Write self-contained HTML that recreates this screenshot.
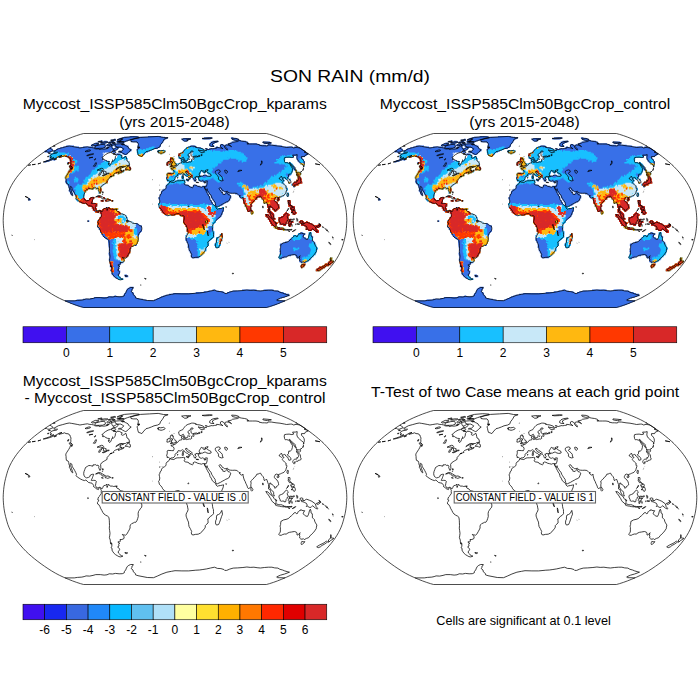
<!DOCTYPE html><html><head><meta charset="utf-8"><title>SON RAIN</title><style>html,body{margin:0;padding:0;background:#fff}svg{display:block}text{font-family:"Liberation Sans",sans-serif;fill:#000}</style></head><body>
<svg width="700" height="700" viewBox="0 0 700 700">
<rect width="700" height="700" fill="#fff"/>
<text x="350" y="81.7" font-size="16.8" text-anchor="middle" textLength="160" lengthAdjust="spacingAndGlyphs">SON RAIN (mm/d)</text>
<text x="174.75" y="109.25" font-size="14" text-anchor="middle" textLength="304" lengthAdjust="spacingAndGlyphs">Myccost_ISSP585Clm50BgcCrop_kparams</text>
<text x="174.5" y="126.75" font-size="14" text-anchor="middle" textLength="110.5" lengthAdjust="spacingAndGlyphs">(yrs 2015-2048)</text>
<text x="525" y="109.25" font-size="14" text-anchor="middle" textLength="290.5" lengthAdjust="spacingAndGlyphs">Myccost_ISSP585Clm50BgcCrop_control</text>
<text x="524.5" y="126.75" font-size="14" text-anchor="middle" textLength="110.5" lengthAdjust="spacingAndGlyphs">(yrs 2015-2048)</text>
<text x="174.75" y="386.25" font-size="14" text-anchor="middle" textLength="304" lengthAdjust="spacingAndGlyphs">Myccost_ISSP585Clm50BgcCrop_kparams</text>
<text x="175" y="403" font-size="14" text-anchor="middle" textLength="301" lengthAdjust="spacingAndGlyphs">- Myccost_ISSP585Clm50BgcCrop_control</text>
<text x="525.1" y="396.5" font-size="14" text-anchor="middle" textLength="308" lengthAdjust="spacingAndGlyphs">T-Test of two Case means at each grid point</text>
<text x="523.5" y="625.3" font-size="12.4" text-anchor="middle" textLength="174.5" lengthAdjust="spacingAndGlyphs">Cells are significant at 0.1 level</text>
<g transform="translate(0 0)">
<g><path fill="#3870E8" d="M82.9 306.9h184.3v1.0h-184.3zM81.7 306.5h186.6v1.0h-186.6zM80.4 306.1h189.1v1.1h-189.1zM79.1 305.7h191.7v1.1h-191.7zM77.7 305.2h194.5v1.2h-194.5zM76.3 304.7h197.4v1.2h-197.4zM74.8 304.2h200.4v1.2h-200.4zM73.3 303.6h203.5v1.3h-203.5zM71.7 303.0h206.7v1.3h-206.7zM70.0 302.3h209.9v1.4h-209.9zM68.4 301.6h213.2v1.4h-213.2zM66.7 300.9h216.6v1.4h-216.6zM65.0 300.2h220.0v1.4h-220.0zM76.5 299.5h70.0v1.5h-70.0zM153.9 299.5h123.5v1.5h-123.5zM82.9 298.7h60.1v1.5h-60.1zM156.0 298.7h122.2v1.5h-122.2zM90.3 297.9h49.0v1.5h-49.0zM157.3 297.9h122.3v1.5h-122.3zM94.0 297.1h42.3v1.5h-42.3zM159.5 297.1h122.4v1.5h-122.4zM107.7 296.3h28.2v1.5h-28.2zM160.9 296.3h124.0v1.5h-124.0zM114.3 295.5h2.0v1.5h-2.0zM122.6 295.5h12.7v1.5h-12.7zM163.2 295.5h123.9v1.5h-123.9zM123.6 294.7h11.2v1.5h-11.2zM165.6 294.7h123.7v1.5h-123.7zM123.9 293.8h9.6v1.5h-9.6zM168.9 293.8h120.1v1.5h-120.1zM124.2 293.0h9.7v1.5h-9.7zM173.1 293.0h112.8v1.5h-112.8zM125.4 292.1h8.1v1.6h-8.1zM195.7 292.1h29.0v1.6h-29.0zM227.0 292.1h56.7v1.6h-56.7zM125.7 291.3h6.4v1.6h-6.4zM203.8 291.3h19.6v1.6h-19.6zM229.3 291.3h51.2v1.6h-51.2zM126.1 290.4h5.6v1.6h-5.6zM208.5 290.4h10.1v1.6h-10.1zM232.5 290.4h46.4v1.6h-46.4zM126.5 289.5h5.7v1.6h-5.7zM212.5 289.5h3.0v1.6h-3.0zM242.0 289.5h14.6v1.6h-14.6zM263.5 289.5h10.2v1.6h-10.2zM126.9 288.6h5.7v1.6h-5.7zM128.2 287.7h4.9v1.6h-4.9zM129.6 286.8h4.0v1.6h-4.0zM118.0 278.4h5.3v1.7h-5.3zM116.5 277.4h4.3v1.7h-4.3zM115.1 276.5h5.4v1.7h-5.4zM113.6 275.5h5.4v1.7h-5.4zM124.9 275.5h3.4v1.7h-3.4zM113.2 274.5h5.4v1.7h-5.4zM124.5 274.5h2.4v1.7h-2.4zM111.8 273.6h7.5v1.7h-7.5zM111.3 272.6h8.6v1.7h-8.6zM112.0 271.6h7.6v1.7h-7.6zM111.6 270.6h8.7v1.7h-8.7zM110.2 269.6h8.8v1.7h-8.8zM315.8 269.6h4.5v1.7h-4.5zM110.9 268.6h7.8v1.7h-7.8zM316.7 268.6h4.6v1.7h-4.6zM111.6 267.6h7.8v1.7h-7.8zM318.5 267.6h4.6v1.7h-4.6zM111.2 266.6h7.8v1.7h-7.8zM301.0 266.6h1.4v1.7h-1.4zM319.3 266.6h5.7v1.7h-5.7zM109.8 265.6h10.1v1.7h-10.1zM300.6 265.6h3.6v1.7h-3.6zM322.3 265.6h3.6v1.7h-3.6zM110.6 264.6h7.9v1.7h-7.9zM301.2 264.6h3.6v1.7h-3.6zM324.1 264.6h4.7v1.7h-4.7zM110.2 263.6h10.2v1.7h-10.2zM301.9 263.6h3.6v1.7h-3.6zM324.9 263.6h5.8v1.7h-5.8zM109.9 262.6h11.3v1.7h-11.3zM327.8 262.6h3.6v1.7h-3.6zM109.6 261.6h13.6v1.7h-13.6zM300.9 261.6h1.4v1.7h-1.4zM303.1 261.6h2.5v1.7h-2.5zM328.5 261.6h4.7v1.7h-4.7zM109.3 260.6h14.7v1.7h-14.7zM299.2 260.6h8.1v1.7h-8.1zM329.2 260.6h4.7v1.7h-4.7zM109.1 259.6h15.9v1.7h-15.9zM299.7 259.6h9.2v1.7h-9.2zM329.8 259.6h2.5v1.7h-2.5zM108.8 258.6h16.0v1.7h-16.0zM299.1 258.6h11.5v1.7h-11.5zM329.4 258.6h2.5v1.7h-2.5zM109.7 257.6h13.8v1.7h-13.8zM279.4 257.6h2.5v1.7h-2.5zM298.5 257.6h12.7v1.7h-12.7zM330.0 257.6h2.5v1.7h-2.5zM109.4 256.6h17.2v1.7h-17.2zM191.8 256.6h7.1v1.7h-7.1zM278.6 256.6h5.9v1.7h-5.9zM296.7 256.6h15.0v1.7h-15.0zM109.2 255.5h18.4v1.7h-18.4zM190.7 255.5h9.4v1.7h-9.4zM279.0 255.5h8.2v1.7h-8.2zM296.0 255.5h17.3v1.7h-17.3zM108.9 254.5h19.6v1.7h-19.6zM190.8 254.5h10.5v1.7h-10.5zM279.4 254.5h11.7v1.7h-11.7zM295.3 254.5h18.5v1.7h-18.5zM108.7 253.5h19.7v1.7h-19.7zM190.8 253.5h11.7v1.7h-11.7zM279.7 253.5h35.6v1.7h-35.6zM108.5 252.5h20.9v1.7h-20.9zM190.9 252.5h12.9v1.7h-12.9zM280.1 252.5h35.8v1.7h-35.8zM109.5 251.5h20.9v1.7h-20.9zM189.8 251.5h15.2v1.7h-15.2zM280.4 251.5h35.9v1.7h-35.9zM109.3 250.5h21.0v1.7h-21.0zM189.8 250.5h15.3v1.7h-15.3zM279.5 250.5h37.1v1.7h-37.1zM109.1 249.5h21.1v1.7h-21.1zM188.7 249.5h17.6v1.7h-17.6zM279.8 249.5h37.2v1.7h-37.2zM109.0 248.5h21.1v1.7h-21.1zM188.7 248.5h17.6v1.7h-17.6zM280.1 248.5h37.3v1.7h-37.3zM108.8 247.5h22.3v1.7h-22.3zM188.8 247.5h17.7v1.7h-17.7zM280.3 247.5h37.4v1.7h-37.4zM108.7 246.4h22.4v1.7h-22.4zM187.6 246.4h18.9v1.7h-18.9zM215.5 246.4h3.8v1.7h-3.8zM280.5 246.4h36.3v1.7h-36.3zM108.5 245.4h24.7v1.7h-24.7zM187.6 245.4h20.1v1.7h-20.1zM215.6 245.4h3.8v1.7h-3.8zM280.7 245.4h35.2v1.7h-35.2zM108.4 244.4h28.3v1.7h-28.3zM187.7 244.4h21.3v1.7h-21.3zM214.5 244.4h6.1v1.7h-6.1zM279.8 244.4h36.4v1.7h-36.4zM108.3 243.4h28.3v1.7h-28.3zM187.7 243.4h21.3v1.7h-21.3zM214.6 243.4h6.1v1.7h-6.1zM279.9 243.4h35.3v1.7h-35.3zM108.2 242.4h29.5v1.7h-29.5zM187.7 242.4h21.4v1.7h-21.4zM215.8 242.4h5.0v1.7h-5.0zM282.5 242.4h33.0v1.7h-33.0zM108.1 241.4h29.6v1.7h-29.6zM186.6 241.4h21.4v1.7h-21.4zM215.9 241.4h5.0v1.7h-5.0zM285.0 241.4h29.6v1.7h-29.6zM108.0 240.4h30.8v1.7h-30.8zM186.6 240.4h22.6v1.7h-22.6zM215.9 240.4h6.2v1.7h-6.2zM288.7 240.4h24.9v1.7h-24.9zM107.9 239.4h30.9v1.7h-30.9zM185.4 239.4h25.0v1.7h-25.0zM216.0 239.4h6.2v1.7h-6.2zM288.8 239.4h23.8v1.7h-23.8zM106.6 238.4h32.1v1.7h-32.1zM185.4 238.4h26.2v1.7h-26.2zM216.0 238.4h6.2v1.7h-6.2zM290.2 238.4h22.7v1.7h-22.7zM105.3 237.3h33.3v1.7h-33.3zM185.5 237.3h27.4v1.7h-27.4zM216.1 237.3h6.2v1.7h-6.2zM291.5 237.3h14.4v1.7h-14.4zM308.0 237.3h5.0v1.7h-5.0zM104.0 236.3h34.5v1.7h-34.5zM185.5 236.3h28.6v1.7h-28.6zM218.5 236.3h3.8v1.7h-3.8zM292.9 236.3h10.9v1.7h-10.9zM308.2 236.3h5.0v1.7h-5.0zM102.8 235.3h35.8v1.7h-35.8zM185.5 235.3h28.7v1.7h-28.7zM219.8 235.3h2.7v1.7h-2.7zM293.0 235.3h10.9v1.7h-10.9zM308.4 235.3h3.8v1.7h-3.8zM102.7 234.3h35.8v1.7h-35.8zM186.7 234.3h27.5v1.7h-27.5zM219.8 234.3h2.7v1.7h-2.7zM297.9 234.3h6.2v1.7h-6.2zM308.6 234.3h2.7v1.7h-2.7zM101.4 233.3h38.2v1.7h-38.2zM186.7 233.3h27.5v1.7h-27.5zM221.0 233.3h1.5v1.7h-1.5zM298.0 233.3h7.4v1.7h-7.4zM308.7 233.3h2.7v1.7h-2.7zM101.3 232.3h38.2v1.7h-38.2zM187.9 232.3h26.4v1.7h-26.4zM300.5 232.3h2.7v1.7h-2.7zM308.8 232.3h2.7v1.7h-2.7zM100.1 231.3h40.6v1.7h-40.6zM187.9 231.3h26.4v1.7h-26.4zM316.1 231.3h2.7v1.7h-2.7zM100.0 230.3h41.9v1.7h-41.9zM186.7 230.3h26.4v1.7h-26.4zM315.0 230.3h3.9v1.7h-3.9zM100.0 229.3h41.9v1.7h-41.9zM186.7 229.3h26.4v1.7h-26.4zM283.0 229.3h1.5v1.7h-1.5zM308.0 229.3h3.9v1.7h-3.9zM313.9 229.3h3.9v1.7h-3.9zM98.7 228.2h43.1v1.7h-43.1zM186.7 228.2h26.5v1.7h-26.5zM277.1 228.2h7.4v1.7h-7.4zM305.7 228.2h11.0v1.7h-11.0zM98.7 227.2h43.1v1.7h-43.1zM186.8 227.2h26.5v1.7h-26.5zM274.8 227.2h5.1v1.7h-5.1zM282.0 227.2h1.5v1.7h-1.5zM307.0 227.2h9.8v1.7h-9.8zM97.5 226.2h44.4v1.7h-44.4zM186.8 226.2h26.5v1.7h-26.5zM273.7 226.2h3.9v1.7h-3.9zM305.8 226.2h9.8v1.7h-9.8zM316.5 226.2h2.7v1.7h-2.7zM97.4 225.2h44.4v1.7h-44.4zM185.6 225.2h27.7v1.7h-27.7zM273.7 225.2h2.7v1.7h-2.7zM289.2 225.2h1.5v1.7h-1.5zM304.7 225.2h15.8v1.7h-15.8zM97.4 224.2h42.0v1.7h-42.0zM185.6 224.2h27.7v1.7h-27.7zM271.4 224.2h5.1v1.7h-5.1zM283.3 224.2h2.7v1.7h-2.7zM288.1 224.2h2.7v1.7h-2.7zM301.2 224.2h12.2v1.7h-12.2zM317.9 224.2h2.7v1.7h-2.7zM97.4 223.2h40.8v1.7h-40.8zM184.4 223.2h28.9v1.7h-28.9zM271.4 223.2h5.1v1.7h-5.1zM279.8 223.2h6.3v1.7h-6.3zM288.1 223.2h3.9v1.7h-3.9zM301.2 223.2h11.0v1.7h-11.0zM97.3 222.2h36.1v1.7h-36.1zM183.2 222.2h31.3v1.7h-31.3zM270.3 222.2h7.5v1.7h-7.5zM279.8 222.2h7.5v1.7h-7.5zM288.1 222.2h3.9v1.7h-3.9zM300.1 222.2h9.8v1.7h-9.8zM97.3 221.2h34.9v1.7h-34.9zM183.2 221.2h32.5v1.7h-32.5zM270.3 221.2h5.1v1.7h-5.1zM278.6 221.2h8.6v1.7h-8.6zM288.2 221.2h5.1v1.7h-5.1zM298.9 221.2h5.1v1.7h-5.1zM306.1 221.2h1.5v1.7h-1.5zM87.8 220.2h1.5v1.7h-1.5zM97.3 220.2h32.5v1.7h-32.5zM183.2 220.2h32.5v1.7h-32.5zM269.1 220.2h5.1v1.7h-5.1zM278.6 220.2h8.7v1.7h-8.7zM288.2 220.2h1.5v1.7h-1.5zM300.1 220.2h2.7v1.7h-2.7zM98.5 219.1h28.9v1.7h-28.9zM183.2 219.1h33.7v1.7h-33.7zM269.1 219.1h5.1v1.7h-5.1zM278.6 219.1h9.8v1.7h-9.8zM289.4 219.1h1.5v1.7h-1.5zM99.7 218.1h27.7v1.7h-27.7zM183.2 218.1h34.9v1.7h-34.9zM267.9 218.1h7.5v1.7h-7.5zM278.6 218.1h9.8v1.7h-9.8zM99.7 217.1h27.7v1.7h-27.7zM183.2 217.1h36.1v1.7h-36.1zM267.9 217.1h6.3v1.7h-6.3zM278.6 217.1h9.8v1.7h-9.8zM100.9 216.1h25.3v1.7h-25.3zM183.2 216.1h37.3v1.7h-37.3zM266.6 216.1h7.5v1.7h-7.5zM281.0 216.1h7.5v1.7h-7.5zM101.0 215.1h25.3v1.7h-25.3zM180.8 215.1h40.8v1.7h-40.8zM265.4 215.1h3.9v1.7h-3.9zM270.2 215.1h3.9v1.7h-3.9zM283.3 215.1h5.1v1.7h-5.1zM101.0 214.1h24.1v1.7h-24.1zM165.3 214.1h9.8v1.7h-9.8zM179.6 214.1h42.0v1.7h-42.0zM265.4 214.1h3.9v1.7h-3.9zM270.2 214.1h3.9v1.7h-3.9zM283.3 214.1h6.3v1.7h-6.3zM101.0 213.1h21.7v1.7h-21.7zM164.1 213.1h58.6v1.7h-58.6zM251.1 213.1h1.5v1.7h-1.5zM270.1 213.1h3.9v1.7h-3.9zM284.4 213.1h3.9v1.7h-3.9zM292.7 213.1h2.7v1.7h-2.7zM99.9 212.1h20.5v1.7h-20.5zM162.9 212.1h59.8v1.7h-59.8zM251.0 212.1h2.7v1.7h-2.7zM268.9 212.1h3.9v1.7h-3.9zM285.5 212.1h1.5v1.7h-1.5zM292.7 212.1h3.9v1.7h-3.9zM95.2 211.0h3.9v1.7h-3.9zM99.9 211.0h19.3v1.7h-19.3zM161.8 211.0h61.0v1.7h-61.0zM251.0 211.0h2.7v1.7h-2.7zM267.6 211.0h3.9v1.7h-3.9zM291.4 211.0h3.9v1.7h-3.9zM94.0 210.0h7.4v1.7h-7.4zM102.3 210.0h14.6v1.7h-14.6zM161.8 210.0h62.1v1.7h-62.1zM247.4 210.0h2.7v1.7h-2.7zM250.9 210.0h1.5v1.7h-1.5zM267.6 210.0h2.7v1.7h-2.7zM274.7 210.0h1.5v1.7h-1.5zM291.3 210.0h3.9v1.7h-3.9zM92.9 209.0h3.9v1.7h-3.9zM102.4 209.0h14.6v1.7h-14.6zM160.6 209.0h63.2v1.7h-63.2zM247.3 209.0h3.9v1.7h-3.9zM267.5 209.0h2.7v1.7h-2.7zM273.4 209.0h3.9v1.7h-3.9zM291.2 209.0h3.9v1.7h-3.9zM93.0 208.0h3.9v1.7h-3.9zM103.6 208.0h9.8v1.7h-9.8zM114.3 208.0h3.9v1.7h-3.9zM160.6 208.0h63.2v1.7h-63.2zM246.1 208.0h5.0v1.7h-5.0zM268.6 208.0h1.5v1.7h-1.5zM272.2 208.0h6.2v1.7h-6.2zM290.0 208.0h5.0v1.7h-5.0zM91.9 207.0h3.9v1.7h-3.9zM106.1 207.0h1.5v1.7h-1.5zM108.5 207.0h1.5v1.7h-1.5zM159.4 207.0h57.2v1.7h-57.2zM222.3 207.0h1.5v1.7h-1.5zM246.0 207.0h5.0v1.7h-5.0zM268.5 207.0h1.5v1.7h-1.5zM272.1 207.0h7.4v1.7h-7.4zM289.9 207.0h5.0v1.7h-5.0zM91.9 206.0h3.9v1.7h-3.9zM158.3 206.0h59.5v1.7h-59.5zM245.9 206.0h5.0v1.7h-5.0zM267.2 206.0h12.1v1.7h-12.1zM290.9 206.0h3.9v1.7h-3.9zM88.5 205.0h8.6v1.7h-8.6zM158.3 205.0h61.8v1.7h-61.8zM244.7 205.0h7.4v1.7h-7.4zM267.1 205.0h12.1v1.7h-12.1zM288.4 205.0h3.8v1.7h-3.8zM87.4 204.0h9.8v1.7h-9.8zM158.3 204.0h55.8v1.7h-55.8zM215.0 204.0h7.4v1.7h-7.4zM244.6 204.0h7.4v1.7h-7.4zM267.0 204.0h12.1v1.7h-12.1zM288.3 204.0h2.7v1.7h-2.7zM86.3 203.0h10.9v1.7h-10.9zM158.3 203.0h54.6v1.7h-54.6zM215.0 203.0h8.6v1.7h-8.6zM244.5 203.0h7.4v1.7h-7.4zM266.9 203.0h10.9v1.7h-10.9zM288.2 203.0h2.7v1.7h-2.7zM81.7 201.9h10.9v1.7h-10.9zM159.5 201.9h53.3v1.7h-53.3zM214.9 201.9h10.9v1.7h-10.9zM243.2 201.9h9.7v1.7h-9.7zM263.3 201.9h14.4v1.7h-14.4zM288.0 201.9h2.7v1.7h-2.7zM79.5 200.9h13.2v1.7h-13.2zM159.5 200.9h52.1v1.7h-52.1zM213.7 200.9h14.4v1.7h-14.4zM243.1 200.9h10.9v1.7h-10.9zM263.1 200.9h13.2v1.7h-13.2zM287.8 200.9h2.7v1.7h-2.7zM77.3 199.9h15.6v1.7h-15.6zM100.8 199.9h2.7v1.7h-2.7zM105.5 199.9h1.5v1.7h-1.5zM111.4 199.9h1.5v1.7h-1.5zM159.6 199.9h52.0v1.7h-52.0zM213.6 199.9h15.6v1.7h-15.6zM243.0 199.9h12.1v1.7h-12.1zM263.0 199.9h12.1v1.7h-12.1zM277.1 199.9h1.5v1.7h-1.5zM287.7 199.9h2.7v1.7h-2.7zM28.2 198.9h2.6v1.7h-2.6zM76.3 198.9h9.7v1.7h-9.7zM89.2 198.9h3.8v1.7h-3.8zM106.8 198.9h3.8v1.7h-3.8zM159.6 198.9h50.8v1.7h-50.8zM212.4 198.9h17.9v1.7h-17.9zM242.9 198.9h12.0v1.7h-12.0zM262.9 198.9h12.0v1.7h-12.0zM276.9 198.9h2.6v1.7h-2.6zM28.4 197.9h1.5v1.7h-1.5zM75.3 197.9h9.7v1.7h-9.7zM89.3 197.9h3.8v1.7h-3.8zM106.9 197.9h1.5v1.7h-1.5zM158.4 197.9h51.8v1.7h-51.8zM212.3 197.9h17.9v1.7h-17.9zM242.8 197.9h14.4v1.7h-14.4zM261.5 197.9h14.4v1.7h-14.4zM276.8 197.9h2.6v1.7h-2.6zM75.4 196.9h8.5v1.7h-8.5zM90.6 196.9h3.8v1.7h-3.8zM103.5 196.9h1.5v1.7h-1.5zM158.5 196.9h51.8v1.7h-51.8zM211.1 196.9h20.2v1.7h-20.2zM240.3 196.9h16.7v1.7h-16.7zM261.4 196.9h14.3v1.7h-14.3zM277.8 196.9h1.5v1.7h-1.5zM75.6 195.9h8.5v1.7h-8.5zM97.8 195.9h2.6v1.7h-2.6zM159.7 195.9h50.5v1.7h-50.5zM211.0 195.9h20.2v1.7h-20.2zM239.1 195.9h42.3v1.7h-42.3zM75.8 194.9h8.5v1.7h-8.5zM159.7 194.9h49.3v1.7h-49.3zM211.0 194.9h20.1v1.7h-20.1zM239.0 194.9h44.6v1.7h-44.6zM286.8 194.9h1.5v1.7h-1.5zM71.3 193.9h1.5v1.7h-1.5zM74.8 193.9h9.6v1.7h-9.6zM159.7 193.9h49.2v1.7h-49.2zM209.8 193.9h20.1v1.7h-20.1zM237.7 193.9h46.8v1.7h-46.8zM286.5 193.9h2.6v1.7h-2.6zM70.3 192.8h2.6v1.7h-2.6zM73.8 192.8h10.8v1.7h-10.8zM160.9 192.8h46.7v1.7h-46.7zM208.5 192.8h14.2v1.7h-14.2zM224.8 192.8h3.8v1.7h-3.8zM235.2 192.8h50.2v1.7h-50.2zM286.3 192.8h2.6v1.7h-2.6zM70.6 191.8h1.5v1.7h-1.5zM74.0 191.8h10.7v1.7h-10.7zM98.4 191.8h2.6v1.7h-2.6zM160.9 191.8h46.7v1.7h-46.7zM208.5 191.8h14.2v1.7h-14.2zM225.8 191.8h1.5v1.7h-1.5zM228.2 191.8h58.2v1.7h-58.2zM69.6 190.8h2.6v1.7h-2.6zM73.1 190.8h13.0v1.7h-13.0zM98.5 190.8h2.6v1.7h-2.6zM161.0 190.8h60.4v1.7h-60.4zM224.6 190.8h61.6v1.7h-61.6zM68.7 189.8h2.6v1.7h-2.6zM72.2 189.8h14.1v1.7h-14.1zM98.7 189.8h2.6v1.7h-2.6zM162.2 189.8h44.1v1.7h-44.1zM207.1 189.8h14.1v1.7h-14.1zM222.1 189.8h64.9v1.7h-64.9zM69.0 188.8h18.7v1.7h-18.7zM97.8 188.8h3.8v1.7h-3.8zM163.3 188.8h56.7v1.7h-56.7zM220.9 188.8h67.0v1.7h-67.0zM69.3 187.8h1.4v1.7h-1.4zM71.6 187.8h22.1v1.7h-22.1zM95.7 187.8h1.4v1.7h-1.4zM98.0 187.8h3.7v1.7h-3.7zM165.7 187.8h54.2v1.7h-54.2zM220.7 187.8h66.8v1.7h-66.8zM68.5 186.8h32.3v1.7h-32.3zM165.7 186.8h120.4v1.7h-120.4zM68.8 185.8h32.2v1.7h-32.2zM165.7 185.8h24.2v1.7h-24.2zM193.1 185.8h7.1v1.7h-7.1zM202.2 185.8h84.7v1.7h-84.7zM293.4 185.8h1.4v1.7h-1.4zM68.0 184.8h34.4v1.7h-34.4zM165.8 184.8h23.0v1.7h-23.0zM193.0 184.8h3.7v1.7h-3.7zM205.5 184.8h79.8v1.7h-79.8zM293.0 184.8h2.6v1.7h-2.6zM67.3 183.7h36.5v1.7h-36.5zM166.9 183.7h18.4v1.7h-18.4zM206.6 183.7h78.4v1.7h-78.4zM291.5 183.7h7.1v1.7h-7.1zM66.5 182.7h38.7v1.7h-38.7zM168.1 182.7h16.1v1.7h-16.1zM206.4 182.7h77.0v1.7h-77.0zM293.3 182.7h5.9v1.7h-5.9zM65.8 181.7h41.9v1.7h-41.9zM169.2 181.7h16.0v1.7h-16.0zM206.3 181.7h76.7v1.7h-76.7zM288.4 181.7h1.4v1.7h-1.4zM294.0 181.7h8.2v1.7h-8.2zM65.1 180.7h42.8v1.7h-42.8zM169.3 180.7h1.4v1.7h-1.4zM174.8 180.7h10.4v1.7h-10.4zM202.8 180.7h2.5v1.7h-2.5zM206.2 180.7h77.6v1.7h-77.6zM296.9 180.7h4.8v1.7h-4.8zM65.6 179.7h41.6v1.7h-41.6zM167.0 179.7h7.0v1.7h-7.0zM177.1 179.7h8.1v1.7h-8.1zM187.1 179.7h1.4v1.7h-1.4zM193.8 179.7h2.5v1.7h-2.5zM199.4 179.7h85.0v1.7h-85.0zM296.4 179.7h4.8v1.7h-4.8zM66.0 178.7h42.5v1.7h-42.5zM167.1 178.7h8.1v1.7h-8.1zM186.0 178.7h1.4v1.7h-1.4zM193.7 178.7h2.5v1.7h-2.5zM198.2 178.7h82.5v1.7h-82.5zM281.4 178.7h1.4v1.7h-1.4zM289.2 178.7h1.4v1.7h-1.4zM298.1 178.7h3.6v1.7h-3.6zM65.4 177.7h43.4v1.7h-43.4zM166.0 177.7h9.1v1.7h-9.1zM182.6 177.7h1.4v1.7h-1.4zM189.2 177.7h1.4v1.7h-1.4zM192.5 177.7h3.6v1.7h-3.6zM198.1 177.7h82.1v1.7h-82.1zM282.1 177.7h1.4v1.7h-1.4zM285.4 177.7h2.5v1.7h-2.5zM297.6 177.7h3.6v1.7h-3.6zM64.8 176.7h45.4v1.7h-45.4zM166.0 176.7h9.1v1.7h-9.1zM181.5 176.7h2.5v1.7h-2.5zM189.2 176.7h1.4v1.7h-1.4zM192.5 176.7h3.6v1.7h-3.6zM198.0 176.7h82.8v1.7h-82.8zM281.6 176.7h6.9v1.7h-6.9zM298.1 176.7h2.5v1.7h-2.5zM65.3 175.7h46.3v1.7h-46.3zM167.2 175.7h9.1v1.7h-9.1zM181.4 175.7h1.4v1.7h-1.4zM188.0 175.7h101.0v1.7h-101.0zM297.5 175.7h2.5v1.7h-2.5zM65.9 174.7h48.2v1.7h-48.2zM167.2 174.7h11.2v1.7h-11.2zM185.7 174.7h3.6v1.7h-3.6zM191.2 174.7h9.0v1.7h-9.0zM203.2 174.7h3.6v1.7h-3.6zM210.8 174.7h78.8v1.7h-78.8zM296.9 174.7h1.4v1.7h-1.4zM66.5 173.7h48.0v1.7h-48.0zM166.2 173.7h12.2v1.7h-12.2zM184.6 173.7h3.6v1.7h-3.6zM190.0 173.7h10.1v1.7h-10.1zM210.6 173.7h80.5v1.7h-80.5zM296.2 173.7h4.6v1.7h-4.6zM67.0 172.7h47.7v1.7h-47.7zM117.7 172.7h1.4v1.7h-1.4zM167.3 172.7h14.3v1.7h-14.3zM183.5 172.7h3.5v1.7h-3.5zM187.8 172.7h12.2v1.7h-12.2zM208.3 172.7h83.3v1.7h-83.3zM296.7 172.7h4.6v1.7h-4.6zM67.6 171.7h49.6v1.7h-49.6zM118.0 171.7h3.5v1.7h-3.5zM173.8 171.7h12.1v1.7h-12.1zM187.7 171.7h13.2v1.7h-13.2zM203.8 171.7h1.4v1.7h-1.4zM207.0 171.7h85.0v1.7h-85.0zM296.0 171.7h3.5v1.7h-3.5zM68.2 170.7h55.7v1.7h-55.7zM173.8 170.7h27.0v1.7h-27.0zM202.6 170.7h3.5v1.7h-3.5zM206.8 170.7h85.6v1.7h-85.6zM295.3 170.7h1.4v1.7h-1.4zM68.8 169.7h52.2v1.7h-52.2zM122.9 169.7h1.4v1.7h-1.4zM172.7 169.7h33.2v1.7h-33.2zM206.7 169.7h86.2v1.7h-86.2zM295.7 169.7h1.4v1.7h-1.4zM69.5 168.7h50.9v1.7h-50.9zM125.3 168.7h5.6v1.7h-5.6zM171.7 168.7h121.5v1.7h-121.5zM293.9 168.7h1.4v1.7h-1.4zM70.1 167.7h51.6v1.7h-51.6zM125.6 167.7h5.5v1.7h-5.5zM170.7 167.7h121.8v1.7h-121.8zM293.2 167.7h1.3v1.7h-1.3zM69.7 166.7h51.3v1.7h-51.3zM125.9 166.7h4.5v1.7h-4.5zM172.8 166.7h122.1v1.7h-122.1zM69.4 165.8h56.2v1.7h-56.2zM127.3 165.8h2.4v1.7h-2.4zM169.7 165.8h3.4v1.7h-3.4zM174.8 165.8h119.2v1.7h-119.2zM70.1 164.8h59.9v1.7h-59.9zM170.7 164.8h122.6v1.7h-122.6zM303.3 164.8h1.3v1.7h-1.3zM70.8 163.8h38.0v1.7h-38.0zM109.6 163.8h19.7v1.7h-19.7zM166.7 163.8h1.3v1.7h-1.3zM170.8 163.8h6.4v1.7h-6.4zM177.9 163.8h114.6v1.7h-114.6zM302.4 163.8h2.3v1.7h-2.3zM67.5 162.9h1.3v1.7h-1.3zM70.5 162.9h38.8v1.7h-38.8zM112.1 162.9h17.5v1.7h-17.5zM166.7 162.9h1.3v1.7h-1.3zM170.8 162.9h6.4v1.7h-6.4zM177.9 162.9h113.7v1.7h-113.7zM300.4 162.9h4.4v1.7h-4.4zM67.3 161.9h2.3v1.7h-2.3zM70.3 161.9h38.5v1.7h-38.5zM112.5 161.9h17.4v1.7h-17.4zM166.8 161.9h4.3v1.7h-4.3zM171.8 161.9h3.3v1.7h-3.3zM180.9 161.9h106.9v1.7h-106.9zM289.4 161.9h1.3v1.7h-1.3zM299.5 161.9h5.3v1.7h-5.3zM44.2 160.9h2.3v1.7h-2.3zM70.1 160.9h35.2v1.7h-35.2zM106.0 160.9h3.3v1.7h-3.3zM112.0 160.9h17.3v1.7h-17.3zM167.9 160.9h1.3v1.7h-1.3zM169.9 160.9h5.3v1.7h-5.3zM181.8 160.9h1.3v1.7h-1.3zM183.8 160.9h1.3v1.7h-1.3zM188.8 160.9h96.1v1.7h-96.1zM298.5 160.9h6.3v1.7h-6.3zM46.2 160.0h3.3v1.7h-3.3zM69.9 160.0h33.0v1.7h-33.0zM103.6 160.0h1.3v1.7h-1.3zM105.6 160.0h1.3v1.7h-1.3zM113.5 160.0h14.2v1.7h-14.2zM169.9 160.0h4.3v1.7h-4.3zM180.8 160.0h6.2v1.7h-6.2zM191.7 160.0h1.3v1.7h-1.3zM193.7 160.0h91.3v1.7h-91.3zM297.6 160.0h6.2v1.7h-6.2zM49.2 159.0h3.2v1.6h-3.2zM53.1 159.0h2.3v1.6h-2.3zM69.8 159.0h32.7v1.6h-32.7zM114.0 159.0h1.3v1.6h-1.3zM116.0 159.0h11.1v1.6h-11.1zM169.9 159.0h4.2v1.6h-4.2zM180.7 159.0h3.2v1.6h-3.2zM184.7 159.0h3.2v1.6h-3.2zM194.5 159.0h90.6v1.6h-90.6zM297.6 159.0h6.2v1.6h-6.2zM51.2 158.1h3.2v1.6h-3.2zM55.1 158.1h1.3v1.6h-1.3zM69.7 158.1h31.5v1.6h-31.5zM101.8 158.1h1.3v1.6h-1.3zM115.5 158.1h12.0v1.6h-12.0zM170.0 158.1h4.2v1.6h-4.2zM181.7 158.1h1.3v1.6h-1.3zM183.6 158.1h5.2v1.6h-5.2zM194.3 158.1h90.8v1.6h-90.8zM296.5 158.1h6.1v1.6h-6.1zM49.4 157.2h7.1v1.6h-7.1zM68.7 157.2h33.1v1.6h-33.1zM116.9 157.2h10.0v1.6h-10.0zM170.0 157.2h3.2v1.6h-3.2zM178.7 157.2h4.2v1.6h-4.2zM183.5 157.2h5.1v1.6h-5.1zM194.2 157.2h91.0v1.6h-91.0zM296.5 157.2h5.1v1.6h-5.1zM50.4 156.2h8.0v1.6h-8.0zM59.1 156.2h2.2v1.6h-2.2zM67.7 156.2h34.8v1.6h-34.8zM117.4 156.2h4.1v1.6h-4.1zM124.1 156.2h2.2v1.6h-2.2zM178.7 156.2h10.8v1.6h-10.8zM194.0 156.2h99.8v1.6h-99.8zM296.4 156.2h6.0v1.6h-6.0zM49.6 155.3h53.4v1.6h-53.4zM117.9 155.3h4.1v1.6h-4.1zM139.8 155.3h3.1v1.6h-3.1zM178.6 155.3h10.7v1.6h-10.7zM193.8 155.3h99.9v1.6h-99.9zM296.3 155.3h8.8v1.6h-8.8zM49.8 154.4h52.9v1.6h-52.9zM117.5 154.4h4.1v1.6h-4.1zM138.2 154.4h5.0v1.6h-5.0zM178.6 154.4h9.7v1.6h-9.7zM192.7 154.4h114.0v1.6h-114.0zM51.0 153.5h52.5v1.6h-52.5zM116.2 153.5h4.0v1.6h-4.0zM123.6 153.5h3.1v1.6h-3.1zM137.6 153.5h6.8v1.6h-6.8zM178.6 153.5h10.5v1.6h-10.5zM192.5 153.5h115.8v1.6h-115.8zM53.1 152.6h49.2v1.6h-49.2zM122.3 152.6h5.8v1.6h-5.8zM137.0 152.6h7.7v1.6h-7.7zM160.1 152.6h2.1v1.6h-2.1zM180.4 152.6h8.6v1.6h-8.6zM193.3 152.6h113.8v1.6h-113.8zM47.8 151.7h1.2v1.6h-1.2zM55.1 151.7h47.8v1.6h-47.8zM103.6 151.7h1.2v1.6h-1.2zM112.7 151.7h1.2v1.6h-1.2zM114.5 151.7h1.2v1.6h-1.2zM120.0 151.7h8.5v1.6h-8.5zM137.4 151.7h8.5v1.6h-8.5zM158.4 151.7h5.8v1.6h-5.8zM182.2 151.7h8.5v1.6h-8.5zM193.1 151.7h112.7v1.6h-112.7zM44.5 150.8h6.6v1.6h-6.6zM53.6 150.8h57.3v1.6h-57.3zM112.4 150.8h3.0v1.6h-3.0zM118.7 150.8h11.2v1.6h-11.2zM136.8 150.8h11.2v1.6h-11.2zM157.7 150.8h7.5v1.6h-7.5zM183.0 150.8h8.4v1.6h-8.4zM192.9 150.8h7.5v1.6h-7.5zM203.8 150.8h101.6v1.6h-101.6zM45.8 149.9h7.5v1.6h-7.5zM53.9 149.9h57.6v1.6h-57.6zM112.1 149.9h3.0v1.6h-3.0zM122.0 149.9h9.3v1.6h-9.3zM137.2 149.9h12.8v1.6h-12.8zM157.8 149.9h7.5v1.6h-7.5zM183.8 149.9h15.5v1.6h-15.5zM199.9 149.9h104.2v1.6h-104.2zM47.1 149.0h5.6v1.6h-5.6zM56.0 149.0h60.6v1.6h-60.6zM122.5 149.0h9.2v1.6h-9.2zM136.7 149.0h15.4v1.6h-15.4zM184.6 149.0h19.8v1.6h-19.8zM205.9 149.0h97.0v1.6h-97.0zM48.5 148.2h3.8v1.6h-3.8zM57.2 148.2h42.4v1.6h-42.4zM101.1 148.2h17.0v1.6h-17.0zM123.1 148.2h7.3v1.6h-7.3zM137.1 148.2h17.0v1.6h-17.0zM185.4 148.2h17.9v1.6h-17.9zM205.6 148.2h2.1v1.6h-2.1zM209.1 148.2h17.0v1.6h-17.0zM226.6 148.2h74.9v1.6h-74.9zM49.8 147.3h1.2v1.6h-1.2zM60.2 147.3h42.8v1.6h-42.8zM106.3 147.3h6.4v1.6h-6.4zM114.9 147.3h3.8v1.6h-3.8zM121.9 147.3h7.2v1.6h-7.2zM138.4 147.3h19.4v1.6h-19.4zM186.1 147.3h15.1v1.6h-15.1zM214.8 147.3h10.7v1.6h-10.7zM226.1 147.3h74.1v1.6h-74.1zM63.2 146.5h15.8v1.5h-15.8zM82.9 146.5h9.7v1.5h-9.7zM94.1 146.5h11.5v1.5h-11.5zM107.9 146.5h4.6v1.5h-4.6zM116.4 146.5h12.3v1.5h-12.3zM137.9 146.5h21.8v1.5h-21.8zM187.7 146.5h8.9v1.5h-8.9zM216.1 146.5h2.0v1.5h-2.0zM220.4 146.5h4.6v1.5h-4.6zM225.5 146.5h67.3v1.5h-67.3zM294.2 146.5h2.9v1.5h-2.9zM66.1 145.6h7.9v1.5h-7.9zM95.0 145.6h10.5v1.5h-10.5zM109.5 145.6h2.8v1.5h-2.8zM114.5 145.6h13.9v1.5h-13.9zM137.5 145.6h23.2v1.5h-23.2zM190.1 145.6h5.4v1.5h-5.4zM210.5 145.6h3.7v1.5h-3.7zM219.9 145.6h62.3v1.5h-62.3zM90.9 144.8h4.5v1.5h-4.5zM95.9 144.8h9.5v1.5h-9.5zM106.0 144.8h3.7v1.5h-3.7zM111.0 144.8h2.0v1.5h-2.0zM114.4 144.8h12.1v1.5h-12.1zM137.9 144.8h23.0v1.5h-23.0zM209.3 144.8h4.5v1.5h-4.5zM220.2 144.8h3.7v1.5h-3.7zM224.4 144.8h5.3v1.5h-5.3zM230.3 144.8h35.6v1.5h-35.6zM267.2 144.8h9.5v1.5h-9.5zM91.9 144.0h6.1v1.5h-6.1zM99.4 144.0h6.1v1.5h-6.1zM106.8 144.0h17.7v1.5h-17.7zM138.3 144.0h22.7v1.5h-22.7zM209.7 144.0h2.8v1.5h-2.8zM220.5 144.0h2.8v1.5h-2.8zM226.3 144.0h1.1v1.5h-1.1zM228.8 144.0h31.0v1.5h-31.0zM267.8 144.0h2.8v1.5h-2.8zM93.7 143.2h5.2v1.5h-5.2zM108.5 143.2h2.8v1.5h-2.8zM111.8 143.2h4.4v1.5h-4.4zM116.7 143.2h7.7v1.5h-7.7zM138.0 143.2h23.2v1.5h-23.2zM209.3 143.2h3.6v1.5h-3.6zM228.1 143.2h29.0v1.5h-29.0zM95.6 142.4h2.7v1.5h-2.7zM100.5 142.4h5.2v1.5h-5.2zM112.6 142.4h1.9v1.5h-1.9zM121.5 142.4h1.9v1.5h-1.9zM137.7 142.4h24.6v1.5h-24.6zM210.4 142.4h4.3v1.5h-4.3zM229.8 142.4h18.9v1.5h-18.9zM263.8 142.4h7.6v1.5h-7.6zM101.5 141.6h6.7v1.5h-6.7zM108.6 141.6h4.3v1.5h-4.3zM114.2 141.6h1.1v1.5h-1.1zM116.6 141.6h7.5v1.5h-7.5zM136.6 141.6h26.6v1.5h-26.6zM210.7 141.6h5.9v1.5h-5.9zM231.5 141.6h16.3v1.5h-16.3zM262.6 141.6h7.5v1.5h-7.5zM98.6 140.8h3.4v1.5h-3.4zM104.1 140.8h2.7v1.5h-2.7zM111.2 140.8h2.7v1.5h-2.7zM116.7 140.8h8.9v1.5h-8.9zM130.8 140.8h32.5v1.5h-32.5zM212.6 140.8h5.8v1.5h-5.8zM235.4 140.8h10.5v1.5h-10.5zM101.3 140.1h1.1v1.5h-1.1zM119.1 140.1h8.8v1.5h-8.8zM130.7 140.1h32.8v1.5h-32.8zM183.4 140.1h4.2v1.5h-4.2zM237.6 140.1h3.4v1.5h-3.4zM110.8 139.4h4.9v1.4h-4.9zM116.9 139.4h13.3v1.4h-13.3zM130.6 139.4h33.9v1.4h-33.9zM182.5 139.4h5.6v1.4h-5.6zM233.6 139.4h5.6v1.4h-5.6zM114.0 138.7h1.8v1.4h-1.8zM117.8 138.7h46.9v1.4h-46.9zM181.6 138.7h8.6v1.4h-8.6zM231.9 138.7h7.1v1.4h-7.1zM119.4 138.0h46.9v1.4h-46.9zM183.0 138.0h7.7v1.4h-7.7zM202.2 138.0h8.4v1.4h-8.4zM231.8 138.0h5.5v1.4h-5.5zM121.7 137.3h46.2v1.4h-46.2zM204.0 137.3h8.3v1.4h-8.3zM230.9 137.3h2.5v1.4h-2.5zM124.0 136.7h15.3v1.3h-15.3zM139.7 136.7h25.4v1.3h-25.4zM129.7 136.1h8.1v1.3h-8.1zM148.0 136.1h13.0v1.3h-13.0z"/><path fill="#18C0FF" d="M118.0 278.4h5.3v1.7h-5.3zM119.6 277.4h1.3v1.7h-1.3zM118.1 276.5h1.3v1.7h-1.3zM116.7 275.5h1.3v1.7h-1.3zM111.6 270.6h2.4v1.7h-2.4zM111.2 269.6h2.4v1.7h-2.4zM315.8 269.6h4.5v1.7h-4.5zM110.9 268.6h2.4v1.7h-2.4zM316.7 268.6h4.6v1.7h-4.6zM111.6 267.6h2.4v1.7h-2.4zM318.5 267.6h4.6v1.7h-4.6zM111.2 266.6h1.4v1.7h-1.4zM301.0 266.6h1.4v1.7h-1.4zM319.3 266.6h5.7v1.7h-5.7zM110.9 265.6h1.4v1.7h-1.4zM300.6 265.6h3.6v1.7h-3.6zM322.3 265.6h3.6v1.7h-3.6zM110.6 264.6h2.5v1.7h-2.5zM301.2 264.6h3.6v1.7h-3.6zM324.1 264.6h4.7v1.7h-4.7zM110.2 263.6h1.4v1.7h-1.4zM301.9 263.6h3.6v1.7h-3.6zM324.9 263.6h5.8v1.7h-5.8zM109.9 262.6h2.5v1.7h-2.5zM327.8 262.6h3.6v1.7h-3.6zM109.6 261.6h3.6v1.7h-3.6zM328.5 261.6h4.7v1.7h-4.7zM120.4 260.6h3.6v1.7h-3.6zM302.5 260.6h4.7v1.7h-4.7zM329.2 260.6h4.7v1.7h-4.7zM120.2 259.6h4.8v1.7h-4.8zM303.1 259.6h5.9v1.7h-5.9zM329.8 259.6h2.5v1.7h-2.5zM115.5 258.6h1.4v1.7h-1.4zM117.8 258.6h7.0v1.7h-7.0zM302.5 258.6h7.0v1.7h-7.0zM329.4 258.6h2.5v1.7h-2.5zM114.2 257.6h9.3v1.7h-9.3zM279.4 257.6h1.4v1.7h-1.4zM301.9 257.6h9.3v1.7h-9.3zM330.0 257.6h2.5v1.7h-2.5zM113.9 256.6h11.6v1.7h-11.6zM278.6 256.6h1.4v1.7h-1.4zM303.5 256.6h1.4v1.7h-1.4zM305.7 256.6h5.9v1.7h-5.9zM114.8 255.5h12.8v1.7h-12.8zM198.6 255.5h1.4v1.7h-1.4zM279.0 255.5h1.4v1.7h-1.4zM309.6 255.5h3.7v1.7h-3.7zM113.5 254.5h15.1v1.7h-15.1zM197.6 254.5h3.7v1.7h-3.7zM279.4 254.5h2.6v1.7h-2.6zM307.8 254.5h6.0v1.7h-6.0zM113.3 253.5h15.1v1.7h-15.1zM197.7 253.5h4.9v1.7h-4.9zM310.5 253.5h4.9v1.7h-4.9zM114.2 252.5h15.2v1.7h-15.2zM197.7 252.5h6.0v1.7h-6.0zM309.8 252.5h6.0v1.7h-6.0zM112.9 251.5h17.5v1.7h-17.5zM197.8 251.5h7.2v1.7h-7.2zM310.2 251.5h6.0v1.7h-6.0zM112.7 250.5h17.6v1.7h-17.6zM197.9 250.5h7.2v1.7h-7.2zM310.6 250.5h6.1v1.7h-6.1zM112.6 249.5h17.6v1.7h-17.6zM196.8 249.5h9.5v1.7h-9.5zM293.6 249.5h1.5v1.7h-1.5zM310.9 249.5h6.1v1.7h-6.1zM113.6 248.5h16.5v1.7h-16.5zM198.0 248.5h8.4v1.7h-8.4zM293.9 248.5h3.8v1.7h-3.8zM311.3 248.5h4.9v1.7h-4.9zM113.4 247.5h17.7v1.7h-17.7zM198.0 247.5h8.4v1.7h-8.4zM293.0 247.5h2.6v1.7h-2.6zM297.7 247.5h1.5v1.7h-1.5zM310.4 247.5h7.3v1.7h-7.3zM113.3 246.4h17.7v1.7h-17.7zM196.9 246.4h9.6v1.7h-9.6zM215.5 246.4h3.8v1.7h-3.8zM309.6 246.4h7.3v1.7h-7.3zM113.2 245.4h20.1v1.7h-20.1zM198.1 245.4h9.6v1.7h-9.6zM215.6 245.4h3.8v1.7h-3.8zM308.7 245.4h7.3v1.7h-7.3zM114.2 244.4h20.1v1.7h-20.1zM197.0 244.4h12.0v1.7h-12.0zM214.5 244.4h6.1v1.7h-6.1zM308.9 244.4h7.3v1.7h-7.3zM113.0 243.4h20.2v1.7h-20.2zM134.0 243.4h2.6v1.7h-2.6zM198.2 243.4h9.6v1.7h-9.6zM214.6 243.4h6.1v1.7h-6.1zM309.1 243.4h6.1v1.7h-6.1zM111.7 242.4h1.5v1.7h-1.5zM114.0 242.4h23.7v1.7h-23.7zM197.1 242.4h12.0v1.7h-12.0zM215.8 242.4h5.0v1.7h-5.0zM311.7 242.4h1.5v1.7h-1.5zM113.9 241.4h23.7v1.7h-23.7zM195.9 241.4h12.0v1.7h-12.0zM215.9 241.4h5.0v1.7h-5.0zM311.9 241.4h1.5v1.7h-1.5zM112.7 240.4h26.1v1.7h-26.1zM198.3 240.4h10.9v1.7h-10.9zM215.9 240.4h6.2v1.7h-6.2zM113.7 239.4h23.8v1.7h-23.8zM196.0 239.4h14.4v1.7h-14.4zM216.0 239.4h6.2v1.7h-6.2zM293.5 239.4h1.5v1.7h-1.5zM108.9 238.4h1.5v1.7h-1.5zM113.6 238.4h1.5v1.7h-1.5zM116.0 238.4h22.7v1.7h-22.7zM191.3 238.4h1.5v1.7h-1.5zM194.9 238.4h16.8v1.7h-16.8zM216.0 238.4h6.2v1.7h-6.2zM292.6 238.4h7.4v1.7h-7.4zM310.2 238.4h2.7v1.7h-2.7zM107.7 237.3h6.2v1.7h-6.2zM114.7 237.3h23.9v1.7h-23.9zM190.2 237.3h1.5v1.7h-1.5zM192.5 237.3h20.3v1.7h-20.3zM216.1 237.3h6.2v1.7h-6.2zM291.5 237.3h9.7v1.7h-9.7zM308.0 237.3h5.0v1.7h-5.0zM107.6 236.3h29.8v1.7h-29.8zM185.5 236.3h28.6v1.7h-28.6zM218.5 236.3h3.8v1.7h-3.8zM292.9 236.3h8.6v1.7h-8.6zM308.2 236.3h1.5v1.7h-1.5zM106.3 235.3h31.0v1.7h-31.0zM185.5 235.3h28.7v1.7h-28.7zM219.8 235.3h2.7v1.7h-2.7zM293.0 235.3h8.6v1.7h-8.6zM308.4 235.3h2.7v1.7h-2.7zM105.0 234.3h32.2v1.7h-32.2zM186.7 234.3h22.8v1.7h-22.8zM210.3 234.3h3.8v1.7h-3.8zM219.8 234.3h2.7v1.7h-2.7zM297.9 234.3h1.5v1.7h-1.5zM308.6 234.3h2.7v1.7h-2.7zM105.0 233.3h32.3v1.7h-32.3zM186.7 233.3h22.8v1.7h-22.8zM211.6 233.3h2.7v1.7h-2.7zM221.0 233.3h1.5v1.7h-1.5zM298.0 233.3h1.5v1.7h-1.5zM308.7 233.3h2.7v1.7h-2.7zM101.3 232.3h1.5v1.7h-1.5zM103.7 232.3h32.3v1.7h-32.3zM187.9 232.3h19.3v1.7h-19.3zM210.4 232.3h3.9v1.7h-3.9zM308.8 232.3h2.7v1.7h-2.7zM102.5 231.3h34.7v1.7h-34.7zM187.9 231.3h18.1v1.7h-18.1zM212.8 231.3h1.5v1.7h-1.5zM316.1 231.3h2.7v1.7h-2.7zM100.0 230.3h37.1v1.7h-37.1zM186.7 230.3h20.5v1.7h-20.5zM211.7 230.3h1.5v1.7h-1.5zM315.0 230.3h3.9v1.7h-3.9zM100.0 229.3h37.1v1.7h-37.1zM186.7 229.3h20.5v1.7h-20.5zM283.0 229.3h1.5v1.7h-1.5zM308.0 229.3h3.9v1.7h-3.9zM313.9 229.3h3.9v1.7h-3.9zM101.1 228.2h36.0v1.7h-36.0zM186.7 228.2h21.7v1.7h-21.7zM277.1 228.2h7.4v1.7h-7.4zM305.7 228.2h11.0v1.7h-11.0zM99.9 227.2h34.8v1.7h-34.8zM186.8 227.2h20.5v1.7h-20.5zM274.8 227.2h5.1v1.7h-5.1zM282.0 227.2h1.5v1.7h-1.5zM307.0 227.2h9.8v1.7h-9.8zM99.8 226.2h34.8v1.7h-34.8zM186.8 226.2h20.5v1.7h-20.5zM211.8 226.2h1.5v1.7h-1.5zM273.7 226.2h3.9v1.7h-3.9zM305.8 226.2h9.8v1.7h-9.8zM316.5 226.2h2.7v1.7h-2.7zM98.6 225.2h37.2v1.7h-37.2zM185.6 225.2h22.9v1.7h-22.9zM210.6 225.2h1.5v1.7h-1.5zM273.7 225.2h2.7v1.7h-2.7zM289.2 225.2h1.5v1.7h-1.5zM304.7 225.2h15.8v1.7h-15.8zM98.6 224.2h36.1v1.7h-36.1zM185.6 224.2h27.7v1.7h-27.7zM271.4 224.2h5.1v1.7h-5.1zM283.3 224.2h2.7v1.7h-2.7zM288.1 224.2h2.7v1.7h-2.7zM301.2 224.2h12.2v1.7h-12.2zM317.9 224.2h2.7v1.7h-2.7zM97.4 223.2h38.4v1.7h-38.4zM184.4 223.2h28.9v1.7h-28.9zM271.4 223.2h5.1v1.7h-5.1zM279.8 223.2h6.3v1.7h-6.3zM288.1 223.2h3.9v1.7h-3.9zM301.2 223.2h11.0v1.7h-11.0zM97.3 222.2h36.1v1.7h-36.1zM183.2 222.2h31.3v1.7h-31.3zM270.3 222.2h7.5v1.7h-7.5zM279.8 222.2h7.5v1.7h-7.5zM288.1 222.2h3.9v1.7h-3.9zM300.1 222.2h9.8v1.7h-9.8zM97.3 221.2h34.9v1.7h-34.9zM183.2 221.2h32.5v1.7h-32.5zM270.3 221.2h5.1v1.7h-5.1zM278.6 221.2h8.6v1.7h-8.6zM288.2 221.2h5.1v1.7h-5.1zM298.9 221.2h5.1v1.7h-5.1zM306.1 221.2h1.5v1.7h-1.5zM98.5 220.2h31.3v1.7h-31.3zM183.2 220.2h32.5v1.7h-32.5zM269.1 220.2h5.1v1.7h-5.1zM278.6 220.2h8.7v1.7h-8.7zM288.2 220.2h1.5v1.7h-1.5zM300.1 220.2h2.7v1.7h-2.7zM98.5 219.1h28.9v1.7h-28.9zM183.2 219.1h32.5v1.7h-32.5zM269.1 219.1h5.1v1.7h-5.1zM278.6 219.1h9.8v1.7h-9.8zM289.4 219.1h1.5v1.7h-1.5zM99.7 218.1h27.7v1.7h-27.7zM183.2 218.1h32.5v1.7h-32.5zM267.9 218.1h7.5v1.7h-7.5zM278.6 218.1h9.8v1.7h-9.8zM99.7 217.1h27.7v1.7h-27.7zM183.2 217.1h32.5v1.7h-32.5zM267.9 217.1h6.3v1.7h-6.3zM278.6 217.1h9.8v1.7h-9.8zM100.9 216.1h25.3v1.7h-25.3zM183.2 216.1h32.5v1.7h-32.5zM266.6 216.1h7.5v1.7h-7.5zM281.0 216.1h7.5v1.7h-7.5zM101.0 215.1h25.3v1.7h-25.3zM180.8 215.1h34.9v1.7h-34.9zM265.4 215.1h3.9v1.7h-3.9zM270.2 215.1h3.9v1.7h-3.9zM283.3 215.1h5.1v1.7h-5.1zM101.0 214.1h24.1v1.7h-24.1zM166.5 214.1h8.6v1.7h-8.6zM179.6 214.1h34.8v1.7h-34.8zM265.4 214.1h3.9v1.7h-3.9zM270.2 214.1h3.9v1.7h-3.9zM283.3 214.1h6.3v1.7h-6.3zM101.0 213.1h21.7v1.7h-21.7zM164.1 213.1h50.3v1.7h-50.3zM251.1 213.1h1.5v1.7h-1.5zM270.1 213.1h3.9v1.7h-3.9zM284.4 213.1h3.9v1.7h-3.9zM292.7 213.1h2.7v1.7h-2.7zM99.9 212.1h20.5v1.7h-20.5zM162.9 212.1h52.7v1.7h-52.7zM251.0 212.1h2.7v1.7h-2.7zM268.9 212.1h3.9v1.7h-3.9zM285.5 212.1h1.5v1.7h-1.5zM292.7 212.1h3.9v1.7h-3.9zM95.2 211.0h3.9v1.7h-3.9zM99.9 211.0h19.3v1.7h-19.3zM161.8 211.0h53.8v1.7h-53.8zM251.0 211.0h2.7v1.7h-2.7zM267.6 211.0h3.9v1.7h-3.9zM291.4 211.0h3.9v1.7h-3.9zM97.6 210.0h3.9v1.7h-3.9zM102.3 210.0h14.6v1.7h-14.6zM161.8 210.0h53.8v1.7h-53.8zM247.4 210.0h2.7v1.7h-2.7zM250.9 210.0h1.5v1.7h-1.5zM267.6 210.0h2.7v1.7h-2.7zM274.7 210.0h1.5v1.7h-1.5zM291.3 210.0h3.9v1.7h-3.9zM92.9 209.0h2.7v1.7h-2.7zM102.4 209.0h14.6v1.7h-14.6zM160.6 209.0h53.7v1.7h-53.7zM247.3 209.0h3.9v1.7h-3.9zM267.5 209.0h2.7v1.7h-2.7zM273.4 209.0h3.9v1.7h-3.9zM291.2 209.0h3.9v1.7h-3.9zM93.0 208.0h3.9v1.7h-3.9zM103.6 208.0h9.8v1.7h-9.8zM114.3 208.0h3.9v1.7h-3.9zM160.6 208.0h58.5v1.7h-58.5zM246.1 208.0h5.0v1.7h-5.0zM268.6 208.0h1.5v1.7h-1.5zM272.2 208.0h6.2v1.7h-6.2zM290.0 208.0h5.0v1.7h-5.0zM91.9 207.0h3.9v1.7h-3.9zM108.5 207.0h1.5v1.7h-1.5zM159.4 207.0h57.2v1.7h-57.2zM222.3 207.0h1.5v1.7h-1.5zM246.0 207.0h5.0v1.7h-5.0zM268.5 207.0h1.5v1.7h-1.5zM272.1 207.0h7.4v1.7h-7.4zM289.9 207.0h5.0v1.7h-5.0zM91.9 206.0h3.9v1.7h-3.9zM158.3 206.0h59.5v1.7h-59.5zM245.9 206.0h5.0v1.7h-5.0zM267.2 206.0h12.1v1.7h-12.1zM290.9 206.0h3.9v1.7h-3.9zM88.5 205.0h8.6v1.7h-8.6zM158.3 205.0h33.4v1.7h-33.4zM192.6 205.0h21.6v1.7h-21.6zM218.6 205.0h1.5v1.7h-1.5zM244.7 205.0h7.4v1.7h-7.4zM267.1 205.0h12.1v1.7h-12.1zM288.4 205.0h3.8v1.7h-3.8zM87.4 204.0h9.8v1.7h-9.8zM158.3 204.0h2.7v1.7h-2.7zM161.8 204.0h8.6v1.7h-8.6zM171.3 204.0h6.2v1.7h-6.2zM179.6 204.0h5.0v1.7h-5.0zM185.5 204.0h1.5v1.7h-1.5zM190.2 204.0h2.7v1.7h-2.7zM199.7 204.0h5.0v1.7h-5.0zM205.6 204.0h2.7v1.7h-2.7zM212.7 204.0h1.5v1.7h-1.5zM244.6 204.0h7.4v1.7h-7.4zM267.0 204.0h12.1v1.7h-12.1zM288.3 204.0h2.7v1.7h-2.7zM86.3 203.0h10.9v1.7h-10.9zM158.3 203.0h2.7v1.7h-2.7zM161.9 203.0h3.8v1.7h-3.8zM168.9 203.0h1.5v1.7h-1.5zM203.2 203.0h1.5v1.7h-1.5zM244.5 203.0h7.4v1.7h-7.4zM266.9 203.0h10.9v1.7h-10.9zM288.2 203.0h2.7v1.7h-2.7zM81.7 201.9h10.9v1.7h-10.9zM243.2 201.9h9.7v1.7h-9.7zM263.3 201.9h14.4v1.7h-14.4zM288.0 201.9h2.7v1.7h-2.7zM79.5 200.9h13.2v1.7h-13.2zM243.1 200.9h10.9v1.7h-10.9zM263.1 200.9h13.2v1.7h-13.2zM287.8 200.9h2.7v1.7h-2.7zM77.3 199.9h15.6v1.7h-15.6zM100.8 199.9h2.7v1.7h-2.7zM105.5 199.9h1.5v1.7h-1.5zM111.4 199.9h1.5v1.7h-1.5zM243.0 199.9h12.1v1.7h-12.1zM263.0 199.9h12.1v1.7h-12.1zM277.1 199.9h1.5v1.7h-1.5zM287.7 199.9h2.7v1.7h-2.7zM76.3 198.9h9.7v1.7h-9.7zM89.2 198.9h3.8v1.7h-3.8zM106.8 198.9h3.8v1.7h-3.8zM242.9 198.9h12.0v1.7h-12.0zM262.9 198.9h12.0v1.7h-12.0zM276.9 198.9h2.6v1.7h-2.6zM76.4 197.9h8.5v1.7h-8.5zM89.3 197.9h3.8v1.7h-3.8zM106.9 197.9h1.5v1.7h-1.5zM242.8 197.9h14.4v1.7h-14.4zM261.5 197.9h14.4v1.7h-14.4zM276.8 197.9h2.6v1.7h-2.6zM75.4 196.9h8.5v1.7h-8.5zM90.6 196.9h3.8v1.7h-3.8zM103.5 196.9h1.5v1.7h-1.5zM243.9 196.9h13.2v1.7h-13.2zM261.4 196.9h14.3v1.7h-14.3zM277.8 196.9h1.5v1.7h-1.5zM75.6 195.9h8.5v1.7h-8.5zM97.8 195.9h2.6v1.7h-2.6zM241.4 195.9h40.0v1.7h-40.0zM75.8 194.9h8.5v1.7h-8.5zM243.6 194.9h39.9v1.7h-39.9zM286.8 194.9h1.5v1.7h-1.5zM77.1 193.9h7.3v1.7h-7.3zM243.5 193.9h41.0v1.7h-41.0zM286.5 193.9h2.6v1.7h-2.6zM75.0 192.8h9.6v1.7h-9.6zM244.5 192.8h40.9v1.7h-40.9zM286.3 192.8h2.6v1.7h-2.6zM75.2 191.8h9.6v1.7h-9.6zM98.4 191.8h2.6v1.7h-2.6zM243.2 191.8h43.2v1.7h-43.2zM75.4 190.8h10.7v1.7h-10.7zM98.5 190.8h2.6v1.7h-2.6zM243.1 190.8h43.1v1.7h-43.1zM75.7 189.8h10.7v1.7h-10.7zM98.7 189.8h2.6v1.7h-2.6zM244.0 189.8h43.0v1.7h-43.0zM75.9 188.8h11.8v1.7h-11.8zM97.8 188.8h3.8v1.7h-3.8zM242.7 188.8h45.2v1.7h-45.2zM73.9 187.8h19.8v1.7h-19.8zM95.7 187.8h1.4v1.7h-1.4zM98.0 187.8h3.7v1.7h-3.7zM242.5 187.8h4.9v1.7h-4.9zM252.8 187.8h1.4v1.7h-1.4zM255.1 187.8h32.4v1.7h-32.4zM75.4 186.8h25.5v1.7h-25.5zM241.2 186.8h4.9v1.7h-4.9zM246.9 186.8h1.4v1.7h-1.4zM252.6 186.8h4.9v1.7h-4.9zM260.6 186.8h25.5v1.7h-25.5zM75.7 185.8h25.4v1.7h-25.4zM241.0 185.8h4.9v1.7h-4.9zM246.7 185.8h1.4v1.7h-1.4zM256.9 185.8h1.4v1.7h-1.4zM259.2 185.8h1.4v1.7h-1.4zM261.5 185.8h25.4v1.7h-25.4zM77.1 184.8h25.3v1.7h-25.3zM238.5 184.8h7.1v1.7h-7.1zM260.1 184.8h1.4v1.7h-1.4zM264.6 184.8h20.8v1.7h-20.8zM294.2 184.8h1.4v1.7h-1.4zM77.5 183.7h1.4v1.7h-1.4zM82.0 183.7h21.8v1.7h-21.8zM166.9 183.7h1.4v1.7h-1.4zM240.5 183.7h1.4v1.7h-1.4zM242.8 183.7h1.4v1.7h-1.4zM263.2 183.7h21.8v1.7h-21.8zM291.5 183.7h7.1v1.7h-7.1zM67.7 182.7h1.4v1.7h-1.4zM82.3 182.7h22.9v1.7h-22.9zM168.1 182.7h2.6v1.7h-2.6zM171.5 182.7h1.4v1.7h-1.4zM179.4 182.7h1.4v1.7h-1.4zM236.9 182.7h5.9v1.7h-5.9zM264.0 182.7h19.5v1.7h-19.5zM293.3 182.7h5.9v1.7h-5.9zM68.1 181.7h1.4v1.7h-1.4zM84.9 181.7h22.8v1.7h-22.8zM169.2 181.7h7.0v1.7h-7.0zM177.1 181.7h8.2v1.7h-8.2zM240.0 181.7h1.4v1.7h-1.4zM264.8 181.7h1.4v1.7h-1.4zM267.0 181.7h16.0v1.7h-16.0zM288.4 181.7h1.4v1.7h-1.4zM294.0 181.7h8.2v1.7h-8.2zM67.4 180.7h1.4v1.7h-1.4zM74.1 180.7h1.4v1.7h-1.4zM76.3 180.7h1.4v1.7h-1.4zM84.2 180.7h23.8v1.7h-23.8zM169.3 180.7h1.4v1.7h-1.4zM174.8 180.7h10.4v1.7h-10.4zM217.4 180.7h2.5v1.7h-2.5zM267.8 180.7h16.0v1.7h-16.0zM296.9 180.7h4.8v1.7h-4.8zM75.6 179.7h2.5v1.7h-2.5zM83.4 179.7h1.4v1.7h-1.4zM85.6 179.7h21.5v1.7h-21.5zM167.0 179.7h7.0v1.7h-7.0zM177.1 179.7h8.1v1.7h-8.1zM216.1 179.7h4.8v1.7h-4.8zM267.4 179.7h17.0v1.7h-17.0zM296.4 179.7h4.8v1.7h-4.8zM73.8 178.7h4.7v1.7h-4.7zM84.9 178.7h23.6v1.7h-23.6zM167.1 178.7h8.1v1.7h-8.1zM186.0 178.7h1.4v1.7h-1.4zM198.2 178.7h1.4v1.7h-1.4zM200.4 178.7h1.4v1.7h-1.4zM203.7 178.7h3.6v1.7h-3.6zM214.8 178.7h7.0v1.7h-7.0zM269.2 178.7h1.4v1.7h-1.4zM271.5 178.7h9.2v1.7h-9.2zM281.4 178.7h1.4v1.7h-1.4zM289.2 178.7h1.4v1.7h-1.4zM298.1 178.7h3.6v1.7h-3.6zM75.4 177.7h2.5v1.7h-2.5zM85.3 177.7h23.5v1.7h-23.5zM166.0 177.7h6.9v1.7h-6.9zM173.7 177.7h1.4v1.7h-1.4zM182.6 177.7h1.4v1.7h-1.4zM198.1 177.7h12.5v1.7h-12.5zM213.5 177.7h9.1v1.7h-9.1zM269.9 177.7h10.2v1.7h-10.2zM282.1 177.7h1.4v1.7h-1.4zM285.4 177.7h2.5v1.7h-2.5zM297.6 177.7h3.6v1.7h-3.6zM64.8 176.7h2.5v1.7h-2.5zM74.7 176.7h1.4v1.7h-1.4zM85.7 176.7h24.5v1.7h-24.5zM167.1 176.7h4.7v1.7h-4.7zM172.6 176.7h2.5v1.7h-2.5zM181.5 176.7h2.5v1.7h-2.5zM189.2 176.7h1.4v1.7h-1.4zM192.5 176.7h1.4v1.7h-1.4zM194.7 176.7h1.4v1.7h-1.4zM198.0 176.7h4.7v1.7h-4.7zM205.7 176.7h6.9v1.7h-6.9zM213.4 176.7h8.0v1.7h-8.0zM222.2 176.7h1.4v1.7h-1.4zM270.6 176.7h10.2v1.7h-10.2zM281.6 176.7h6.9v1.7h-6.9zM298.1 176.7h2.5v1.7h-2.5zM65.3 175.7h3.6v1.7h-3.6zM88.3 175.7h23.3v1.7h-23.3zM167.2 175.7h3.6v1.7h-3.6zM174.8 175.7h1.4v1.7h-1.4zM181.4 175.7h1.4v1.7h-1.4zM188.0 175.7h12.3v1.7h-12.3zM207.7 175.7h11.3v1.7h-11.3zM271.2 175.7h1.4v1.7h-1.4zM274.5 175.7h12.3v1.7h-12.3zM297.5 175.7h2.5v1.7h-2.5zM65.9 174.7h1.4v1.7h-1.4zM88.8 174.7h25.4v1.7h-25.4zM167.2 174.7h2.5v1.7h-2.5zM173.8 174.7h4.7v1.7h-4.7zM185.7 174.7h3.6v1.7h-3.6zM191.2 174.7h7.9v1.7h-7.9zM210.8 174.7h7.9v1.7h-7.9zM274.0 174.7h1.4v1.7h-1.4zM276.2 174.7h10.1v1.7h-10.1zM296.9 174.7h1.4v1.7h-1.4zM66.5 173.7h2.5v1.7h-2.5zM90.3 173.7h24.1v1.7h-24.1zM166.2 173.7h12.2v1.7h-12.2zM184.6 173.7h3.6v1.7h-3.6zM190.0 173.7h10.1v1.7h-10.1zM210.6 173.7h4.6v1.7h-4.6zM216.0 173.7h1.4v1.7h-1.4zM276.7 173.7h7.9v1.7h-7.9zM296.2 173.7h4.6v1.7h-4.6zM67.0 172.7h1.4v1.7h-1.4zM90.8 172.7h24.0v1.7h-24.0zM117.7 172.7h1.4v1.7h-1.4zM167.3 172.7h14.3v1.7h-14.3zM183.5 172.7h3.5v1.7h-3.5zM187.8 172.7h12.2v1.7h-12.2zM208.3 172.7h4.6v1.7h-4.6zM214.7 172.7h1.4v1.7h-1.4zM278.3 172.7h1.4v1.7h-1.4zM280.5 172.7h5.7v1.7h-5.7zM288.1 172.7h3.5v1.7h-3.5zM296.7 172.7h4.6v1.7h-4.6zM67.6 171.7h2.4v1.7h-2.4zM70.8 171.7h2.4v1.7h-2.4zM91.2 171.7h26.0v1.7h-26.0zM118.0 171.7h3.5v1.7h-3.5zM173.8 171.7h12.1v1.7h-12.1zM187.7 171.7h13.2v1.7h-13.2zM203.8 171.7h1.4v1.7h-1.4zM207.0 171.7h4.6v1.7h-4.6zM278.9 171.7h1.4v1.7h-1.4zM281.0 171.7h4.6v1.7h-4.6zM286.4 171.7h5.7v1.7h-5.7zM296.0 171.7h3.5v1.7h-3.5zM68.2 170.7h3.5v1.7h-3.5zM72.5 170.7h2.4v1.7h-2.4zM91.7 170.7h1.4v1.7h-1.4zM93.8 170.7h30.2v1.7h-30.2zM173.8 170.7h27.0v1.7h-27.0zM202.6 170.7h3.5v1.7h-3.5zM206.8 170.7h4.6v1.7h-4.6zM281.5 170.7h11.0v1.7h-11.0zM295.3 170.7h1.4v1.7h-1.4zM68.8 169.7h6.7v1.7h-6.7zM77.3 169.7h1.4v1.7h-1.4zM92.2 169.7h28.9v1.7h-28.9zM122.9 169.7h1.4v1.7h-1.4zM172.7 169.7h33.2v1.7h-33.2zM206.7 169.7h5.6v1.7h-5.6zM281.9 169.7h10.9v1.7h-10.9zM295.7 169.7h1.4v1.7h-1.4zM69.5 168.7h4.5v1.7h-4.5zM74.7 168.7h3.5v1.7h-3.5zM94.8 168.7h25.6v1.7h-25.6zM125.3 168.7h5.6v1.7h-5.6zM171.7 168.7h41.4v1.7h-41.4zM284.5 168.7h8.7v1.7h-8.7zM70.1 167.7h2.4v1.7h-2.4zM74.3 167.7h4.5v1.7h-4.5zM95.2 167.7h26.5v1.7h-26.5zM125.6 167.7h5.5v1.7h-5.5zM170.7 167.7h41.2v1.7h-41.2zM284.8 167.7h7.6v1.7h-7.6zM69.7 166.7h8.6v1.7h-8.6zM96.8 166.7h24.2v1.7h-24.2zM125.9 166.7h4.5v1.7h-4.5zM172.8 166.7h39.9v1.7h-39.9zM213.4 166.7h1.3v1.7h-1.3zM284.2 166.7h1.3v1.7h-1.3zM286.2 166.7h7.6v1.7h-7.6zM69.4 165.8h4.4v1.7h-4.4zM74.5 165.8h1.3v1.7h-1.3zM76.6 165.8h2.4v1.7h-2.4zM98.3 165.8h27.2v1.7h-27.2zM127.3 165.8h2.4v1.7h-2.4zM169.7 165.8h3.4v1.7h-3.4zM174.8 165.8h40.6v1.7h-40.6zM287.6 165.8h5.5v1.7h-5.5zM70.1 164.8h3.4v1.7h-3.4zM97.8 164.8h32.1v1.7h-32.1zM170.7 164.8h46.5v1.7h-46.5zM285.8 164.8h1.3v1.7h-1.3zM287.9 164.8h5.4v1.7h-5.4zM70.8 163.8h3.4v1.7h-3.4zM101.4 163.8h7.4v1.7h-7.4zM109.6 163.8h19.7v1.7h-19.7zM166.7 163.8h1.3v1.7h-1.3zM170.8 163.8h6.4v1.7h-6.4zM177.9 163.8h40.1v1.7h-40.1zM285.0 163.8h1.3v1.7h-1.3zM287.1 163.8h5.4v1.7h-5.4zM302.4 163.8h2.3v1.7h-2.3zM67.5 162.9h1.3v1.7h-1.3zM70.5 162.9h2.3v1.7h-2.3zM73.6 162.9h1.3v1.7h-1.3zM100.9 162.9h8.4v1.7h-8.4zM112.1 162.9h17.5v1.7h-17.5zM166.7 162.9h1.3v1.7h-1.3zM170.8 162.9h6.4v1.7h-6.4zM177.9 162.9h39.8v1.7h-39.8zM279.2 162.9h2.3v1.7h-2.3zM282.2 162.9h9.4v1.7h-9.4zM300.4 162.9h2.3v1.7h-2.3zM68.3 161.9h1.3v1.7h-1.3zM70.3 161.9h6.3v1.7h-6.3zM102.5 161.9h6.3v1.7h-6.3zM112.5 161.9h17.4v1.7h-17.4zM166.8 161.9h4.3v1.7h-4.3zM171.8 161.9h3.3v1.7h-3.3zM180.9 161.9h40.5v1.7h-40.5zM274.4 161.9h13.4v1.7h-13.4zM289.4 161.9h1.3v1.7h-1.3zM301.5 161.9h1.3v1.7h-1.3zM70.1 160.9h7.3v1.7h-7.3zM104.0 160.9h1.3v1.7h-1.3zM106.0 160.9h3.3v1.7h-3.3zM112.0 160.9h17.3v1.7h-17.3zM167.9 160.9h1.3v1.7h-1.3zM169.9 160.9h5.3v1.7h-5.3zM181.8 160.9h1.3v1.7h-1.3zM183.8 160.9h1.3v1.7h-1.3zM188.8 160.9h31.2v1.7h-31.2zM241.7 160.9h1.3v1.7h-1.3zM276.6 160.9h8.3v1.7h-8.3zM299.5 160.9h3.3v1.7h-3.3zM69.9 160.0h3.3v1.7h-3.3zM73.9 160.0h3.3v1.7h-3.3zM113.5 160.0h14.2v1.7h-14.2zM169.9 160.0h4.3v1.7h-4.3zM180.8 160.0h6.2v1.7h-6.2zM191.7 160.0h1.3v1.7h-1.3zM193.7 160.0h29.0v1.7h-29.0zM238.2 160.0h1.3v1.7h-1.3zM242.1 160.0h4.3v1.7h-4.3zM277.8 160.0h7.2v1.7h-7.2zM299.5 160.0h4.3v1.7h-4.3zM69.8 159.0h2.3v1.6h-2.3zM72.8 159.0h2.3v1.6h-2.3zM114.0 159.0h1.3v1.6h-1.3zM116.0 159.0h11.1v1.6h-11.1zM169.9 159.0h4.2v1.6h-4.2zM180.7 159.0h3.2v1.6h-3.2zM184.7 159.0h3.2v1.6h-3.2zM194.5 159.0h28.8v1.6h-28.8zM238.7 159.0h7.2v1.6h-7.2zM276.0 159.0h3.2v1.6h-3.2zM279.9 159.0h5.2v1.6h-5.2zM299.5 159.0h2.3v1.6h-2.3zM51.2 158.1h1.3v1.6h-1.3zM55.1 158.1h1.3v1.6h-1.3zM69.7 158.1h3.2v1.6h-3.2zM115.5 158.1h12.0v1.6h-12.0zM170.0 158.1h4.2v1.6h-4.2zM181.7 158.1h1.3v1.6h-1.3zM183.6 158.1h5.2v1.6h-5.2zM194.3 158.1h34.4v1.6h-34.4zM236.2 158.1h9.1v1.6h-9.1zM245.9 158.1h1.3v1.6h-1.3zM279.0 158.1h6.1v1.6h-6.1zM299.5 158.1h1.3v1.6h-1.3zM50.3 157.2h5.1v1.6h-5.1zM68.7 157.2h4.2v1.6h-4.2zM116.9 157.2h10.0v1.6h-10.0zM170.0 157.2h3.2v1.6h-3.2zM178.7 157.2h4.2v1.6h-4.2zM183.5 157.2h5.1v1.6h-5.1zM194.2 157.2h33.1v1.6h-33.1zM227.9 157.2h2.2v1.6h-2.2zM230.8 157.2h16.7v1.6h-16.7zM281.0 157.2h4.2v1.6h-4.2zM50.4 156.2h8.0v1.6h-8.0zM59.1 156.2h2.2v1.6h-2.2zM67.7 156.2h3.2v1.6h-3.2zM117.4 156.2h4.1v1.6h-4.1zM124.1 156.2h2.2v1.6h-2.2zM178.7 156.2h10.8v1.6h-10.8zM194.0 156.2h52.0v1.6h-52.0zM280.1 156.2h12.7v1.6h-12.7zM49.6 155.3h17.4v1.6h-17.4zM69.6 155.3h1.2v1.6h-1.2zM117.9 155.3h4.1v1.6h-4.1zM139.8 155.3h3.1v1.6h-3.1zM178.6 155.3h10.7v1.6h-10.7zM193.8 155.3h51.5v1.6h-51.5zM282.0 155.3h1.2v1.6h-1.2zM283.9 155.3h1.2v1.6h-1.2zM286.8 155.3h6.0v1.6h-6.0zM49.8 154.4h18.2v1.6h-18.2zM119.4 154.4h2.2v1.6h-2.2zM138.2 154.4h5.0v1.6h-5.0zM178.6 154.4h9.7v1.6h-9.7zM192.7 154.4h51.1v1.6h-51.1zM290.5 154.4h1.2v1.6h-1.2zM51.0 153.5h17.1v1.6h-17.1zM137.6 153.5h6.8v1.6h-6.8zM178.6 153.5h10.5v1.6h-10.5zM192.5 153.5h51.5v1.6h-51.5zM53.1 152.6h1.2v1.6h-1.2zM54.9 152.6h10.4v1.6h-10.4zM67.8 152.6h1.2v1.6h-1.2zM137.0 152.6h7.7v1.6h-7.7zM160.1 152.6h2.1v1.6h-2.1zM180.4 152.6h8.6v1.6h-8.6zM193.3 152.6h47.4v1.6h-47.4zM241.3 152.6h1.2v1.6h-1.2zM55.1 151.7h4.0v1.6h-4.0zM137.4 151.7h7.6v1.6h-7.6zM158.4 151.7h3.0v1.6h-3.0zM162.1 151.7h2.1v1.6h-2.1zM182.2 151.7h8.5v1.6h-8.5zM193.1 151.7h47.8v1.6h-47.8zM53.6 150.8h1.2v1.6h-1.2zM56.3 150.8h1.2v1.6h-1.2zM136.8 150.8h10.3v1.6h-10.3zM157.7 150.8h2.1v1.6h-2.1zM160.4 150.8h4.8v1.6h-4.8zM183.0 150.8h8.4v1.6h-8.4zM192.9 150.8h7.5v1.6h-7.5zM203.8 150.8h8.4v1.6h-8.4zM212.9 150.8h7.5v1.6h-7.5zM222.8 150.8h1.2v1.6h-1.2zM224.6 150.8h3.9v1.6h-3.9zM229.1 150.8h8.4v1.6h-8.4zM137.2 149.9h11.9v1.6h-11.9zM157.8 149.9h7.5v1.6h-7.5zM183.8 149.9h15.5v1.6h-15.5zM199.9 149.9h6.6v1.6h-6.6zM207.1 149.9h1.2v1.6h-1.2zM208.9 149.9h1.2v1.6h-1.2zM210.7 149.9h1.2v1.6h-1.2zM213.4 149.9h1.2v1.6h-1.2zM228.6 149.9h5.7v1.6h-5.7zM234.9 149.9h1.2v1.6h-1.2zM139.4 149.0h2.1v1.6h-2.1zM142.9 149.0h2.1v1.6h-2.1zM145.6 149.0h6.5v1.6h-6.5zM184.6 149.0h19.8v1.6h-19.8zM145.9 148.2h8.2v1.6h-8.2zM185.4 148.2h13.5v1.6h-13.5zM199.4 148.2h2.9v1.6h-2.9zM148.8 147.3h5.5v1.6h-5.5zM186.1 147.3h7.2v1.6h-7.2zM194.0 147.3h2.9v1.6h-2.9zM151.7 146.5h2.9v1.5h-2.9zM188.6 146.5h2.0v1.5h-2.0zM191.2 146.5h1.2v1.5h-1.2z"/><path fill="#C8E8F8" d="M111.6 270.6h2.4v1.7h-2.4zM111.2 269.6h2.4v1.7h-2.4zM315.8 269.6h4.5v1.7h-4.5zM110.9 268.6h2.4v1.7h-2.4zM316.7 268.6h4.6v1.7h-4.6zM111.6 267.6h2.4v1.7h-2.4zM318.5 267.6h4.6v1.7h-4.6zM111.2 266.6h1.4v1.7h-1.4zM301.0 266.6h1.4v1.7h-1.4zM319.3 266.6h5.7v1.7h-5.7zM110.9 265.6h1.4v1.7h-1.4zM300.6 265.6h3.6v1.7h-3.6zM322.3 265.6h3.6v1.7h-3.6zM110.6 264.6h2.5v1.7h-2.5zM301.2 264.6h3.6v1.7h-3.6zM324.1 264.6h4.7v1.7h-4.7zM110.2 263.6h1.4v1.7h-1.4zM301.9 263.6h3.6v1.7h-3.6zM324.9 263.6h5.8v1.7h-5.8zM109.9 262.6h2.5v1.7h-2.5zM327.8 262.6h3.6v1.7h-3.6zM109.6 261.6h3.6v1.7h-3.6zM328.5 261.6h4.7v1.7h-4.7zM121.6 260.6h2.5v1.7h-2.5zM302.5 260.6h2.5v1.7h-2.5zM329.2 260.6h4.7v1.7h-4.7zM120.2 259.6h4.8v1.7h-4.8zM304.2 259.6h2.5v1.7h-2.5zM329.8 259.6h2.5v1.7h-2.5zM117.8 258.6h7.0v1.7h-7.0zM329.4 258.6h2.5v1.7h-2.5zM116.4 257.6h7.0v1.7h-7.0zM330.0 257.6h2.5v1.7h-2.5zM116.2 256.6h9.3v1.7h-9.3zM117.1 255.5h10.5v1.7h-10.5zM118.0 254.5h10.5v1.7h-10.5zM116.7 253.5h11.7v1.7h-11.7zM199.9 253.5h2.6v1.7h-2.6zM116.5 252.5h12.9v1.7h-12.9zM200.0 252.5h3.7v1.7h-3.7zM116.4 251.5h14.1v1.7h-14.1zM200.1 251.5h4.9v1.7h-4.9zM116.2 250.5h14.1v1.7h-14.1zM200.2 250.5h4.9v1.7h-4.9zM117.2 249.5h13.0v1.7h-13.0zM200.2 249.5h3.8v1.7h-3.8zM117.0 248.5h13.0v1.7h-13.0zM199.1 248.5h1.5v1.7h-1.5zM203.8 248.5h1.5v1.7h-1.5zM115.8 247.5h15.4v1.7h-15.4zM203.8 247.5h1.5v1.7h-1.5zM115.6 246.4h15.4v1.7h-15.4zM116.7 245.4h16.6v1.7h-16.6zM116.6 244.4h17.8v1.7h-17.8zM115.3 243.4h1.5v1.7h-1.5zM117.6 243.4h15.5v1.7h-15.5zM134.0 243.4h2.6v1.7h-2.6zM218.1 243.4h1.5v1.7h-1.5zM116.4 242.4h21.4v1.7h-21.4zM218.1 242.4h2.6v1.7h-2.6zM116.3 241.4h21.4v1.7h-21.4zM219.4 241.4h1.5v1.7h-1.5zM116.2 240.4h1.5v1.7h-1.5zM118.5 240.4h20.2v1.7h-20.2zM217.1 240.4h1.5v1.7h-1.5zM219.4 240.4h2.6v1.7h-2.6zM116.1 239.4h21.5v1.7h-21.5zM219.5 239.4h2.7v1.7h-2.7zM108.9 238.4h1.5v1.7h-1.5zM116.0 238.4h22.7v1.7h-22.7zM218.4 238.4h3.8v1.7h-3.8zM107.7 237.3h6.2v1.7h-6.2zM114.7 237.3h23.9v1.7h-23.9zM218.5 237.3h3.8v1.7h-3.8zM107.6 236.3h29.8v1.7h-29.8zM185.5 236.3h2.7v1.7h-2.7zM190.2 236.3h1.5v1.7h-1.5zM192.6 236.3h1.5v1.7h-1.5zM218.5 236.3h3.8v1.7h-3.8zM106.3 235.3h31.0v1.7h-31.0zM186.7 235.3h9.8v1.7h-9.8zM219.8 235.3h2.7v1.7h-2.7zM105.0 234.3h29.9v1.7h-29.9zM186.7 234.3h2.7v1.7h-2.7zM190.2 234.3h1.5v1.7h-1.5zM192.6 234.3h3.8v1.7h-3.8zM221.0 234.3h1.5v1.7h-1.5zM105.0 233.3h28.7v1.7h-28.7zM186.7 233.3h11.0v1.7h-11.0zM202.1 233.3h1.5v1.7h-1.5zM221.0 233.3h1.5v1.7h-1.5zM101.3 232.3h1.5v1.7h-1.5zM103.7 232.3h29.9v1.7h-29.9zM187.9 232.3h16.9v1.7h-16.9zM102.5 231.3h31.2v1.7h-31.2zM187.9 231.3h16.9v1.7h-16.9zM316.1 231.3h2.7v1.7h-2.7zM100.0 230.3h33.6v1.7h-33.6zM186.7 230.3h19.3v1.7h-19.3zM315.0 230.3h3.9v1.7h-3.9zM100.0 229.3h33.6v1.7h-33.6zM186.7 229.3h19.3v1.7h-19.3zM283.0 229.3h1.5v1.7h-1.5zM308.0 229.3h3.9v1.7h-3.9zM313.9 229.3h3.9v1.7h-3.9zM101.1 228.2h32.4v1.7h-32.4zM186.7 228.2h21.7v1.7h-21.7zM277.1 228.2h7.4v1.7h-7.4zM305.7 228.2h11.0v1.7h-11.0zM99.9 227.2h34.8v1.7h-34.8zM186.8 227.2h20.5v1.7h-20.5zM274.8 227.2h5.1v1.7h-5.1zM282.0 227.2h1.5v1.7h-1.5zM307.0 227.2h9.8v1.7h-9.8zM99.8 226.2h31.3v1.7h-31.3zM132.0 226.2h2.7v1.7h-2.7zM186.8 226.2h20.5v1.7h-20.5zM273.7 226.2h3.9v1.7h-3.9zM305.8 226.2h9.8v1.7h-9.8zM316.5 226.2h2.7v1.7h-2.7zM98.6 225.2h33.7v1.7h-33.7zM133.2 225.2h2.7v1.7h-2.7zM185.6 225.2h22.9v1.7h-22.9zM273.7 225.2h2.7v1.7h-2.7zM289.2 225.2h1.5v1.7h-1.5zM304.7 225.2h15.8v1.7h-15.8zM98.6 224.2h36.1v1.7h-36.1zM185.6 224.2h27.7v1.7h-27.7zM271.4 224.2h5.1v1.7h-5.1zM283.3 224.2h2.7v1.7h-2.7zM288.1 224.2h2.7v1.7h-2.7zM301.2 224.2h12.2v1.7h-12.2zM317.9 224.2h2.7v1.7h-2.7zM97.4 223.2h30.1v1.7h-30.1zM128.4 223.2h7.5v1.7h-7.5zM184.4 223.2h26.5v1.7h-26.5zM271.4 223.2h5.1v1.7h-5.1zM279.8 223.2h6.3v1.7h-6.3zM288.1 223.2h3.9v1.7h-3.9zM301.2 223.2h11.0v1.7h-11.0zM97.3 222.2h23.0v1.7h-23.0zM123.6 222.2h1.5v1.7h-1.5zM127.1 222.2h6.3v1.7h-6.3zM183.2 222.2h28.9v1.7h-28.9zM270.3 222.2h7.5v1.7h-7.5zM279.8 222.2h7.5v1.7h-7.5zM288.1 222.2h3.9v1.7h-3.9zM300.1 222.2h9.8v1.7h-9.8zM97.3 221.2h21.8v1.7h-21.8zM120.0 221.2h1.5v1.7h-1.5zM124.8 221.2h7.5v1.7h-7.5zM183.2 221.2h27.7v1.7h-27.7zM270.3 221.2h5.1v1.7h-5.1zM278.6 221.2h8.6v1.7h-8.6zM288.2 221.2h5.1v1.7h-5.1zM298.9 221.2h5.1v1.7h-5.1zM306.1 221.2h1.5v1.7h-1.5zM98.5 220.2h23.0v1.7h-23.0zM122.4 220.2h1.5v1.7h-1.5zM125.9 220.2h3.9v1.7h-3.9zM183.2 220.2h30.1v1.7h-30.1zM269.1 220.2h5.1v1.7h-5.1zM278.6 220.2h8.7v1.7h-8.7zM288.2 220.2h1.5v1.7h-1.5zM300.1 220.2h2.7v1.7h-2.7zM98.5 219.1h23.0v1.7h-23.0zM125.9 219.1h1.5v1.7h-1.5zM183.2 219.1h30.1v1.7h-30.1zM269.1 219.1h5.1v1.7h-5.1zM278.6 219.1h9.8v1.7h-9.8zM289.4 219.1h1.5v1.7h-1.5zM99.7 218.1h18.2v1.7h-18.2zM120.0 218.1h2.7v1.7h-2.7zM125.9 218.1h1.5v1.7h-1.5zM183.2 218.1h28.9v1.7h-28.9zM267.9 218.1h7.5v1.7h-7.5zM278.6 218.1h9.8v1.7h-9.8zM99.7 217.1h18.2v1.7h-18.2zM183.2 217.1h28.9v1.7h-28.9zM267.9 217.1h6.3v1.7h-6.3zM278.6 217.1h9.8v1.7h-9.8zM100.9 216.1h17.0v1.7h-17.0zM124.8 216.1h1.5v1.7h-1.5zM183.2 216.1h31.3v1.7h-31.3zM266.6 216.1h7.5v1.7h-7.5zM281.0 216.1h7.5v1.7h-7.5zM101.0 215.1h17.0v1.7h-17.0zM123.6 215.1h2.7v1.7h-2.7zM180.8 215.1h27.7v1.7h-27.7zM209.4 215.1h6.3v1.7h-6.3zM265.4 215.1h3.9v1.7h-3.9zM270.2 215.1h3.9v1.7h-3.9zM283.3 215.1h5.1v1.7h-5.1zM101.0 214.1h19.4v1.7h-19.4zM121.2 214.1h1.5v1.7h-1.5zM123.6 214.1h1.5v1.7h-1.5zM166.5 214.1h6.3v1.7h-6.3zM173.7 214.1h1.5v1.7h-1.5zM179.6 214.1h34.8v1.7h-34.8zM265.4 214.1h3.9v1.7h-3.9zM270.2 214.1h3.9v1.7h-3.9zM283.3 214.1h6.3v1.7h-6.3zM101.0 213.1h21.7v1.7h-21.7zM164.1 213.1h50.3v1.7h-50.3zM251.1 213.1h1.5v1.7h-1.5zM270.1 213.1h3.9v1.7h-3.9zM284.4 213.1h3.9v1.7h-3.9zM292.7 213.1h2.7v1.7h-2.7zM99.9 212.1h20.5v1.7h-20.5zM162.9 212.1h52.7v1.7h-52.7zM251.0 212.1h2.7v1.7h-2.7zM268.9 212.1h3.9v1.7h-3.9zM285.5 212.1h1.5v1.7h-1.5zM292.7 212.1h3.9v1.7h-3.9zM95.2 211.0h3.9v1.7h-3.9zM99.9 211.0h19.3v1.7h-19.3zM161.8 211.0h49.1v1.7h-49.1zM214.1 211.0h1.5v1.7h-1.5zM251.0 211.0h2.7v1.7h-2.7zM267.6 211.0h3.9v1.7h-3.9zM291.4 211.0h3.9v1.7h-3.9zM97.6 210.0h3.9v1.7h-3.9zM102.3 210.0h14.6v1.7h-14.6zM161.8 210.0h43.1v1.7h-43.1zM206.9 210.0h3.9v1.7h-3.9zM247.4 210.0h2.7v1.7h-2.7zM250.9 210.0h1.5v1.7h-1.5zM267.6 210.0h2.7v1.7h-2.7zM274.7 210.0h1.5v1.7h-1.5zM291.3 210.0h3.9v1.7h-3.9zM92.9 209.0h2.7v1.7h-2.7zM102.4 209.0h14.6v1.7h-14.6zM160.6 209.0h9.8v1.7h-9.8zM171.3 209.0h33.6v1.7h-33.6zM205.7 209.0h5.1v1.7h-5.1zM247.3 209.0h3.9v1.7h-3.9zM267.5 209.0h2.7v1.7h-2.7zM273.4 209.0h3.9v1.7h-3.9zM291.2 209.0h3.9v1.7h-3.9zM93.0 208.0h3.9v1.7h-3.9zM103.6 208.0h9.8v1.7h-9.8zM114.3 208.0h3.9v1.7h-3.9zM160.6 208.0h43.0v1.7h-43.0zM206.9 208.0h2.7v1.7h-2.7zM246.1 208.0h5.0v1.7h-5.0zM268.6 208.0h1.5v1.7h-1.5zM272.2 208.0h6.2v1.7h-6.2zM290.0 208.0h5.0v1.7h-5.0zM91.9 207.0h3.9v1.7h-3.9zM108.5 207.0h1.5v1.7h-1.5zM159.4 207.0h41.8v1.7h-41.8zM205.7 207.0h6.2v1.7h-6.2zM246.0 207.0h5.0v1.7h-5.0zM268.5 207.0h1.5v1.7h-1.5zM272.1 207.0h7.4v1.7h-7.4zM289.9 207.0h5.0v1.7h-5.0zM91.9 206.0h3.9v1.7h-3.9zM158.3 206.0h7.4v1.7h-7.4zM167.7 206.0h3.9v1.7h-3.9zM172.5 206.0h5.0v1.7h-5.0zM179.6 206.0h1.5v1.7h-1.5zM182.0 206.0h6.2v1.7h-6.2zM190.2 206.0h2.7v1.7h-2.7zM206.8 206.0h5.0v1.7h-5.0zM245.9 206.0h5.0v1.7h-5.0zM267.2 206.0h12.1v1.7h-12.1zM290.9 206.0h3.9v1.7h-3.9zM88.5 205.0h8.6v1.7h-8.6zM158.3 205.0h1.5v1.7h-1.5zM160.7 205.0h1.5v1.7h-1.5zM170.1 205.0h1.5v1.7h-1.5zM177.2 205.0h1.5v1.7h-1.5zM206.8 205.0h1.5v1.7h-1.5zM209.2 205.0h2.7v1.7h-2.7zM244.7 205.0h7.4v1.7h-7.4zM267.1 205.0h12.1v1.7h-12.1zM288.4 205.0h3.8v1.7h-3.8zM87.4 204.0h9.8v1.7h-9.8zM244.6 204.0h7.4v1.7h-7.4zM267.0 204.0h12.1v1.7h-12.1zM288.3 204.0h2.7v1.7h-2.7zM86.3 203.0h10.9v1.7h-10.9zM244.5 203.0h3.8v1.7h-3.8zM249.2 203.0h2.7v1.7h-2.7zM266.9 203.0h10.9v1.7h-10.9zM288.2 203.0h2.7v1.7h-2.7zM81.7 201.9h10.9v1.7h-10.9zM243.2 201.9h9.7v1.7h-9.7zM263.3 201.9h14.4v1.7h-14.4zM288.0 201.9h2.7v1.7h-2.7zM79.5 200.9h13.2v1.7h-13.2zM243.1 200.9h10.9v1.7h-10.9zM263.1 200.9h13.2v1.7h-13.2zM287.8 200.9h2.7v1.7h-2.7zM78.5 199.9h14.4v1.7h-14.4zM100.8 199.9h2.7v1.7h-2.7zM105.5 199.9h1.5v1.7h-1.5zM111.4 199.9h1.5v1.7h-1.5zM243.0 199.9h12.1v1.7h-12.1zM263.0 199.9h12.1v1.7h-12.1zM277.1 199.9h1.5v1.7h-1.5zM287.7 199.9h2.7v1.7h-2.7zM78.6 198.9h7.3v1.7h-7.3zM89.2 198.9h3.8v1.7h-3.8zM106.8 198.9h3.8v1.7h-3.8zM244.1 198.9h10.9v1.7h-10.9zM262.9 198.9h12.0v1.7h-12.0zM276.9 198.9h2.6v1.7h-2.6zM77.6 197.9h1.5v1.7h-1.5zM82.3 197.9h2.6v1.7h-2.6zM89.3 197.9h3.8v1.7h-3.8zM106.9 197.9h1.5v1.7h-1.5zM242.8 197.9h14.4v1.7h-14.4zM261.5 197.9h14.4v1.7h-14.4zM276.8 197.9h2.6v1.7h-2.6zM75.4 196.9h2.6v1.7h-2.6zM90.6 196.9h3.8v1.7h-3.8zM103.5 196.9h1.5v1.7h-1.5zM243.9 196.9h13.2v1.7h-13.2zM261.4 196.9h14.3v1.7h-14.3zM277.8 196.9h1.5v1.7h-1.5zM75.6 195.9h2.6v1.7h-2.6zM97.8 195.9h2.6v1.7h-2.6zM243.7 195.9h2.6v1.7h-2.6zM247.2 195.9h34.2v1.7h-34.2zM75.8 194.9h1.5v1.7h-1.5zM243.6 194.9h30.6v1.7h-30.6zM275.1 194.9h1.5v1.7h-1.5zM277.4 194.9h6.1v1.7h-6.1zM245.8 193.9h38.7v1.7h-38.7zM286.5 193.9h1.5v1.7h-1.5zM245.7 192.8h36.3v1.7h-36.3zM282.8 192.8h2.6v1.7h-2.6zM286.3 192.8h1.5v1.7h-1.5zM98.4 191.8h2.6v1.7h-2.6zM245.5 191.8h40.9v1.7h-40.9zM84.7 190.8h1.5v1.7h-1.5zM98.5 190.8h2.6v1.7h-2.6zM244.2 190.8h41.9v1.7h-41.9zM83.7 189.8h2.6v1.7h-2.6zM98.7 189.8h2.6v1.7h-2.6zM244.0 189.8h4.9v1.7h-4.9zM249.8 189.8h1.5v1.7h-1.5zM252.1 189.8h34.9v1.7h-34.9zM82.8 188.8h4.9v1.7h-4.9zM97.8 188.8h3.8v1.7h-3.8zM243.9 188.8h14.1v1.7h-14.1zM258.8 188.8h27.9v1.7h-27.9zM83.1 187.8h10.6v1.7h-10.6zM95.7 187.8h1.4v1.7h-1.4zM98.0 187.8h3.7v1.7h-3.7zM244.8 187.8h2.6v1.7h-2.6zM252.8 187.8h1.4v1.7h-1.4zM255.1 187.8h1.4v1.7h-1.4zM258.6 187.8h27.8v1.7h-27.8zM82.2 186.8h15.2v1.7h-15.2zM98.2 186.8h2.6v1.7h-2.6zM244.6 186.8h1.4v1.7h-1.4zM246.9 186.8h1.4v1.7h-1.4zM264.1 186.8h22.0v1.7h-22.0zM83.6 185.8h17.4v1.7h-17.4zM242.1 185.8h1.4v1.7h-1.4zM244.4 185.8h1.4v1.7h-1.4zM246.7 185.8h1.4v1.7h-1.4zM264.9 185.8h2.6v1.7h-2.6zM268.3 185.8h2.6v1.7h-2.6zM271.8 185.8h9.4v1.7h-9.4zM282.0 185.8h4.9v1.7h-4.9zM82.8 184.8h3.7v1.7h-3.7zM87.4 184.8h15.1v1.7h-15.1zM243.0 184.8h2.6v1.7h-2.6zM265.7 184.8h1.4v1.7h-1.4zM268.0 184.8h17.3v1.7h-17.3zM294.2 184.8h1.4v1.7h-1.4zM86.5 183.7h17.3v1.7h-17.3zM273.4 183.7h11.6v1.7h-11.6zM292.6 183.7h6.0v1.7h-6.0zM88.0 182.7h17.2v1.7h-17.2zM275.3 182.7h5.9v1.7h-5.9zM293.3 182.7h5.9v1.7h-5.9zM87.2 181.7h14.9v1.7h-14.9zM102.9 181.7h4.8v1.7h-4.8zM288.4 181.7h1.4v1.7h-1.4zM294.0 181.7h8.2v1.7h-8.2zM88.6 180.7h19.3v1.7h-19.3zM296.9 180.7h4.8v1.7h-4.8zM89.0 179.7h18.1v1.7h-18.1zM296.4 179.7h4.8v1.7h-4.8zM88.2 178.7h20.3v1.7h-20.3zM298.1 178.7h3.6v1.7h-3.6zM90.8 177.7h18.0v1.7h-18.0zM297.6 177.7h3.6v1.7h-3.6zM64.8 176.7h2.5v1.7h-2.5zM91.2 176.7h3.6v1.7h-3.6zM95.6 176.7h14.6v1.7h-14.6zM167.1 176.7h1.4v1.7h-1.4zM298.1 176.7h2.5v1.7h-2.5zM65.3 175.7h3.6v1.7h-3.6zM92.7 175.7h1.4v1.7h-1.4zM94.9 175.7h16.7v1.7h-16.7zM167.2 175.7h1.4v1.7h-1.4zM188.0 175.7h4.7v1.7h-4.7zM297.5 175.7h2.5v1.7h-2.5zM65.9 174.7h1.4v1.7h-1.4zM93.1 174.7h21.0v1.7h-21.0zM168.3 174.7h1.4v1.7h-1.4zM191.2 174.7h1.4v1.7h-1.4zM296.9 174.7h1.4v1.7h-1.4zM66.5 173.7h2.5v1.7h-2.5zM95.7 173.7h4.6v1.7h-4.6zM101.1 173.7h13.3v1.7h-13.3zM166.2 173.7h6.8v1.7h-6.8zM190.0 173.7h1.4v1.7h-1.4zM296.2 173.7h4.6v1.7h-4.6zM67.0 172.7h1.4v1.7h-1.4zM97.2 172.7h17.5v1.7h-17.5zM117.7 172.7h1.4v1.7h-1.4zM167.3 172.7h3.5v1.7h-3.5zM171.6 172.7h3.5v1.7h-3.5zM187.8 172.7h3.5v1.7h-3.5zM296.7 172.7h4.6v1.7h-4.6zM67.6 171.7h2.4v1.7h-2.4zM97.7 171.7h13.2v1.7h-13.2zM111.6 171.7h5.7v1.7h-5.7zM118.0 171.7h3.5v1.7h-3.5zM178.1 171.7h5.7v1.7h-5.7zM184.5 171.7h1.4v1.7h-1.4zM187.7 171.7h1.4v1.7h-1.4zM189.9 171.7h1.4v1.7h-1.4zM296.0 171.7h3.5v1.7h-3.5zM68.2 170.7h3.5v1.7h-3.5zM98.1 170.7h1.4v1.7h-1.4zM101.3 170.7h9.9v1.7h-9.9zM111.9 170.7h12.0v1.7h-12.0zM178.0 170.7h11.0v1.7h-11.0zM295.3 170.7h1.4v1.7h-1.4zM68.8 169.7h3.5v1.7h-3.5zM101.7 169.7h19.4v1.7h-19.4zM122.9 169.7h1.4v1.7h-1.4zM175.9 169.7h12.0v1.7h-12.0zM295.7 169.7h1.4v1.7h-1.4zM69.5 168.7h4.5v1.7h-4.5zM103.2 168.7h17.2v1.7h-17.2zM125.3 168.7h5.6v1.7h-5.6zM171.7 168.7h1.4v1.7h-1.4zM174.8 168.7h9.8v1.7h-9.8zM185.4 168.7h2.4v1.7h-2.4zM191.7 168.7h1.4v1.7h-1.4zM70.1 167.7h2.4v1.7h-2.4zM106.8 167.7h15.0v1.7h-15.0zM125.6 167.7h5.5v1.7h-5.5zM170.7 167.7h13.9v1.7h-13.9zM190.6 167.7h2.4v1.7h-2.4zM69.7 166.7h4.5v1.7h-4.5zM108.2 166.7h12.8v1.7h-12.8zM125.9 166.7h4.5v1.7h-4.5zM172.8 166.7h11.8v1.7h-11.8zM189.4 166.7h5.5v1.7h-5.5zM69.4 165.8h4.4v1.7h-4.4zM110.7 165.8h1.3v1.7h-1.3zM112.8 165.8h1.3v1.7h-1.3zM114.9 165.8h10.6v1.7h-10.6zM127.3 165.8h2.4v1.7h-2.4zM169.7 165.8h3.4v1.7h-3.4zM174.8 165.8h9.6v1.7h-9.6zM190.4 165.8h1.3v1.7h-1.3zM70.1 164.8h3.4v1.7h-3.4zM111.2 164.8h16.7v1.7h-16.7zM128.6 164.8h1.3v1.7h-1.3zM170.7 164.8h7.5v1.7h-7.5zM179.0 164.8h5.4v1.7h-5.4zM70.8 163.8h3.4v1.7h-3.4zM113.6 163.8h15.6v1.7h-15.6zM166.7 163.8h1.3v1.7h-1.3zM170.8 163.8h4.4v1.7h-4.4zM177.9 163.8h4.4v1.7h-4.4zM302.4 163.8h2.3v1.7h-2.3zM67.5 162.9h1.3v1.7h-1.3zM70.5 162.9h2.3v1.7h-2.3zM73.6 162.9h1.3v1.7h-1.3zM116.1 162.9h13.5v1.7h-13.5zM166.7 162.9h1.3v1.7h-1.3zM170.8 162.9h5.4v1.7h-5.4zM179.9 162.9h1.3v1.7h-1.3zM300.4 162.9h2.3v1.7h-2.3zM68.3 161.9h1.3v1.7h-1.3zM70.3 161.9h2.3v1.7h-2.3zM117.6 161.9h12.4v1.7h-12.4zM166.8 161.9h4.3v1.7h-4.3zM171.8 161.9h3.3v1.7h-3.3zM70.1 160.9h4.3v1.7h-4.3zM118.0 160.9h11.3v1.7h-11.3zM167.9 160.9h1.3v1.7h-1.3zM169.9 160.9h5.3v1.7h-5.3zM69.9 160.0h2.3v1.7h-2.3zM119.4 160.0h4.3v1.7h-4.3zM124.4 160.0h3.3v1.7h-3.3zM169.9 160.0h4.3v1.7h-4.3zM69.8 159.0h2.3v1.6h-2.3zM121.8 159.0h2.3v1.6h-2.3zM125.8 159.0h1.3v1.6h-1.3zM169.9 159.0h4.2v1.6h-4.2zM55.1 158.1h1.3v1.6h-1.3zM69.7 158.1h3.2v1.6h-3.2zM170.0 158.1h4.2v1.6h-4.2zM68.7 157.2h4.2v1.6h-4.2zM170.0 157.2h3.2v1.6h-3.2zM57.1 156.2h1.3v1.6h-1.3zM60.0 156.2h1.3v1.6h-1.3zM67.7 156.2h3.2v1.6h-3.2zM62.0 155.3h5.0v1.6h-5.0zM69.6 155.3h1.2v1.6h-1.2zM139.8 155.3h3.1v1.6h-3.1zM179.6 155.3h1.2v1.6h-1.2zM64.9 154.4h2.2v1.6h-2.2zM138.2 154.4h5.0v1.6h-5.0zM178.6 154.4h2.2v1.6h-2.2zM141.3 153.5h1.2v1.6h-1.2zM178.6 153.5h1.2v1.6h-1.2zM160.1 152.6h2.1v1.6h-2.1zM180.4 152.6h1.2v1.6h-1.2zM158.4 151.7h3.0v1.6h-3.0zM162.1 151.7h2.1v1.6h-2.1zM182.2 151.7h1.2v1.6h-1.2zM160.4 150.8h2.1v1.6h-2.1zM164.0 150.8h1.2v1.6h-1.2zM187.0 147.3h1.2v1.6h-1.2z"/><path fill="#FFB810" d="M111.6 270.6h2.4v1.7h-2.4zM111.2 269.6h2.4v1.7h-2.4zM315.8 269.6h4.5v1.7h-4.5zM110.9 268.6h2.4v1.7h-2.4zM316.7 268.6h4.6v1.7h-4.6zM111.6 267.6h2.4v1.7h-2.4zM318.5 267.6h4.6v1.7h-4.6zM111.2 266.6h1.4v1.7h-1.4zM301.0 266.6h1.4v1.7h-1.4zM319.3 266.6h5.7v1.7h-5.7zM110.9 265.6h1.4v1.7h-1.4zM300.6 265.6h3.6v1.7h-3.6zM322.3 265.6h3.6v1.7h-3.6zM110.6 264.6h2.5v1.7h-2.5zM301.2 264.6h3.6v1.7h-3.6zM324.1 264.6h4.7v1.7h-4.7zM110.2 263.6h1.4v1.7h-1.4zM301.9 263.6h3.6v1.7h-3.6zM324.9 263.6h5.8v1.7h-5.8zM109.9 262.6h2.5v1.7h-2.5zM327.8 262.6h3.6v1.7h-3.6zM109.6 261.6h3.6v1.7h-3.6zM328.5 261.6h4.7v1.7h-4.7zM302.5 260.6h2.5v1.7h-2.5zM329.2 260.6h4.7v1.7h-4.7zM121.3 259.6h1.4v1.7h-1.4zM123.6 259.6h1.4v1.7h-1.4zM304.2 259.6h2.5v1.7h-2.5zM329.8 259.6h2.5v1.7h-2.5zM121.1 258.6h3.7v1.7h-3.7zM329.4 258.6h2.5v1.7h-2.5zM120.9 257.6h2.5v1.7h-2.5zM330.0 257.6h2.5v1.7h-2.5zM120.7 256.6h4.8v1.7h-4.8zM119.4 255.5h8.2v1.7h-8.2zM118.0 254.5h1.4v1.7h-1.4zM120.3 254.5h8.3v1.7h-8.3zM117.8 253.5h10.6v1.7h-10.6zM199.9 253.5h2.6v1.7h-2.6zM118.8 252.5h10.6v1.7h-10.6zM201.2 252.5h2.6v1.7h-2.6zM119.8 251.5h10.6v1.7h-10.6zM201.2 251.5h3.7v1.7h-3.7zM119.6 250.5h10.7v1.7h-10.7zM118.3 249.5h11.8v1.7h-11.8zM118.2 248.5h11.9v1.7h-11.9zM118.1 247.5h13.0v1.7h-13.0zM117.9 246.4h13.1v1.7h-13.1zM119.0 245.4h14.3v1.7h-14.3zM117.7 244.4h16.6v1.7h-16.6zM118.8 243.4h14.3v1.7h-14.3zM134.0 243.4h2.6v1.7h-2.6zM124.6 242.4h13.2v1.7h-13.2zM219.3 242.4h1.5v1.7h-1.5zM123.3 241.4h14.4v1.7h-14.4zM122.0 240.4h16.7v1.7h-16.7zM219.4 240.4h1.5v1.7h-1.5zM123.1 239.4h14.4v1.7h-14.4zM220.7 239.4h1.5v1.7h-1.5zM108.9 238.4h1.5v1.7h-1.5zM124.2 238.4h14.4v1.7h-14.4zM219.6 238.4h1.5v1.7h-1.5zM107.7 237.3h6.2v1.7h-6.2zM123.0 237.3h8.6v1.7h-8.6zM132.4 237.3h1.5v1.7h-1.5zM137.1 237.3h1.5v1.7h-1.5zM107.6 236.3h9.7v1.7h-9.7zM119.4 236.3h1.5v1.7h-1.5zM121.7 236.3h10.9v1.7h-10.9zM135.9 236.3h1.5v1.7h-1.5zM220.9 236.3h1.5v1.7h-1.5zM106.3 235.3h25.1v1.7h-25.1zM219.8 235.3h2.7v1.7h-2.7zM105.0 234.3h28.7v1.7h-28.7zM221.0 234.3h1.5v1.7h-1.5zM105.0 233.3h27.5v1.7h-27.5zM192.6 233.3h1.5v1.7h-1.5zM195.0 233.3h1.5v1.7h-1.5zM202.1 233.3h1.5v1.7h-1.5zM221.0 233.3h1.5v1.7h-1.5zM101.3 232.3h1.5v1.7h-1.5zM103.7 232.3h29.9v1.7h-29.9zM187.9 232.3h1.5v1.7h-1.5zM190.3 232.3h7.4v1.7h-7.4zM198.6 232.3h6.2v1.7h-6.2zM102.5 231.3h31.2v1.7h-31.2zM187.9 231.3h16.9v1.7h-16.9zM316.1 231.3h2.7v1.7h-2.7zM100.0 230.3h33.6v1.7h-33.6zM186.7 230.3h19.3v1.7h-19.3zM315.0 230.3h3.9v1.7h-3.9zM100.0 229.3h33.6v1.7h-33.6zM186.7 229.3h16.9v1.7h-16.9zM283.0 229.3h1.5v1.7h-1.5zM308.0 229.3h3.9v1.7h-3.9zM313.9 229.3h3.9v1.7h-3.9zM101.1 228.2h28.8v1.7h-28.8zM186.7 228.2h18.1v1.7h-18.1zM277.1 228.2h7.4v1.7h-7.4zM305.7 228.2h11.0v1.7h-11.0zM99.9 227.2h28.9v1.7h-28.9zM186.8 227.2h18.2v1.7h-18.2zM274.8 227.2h5.1v1.7h-5.1zM282.0 227.2h1.5v1.7h-1.5zM307.0 227.2h9.8v1.7h-9.8zM99.8 226.2h30.1v1.7h-30.1zM186.8 226.2h18.2v1.7h-18.2zM205.8 226.2h1.5v1.7h-1.5zM273.7 226.2h3.9v1.7h-3.9zM305.8 226.2h9.8v1.7h-9.8zM316.5 226.2h2.7v1.7h-2.7zM98.6 225.2h25.3v1.7h-25.3zM124.8 225.2h2.7v1.7h-2.7zM185.6 225.2h19.4v1.7h-19.4zM205.8 225.2h1.5v1.7h-1.5zM273.7 225.2h1.5v1.7h-1.5zM289.2 225.2h1.5v1.7h-1.5zM304.7 225.2h15.8v1.7h-15.8zM98.6 224.2h20.6v1.7h-20.6zM120.0 224.2h1.5v1.7h-1.5zM185.6 224.2h20.6v1.7h-20.6zM271.4 224.2h5.1v1.7h-5.1zM283.3 224.2h2.7v1.7h-2.7zM288.1 224.2h2.7v1.7h-2.7zM301.2 224.2h12.2v1.7h-12.2zM317.9 224.2h2.7v1.7h-2.7zM97.4 223.2h20.6v1.7h-20.6zM121.2 223.2h1.5v1.7h-1.5zM124.8 223.2h1.5v1.7h-1.5zM184.4 223.2h23.0v1.7h-23.0zM271.4 223.2h5.1v1.7h-5.1zM279.8 223.2h6.3v1.7h-6.3zM288.1 223.2h3.9v1.7h-3.9zM301.2 223.2h11.0v1.7h-11.0zM97.3 222.2h18.2v1.7h-18.2zM183.2 222.2h25.3v1.7h-25.3zM270.3 222.2h7.5v1.7h-7.5zM279.8 222.2h7.5v1.7h-7.5zM288.1 222.2h3.9v1.7h-3.9zM300.1 222.2h9.8v1.7h-9.8zM97.3 221.2h19.4v1.7h-19.4zM117.6 221.2h1.5v1.7h-1.5zM120.0 221.2h1.5v1.7h-1.5zM125.9 221.2h1.5v1.7h-1.5zM183.2 221.2h24.2v1.7h-24.2zM270.3 221.2h5.1v1.7h-5.1zM278.6 221.2h8.6v1.7h-8.6zM288.2 221.2h5.1v1.7h-5.1zM298.9 221.2h5.1v1.7h-5.1zM306.1 221.2h1.5v1.7h-1.5zM98.5 220.2h23.0v1.7h-23.0zM183.2 220.2h26.5v1.7h-26.5zM269.1 220.2h5.1v1.7h-5.1zM278.6 220.2h8.7v1.7h-8.7zM288.2 220.2h1.5v1.7h-1.5zM300.1 220.2h2.7v1.7h-2.7zM98.5 219.1h15.8v1.7h-15.8zM115.2 219.1h6.3v1.7h-6.3zM183.2 219.1h26.5v1.7h-26.5zM269.1 219.1h5.1v1.7h-5.1zM278.6 219.1h9.8v1.7h-9.8zM289.4 219.1h1.5v1.7h-1.5zM99.7 218.1h14.6v1.7h-14.6zM120.0 218.1h1.5v1.7h-1.5zM183.2 218.1h25.3v1.7h-25.3zM267.9 218.1h7.5v1.7h-7.5zM278.6 218.1h9.8v1.7h-9.8zM99.7 217.1h14.6v1.7h-14.6zM183.2 217.1h24.2v1.7h-24.2zM267.9 217.1h6.3v1.7h-6.3zM278.6 217.1h9.8v1.7h-9.8zM100.9 216.1h14.6v1.7h-14.6zM183.2 216.1h24.1v1.7h-24.1zM266.6 216.1h7.5v1.7h-7.5zM281.0 216.1h7.5v1.7h-7.5zM101.0 215.1h14.6v1.7h-14.6zM180.8 215.1h25.3v1.7h-25.3zM211.8 215.1h1.5v1.7h-1.5zM265.4 215.1h3.9v1.7h-3.9zM270.2 215.1h3.9v1.7h-3.9zM283.3 215.1h5.1v1.7h-5.1zM101.0 214.1h13.4v1.7h-13.4zM115.3 214.1h2.7v1.7h-2.7zM171.3 214.1h1.5v1.7h-1.5zM173.7 214.1h1.5v1.7h-1.5zM179.6 214.1h25.3v1.7h-25.3zM265.4 214.1h3.9v1.7h-3.9zM270.2 214.1h3.9v1.7h-3.9zM283.3 214.1h6.3v1.7h-6.3zM101.0 213.1h19.4v1.7h-19.4zM164.1 213.1h39.6v1.7h-39.6zM208.2 213.1h3.9v1.7h-3.9zM213.0 213.1h1.5v1.7h-1.5zM251.1 213.1h1.5v1.7h-1.5zM270.1 213.1h3.9v1.7h-3.9zM284.4 213.1h3.9v1.7h-3.9zM292.7 213.1h2.7v1.7h-2.7zM99.9 212.1h18.2v1.7h-18.2zM118.9 212.1h1.5v1.7h-1.5zM162.9 212.1h38.4v1.7h-38.4zM209.4 212.1h3.9v1.7h-3.9zM214.1 212.1h1.5v1.7h-1.5zM251.0 212.1h2.7v1.7h-2.7zM268.9 212.1h3.9v1.7h-3.9zM285.5 212.1h1.5v1.7h-1.5zM292.7 212.1h3.9v1.7h-3.9zM95.2 211.0h3.9v1.7h-3.9zM99.9 211.0h19.3v1.7h-19.3zM161.8 211.0h14.6v1.7h-14.6zM177.2 211.0h24.1v1.7h-24.1zM209.3 211.0h1.5v1.7h-1.5zM214.1 211.0h1.5v1.7h-1.5zM251.0 211.0h2.7v1.7h-2.7zM267.6 211.0h3.9v1.7h-3.9zM291.4 211.0h3.9v1.7h-3.9zM97.6 210.0h3.9v1.7h-3.9zM102.3 210.0h7.4v1.7h-7.4zM110.7 210.0h6.2v1.7h-6.2zM161.8 210.0h18.1v1.7h-18.1zM180.8 210.0h1.5v1.7h-1.5zM183.2 210.0h16.9v1.7h-16.9zM208.1 210.0h1.5v1.7h-1.5zM247.4 210.0h2.7v1.7h-2.7zM250.9 210.0h1.5v1.7h-1.5zM267.6 210.0h2.7v1.7h-2.7zM274.7 210.0h1.5v1.7h-1.5zM291.3 210.0h3.9v1.7h-3.9zM92.9 209.0h2.7v1.7h-2.7zM102.4 209.0h14.6v1.7h-14.6zM160.6 209.0h9.8v1.7h-9.8zM171.3 209.0h1.5v1.7h-1.5zM173.7 209.0h5.1v1.7h-5.1zM179.6 209.0h9.8v1.7h-9.8zM190.3 209.0h9.8v1.7h-9.8zM208.1 209.0h2.7v1.7h-2.7zM247.3 209.0h3.9v1.7h-3.9zM267.5 209.0h2.7v1.7h-2.7zM273.4 209.0h3.9v1.7h-3.9zM291.2 209.0h3.9v1.7h-3.9zM93.0 208.0h3.9v1.7h-3.9zM103.6 208.0h9.8v1.7h-9.8zM114.3 208.0h3.9v1.7h-3.9zM160.6 208.0h11.0v1.7h-11.0zM174.8 208.0h6.2v1.7h-6.2zM182.0 208.0h3.9v1.7h-3.9zM187.9 208.0h2.7v1.7h-2.7zM191.5 208.0h3.9v1.7h-3.9zM208.1 208.0h1.5v1.7h-1.5zM246.1 208.0h2.7v1.7h-2.7zM249.6 208.0h1.5v1.7h-1.5zM268.6 208.0h1.5v1.7h-1.5zM272.2 208.0h6.2v1.7h-6.2zM290.0 208.0h5.0v1.7h-5.0zM91.9 207.0h3.9v1.7h-3.9zM108.5 207.0h1.5v1.7h-1.5zM159.4 207.0h9.8v1.7h-9.8zM197.4 207.0h1.5v1.7h-1.5zM206.9 207.0h1.5v1.7h-1.5zM209.2 207.0h1.5v1.7h-1.5zM246.0 207.0h5.0v1.7h-5.0zM268.5 207.0h1.5v1.7h-1.5zM272.1 207.0h7.4v1.7h-7.4zM289.9 207.0h5.0v1.7h-5.0zM91.9 206.0h3.9v1.7h-3.9zM160.6 206.0h5.0v1.7h-5.0zM208.0 206.0h1.5v1.7h-1.5zM245.9 206.0h5.0v1.7h-5.0zM267.2 206.0h12.1v1.7h-12.1zM290.9 206.0h3.9v1.7h-3.9zM88.5 205.0h8.6v1.7h-8.6zM160.7 205.0h1.5v1.7h-1.5zM244.7 205.0h2.7v1.7h-2.7zM248.2 205.0h1.5v1.7h-1.5zM250.6 205.0h1.5v1.7h-1.5zM268.3 205.0h10.9v1.7h-10.9zM288.4 205.0h3.8v1.7h-3.8zM87.4 204.0h9.8v1.7h-9.8zM244.6 204.0h1.5v1.7h-1.5zM250.5 204.0h1.5v1.7h-1.5zM267.0 204.0h12.1v1.7h-12.1zM288.3 204.0h2.7v1.7h-2.7zM86.3 203.0h10.9v1.7h-10.9zM244.5 203.0h2.7v1.7h-2.7zM250.4 203.0h1.5v1.7h-1.5zM266.9 203.0h10.9v1.7h-10.9zM288.2 203.0h2.7v1.7h-2.7zM81.7 201.9h10.9v1.7h-10.9zM243.2 201.9h1.5v1.7h-1.5zM249.1 201.9h3.8v1.7h-3.8zM263.3 201.9h14.4v1.7h-14.4zM288.0 201.9h2.7v1.7h-2.7zM79.5 200.9h13.2v1.7h-13.2zM243.1 200.9h2.7v1.7h-2.7zM251.4 200.9h2.7v1.7h-2.7zM263.1 200.9h13.2v1.7h-13.2zM287.8 200.9h2.7v1.7h-2.7zM78.5 199.9h14.4v1.7h-14.4zM100.8 199.9h2.7v1.7h-2.7zM105.5 199.9h1.5v1.7h-1.5zM111.4 199.9h1.5v1.7h-1.5zM243.0 199.9h2.7v1.7h-2.7zM250.1 199.9h5.0v1.7h-5.0zM263.0 199.9h12.1v1.7h-12.1zM277.1 199.9h1.5v1.7h-1.5zM287.7 199.9h2.7v1.7h-2.7zM78.6 198.9h7.3v1.7h-7.3zM89.2 198.9h3.8v1.7h-3.8zM106.8 198.9h3.8v1.7h-3.8zM248.8 198.9h6.2v1.7h-6.2zM262.9 198.9h12.0v1.7h-12.0zM276.9 198.9h2.6v1.7h-2.6zM77.6 197.9h1.5v1.7h-1.5zM82.3 197.9h2.6v1.7h-2.6zM89.3 197.9h3.8v1.7h-3.8zM106.9 197.9h1.5v1.7h-1.5zM242.8 197.9h2.6v1.7h-2.6zM248.7 197.9h8.5v1.7h-8.5zM261.5 197.9h14.4v1.7h-14.4zM276.8 197.9h2.6v1.7h-2.6zM75.4 196.9h2.6v1.7h-2.6zM90.6 196.9h3.8v1.7h-3.8zM103.5 196.9h1.5v1.7h-1.5zM248.5 196.9h8.5v1.7h-8.5zM261.4 196.9h14.3v1.7h-14.3zM277.8 196.9h1.5v1.7h-1.5zM75.6 195.9h2.6v1.7h-2.6zM97.8 195.9h2.6v1.7h-2.6zM248.4 195.9h22.5v1.7h-22.5zM271.8 195.9h6.1v1.7h-6.1zM278.8 195.9h1.5v1.7h-1.5zM75.8 194.9h1.5v1.7h-1.5zM247.1 194.9h1.5v1.7h-1.5zM249.5 194.9h24.8v1.7h-24.8zM275.1 194.9h1.5v1.7h-1.5zM247.0 193.9h1.5v1.7h-1.5zM249.3 193.9h25.9v1.7h-25.9zM248.0 192.8h2.6v1.7h-2.6zM251.5 192.8h7.3v1.7h-7.3zM259.6 192.8h13.1v1.7h-13.1zM99.5 191.8h1.5v1.7h-1.5zM247.9 191.8h8.4v1.7h-8.4zM259.4 191.8h6.1v1.7h-6.1zM266.4 191.8h1.5v1.7h-1.5zM84.7 190.8h1.5v1.7h-1.5zM99.7 190.8h1.5v1.7h-1.5zM250.0 190.8h4.9v1.7h-4.9zM259.2 190.8h7.2v1.7h-7.2zM83.7 189.8h2.6v1.7h-2.6zM98.7 189.8h2.6v1.7h-2.6zM254.4 189.8h1.5v1.7h-1.5zM256.7 189.8h1.5v1.7h-1.5zM259.0 189.8h6.1v1.7h-6.1zM267.1 189.8h1.5v1.7h-1.5zM274.0 189.8h1.5v1.7h-1.5zM82.8 188.8h2.6v1.7h-2.6zM86.3 188.8h1.5v1.7h-1.5zM97.8 188.8h3.8v1.7h-3.8zM247.3 188.8h1.5v1.7h-1.5zM258.8 188.8h6.1v1.7h-6.1zM84.2 187.8h9.5v1.7h-9.5zM95.7 187.8h1.4v1.7h-1.4zM98.0 187.8h3.7v1.7h-3.7zM244.8 187.8h2.6v1.7h-2.6zM263.2 187.8h1.4v1.7h-1.4zM275.8 187.8h1.4v1.7h-1.4zM279.2 187.8h1.4v1.7h-1.4zM281.5 187.8h1.4v1.7h-1.4zM82.2 186.8h11.7v1.7h-11.7zM98.2 186.8h2.6v1.7h-2.6zM244.6 186.8h1.4v1.7h-1.4zM246.9 186.8h1.4v1.7h-1.4zM273.2 186.8h1.4v1.7h-1.4zM275.5 186.8h2.6v1.7h-2.6zM278.9 186.8h2.6v1.7h-2.6zM83.6 185.8h9.4v1.7h-9.4zM93.9 185.8h1.4v1.7h-1.4zM98.5 185.8h1.4v1.7h-1.4zM242.1 185.8h1.4v1.7h-1.4zM244.4 185.8h1.4v1.7h-1.4zM246.7 185.8h1.4v1.7h-1.4zM272.9 185.8h3.7v1.7h-3.7zM82.8 184.8h3.7v1.7h-3.7zM87.4 184.8h7.1v1.7h-7.1zM243.0 184.8h2.6v1.7h-2.6zM271.4 184.8h1.4v1.7h-1.4zM273.7 184.8h2.6v1.7h-2.6zM294.2 184.8h1.4v1.7h-1.4zM88.8 183.7h4.8v1.7h-4.8zM273.4 183.7h1.4v1.7h-1.4zM292.6 183.7h6.0v1.7h-6.0zM88.0 182.7h7.1v1.7h-7.1zM95.9 182.7h3.7v1.7h-3.7zM293.3 182.7h5.9v1.7h-5.9zM89.4 181.7h12.7v1.7h-12.7zM105.2 181.7h2.5v1.7h-2.5zM288.4 181.7h1.4v1.7h-1.4zM294.0 181.7h8.2v1.7h-8.2zM89.8 180.7h14.9v1.7h-14.9zM105.4 180.7h2.5v1.7h-2.5zM296.9 180.7h4.8v1.7h-4.8zM91.2 179.7h7.0v1.7h-7.0zM99.0 179.7h8.1v1.7h-8.1zM296.4 179.7h4.8v1.7h-4.8zM92.7 178.7h15.8v1.7h-15.8zM298.1 178.7h3.6v1.7h-3.6zM90.8 177.7h1.4v1.7h-1.4zM94.2 177.7h14.7v1.7h-14.7zM297.6 177.7h3.6v1.7h-3.6zM64.8 176.7h2.5v1.7h-2.5zM96.7 176.7h1.4v1.7h-1.4zM98.9 176.7h11.3v1.7h-11.3zM167.1 176.7h1.4v1.7h-1.4zM298.1 176.7h2.5v1.7h-2.5zM65.3 175.7h3.6v1.7h-3.6zM98.2 175.7h1.4v1.7h-1.4zM104.8 175.7h6.9v1.7h-6.9zM167.2 175.7h1.4v1.7h-1.4zM188.0 175.7h4.7v1.7h-4.7zM297.5 175.7h2.5v1.7h-2.5zM65.9 174.7h1.4v1.7h-1.4zM102.9 174.7h1.4v1.7h-1.4zM106.2 174.7h2.5v1.7h-2.5zM109.5 174.7h4.7v1.7h-4.7zM168.3 174.7h1.4v1.7h-1.4zM191.2 174.7h1.4v1.7h-1.4zM296.9 174.7h1.4v1.7h-1.4zM66.5 173.7h2.5v1.7h-2.5zM108.7 173.7h5.7v1.7h-5.7zM166.2 173.7h6.8v1.7h-6.8zM190.0 173.7h1.4v1.7h-1.4zM296.2 173.7h4.6v1.7h-4.6zM67.0 172.7h1.4v1.7h-1.4zM109.1 172.7h5.7v1.7h-5.7zM117.7 172.7h1.4v1.7h-1.4zM167.3 172.7h3.5v1.7h-3.5zM171.6 172.7h3.5v1.7h-3.5zM187.8 172.7h3.5v1.7h-3.5zM296.7 172.7h4.6v1.7h-4.6zM67.6 171.7h2.4v1.7h-2.4zM111.6 171.7h5.7v1.7h-5.7zM118.0 171.7h3.5v1.7h-3.5zM178.1 171.7h5.7v1.7h-5.7zM184.5 171.7h1.4v1.7h-1.4zM187.7 171.7h1.4v1.7h-1.4zM296.0 171.7h3.5v1.7h-3.5zM68.2 170.7h3.5v1.7h-3.5zM113.0 170.7h9.9v1.7h-9.9zM178.0 170.7h11.0v1.7h-11.0zM295.3 170.7h1.4v1.7h-1.4zM69.9 169.7h2.4v1.7h-2.4zM113.4 169.7h7.7v1.7h-7.7zM122.9 169.7h1.4v1.7h-1.4zM178.0 169.7h2.4v1.7h-2.4zM181.2 169.7h6.7v1.7h-6.7zM295.7 169.7h1.4v1.7h-1.4zM69.5 168.7h4.5v1.7h-4.5zM114.8 168.7h3.5v1.7h-3.5zM119.0 168.7h1.4v1.7h-1.4zM125.3 168.7h5.6v1.7h-5.6zM171.7 168.7h1.4v1.7h-1.4zM181.2 168.7h1.4v1.7h-1.4zM185.4 168.7h1.4v1.7h-1.4zM70.1 167.7h2.4v1.7h-2.4zM116.2 167.7h5.5v1.7h-5.5zM125.6 167.7h5.5v1.7h-5.5zM170.7 167.7h5.5v1.7h-5.5zM69.7 166.7h4.5v1.7h-4.5zM116.6 166.7h4.5v1.7h-4.5zM125.9 166.7h4.5v1.7h-4.5zM172.8 166.7h2.4v1.7h-2.4zM189.4 166.7h1.3v1.7h-1.3zM191.5 166.7h1.3v1.7h-1.3zM69.4 165.8h4.4v1.7h-4.4zM119.0 165.8h6.5v1.7h-6.5zM127.3 165.8h1.3v1.7h-1.3zM169.7 165.8h3.4v1.7h-3.4zM70.1 164.8h3.4v1.7h-3.4zM122.5 164.8h1.3v1.7h-1.3zM124.5 164.8h2.4v1.7h-2.4zM170.7 164.8h4.4v1.7h-4.4zM70.8 163.8h3.4v1.7h-3.4zM114.7 163.8h2.3v1.7h-2.3zM166.7 163.8h1.3v1.7h-1.3zM170.8 163.8h4.4v1.7h-4.4zM302.4 163.8h2.3v1.7h-2.3zM67.5 162.9h1.3v1.7h-1.3zM70.5 162.9h2.3v1.7h-2.3zM73.6 162.9h1.3v1.7h-1.3zM119.1 162.9h1.3v1.7h-1.3zM166.7 162.9h1.3v1.7h-1.3zM170.8 162.9h5.4v1.7h-5.4zM300.4 162.9h2.3v1.7h-2.3zM68.3 161.9h1.3v1.7h-1.3zM70.3 161.9h2.3v1.7h-2.3zM166.8 161.9h4.3v1.7h-4.3zM171.8 161.9h3.3v1.7h-3.3zM70.1 160.9h4.3v1.7h-4.3zM167.9 160.9h1.3v1.7h-1.3zM169.9 160.9h5.3v1.7h-5.3zM69.9 160.0h2.3v1.7h-2.3zM169.9 160.0h4.3v1.7h-4.3zM69.8 159.0h2.3v1.6h-2.3zM169.9 159.0h4.2v1.6h-4.2zM55.1 158.1h1.3v1.6h-1.3zM69.7 158.1h3.2v1.6h-3.2zM170.0 158.1h4.2v1.6h-4.2zM68.7 157.2h4.2v1.6h-4.2zM170.0 157.2h3.2v1.6h-3.2zM57.1 156.2h1.3v1.6h-1.3zM60.0 156.2h1.3v1.6h-1.3zM67.7 156.2h3.2v1.6h-3.2zM62.0 155.3h5.0v1.6h-5.0zM139.8 155.3h3.1v1.6h-3.1zM179.6 155.3h1.2v1.6h-1.2zM64.9 154.4h1.2v1.6h-1.2zM138.2 154.4h5.0v1.6h-5.0zM178.6 154.4h2.2v1.6h-2.2zM141.3 153.5h1.2v1.6h-1.2zM178.6 153.5h1.2v1.6h-1.2zM160.1 152.6h2.1v1.6h-2.1zM180.4 152.6h1.2v1.6h-1.2zM158.4 151.7h3.0v1.6h-3.0zM162.1 151.7h2.1v1.6h-2.1zM182.2 151.7h1.2v1.6h-1.2zM160.4 150.8h2.1v1.6h-2.1zM164.0 150.8h1.2v1.6h-1.2zM187.0 147.3h1.2v1.6h-1.2z"/><path fill="#FF3800" d="M111.6 270.6h2.4v1.7h-2.4zM111.2 269.6h2.4v1.7h-2.4zM315.8 269.6h3.5v1.7h-3.5zM110.9 268.6h1.4v1.7h-1.4zM316.7 268.6h2.4v1.7h-2.4zM319.9 268.6h1.4v1.7h-1.4zM111.6 267.6h1.4v1.7h-1.4zM318.5 267.6h4.6v1.7h-4.6zM111.2 266.6h1.4v1.7h-1.4zM301.0 266.6h1.4v1.7h-1.4zM319.3 266.6h5.7v1.7h-5.7zM110.9 265.6h1.4v1.7h-1.4zM300.6 265.6h1.4v1.7h-1.4zM302.8 265.6h1.4v1.7h-1.4zM322.3 265.6h3.6v1.7h-3.6zM110.6 264.6h2.5v1.7h-2.5zM301.2 264.6h1.4v1.7h-1.4zM303.4 264.6h1.4v1.7h-1.4zM324.1 264.6h4.7v1.7h-4.7zM110.2 263.6h1.4v1.7h-1.4zM303.0 263.6h2.5v1.7h-2.5zM324.9 263.6h5.8v1.7h-5.8zM109.9 262.6h2.5v1.7h-2.5zM327.8 262.6h3.6v1.7h-3.6zM109.6 261.6h3.6v1.7h-3.6zM328.5 261.6h1.4v1.7h-1.4zM331.8 261.6h1.4v1.7h-1.4zM330.3 260.6h1.4v1.7h-1.4zM121.1 258.6h1.4v1.7h-1.4zM120.9 257.6h2.5v1.7h-2.5zM120.7 256.6h3.7v1.7h-3.7zM119.4 255.5h8.2v1.7h-8.2zM118.0 254.5h1.4v1.7h-1.4zM121.4 254.5h7.1v1.7h-7.1zM117.8 253.5h10.6v1.7h-10.6zM118.8 252.5h1.4v1.7h-1.4zM121.1 252.5h8.3v1.7h-8.3zM119.8 251.5h10.6v1.7h-10.6zM119.6 250.5h10.7v1.7h-10.7zM119.5 249.5h10.7v1.7h-10.7zM118.2 248.5h9.5v1.7h-9.5zM128.6 248.5h1.5v1.7h-1.5zM118.1 247.5h13.0v1.7h-13.0zM117.9 246.4h11.9v1.7h-11.9zM119.0 245.4h13.1v1.7h-13.1zM117.7 244.4h14.3v1.7h-14.3zM118.8 243.4h13.1v1.7h-13.1zM124.6 242.4h1.5v1.7h-1.5zM129.2 242.4h3.8v1.7h-3.8zM219.3 242.4h1.5v1.7h-1.5zM123.3 241.4h3.8v1.7h-3.8zM122.0 240.4h3.8v1.7h-3.8zM129.1 240.4h2.6v1.7h-2.6zM219.4 240.4h1.5v1.7h-1.5zM123.1 239.4h2.7v1.7h-2.7zM220.7 239.4h1.5v1.7h-1.5zM108.9 238.4h1.5v1.7h-1.5zM124.2 238.4h1.5v1.7h-1.5zM219.6 238.4h1.5v1.7h-1.5zM107.7 237.3h3.8v1.7h-3.8zM112.4 237.3h1.5v1.7h-1.5zM124.2 237.3h1.5v1.7h-1.5zM127.7 237.3h1.5v1.7h-1.5zM108.8 236.3h7.4v1.7h-7.4zM119.4 236.3h1.5v1.7h-1.5zM121.7 236.3h1.5v1.7h-1.5zM124.1 236.3h1.5v1.7h-1.5zM126.5 236.3h5.0v1.7h-5.0zM106.3 235.3h1.5v1.7h-1.5zM109.8 235.3h5.0v1.7h-5.0zM115.8 235.3h8.6v1.7h-8.6zM126.4 235.3h2.7v1.7h-2.7zM220.9 235.3h1.5v1.7h-1.5zM105.0 234.3h1.5v1.7h-1.5zM107.4 234.3h6.2v1.7h-6.2zM114.5 234.3h3.8v1.7h-3.8zM119.2 234.3h5.0v1.7h-5.0zM127.5 234.3h2.7v1.7h-2.7zM221.0 234.3h1.5v1.7h-1.5zM105.0 233.3h11.0v1.7h-11.0zM116.8 233.3h8.6v1.7h-8.6zM221.0 233.3h1.5v1.7h-1.5zM101.3 232.3h1.5v1.7h-1.5zM103.7 232.3h5.0v1.7h-5.0zM109.6 232.3h8.6v1.7h-8.6zM119.1 232.3h1.5v1.7h-1.5zM122.7 232.3h1.5v1.7h-1.5zM190.3 232.3h1.5v1.7h-1.5zM102.5 231.3h5.0v1.7h-5.0zM108.4 231.3h5.0v1.7h-5.0zM115.5 231.3h1.5v1.7h-1.5zM117.9 231.3h5.0v1.7h-5.0zM123.8 231.3h1.5v1.7h-1.5zM187.9 231.3h3.9v1.7h-3.9zM198.6 231.3h1.5v1.7h-1.5zM316.1 231.3h2.7v1.7h-2.7zM100.0 230.3h12.2v1.7h-12.2zM113.1 230.3h1.5v1.7h-1.5zM115.5 230.3h2.7v1.7h-2.7zM119.0 230.3h8.6v1.7h-8.6zM129.7 230.3h2.7v1.7h-2.7zM186.7 230.3h3.9v1.7h-3.9zM315.0 230.3h3.9v1.7h-3.9zM100.0 229.3h27.6v1.7h-27.6zM128.5 229.3h3.9v1.7h-3.9zM186.7 229.3h5.1v1.7h-5.1zM308.0 229.3h3.9v1.7h-3.9zM313.9 229.3h3.9v1.7h-3.9zM101.1 228.2h28.8v1.7h-28.8zM186.7 228.2h8.6v1.7h-8.6zM278.3 228.2h3.9v1.7h-3.9zM305.7 228.2h11.0v1.7h-11.0zM99.9 227.2h28.9v1.7h-28.9zM187.9 227.2h7.4v1.7h-7.4zM277.2 227.2h2.7v1.7h-2.7zM307.0 227.2h9.8v1.7h-9.8zM99.8 226.2h27.7v1.7h-27.7zM128.4 226.2h1.5v1.7h-1.5zM186.8 226.2h11.0v1.7h-11.0zM198.7 226.2h3.9v1.7h-3.9zM203.4 226.2h1.5v1.7h-1.5zM305.8 226.2h9.8v1.7h-9.8zM316.5 226.2h2.7v1.7h-2.7zM98.6 225.2h25.3v1.7h-25.3zM124.8 225.2h2.7v1.7h-2.7zM185.6 225.2h15.8v1.7h-15.8zM273.7 225.2h1.5v1.7h-1.5zM289.2 225.2h1.5v1.7h-1.5zM304.7 225.2h15.8v1.7h-15.8zM98.6 224.2h20.6v1.7h-20.6zM120.0 224.2h1.5v1.7h-1.5zM185.6 224.2h20.6v1.7h-20.6zM271.4 224.2h5.1v1.7h-5.1zM283.3 224.2h2.7v1.7h-2.7zM288.1 224.2h2.7v1.7h-2.7zM301.2 224.2h12.2v1.7h-12.2zM317.9 224.2h2.7v1.7h-2.7zM97.4 223.2h19.4v1.7h-19.4zM184.4 223.2h21.8v1.7h-21.8zM271.4 223.2h5.1v1.7h-5.1zM279.8 223.2h6.3v1.7h-6.3zM288.1 223.2h3.9v1.7h-3.9zM301.2 223.2h11.0v1.7h-11.0zM97.3 222.2h18.2v1.7h-18.2zM184.4 222.2h20.6v1.7h-20.6zM207.0 222.2h1.5v1.7h-1.5zM270.3 222.2h7.5v1.7h-7.5zM279.8 222.2h7.5v1.7h-7.5zM288.1 222.2h3.9v1.7h-3.9zM300.1 222.2h9.8v1.7h-9.8zM97.3 221.2h19.4v1.7h-19.4zM183.2 221.2h21.8v1.7h-21.8zM270.3 221.2h5.1v1.7h-5.1zM278.6 221.2h8.6v1.7h-8.6zM288.2 221.2h5.1v1.7h-5.1zM298.9 221.2h5.1v1.7h-5.1zM306.1 221.2h1.5v1.7h-1.5zM98.5 220.2h15.8v1.7h-15.8zM183.2 220.2h21.8v1.7h-21.8zM207.1 220.2h2.7v1.7h-2.7zM269.1 220.2h5.1v1.7h-5.1zM278.6 220.2h8.7v1.7h-8.7zM288.2 220.2h1.5v1.7h-1.5zM300.1 220.2h2.7v1.7h-2.7zM98.5 219.1h15.8v1.7h-15.8zM117.6 219.1h1.5v1.7h-1.5zM183.2 219.1h23.0v1.7h-23.0zM207.1 219.1h2.7v1.7h-2.7zM269.1 219.1h5.1v1.7h-5.1zM278.6 219.1h9.8v1.7h-9.8zM289.4 219.1h1.5v1.7h-1.5zM99.7 218.1h14.6v1.7h-14.6zM183.2 218.1h25.3v1.7h-25.3zM267.9 218.1h7.5v1.7h-7.5zM278.6 218.1h9.8v1.7h-9.8zM99.7 217.1h14.6v1.7h-14.6zM183.2 217.1h23.0v1.7h-23.0zM267.9 217.1h6.3v1.7h-6.3zM278.6 217.1h9.8v1.7h-9.8zM100.9 216.1h14.6v1.7h-14.6zM183.2 216.1h21.8v1.7h-21.8zM205.8 216.1h1.5v1.7h-1.5zM266.6 216.1h7.5v1.7h-7.5zM281.0 216.1h7.5v1.7h-7.5zM101.0 215.1h14.6v1.7h-14.6zM182.0 215.1h24.1v1.7h-24.1zM211.8 215.1h1.5v1.7h-1.5zM265.4 215.1h3.9v1.7h-3.9zM270.2 215.1h3.9v1.7h-3.9zM283.3 215.1h5.1v1.7h-5.1zM101.0 214.1h13.4v1.7h-13.4zM115.3 214.1h2.7v1.7h-2.7zM171.3 214.1h1.5v1.7h-1.5zM173.7 214.1h1.5v1.7h-1.5zM179.6 214.1h25.3v1.7h-25.3zM265.4 214.1h3.9v1.7h-3.9zM270.2 214.1h3.9v1.7h-3.9zM283.3 214.1h6.3v1.7h-6.3zM101.0 213.1h13.4v1.7h-13.4zM115.3 213.1h1.5v1.7h-1.5zM117.7 213.1h2.7v1.7h-2.7zM164.1 213.1h3.9v1.7h-3.9zM170.1 213.1h33.6v1.7h-33.6zM208.2 213.1h3.9v1.7h-3.9zM213.0 213.1h1.5v1.7h-1.5zM270.1 213.1h3.9v1.7h-3.9zM284.4 213.1h3.9v1.7h-3.9zM292.7 213.1h2.7v1.7h-2.7zM99.9 212.1h12.2v1.7h-12.2zM113.0 212.1h1.5v1.7h-1.5zM118.9 212.1h1.5v1.7h-1.5zM162.9 212.1h12.2v1.7h-12.2zM176.0 212.1h1.5v1.7h-1.5zM178.4 212.1h22.9v1.7h-22.9zM209.4 212.1h3.9v1.7h-3.9zM214.1 212.1h1.5v1.7h-1.5zM268.9 212.1h3.9v1.7h-3.9zM285.5 212.1h1.5v1.7h-1.5zM292.7 212.1h3.9v1.7h-3.9zM95.2 211.0h3.9v1.7h-3.9zM99.9 211.0h9.8v1.7h-9.8zM110.6 211.0h2.7v1.7h-2.7zM117.8 211.0h1.5v1.7h-1.5zM161.8 211.0h7.4v1.7h-7.4zM170.1 211.0h1.5v1.7h-1.5zM174.8 211.0h1.5v1.7h-1.5zM179.6 211.0h21.7v1.7h-21.7zM209.3 211.0h1.5v1.7h-1.5zM214.1 211.0h1.5v1.7h-1.5zM267.6 211.0h3.9v1.7h-3.9zM291.4 211.0h3.9v1.7h-3.9zM98.8 210.0h2.7v1.7h-2.7zM102.3 210.0h7.4v1.7h-7.4zM110.7 210.0h3.9v1.7h-3.9zM161.8 210.0h6.2v1.7h-6.2zM172.5 210.0h1.5v1.7h-1.5zM178.4 210.0h1.5v1.7h-1.5zM183.2 210.0h3.9v1.7h-3.9zM192.7 210.0h3.9v1.7h-3.9zM198.6 210.0h1.5v1.7h-1.5zM208.1 210.0h1.5v1.7h-1.5zM247.4 210.0h2.7v1.7h-2.7zM250.9 210.0h1.5v1.7h-1.5zM267.6 210.0h2.7v1.7h-2.7zM274.7 210.0h1.5v1.7h-1.5zM291.3 210.0h3.9v1.7h-3.9zM92.9 209.0h2.7v1.7h-2.7zM102.4 209.0h1.5v1.7h-1.5zM104.8 209.0h9.8v1.7h-9.8zM160.6 209.0h6.2v1.7h-6.2zM208.1 209.0h2.7v1.7h-2.7zM247.3 209.0h3.9v1.7h-3.9zM267.5 209.0h2.7v1.7h-2.7zM273.4 209.0h3.9v1.7h-3.9zM291.2 209.0h3.9v1.7h-3.9zM93.0 208.0h3.9v1.7h-3.9zM103.6 208.0h7.4v1.7h-7.4zM112.0 208.0h1.5v1.7h-1.5zM160.6 208.0h7.4v1.7h-7.4zM168.9 208.0h1.5v1.7h-1.5zM208.1 208.0h1.5v1.7h-1.5zM247.2 208.0h1.5v1.7h-1.5zM249.6 208.0h1.5v1.7h-1.5zM268.6 208.0h1.5v1.7h-1.5zM272.2 208.0h6.2v1.7h-6.2zM290.0 208.0h5.0v1.7h-5.0zM91.9 207.0h3.9v1.7h-3.9zM108.5 207.0h1.5v1.7h-1.5zM159.4 207.0h8.6v1.7h-8.6zM206.9 207.0h1.5v1.7h-1.5zM209.2 207.0h1.5v1.7h-1.5zM248.4 207.0h2.7v1.7h-2.7zM268.5 207.0h1.5v1.7h-1.5zM272.1 207.0h7.4v1.7h-7.4zM289.9 207.0h5.0v1.7h-5.0zM91.9 206.0h3.9v1.7h-3.9zM160.6 206.0h5.0v1.7h-5.0zM208.0 206.0h1.5v1.7h-1.5zM247.1 206.0h3.9v1.7h-3.9zM267.2 206.0h12.1v1.7h-12.1zM290.9 206.0h3.9v1.7h-3.9zM88.5 205.0h8.6v1.7h-8.6zM160.7 205.0h1.5v1.7h-1.5zM245.8 205.0h1.5v1.7h-1.5zM250.6 205.0h1.5v1.7h-1.5zM268.3 205.0h10.9v1.7h-10.9zM288.4 205.0h3.8v1.7h-3.8zM87.4 204.0h9.8v1.7h-9.8zM250.5 204.0h1.5v1.7h-1.5zM267.0 204.0h12.1v1.7h-12.1zM288.3 204.0h2.7v1.7h-2.7zM86.3 203.0h10.9v1.7h-10.9zM244.5 203.0h2.7v1.7h-2.7zM270.5 203.0h7.4v1.7h-7.4zM288.2 203.0h2.7v1.7h-2.7zM81.7 201.9h10.9v1.7h-10.9zM243.2 201.9h1.5v1.7h-1.5zM249.1 201.9h3.8v1.7h-3.8zM270.3 201.9h7.4v1.7h-7.4zM288.0 201.9h2.7v1.7h-2.7zM79.5 200.9h5.0v1.7h-5.0zM85.4 200.9h7.4v1.7h-7.4zM244.3 200.9h1.5v1.7h-1.5zM251.4 200.9h2.7v1.7h-2.7zM265.5 200.9h3.8v1.7h-3.8zM270.2 200.9h6.2v1.7h-6.2zM287.8 200.9h2.7v1.7h-2.7zM79.7 199.9h1.5v1.7h-1.5zM83.2 199.9h9.7v1.7h-9.7zM100.8 199.9h2.7v1.7h-2.7zM105.5 199.9h1.5v1.7h-1.5zM111.4 199.9h1.5v1.7h-1.5zM243.0 199.9h2.7v1.7h-2.7zM251.2 199.9h3.8v1.7h-3.8zM266.5 199.9h8.5v1.7h-8.5zM277.1 199.9h1.5v1.7h-1.5zM287.7 199.9h2.7v1.7h-2.7zM81.0 198.9h5.0v1.7h-5.0zM89.2 198.9h3.8v1.7h-3.8zM106.8 198.9h3.8v1.7h-3.8zM248.8 198.9h2.6v1.7h-2.6zM252.3 198.9h1.5v1.7h-1.5zM266.4 198.9h1.5v1.7h-1.5zM276.9 198.9h2.6v1.7h-2.6zM77.6 197.9h1.5v1.7h-1.5zM82.3 197.9h2.6v1.7h-2.6zM89.3 197.9h3.8v1.7h-3.8zM242.8 197.9h2.6v1.7h-2.6zM248.7 197.9h1.5v1.7h-1.5zM254.5 197.9h2.6v1.7h-2.6zM262.7 197.9h3.8v1.7h-3.8zM270.9 197.9h5.0v1.7h-5.0zM276.8 197.9h2.6v1.7h-2.6zM90.6 196.9h3.8v1.7h-3.8zM103.5 196.9h1.5v1.7h-1.5zM248.5 196.9h1.5v1.7h-1.5zM254.4 196.9h2.6v1.7h-2.6zM262.6 196.9h3.8v1.7h-3.8zM267.2 196.9h2.6v1.7h-2.6zM274.3 196.9h1.5v1.7h-1.5zM277.8 196.9h1.5v1.7h-1.5zM97.8 195.9h2.6v1.7h-2.6zM248.4 195.9h1.5v1.7h-1.5zM253.1 195.9h2.6v1.7h-2.6zM256.6 195.9h1.5v1.7h-1.5zM258.9 195.9h1.5v1.7h-1.5zM261.3 195.9h1.5v1.7h-1.5zM267.1 195.9h1.5v1.7h-1.5zM75.8 194.9h1.5v1.7h-1.5zM247.1 194.9h1.5v1.7h-1.5zM249.5 194.9h1.5v1.7h-1.5zM256.4 194.9h7.3v1.7h-7.3zM264.6 194.9h1.5v1.7h-1.5zM266.9 194.9h2.6v1.7h-2.6zM255.1 193.9h1.5v1.7h-1.5zM258.6 193.9h5.0v1.7h-5.0zM264.4 193.9h1.5v1.7h-1.5zM267.9 193.9h1.5v1.7h-1.5zM271.4 193.9h1.5v1.7h-1.5zM259.6 192.8h2.6v1.7h-2.6zM263.1 192.8h3.8v1.7h-3.8zM271.2 192.8h1.5v1.7h-1.5zM259.4 191.8h6.1v1.7h-6.1zM259.2 190.8h7.2v1.7h-7.2zM83.7 189.8h1.5v1.7h-1.5zM99.9 189.8h1.5v1.7h-1.5zM259.0 189.8h6.1v1.7h-6.1zM86.3 188.8h1.5v1.7h-1.5zM100.1 188.8h1.5v1.7h-1.5zM247.3 188.8h1.5v1.7h-1.5zM260.0 188.8h2.6v1.7h-2.6zM263.4 188.8h1.5v1.7h-1.5zM85.4 187.8h1.4v1.7h-1.4zM275.8 187.8h1.4v1.7h-1.4zM87.9 186.8h1.4v1.7h-1.4zM91.6 185.8h1.4v1.7h-1.4zM294.2 184.8h1.4v1.7h-1.4zM91.1 183.7h1.4v1.7h-1.4zM292.6 183.7h6.0v1.7h-6.0zM93.6 182.7h1.4v1.7h-1.4zM95.9 182.7h1.4v1.7h-1.4zM293.3 182.7h5.9v1.7h-5.9zM294.0 181.7h8.2v1.7h-8.2zM106.6 180.7h1.4v1.7h-1.4zM296.9 180.7h4.8v1.7h-4.8zM93.4 179.7h1.4v1.7h-1.4zM95.7 179.7h1.4v1.7h-1.4zM296.4 179.7h4.8v1.7h-4.8zM102.7 178.7h1.4v1.7h-1.4zM298.1 178.7h3.6v1.7h-3.6zM297.6 177.7h3.6v1.7h-3.6zM167.1 176.7h1.4v1.7h-1.4zM298.1 176.7h2.5v1.7h-2.5zM190.2 175.7h1.4v1.7h-1.4zM298.6 175.7h1.4v1.7h-1.4zM191.2 174.7h1.4v1.7h-1.4zM109.8 173.7h1.4v1.7h-1.4zM170.5 173.7h1.4v1.7h-1.4zM297.3 173.7h1.4v1.7h-1.4zM168.4 172.7h2.5v1.7h-2.5zM187.8 172.7h1.4v1.7h-1.4zM115.9 171.7h1.4v1.7h-1.4zM68.2 170.7h1.4v1.7h-1.4zM70.4 170.7h1.4v1.7h-1.4zM120.5 170.7h1.4v1.7h-1.4zM179.1 170.7h1.4v1.7h-1.4zM186.6 170.7h2.4v1.7h-2.4zM69.9 169.7h1.4v1.7h-1.4zM186.5 169.7h1.4v1.7h-1.4zM115.8 168.7h1.4v1.7h-1.4zM125.3 168.7h1.4v1.7h-1.4zM70.1 167.7h2.4v1.7h-2.4zM129.8 167.7h1.3v1.7h-1.3zM70.7 166.7h2.4v1.7h-2.4zM129.0 166.7h1.3v1.7h-1.3zM69.4 165.8h3.4v1.7h-3.4zM70.1 164.8h3.4v1.7h-3.4zM170.7 164.8h1.3v1.7h-1.3zM70.8 163.8h3.4v1.7h-3.4zM166.7 163.8h1.3v1.7h-1.3zM70.5 162.9h1.3v1.7h-1.3zM166.7 162.9h1.3v1.7h-1.3zM68.3 161.9h1.3v1.7h-1.3zM70.3 161.9h1.3v1.7h-1.3zM167.8 161.9h1.3v1.7h-1.3zM70.1 160.9h1.3v1.7h-1.3zM72.1 160.9h2.3v1.7h-2.3zM167.9 160.9h1.3v1.7h-1.3zM169.9 160.9h2.3v1.7h-2.3zM69.9 160.0h2.3v1.7h-2.3zM69.8 159.0h2.3v1.6h-2.3zM169.9 159.0h2.3v1.6h-2.3zM69.7 158.1h3.2v1.6h-3.2zM170.0 158.1h1.3v1.6h-1.3zM68.7 157.2h3.2v1.6h-3.2zM170.0 157.2h1.3v1.6h-1.3zM60.0 156.2h1.3v1.6h-1.3zM67.7 156.2h1.3v1.6h-1.3zM69.6 156.2h1.3v1.6h-1.3zM65.8 155.3h1.2v1.6h-1.2zM142.0 154.4h1.2v1.6h-1.2zM178.6 154.4h2.2v1.6h-2.2zM178.6 153.5h1.2v1.6h-1.2zM182.2 151.7h1.2v1.6h-1.2z"/><path fill="#D82828" d="M316.7 268.6h1.4v1.7h-1.4zM111.6 267.6h1.4v1.7h-1.4zM318.5 267.6h1.4v1.7h-1.4zM111.2 266.6h1.4v1.7h-1.4zM319.3 266.6h1.4v1.7h-1.4zM110.6 264.6h1.4v1.7h-1.4zM110.2 263.6h1.4v1.7h-1.4zM109.9 262.6h1.4v1.7h-1.4zM327.8 262.6h1.4v1.7h-1.4zM330.0 262.6h1.4v1.7h-1.4zM328.5 261.6h1.4v1.7h-1.4zM330.3 260.6h1.4v1.7h-1.4zM123.0 256.6h1.4v1.7h-1.4zM119.4 255.5h7.1v1.7h-7.1zM121.4 254.5h1.4v1.7h-1.4zM123.7 254.5h1.4v1.7h-1.4zM126.0 254.5h2.6v1.7h-2.6zM120.1 253.5h2.6v1.7h-2.6zM123.5 253.5h4.9v1.7h-4.9zM121.1 252.5h8.3v1.7h-8.3zM119.8 251.5h8.3v1.7h-8.3zM119.6 250.5h8.4v1.7h-8.4zM119.5 249.5h2.6v1.7h-2.6zM123.0 249.5h4.9v1.7h-4.9zM128.7 249.5h1.5v1.7h-1.5zM120.5 248.5h7.2v1.7h-7.2zM128.6 248.5h1.5v1.7h-1.5zM120.4 247.5h10.7v1.7h-10.7zM119.1 246.4h9.6v1.7h-9.6zM119.0 245.4h3.8v1.7h-3.8zM123.7 245.4h7.3v1.7h-7.3zM120.1 244.4h6.1v1.7h-6.1zM127.1 244.4h5.0v1.7h-5.0zM121.1 243.4h5.0v1.7h-5.0zM128.1 243.4h3.8v1.7h-3.8zM124.6 242.4h1.5v1.7h-1.5zM130.3 240.4h1.5v1.7h-1.5zM123.1 239.4h1.5v1.7h-1.5zM114.7 236.3h1.5v1.7h-1.5zM120.5 235.3h1.5v1.7h-1.5zM122.8 234.3h1.5v1.7h-1.5zM103.6 231.3h1.5v1.7h-1.5zM106.0 231.3h1.5v1.7h-1.5zM110.8 231.3h1.5v1.7h-1.5zM115.5 231.3h1.5v1.7h-1.5zM316.1 231.3h2.7v1.7h-2.7zM102.4 230.3h1.5v1.7h-1.5zM106.0 230.3h2.7v1.7h-2.7zM109.5 230.3h2.7v1.7h-2.7zM113.1 230.3h1.5v1.7h-1.5zM119.0 230.3h2.7v1.7h-2.7zM122.6 230.3h1.5v1.7h-1.5zM125.0 230.3h2.7v1.7h-2.7zM315.0 230.3h3.9v1.7h-3.9zM100.0 229.3h1.5v1.7h-1.5zM102.3 229.3h6.2v1.7h-6.2zM109.5 229.3h1.5v1.7h-1.5zM114.2 229.3h11.0v1.7h-11.0zM126.1 229.3h1.5v1.7h-1.5zM186.7 229.3h1.5v1.7h-1.5zM308.0 229.3h1.5v1.7h-1.5zM310.4 229.3h1.5v1.7h-1.5zM313.9 229.3h3.9v1.7h-3.9zM101.1 228.2h11.0v1.7h-11.0zM113.0 228.2h14.6v1.7h-14.6zM191.5 228.2h1.5v1.7h-1.5zM278.3 228.2h3.9v1.7h-3.9zM305.7 228.2h11.0v1.7h-11.0zM99.9 227.2h1.5v1.7h-1.5zM102.3 227.2h9.8v1.7h-9.8zM113.0 227.2h3.9v1.7h-3.9zM118.9 227.2h9.8v1.7h-9.8zM187.9 227.2h2.7v1.7h-2.7zM193.9 227.2h1.5v1.7h-1.5zM277.2 227.2h2.7v1.7h-2.7zM307.0 227.2h9.8v1.7h-9.8zM102.2 226.2h8.6v1.7h-8.6zM111.7 226.2h15.8v1.7h-15.8zM187.9 226.2h9.8v1.7h-9.8zM305.8 226.2h1.5v1.7h-1.5zM308.2 226.2h6.3v1.7h-6.3zM316.5 226.2h2.7v1.7h-2.7zM101.0 225.2h6.3v1.7h-6.3zM109.3 225.2h12.2v1.7h-12.2zM122.4 225.2h1.5v1.7h-1.5zM124.8 225.2h1.5v1.7h-1.5zM185.6 225.2h13.4v1.7h-13.4zM289.2 225.2h1.5v1.7h-1.5zM304.7 225.2h15.8v1.7h-15.8zM99.8 224.2h8.6v1.7h-8.6zM109.3 224.2h5.1v1.7h-5.1zM115.3 224.2h3.9v1.7h-3.9zM185.6 224.2h9.8v1.7h-9.8zM196.3 224.2h2.7v1.7h-2.7zM201.1 224.2h2.7v1.7h-2.7zM271.4 224.2h5.1v1.7h-5.1zM283.3 224.2h2.7v1.7h-2.7zM288.1 224.2h1.5v1.7h-1.5zM301.2 224.2h12.2v1.7h-12.2zM317.9 224.2h2.7v1.7h-2.7zM100.9 223.2h8.6v1.7h-8.6zM110.5 223.2h1.5v1.7h-1.5zM184.4 223.2h21.8v1.7h-21.8zM271.4 223.2h5.1v1.7h-5.1zM279.8 223.2h6.3v1.7h-6.3zM288.1 223.2h1.5v1.7h-1.5zM290.5 223.2h1.5v1.7h-1.5zM301.2 223.2h11.0v1.7h-11.0zM100.9 222.2h7.5v1.7h-7.5zM109.3 222.2h5.1v1.7h-5.1zM185.6 222.2h17.0v1.7h-17.0zM203.5 222.2h1.5v1.7h-1.5zM270.3 222.2h6.3v1.7h-6.3zM279.8 222.2h7.5v1.7h-7.5zM288.1 222.2h3.9v1.7h-3.9zM301.3 222.2h8.6v1.7h-8.6zM99.7 221.2h5.1v1.7h-5.1zM105.7 221.2h9.8v1.7h-9.8zM183.2 221.2h1.5v1.7h-1.5zM185.6 221.2h3.9v1.7h-3.9zM191.5 221.2h5.1v1.7h-5.1zM197.5 221.2h7.5v1.7h-7.5zM270.3 221.2h5.1v1.7h-5.1zM278.6 221.2h8.6v1.7h-8.6zM288.2 221.2h5.1v1.7h-5.1zM298.9 221.2h5.1v1.7h-5.1zM306.1 221.2h1.5v1.7h-1.5zM100.9 220.2h13.4v1.7h-13.4zM183.2 220.2h12.2v1.7h-12.2zM196.3 220.2h1.5v1.7h-1.5zM198.7 220.2h6.3v1.7h-6.3zM269.1 220.2h2.7v1.7h-2.7zM272.7 220.2h1.5v1.7h-1.5zM278.6 220.2h5.1v1.7h-5.1zM284.6 220.2h2.7v1.7h-2.7zM288.2 220.2h1.5v1.7h-1.5zM300.1 220.2h2.7v1.7h-2.7zM99.7 219.1h8.7v1.7h-8.7zM109.2 219.1h1.5v1.7h-1.5zM111.6 219.1h1.5v1.7h-1.5zM183.2 219.1h6.3v1.7h-6.3zM190.4 219.1h5.1v1.7h-5.1zM196.3 219.1h5.1v1.7h-5.1zM202.3 219.1h2.7v1.7h-2.7zM269.1 219.1h1.5v1.7h-1.5zM271.5 219.1h2.7v1.7h-2.7zM278.6 219.1h7.5v1.7h-7.5zM287.0 219.1h1.5v1.7h-1.5zM289.4 219.1h1.5v1.7h-1.5zM99.7 218.1h14.6v1.7h-14.6zM184.4 218.1h2.7v1.7h-2.7zM189.2 218.1h12.2v1.7h-12.2zM202.3 218.1h3.9v1.7h-3.9zM267.9 218.1h7.5v1.7h-7.5zM278.6 218.1h2.7v1.7h-2.7zM282.2 218.1h6.3v1.7h-6.3zM99.7 217.1h1.5v1.7h-1.5zM102.1 217.1h12.2v1.7h-12.2zM183.2 217.1h20.6v1.7h-20.6zM267.9 217.1h2.7v1.7h-2.7zM271.4 217.1h2.7v1.7h-2.7zM278.6 217.1h9.8v1.7h-9.8zM100.9 216.1h2.7v1.7h-2.7zM104.5 216.1h11.0v1.7h-11.0zM185.6 216.1h1.5v1.7h-1.5zM188.0 216.1h6.3v1.7h-6.3zM195.1 216.1h8.6v1.7h-8.6zM266.6 216.1h7.5v1.7h-7.5zM281.0 216.1h1.5v1.7h-1.5zM283.3 216.1h5.1v1.7h-5.1zM101.0 215.1h2.7v1.7h-2.7zM104.5 215.1h2.7v1.7h-2.7zM108.1 215.1h7.5v1.7h-7.5zM183.2 215.1h3.9v1.7h-3.9zM188.0 215.1h3.9v1.7h-3.9zM192.7 215.1h6.3v1.7h-6.3zM199.9 215.1h2.7v1.7h-2.7zM211.8 215.1h1.5v1.7h-1.5zM265.4 215.1h3.9v1.7h-3.9zM270.2 215.1h1.5v1.7h-1.5zM272.6 215.1h1.5v1.7h-1.5zM283.3 215.1h5.1v1.7h-5.1zM101.0 214.1h11.0v1.7h-11.0zM112.9 214.1h1.5v1.7h-1.5zM115.3 214.1h1.5v1.7h-1.5zM182.0 214.1h5.1v1.7h-5.1zM188.0 214.1h14.6v1.7h-14.6zM265.4 214.1h3.9v1.7h-3.9zM270.2 214.1h3.9v1.7h-3.9zM283.3 214.1h6.3v1.7h-6.3zM101.0 213.1h2.7v1.7h-2.7zM104.6 213.1h9.8v1.7h-9.8zM115.3 213.1h1.5v1.7h-1.5zM118.9 213.1h1.5v1.7h-1.5zM166.5 213.1h1.5v1.7h-1.5zM172.5 213.1h1.5v1.7h-1.5zM180.8 213.1h20.5v1.7h-20.5zM208.2 213.1h3.9v1.7h-3.9zM213.0 213.1h1.5v1.7h-1.5zM270.1 213.1h3.9v1.7h-3.9zM284.4 213.1h1.5v1.7h-1.5zM286.8 213.1h1.5v1.7h-1.5zM292.7 213.1h2.7v1.7h-2.7zM99.9 212.1h2.7v1.7h-2.7zM103.4 212.1h2.7v1.7h-2.7zM107.0 212.1h5.1v1.7h-5.1zM113.0 212.1h1.5v1.7h-1.5zM162.9 212.1h1.5v1.7h-1.5zM168.9 212.1h1.5v1.7h-1.5zM179.6 212.1h7.4v1.7h-7.4zM187.9 212.1h6.3v1.7h-6.3zM196.3 212.1h2.7v1.7h-2.7zM209.4 212.1h3.9v1.7h-3.9zM214.1 212.1h1.5v1.7h-1.5zM268.9 212.1h3.9v1.7h-3.9zM285.5 212.1h1.5v1.7h-1.5zM292.7 212.1h3.9v1.7h-3.9zM97.5 211.0h1.5v1.7h-1.5zM99.9 211.0h9.8v1.7h-9.8zM110.6 211.0h1.5v1.7h-1.5zM161.8 211.0h3.9v1.7h-3.9zM167.7 211.0h1.5v1.7h-1.5zM182.0 211.0h1.5v1.7h-1.5zM185.6 211.0h1.5v1.7h-1.5zM187.9 211.0h1.5v1.7h-1.5zM198.6 211.0h1.5v1.7h-1.5zM209.3 211.0h1.5v1.7h-1.5zM214.1 211.0h1.5v1.7h-1.5zM267.6 211.0h3.9v1.7h-3.9zM291.4 211.0h1.5v1.7h-1.5zM100.0 210.0h1.5v1.7h-1.5zM103.5 210.0h6.2v1.7h-6.2zM161.8 210.0h2.7v1.7h-2.7zM208.1 210.0h1.5v1.7h-1.5zM247.4 210.0h2.7v1.7h-2.7zM250.9 210.0h1.5v1.7h-1.5zM267.6 210.0h2.7v1.7h-2.7zM274.7 210.0h1.5v1.7h-1.5zM291.3 210.0h3.9v1.7h-3.9zM92.9 209.0h2.7v1.7h-2.7zM102.4 209.0h1.5v1.7h-1.5zM104.8 209.0h3.9v1.7h-3.9zM111.9 209.0h1.5v1.7h-1.5zM160.6 209.0h6.2v1.7h-6.2zM208.1 209.0h2.7v1.7h-2.7zM247.3 209.0h3.9v1.7h-3.9zM267.5 209.0h2.7v1.7h-2.7zM274.6 209.0h2.7v1.7h-2.7zM292.4 209.0h2.7v1.7h-2.7zM93.0 208.0h3.9v1.7h-3.9zM104.8 208.0h1.5v1.7h-1.5zM108.4 208.0h1.5v1.7h-1.5zM160.6 208.0h5.0v1.7h-5.0zM208.1 208.0h1.5v1.7h-1.5zM247.2 208.0h1.5v1.7h-1.5zM249.6 208.0h1.5v1.7h-1.5zM268.6 208.0h1.5v1.7h-1.5zM272.2 208.0h6.2v1.7h-6.2zM290.0 208.0h5.0v1.7h-5.0zM91.9 207.0h3.9v1.7h-3.9zM159.4 207.0h6.2v1.7h-6.2zM206.9 207.0h1.5v1.7h-1.5zM209.2 207.0h1.5v1.7h-1.5zM248.4 207.0h2.7v1.7h-2.7zM268.5 207.0h1.5v1.7h-1.5zM272.1 207.0h7.4v1.7h-7.4zM289.9 207.0h5.0v1.7h-5.0zM91.9 206.0h3.9v1.7h-3.9zM160.6 206.0h5.0v1.7h-5.0zM208.0 206.0h1.5v1.7h-1.5zM247.1 206.0h3.9v1.7h-3.9zM267.2 206.0h9.8v1.7h-9.8zM277.9 206.0h1.5v1.7h-1.5zM290.9 206.0h3.9v1.7h-3.9zM88.5 205.0h8.6v1.7h-8.6zM160.7 205.0h1.5v1.7h-1.5zM245.8 205.0h1.5v1.7h-1.5zM250.6 205.0h1.5v1.7h-1.5zM268.3 205.0h10.9v1.7h-10.9zM288.4 205.0h3.8v1.7h-3.8zM87.4 204.0h9.8v1.7h-9.8zM250.5 204.0h1.5v1.7h-1.5zM267.0 204.0h2.7v1.7h-2.7zM270.6 204.0h1.5v1.7h-1.5zM272.9 204.0h6.2v1.7h-6.2zM288.3 204.0h2.7v1.7h-2.7zM86.3 203.0h8.6v1.7h-8.6zM270.5 203.0h6.2v1.7h-6.2zM288.2 203.0h2.7v1.7h-2.7zM81.7 201.9h3.8v1.7h-3.8zM86.4 201.9h2.7v1.7h-2.7zM90.0 201.9h2.7v1.7h-2.7zM243.2 201.9h1.5v1.7h-1.5zM270.3 201.9h7.4v1.7h-7.4zM288.0 201.9h2.7v1.7h-2.7zM79.5 200.9h2.7v1.7h-2.7zM83.0 200.9h1.5v1.7h-1.5zM85.4 200.9h7.4v1.7h-7.4zM244.3 200.9h1.5v1.7h-1.5zM270.2 200.9h6.2v1.7h-6.2zM287.8 200.9h2.7v1.7h-2.7zM83.2 199.9h2.7v1.7h-2.7zM86.7 199.9h3.8v1.7h-3.8zM91.4 199.9h1.5v1.7h-1.5zM100.8 199.9h2.7v1.7h-2.7zM105.5 199.9h1.5v1.7h-1.5zM243.0 199.9h2.7v1.7h-2.7zM251.2 199.9h1.5v1.7h-1.5zM271.2 199.9h3.8v1.7h-3.8zM287.7 199.9h2.7v1.7h-2.7zM81.0 198.9h5.0v1.7h-5.0zM89.2 198.9h3.8v1.7h-3.8zM278.1 198.9h1.5v1.7h-1.5zM82.3 197.9h2.6v1.7h-2.6zM89.3 197.9h3.8v1.7h-3.8zM242.8 197.9h2.6v1.7h-2.6zM248.7 197.9h1.5v1.7h-1.5zM255.7 197.9h1.5v1.7h-1.5zM262.7 197.9h1.5v1.7h-1.5zM277.9 197.9h1.5v1.7h-1.5zM90.6 196.9h3.8v1.7h-3.8zM103.5 196.9h1.5v1.7h-1.5zM255.6 196.9h1.5v1.7h-1.5zM262.6 196.9h2.6v1.7h-2.6zM277.8 196.9h1.5v1.7h-1.5zM97.8 195.9h2.6v1.7h-2.6zM256.6 195.9h1.5v1.7h-1.5zM258.9 195.9h1.5v1.7h-1.5zM261.3 195.9h1.5v1.7h-1.5zM256.4 194.9h7.3v1.7h-7.3zM258.6 193.9h5.0v1.7h-5.0zM259.6 192.8h2.6v1.7h-2.6zM263.1 192.8h3.8v1.7h-3.8zM259.4 191.8h6.1v1.7h-6.1zM259.2 190.8h6.1v1.7h-6.1zM259.0 189.8h4.9v1.7h-4.9zM260.0 188.8h2.6v1.7h-2.6zM263.4 188.8h1.5v1.7h-1.5zM87.9 186.8h1.4v1.7h-1.4zM292.6 183.7h4.8v1.7h-4.8zM95.9 182.7h1.4v1.7h-1.4zM293.3 182.7h1.4v1.7h-1.4zM295.6 182.7h2.6v1.7h-2.6zM294.0 181.7h8.2v1.7h-8.2zM296.9 180.7h4.8v1.7h-4.8zM296.4 179.7h4.8v1.7h-4.8zM299.2 178.7h2.5v1.7h-2.5zM298.7 177.7h2.5v1.7h-2.5zM298.1 176.7h2.5v1.7h-2.5zM191.2 174.7h1.4v1.7h-1.4zM186.6 170.7h1.4v1.7h-1.4zM69.9 169.7h1.4v1.7h-1.4zM70.1 167.7h1.3v1.7h-1.3zM129.8 167.7h1.3v1.7h-1.3zM70.7 166.7h2.4v1.7h-2.4zM129.0 166.7h1.3v1.7h-1.3zM69.4 165.8h3.4v1.7h-3.4zM71.1 164.8h2.4v1.7h-2.4zM70.8 163.8h2.3v1.7h-2.3zM166.7 163.8h1.3v1.7h-1.3zM70.5 162.9h1.3v1.7h-1.3zM166.7 162.9h1.3v1.7h-1.3zM68.3 161.9h1.3v1.7h-1.3zM70.3 161.9h1.3v1.7h-1.3zM167.8 161.9h1.3v1.7h-1.3zM70.1 160.9h1.3v1.7h-1.3zM72.1 160.9h2.3v1.7h-2.3zM167.9 160.9h1.3v1.7h-1.3zM69.9 160.0h2.3v1.7h-2.3zM69.8 159.0h2.3v1.6h-2.3zM69.7 158.1h3.2v1.6h-3.2zM170.0 158.1h1.3v1.6h-1.3zM69.6 157.2h2.2v1.6h-2.2zM67.7 156.2h1.3v1.6h-1.3zM69.6 156.2h1.3v1.6h-1.3zM65.8 155.3h1.2v1.6h-1.2zM178.6 154.4h1.2v1.6h-1.2zM178.6 153.5h1.2v1.6h-1.2z"/></g>
<path d="M54.0 151.2L58.5 148.7L62.3 147.7L67.0 146.4L69.3 146.0L71.7 146.4L74.0 146.8L77.8 147.5L79.9 148.0L82.2 147.6L85.2 147.1L87.5 146.8L89.1 147.3L91.6 147.5L93.8 148.0L94.8 148.8L97.0 149.0L99.1 148.7L99.3 149.6L102.0 148.9L103.5 149.2L105.9 148.9L107.4 148.4L109.0 147.3L111.3 145.5L112.0 145.8L111.6 147.1L112.1 147.7L112.3 148.4L113.4 148.8L113.2 149.5L115.2 148.4L116.5 147.4L118.2 147.4L118.2 148.4L116.9 149.6L115.3 150.5L113.4 150.6L112.1 151.5L110.3 152.5L108.1 153.1L105.5 154.6L103.5 156.1L101.9 157.8L103.2 158.0L102.5 159.6L104.5 159.6L105.9 160.6L107.4 161.3L109.5 161.5L108.4 163.7L108.8 164.9L109.5 165.5L110.8 164.5L111.5 162.6L111.5 161.8L113.5 161.0L115.0 159.6L115.3 158.1L115.4 156.6L116.5 155.1L117.1 154.2L119.4 154.4L121.1 155.4L122.2 155.8L121.3 157.6L122.3 158.3L123.7 157.8L125.1 156.8L125.9 156.3L126.4 158.0L126.7 159.4L127.0 161.0L128.7 161.9L129.0 163.0L129.6 164.4L128.5 165.2L126.6 165.7L125.4 166.5L122.9 166.6L120.0 166.6L117.9 167.8L115.8 169.6L117.1 168.9L119.1 167.9L121.2 167.7L121.0 168.5L119.9 169.1L120.2 169.9L120.1 170.8L121.4 171.2L122.6 171.3L123.8 170.1L124.1 171.0L122.7 171.7L120.6 172.5L118.5 173.5L118.1 172.8L119.5 171.8L118.2 171.9L117.1 172.5L115.7 173.0L114.5 173.5L113.6 174.6L114.0 175.4L112.8 175.8L111.6 176.2L110.1 176.7L109.7 177.8L108.6 178.7L107.7 179.9L107.0 180.7L107.1 182.3L105.9 183.1L104.5 183.9L103.1 184.8L101.5 185.9L100.6 187.5L100.8 189.9L100.9 191.6L100.5 193.1L99.7 193.3L99.3 192.1L98.7 190.6L98.9 189.2L98.0 188.1L96.7 188.5L95.8 187.7L94.4 187.8L93.0 187.9L93.0 189.1L91.9 189.0L90.6 188.6L88.8 188.5L87.5 189.3L85.5 190.5L84.8 192.5L84.0 194.6L83.7 196.4L83.9 198.1L84.6 199.7L85.7 200.4L86.6 200.9L88.5 200.4L89.7 199.8L90.4 198.0L92.2 197.3L93.7 197.3L92.9 199.4L92.4 200.8L91.8 202.2L91.2 203.3L92.3 203.5L93.8 203.3L95.4 203.5L96.3 204.3L95.8 206.5L95.5 208.6L96.1 209.7L96.8 210.8L98.0 211.0L99.2 210.3L100.4 210.4L101.5 211.2L101.9 211.9L102.8 210.5L103.3 209.2L104.0 208.6L105.7 208.2L107.0 207.1L107.4 207.9L106.8 208.6L107.1 210.5L107.6 208.8L108.6 208.1L108.6 207.3L109.3 208.1L110.2 209.1L112.3 209.1L113.7 209.5L116.1 209.0L116.2 209.7L117.2 211.3L118.9 211.9L120.2 213.7L122.6 214.1L124.7 214.8L125.9 215.9L126.8 218.3L127.3 219.9L126.3 221.0L128.4 220.7L129.2 221.4L131.1 221.8L132.6 223.2L134.9 223.5L136.8 223.5L138.3 224.5L139.7 225.7L141.4 226.1L141.9 228.1L141.7 230.2L140.3 231.8L139.4 233.2L138.5 234.5L138.1 236.7L138.3 239.4L137.7 241.5L136.9 243.7L135.8 245.3L134.4 245.3L133.1 246.1L131.7 246.6L130.5 247.8L130.0 249.1L130.1 251.0L129.2 252.9L128.3 254.5L127.4 256.1L126.6 257.4L125.5 258.2L123.6 257.8L122.3 257.4L123.7 259.1L124.2 260.0L123.8 261.7L121.9 262.5L120.0 262.5L120.4 264.3L119.2 264.9L118.1 264.7L118.5 266.1L119.7 266.3L118.7 267.4L119.0 269.0L117.6 270.0L119.3 271.4L119.7 272.3L118.9 273.9L118.1 274.9L118.5 276.0L119.3 276.7L119.8 277.5L121.2 278.6L122.9 279.1L122.0 279.5L120.6 279.9L118.9 279.6L117.3 278.7L115.6 277.7L114.2 276.5L112.9 274.8L111.9 273.0L112.3 271.7L111.0 270.8L111.8 269.3L111.9 267.9L111.7 266.0L110.6 265.5L110.3 264.2L110.3 263.1L109.4 260.7L109.7 258.9L110.0 256.3L109.6 253.4L109.3 251.2L109.5 248.5L109.4 245.9L109.3 243.2L108.9 240.3L107.7 239.2L105.7 238.2L104.0 237.0L102.8 235.4L101.8 233.4L100.6 231.3L99.8 229.3L98.8 227.7L97.6 227.0L97.5 225.4L98.4 224.2L98.8 223.2L97.8 222.9L98.0 221.6L98.6 220.0L99.6 219.2L99.8 218.6L101.0 217.0L101.4 216.2L101.2 214.6L101.3 213.3L100.8 212.7L101.1 212.0L100.5 211.5L99.4 210.8L98.6 211.7L98.4 212.6L97.4 212.2L96.2 211.7L95.6 211.3L94.4 209.9L93.5 209.6L93.7 208.6L92.6 206.8L92.0 206.2L90.3 205.9L88.4 205.4L87.1 204.1L85.9 203.0L84.4 203.6L82.6 203.0L80.8 202.2L79.1 201.1L77.3 200.0L76.1 198.7L76.5 197.3L75.7 195.4L74.7 193.5L73.8 191.9L73.0 190.8L72.1 189.2L71.8 187.1L70.5 186.3L70.0 188.1L71.0 189.8L71.5 191.4L72.0 193.0L72.6 194.6L72.9 195.6L72.4 195.8L70.9 193.9L70.4 191.9L69.4 190.6L69.5 188.7L69.0 187.4L68.7 185.4L68.1 184.0L66.4 183.3L66.1 181.1L66.1 179.7L65.8 177.9L65.9 176.9L66.9 175.2L68.6 172.6L69.7 170.8L70.6 168.4L71.9 168.7L71.7 169.6L72.6 167.8L71.9 166.8L70.6 165.7L70.9 164.2L70.8 162.3L71.0 161.1L70.4 159.6L70.1 158.3L69.0 157.8L68.5 156.8L66.0 156.6L64.6 155.8L62.2 156.6L58.8 157.3L62.0 155.4L59.3 156.1L56.0 158.1L52.4 159.6L49.7 160.6L46.9 161.4L44.8 161.9L43.2 162.0L46.8 160.8L49.2 160.0L52.9 158.4L54.0 157.8L52.1 158.1L50.0 157.9L51.5 156.6L50.1 155.9L50.9 154.6L53.0 153.7L56.6 153.1L57.6 152.2L56.2 152.2L53.9 152.1L54.0 151.2ZM130.4 140.1L134.7 138.8L140.6 137.4L149.5 136.9L158.2 136.4L163.5 137.5L168.1 137.7L164.2 139.1L163.2 141.1L162.1 142.8L160.4 144.9L160.0 146.7L157.7 148.0L154.0 148.8L151.6 149.9L148.4 151.1L146.0 151.7L143.8 154.1L141.8 156.6L140.2 155.9L138.5 155.4L137.8 153.2L137.5 151.3L137.0 149.9L138.0 148.5L139.8 147.6L137.8 146.7L138.4 144.9L138.1 143.2L137.0 141.9L133.2 141.9L131.0 141.5L131.1 140.7ZM127.3 153.7L125.7 154.6L124.4 154.1L122.7 153.2L121.1 152.2L118.3 151.9L119.5 151.3L121.6 151.3L122.7 150.0L123.8 148.9L122.3 148.0L120.8 147.1L117.4 147.1L115.4 146.2L115.1 145.3L116.6 144.0L119.4 143.8L122.0 143.9L124.0 144.6L125.3 145.5L126.9 146.2L128.1 146.9L128.5 148.0L129.8 149.4L131.2 150.1L129.0 151.7ZM96.2 145.8L100.8 144.6L104.5 144.3L105.1 145.3L105.4 147.1L102.7 148.2L99.8 148.3L96.2 148.4L94.8 147.7L94.9 146.7ZM91.3 145.3L95.2 143.4L98.6 143.4L98.4 144.5L95.2 145.5L92.2 146.0ZM118.5 141.5L121.5 139.9L120.9 138.4L124.5 137.4L132.7 136.7L139.2 137.1L139.1 137.7L135.0 138.4L131.0 139.5L127.4 140.7L124.6 141.7L121.6 141.5ZM116.8 141.9L118.2 142.3L123.3 143.1L124.1 142.2L121.4 141.7L117.4 141.3ZM100.5 142.8L104.3 141.8L107.9 141.9L106.9 142.8L103.9 143.1L101.3 143.1ZM111.0 145.1L112.6 143.8L115.6 143.7L115.1 144.6L112.8 145.3ZM106.7 145.3L108.7 144.0L111.1 143.9L110.1 145.3L107.8 146.0ZM111.3 152.7L113.0 151.3L114.6 151.0L115.8 152.5L115.0 153.2L112.6 153.5ZM117.2 139.9L120.3 138.4L122.8 138.8L122.1 139.9ZM125.1 169.3L126.7 167.6L128.1 165.9L129.5 165.1L128.8 166.8L130.2 167.4L130.5 168.9L130.1 170.2L128.5 170.0L127.9 169.3ZM95.6 197.0L97.6 195.8L98.3 195.5L100.4 195.7L102.6 197.0L104.3 198.1L105.5 198.7L104.7 199.0L102.3 199.0L102.0 198.2L100.7 197.2L98.5 196.3L97.0 196.8ZM105.1 200.7L106.3 199.0L108.0 199.0L109.5 199.5L110.7 200.4L109.2 200.8L107.7 201.4L106.4 200.9ZM101.4 200.7L102.6 200.5L103.3 201.1L102.4 201.3ZM111.8 200.7L113.2 200.7L113.2 201.1L111.8 201.1ZM69.3 165.9L71.0 166.2L71.9 167.3L71.6 168.4L70.3 167.9L69.4 166.8ZM169.7 181.9L170.2 181.8L172.3 182.4L173.2 182.6L175.0 181.9L175.9 181.1L177.7 180.8L179.5 180.8L181.7 180.6L183.7 180.3L184.2 180.8L184.8 180.6L184.5 181.9L184.9 182.5L184.2 183.5L184.1 184.0L185.0 184.6L185.9 185.1L187.0 185.0L188.8 185.7L189.1 186.5L191.0 187.2L192.4 187.8L193.3 187.1L193.2 185.7L194.5 185.0L195.9 185.3L197.8 186.3L199.6 186.7L201.5 187.2L202.8 186.6L204.5 186.7L204.8 188.1L204.9 188.7L205.9 190.5L206.4 191.7L207.5 193.7L208.2 195.1L209.4 196.8L209.8 198.4L210.0 199.4L211.2 201.1L212.3 203.7L213.8 204.9L215.3 206.5L215.9 207.0L216.1 208.1L217.3 209.3L218.7 208.8L220.6 208.5L222.4 208.1L223.6 207.8L223.4 209.3L223.0 210.8L222.1 212.9L221.2 215.1L219.8 217.3L218.2 218.3L216.5 220.0L215.1 221.6L214.1 222.7L213.2 223.7L212.9 224.8L212.2 226.4L212.4 227.8L212.6 229.7L213.0 231.6L213.4 232.4L213.5 234.5L213.5 236.7L212.2 238.3L210.3 239.4L209.3 240.8L207.8 241.9L208.0 243.7L208.1 245.9L206.1 247.7L205.3 248.5L205.3 250.2L204.4 251.8L203.4 252.9L201.9 254.8L200.4 256.1L198.2 257.2L195.3 257.4L193.0 258.0L191.7 257.4L191.3 255.8L191.7 254.5L190.6 252.3L190.2 251.4L189.1 249.6L188.7 247.5L188.5 245.1L187.6 243.2L186.7 240.8L186.1 239.1L186.1 237.2L186.8 235.6L187.7 234.0L188.1 232.4L187.6 230.2L187.4 228.6L186.7 227.0L186.4 225.7L185.5 224.6L184.1 223.0L183.6 221.6L183.9 220.2L184.3 218.9L184.3 217.3L184.2 216.2L183.1 215.6L181.7 215.8L180.7 215.9L179.8 214.2L179.3 213.7L178.2 213.6L176.4 213.8L175.0 214.4L173.6 215.1L173.1 215.3L172.1 215.0L170.7 214.9L169.3 215.3L167.8 215.8L166.4 215.1L164.7 213.7L163.1 212.4L162.4 211.3L162.0 210.3L160.8 208.8L159.8 207.8L159.2 207.0L159.2 205.9L158.5 204.6L159.4 203.2L159.8 201.1L159.5 199.5L159.1 197.8L159.9 196.2L160.1 194.9L161.1 194.1L161.6 192.2L162.8 190.5L164.4 189.8L165.8 188.7L166.1 187.6L166.1 186.5L166.8 185.2L168.1 184.3L169.1 183.5ZM221.8 233.4L222.5 237.2L221.6 239.4L220.7 242.1L219.6 245.3L218.6 247.5L216.9 248.0L215.9 247.5L215.5 245.9L215.7 243.7L216.5 242.1L216.4 239.9L217.0 238.0L218.7 237.4L220.2 236.4L220.9 235.1ZM170.0 181.7L169.4 180.9L168.4 180.4L167.1 180.6L167.2 179.0L166.6 178.7L167.2 176.8L167.3 175.2L167.0 174.2L168.1 173.4L170.0 173.5L171.7 173.6L173.4 173.7L173.9 172.6L174.1 171.3L173.3 169.9L172.6 169.4L171.2 169.0L171.1 168.3L172.5 168.0L173.7 168.1L173.6 167.1L175.0 167.4L175.2 167.1L176.2 166.6L176.4 165.7L177.9 165.2L178.5 164.5L178.9 163.7L179.8 163.2L180.6 163.0L181.8 162.8L181.9 161.6L181.5 161.0L181.4 159.6L182.6 159.1L183.3 158.9L183.2 160.1L183.5 160.4L183.2 161.1L182.8 161.6L183.0 162.1L183.8 162.6L184.6 162.4L185.8 162.1L186.5 162.6L187.8 162.3L189.8 161.9L190.8 162.1L191.7 161.4L191.5 160.1L191.8 159.1L192.5 158.9L193.8 159.4L193.9 158.3L193.0 157.4L194.1 157.1L196.4 157.0L198.0 156.7L196.6 156.0L194.7 156.2L194.0 156.5L192.5 156.7L191.1 155.8L191.1 154.6L190.7 153.7L191.5 152.9L192.8 151.9L193.2 151.3L192.3 151.0L191.0 151.1L190.7 152.2L190.1 153.0L188.7 153.7L188.1 154.6L188.0 155.8L189.1 156.3L189.4 157.1L188.8 157.6L188.0 158.6L187.9 159.6L187.6 160.4L186.5 160.6L186.3 161.2L185.3 161.2L185.0 160.6L184.8 159.8L184.2 158.9L183.6 157.6L183.2 157.1L182.3 157.7L181.2 158.5L180.0 158.5L179.2 157.8L178.8 156.3L178.7 154.8L179.8 153.9L181.3 153.2L182.6 152.8L183.3 151.7L184.0 150.8L184.9 149.6L185.8 148.7L187.1 147.8L188.1 147.3L190.0 146.8L191.3 146.2L192.5 146.1L194.0 146.2L196.2 146.8L195.6 147.4L197.8 147.7L200.0 148.0L203.1 149.1L204.2 150.1L203.6 150.6L202.2 150.7L199.6 150.3L198.1 149.9L199.9 151.3L200.6 152.4L202.5 152.9L202.7 152.3L204.5 152.2L203.9 151.3L205.0 150.5L206.5 150.6L206.1 149.4L205.4 148.5L207.3 148.9L208.1 150.0L208.8 149.3L212.0 148.5L212.8 148.8L214.7 148.4L216.7 148.2L216.6 147.3L219.3 147.7L221.6 148.2L222.9 148.7L221.1 147.4L220.3 146.2L220.6 144.9L221.2 144.5L223.2 144.9L224.3 146.2L225.0 148.0L225.9 148.9L227.3 150.0L227.3 148.9L226.1 147.6L224.8 146.2L225.2 145.3L226.9 144.9L228.9 145.3L230.6 146.2L231.6 146.7L229.5 144.9L227.8 144.0L231.3 143.2L232.4 142.3L235.1 141.9L237.8 141.5L239.1 140.5L241.7 141.1L244.7 141.5L247.4 142.3L248.6 143.6L246.9 143.8L249.2 144.0L252.4 144.0L256.0 144.0L258.9 144.5L259.0 145.1L262.2 145.8L264.6 145.8L267.5 146.0L268.1 144.9L271.7 145.1L276.0 145.8L280.0 146.2L284.7 147.1L286.6 147.5L290.2 147.1L291.9 147.1L293.7 148.0L296.0 147.3L299.9 148.0L305.5 151.7L305.5 152.2L304.1 152.0L308.3 153.9L306.1 154.8L304.9 155.6L304.6 156.6L301.5 156.6L301.4 158.1L303.3 160.1L304.1 161.6L304.4 163.5L304.2 164.7L303.9 165.7L301.4 163.7L298.4 161.1L297.1 159.1L296.8 157.1L297.1 156.1L297.2 154.6L295.2 155.1L292.6 155.1L293.7 157.1L291.9 157.6L289.1 157.1L286.3 157.3L284.6 157.6L284.2 159.1L284.6 161.6L285.3 162.8L286.7 162.6L288.9 163.3L290.3 164.7L291.0 166.2L292.4 168.3L292.4 170.4L291.7 172.6L290.2 174.4L288.9 173.9L288.6 174.9L288.5 176.3L288.6 176.8L287.4 177.6L287.5 178.2L288.8 179.0L290.4 180.6L291.2 182.2L291.0 182.6L289.9 183.1L288.9 183.3L288.3 181.7L287.9 180.4L286.6 179.7L285.8 179.0L285.5 177.9L284.3 177.4L283.1 178.1L282.3 178.7L282.0 176.8L280.9 176.4L280.2 177.6L279.2 178.2L279.3 179.0L280.6 179.7L281.5 180.4L282.4 179.7L284.1 180.2L283.2 181.1L282.8 181.7L282.3 182.7L283.4 183.8L284.6 185.1L285.9 186.2L286.4 187.2L285.6 187.8L286.9 188.4L286.8 189.8L286.3 191.0L285.9 192.5L285.4 193.6L284.7 194.3L283.9 195.4L282.3 196.0L281.4 196.4L280.6 196.8L278.8 197.4L278.2 197.6L278.3 198.6L277.7 197.4L276.4 197.1L275.1 197.8L274.8 198.7L274.3 199.7L274.4 200.5L275.8 202.2L277.2 203.2L278.1 204.9L278.5 206.5L278.7 207.8L277.5 208.8L276.6 209.3L276.4 210.3L275.1 211.1L274.7 211.2L274.8 209.7L273.8 209.2L272.7 208.3L272.2 207.4L270.7 206.8L270.5 205.9L269.7 206.2L269.7 207.6L269.3 208.6L269.4 210.3L270.1 211.1L270.7 212.7L271.9 213.3L272.6 213.9L273.6 215.3L273.7 217.3L274.4 219.0L273.8 219.1L272.3 218.0L271.6 217.3L271.0 215.9L270.6 214.6L270.2 213.2L269.5 212.4L268.5 211.9L268.6 209.7L268.6 207.6L267.7 205.4L267.2 203.5L266.9 202.6L265.7 202.6L264.9 203.5L264.0 203.2L263.9 201.3L263.0 199.5L261.9 198.4L261.0 197.0L260.6 196.2L259.5 196.4L258.2 197.0L256.8 197.2L256.4 198.2L256.1 198.9L254.8 199.8L254.0 200.9L252.7 202.4L251.7 203.2L250.8 204.0L251.1 206.4L250.8 207.8L250.9 209.4L250.1 210.5L249.4 211.0L248.7 211.8L247.7 210.8L247.2 209.2L246.6 207.8L245.9 206.5L245.2 204.5L244.3 203.0L243.7 201.1L243.4 200.0L243.1 198.4L242.9 197.1L242.6 197.8L241.5 198.1L240.5 197.6L239.4 196.4L240.5 195.9L239.1 195.4L238.5 194.8L237.6 194.1L236.9 193.5L234.9 193.2L232.6 193.3L230.7 193.2L228.8 192.9L227.9 191.6L227.2 191.2L225.9 191.7L224.5 191.6L223.5 190.8L222.3 190.3L221.7 189.2L220.8 187.9L219.7 187.7L219.4 188.1L219.0 188.7L219.7 189.8L220.7 191.0L221.5 191.9L222.0 193.0L222.5 192.5L222.8 193.2L222.7 194.1L223.8 194.4L225.2 194.4L226.3 193.2L227.0 192.2L227.5 193.5L228.0 194.6L229.5 195.0L230.8 196.2L230.0 198.4L229.3 200.0L228.6 201.1L227.1 201.8L225.9 202.2L224.3 203.2L222.2 204.3L220.4 205.4L217.6 206.7L216.2 206.8L215.7 205.4L215.3 203.8L215.1 202.4L213.7 200.5L212.5 198.6L211.7 197.3L210.9 195.1L209.7 193.9L208.8 192.5L207.8 190.8L207.1 190.1L207.1 188.7L206.6 190.5L205.5 189.4L204.8 188.1L204.5 186.7L206.2 186.7L206.8 185.1L207.1 183.9L207.1 182.2L207.3 180.9L205.8 180.9L204.6 181.6L203.6 181.3L202.4 180.8L201.4 181.3L200.0 180.9L199.3 180.4L198.9 179.2L198.2 178.1L198.0 177.4L199.1 176.9L200.4 176.8L200.4 176.2L202.5 176.1L204.2 175.2L205.5 175.2L206.9 176.0L208.7 176.4L210.0 176.3L211.2 175.8L211.0 174.5L209.5 173.6L207.6 172.6L206.6 171.8L207.3 171.0L208.1 169.7L206.7 169.9L204.9 170.7L204.8 171.5L206.2 171.7L205.2 172.0L204.2 172.7L203.7 172.5L202.9 171.5L203.5 171.0L202.2 170.8L201.3 170.3L200.6 171.5L200.3 172.0L199.7 172.9L199.2 173.9L199.2 174.9L199.6 175.7L200.3 176.1L199.1 176.3L198.2 176.7L197.8 176.5L196.9 176.4L196.0 176.6L195.7 177.4L195.0 176.8L195.1 178.1L195.8 179.0L196.3 179.5L196.1 179.6L195.5 180.0L195.7 181.1L195.0 181.1L194.4 180.8L193.9 179.7L193.8 179.2L193.4 178.4L192.6 177.6L192.0 176.8L192.0 175.8L191.5 175.0L190.1 174.2L188.8 173.5L187.9 172.6L187.2 171.7L186.6 172.0L186.7 171.3L185.5 171.6L185.6 172.6L186.7 173.5L187.3 174.7L188.9 175.3L189.7 176.1L190.8 176.7L191.3 177.3L190.2 176.9L189.7 177.6L190.1 178.4L189.6 179.1L188.9 179.5L189.2 178.7L188.9 177.6L188.2 177.2L187.5 176.5L186.4 176.0L185.6 175.4L184.5 174.7L183.9 173.6L183.3 173.0L182.6 172.7L181.9 173.2L181.3 173.4L180.2 174.1L179.1 173.7L178.0 173.8L177.6 174.7L177.8 175.3L176.9 175.9L175.7 176.5L175.0 177.6L174.7 178.0L175.2 178.7L174.6 179.2L174.3 179.9L173.0 180.9L171.1 180.9L170.3 181.6ZM49.9 148.1L51.2 148.7L52.2 149.9L53.3 150.6L49.1 152.3L47.3 152.0L46.3 151.3L44.8 151.6M170.3 166.7L172.1 166.5L173.8 166.0L176.1 165.5L176.4 164.0L175.2 163.7L174.8 162.6L173.8 161.6L173.4 160.6L173.0 160.1L173.4 159.0L171.9 158.9L172.7 158.0L171.1 158.0L170.5 159.1L170.1 160.1L170.6 161.1L171.2 161.8L172.4 161.8L172.6 163.1L171.4 163.3L171.5 164.5L170.7 164.9L172.1 165.3L172.5 165.5L171.3 165.8ZM169.9 164.5L170.0 163.3L170.4 162.1L169.8 161.4L168.5 161.4L168.2 162.2L167.0 162.4L167.1 163.3L167.3 164.2L166.6 164.9L167.2 165.2L168.5 164.9ZM157.5 151.3L158.9 150.4L160.7 150.8L162.1 150.6L163.6 150.3L164.5 150.8L165.2 151.6L164.2 152.4L162.5 153.0L161.0 153.3L159.6 152.9L158.4 152.8L158.9 152.3L157.6 151.8L158.7 151.5ZM181.6 139.1L183.9 138.8L187.4 138.6L191.0 138.8L189.5 139.5L186.6 139.9L188.2 140.3L186.3 141.3L184.3 141.1L183.3 140.3ZM202.1 138.4L205.3 138.1L209.7 137.7L212.3 138.1L209.3 138.6L204.6 138.8ZM209.6 145.6L209.8 144.0L211.0 142.8L213.4 141.7L217.4 141.1L218.3 141.5L214.7 142.6L212.8 143.6L212.3 145.1L214.1 146.5L211.3 146.4ZM232.3 139.5L231.6 138.1L236.2 138.4L238.9 139.5L238.6 140.1L235.7 140.3ZM262.8 142.6L263.0 141.9L268.0 142.3L271.4 142.8L269.5 143.2L267.6 143.6L264.3 143.2ZM296.0 146.2L296.2 145.8L297.1 146.3M53.8 145.8L55.2 146.0L52.9 146.3M292.8 184.4L292.6 184.9L293.8 186.7L294.2 187.1L294.7 186.6L294.5 184.9L294.8 184.6L295.7 185.1L296.8 184.0L297.8 184.4L298.3 183.3L299.5 183.2L300.0 183.1L300.8 182.7L301.3 182.0L300.6 180.6L300.5 179.2L300.2 177.8L298.6 176.0L297.8 176.3L298.1 177.4L298.7 178.7L298.4 179.7L297.6 180.8L297.0 180.2L297.1 180.9L297.0 182.0L296.2 182.1L294.4 182.2L293.8 182.8L293.2 183.5L293.2 183.8ZM297.2 175.8L297.4 174.7L299.5 175.2L300.8 173.9L299.8 172.9L297.8 172.8L296.0 171.6L297.3 173.8L296.3 173.9L296.6 174.9ZM295.7 171.0L296.4 170.1L294.9 168.9L295.5 167.8L292.8 165.7L291.1 163.7L289.4 162.3L289.6 163.1L291.6 165.7L294.3 168.9L295.3 170.4ZM287.3 193.3L288.3 193.5L288.2 195.7L287.9 196.8L287.0 195.7L287.1 194.3ZM277.0 199.8L277.7 198.9L279.1 198.9L278.8 200.2L278.0 200.9L277.2 200.5ZM250.8 210.3L251.2 209.9L252.2 211.3L252.9 212.4L252.6 213.5L251.7 214.1L251.1 213.5L250.9 211.9ZM288.2 200.5L289.8 200.5L290.1 202.2L289.6 203.2L290.1 204.9L291.4 205.4L292.5 206.5L292.5 207.0L291.5 206.5L290.5 205.6L289.5 205.7L289.0 204.9L288.3 203.8L288.0 202.9L288.5 203.0L288.3 201.6ZM291.2 212.9L292.5 211.2L294.3 209.9L295.1 211.3L295.4 212.9L294.6 214.4L293.1 213.7L293.0 212.6L292.1 212.4ZM290.9 209.2L290.7 207.8L291.9 208.0L292.8 207.0L294.0 207.2L294.3 208.6L293.8 209.7L292.8 209.4L292.4 210.5L291.6 210.3L291.8 209.2ZM286.5 211.4L287.6 210.1L288.4 208.3L288.2 209.5L287.2 210.9ZM279.0 218.6L279.6 218.2L281.3 217.5L282.8 217.0L283.7 215.6L285.1 214.6L286.1 213.1L286.4 212.9L287.1 213.7L288.4 214.9L287.7 215.9L287.2 216.7L287.6 218.1L288.6 219.4L287.4 220.0L287.1 221.4L286.2 222.4L285.9 223.7L285.6 224.8L284.3 224.9L284.2 224.2L282.8 224.0L281.6 224.3L280.1 223.6L280.0 222.1L279.2 221.0L279.0 220.0ZM265.8 214.5L267.9 214.9L269.1 216.4L270.7 217.8L271.8 218.6L273.3 219.9L274.0 221.4L274.7 222.4L276.1 223.7L276.0 225.4L275.8 226.8L274.7 226.8L274.1 225.9L272.5 224.8L271.4 223.2L270.7 221.6L269.5 220.0L269.0 218.6L268.0 217.8L267.0 216.4ZM275.2 227.8L276.5 227.0L278.3 227.5L280.2 227.9L280.7 227.5L282.3 228.1L284.0 228.9L283.9 229.9L281.5 229.6L279.7 229.2L277.8 228.9L276.3 228.5ZM284.4 229.2L286.3 229.5L288.2 229.5L290.1 229.6L292.0 229.3L292.0 229.9L289.1 230.1L286.2 230.2L284.4 229.9ZM292.3 231.6L293.8 230.4L295.8 229.6L295.3 230.2L293.3 231.4ZM289.5 219.4L290.5 219.2L292.4 219.4L294.1 218.8L294.5 218.9L293.8 220.0L292.4 220.0L290.5 220.0L289.7 220.5L289.5 221.5L290.8 221.6L292.7 221.4L291.4 222.4L290.9 223.2L291.8 224.3L292.3 225.4L292.0 226.4L291.3 225.7L290.9 224.8L290.4 223.7L289.9 223.7L289.8 225.4L289.6 226.5L288.9 226.4L289.0 224.3L288.3 223.5L288.8 222.1L289.3 220.7ZM296.6 218.3L297.6 218.9L297.8 220.2L297.2 221.4L296.9 220.2L296.6 219.4ZM297.1 223.7L299.8 224.0L299.0 224.4L297.3 224.3ZM300.0 221.4L301.5 220.9L302.9 221.4L303.0 222.7L303.8 224.1L305.2 222.9L306.7 222.2L309.5 223.3L311.9 224.3L314.0 225.9L315.5 227.0L315.7 228.1L316.2 229.7L317.9 231.6L317.4 231.9L315.6 231.4L314.3 230.0L312.5 228.8L311.5 229.7L310.9 230.4L309.1 230.3L307.7 229.2L306.3 229.5L307.2 228.1L306.5 226.4L304.6 225.5L302.8 224.7L301.8 224.8L301.7 223.7L302.6 223.0L300.9 223.5L300.0 222.1ZM316.4 226.4L318.0 225.9L319.4 225.0L320.2 225.1L319.9 226.2L318.4 227.2L316.9 227.2ZM318.9 223.3L320.4 224.3L320.9 225.5L320.1 224.8L318.8 223.7ZM322.7 226.4L323.6 227.5L323.1 227.9L322.4 226.9ZM326.3 229.1L328.0 230.7L327.0 231.1L325.9 229.5ZM281.0 244.2L281.7 244.0L283.6 242.9L286.0 242.4L288.5 241.5L289.9 239.9L291.4 238.8L292.5 237.8L294.2 235.8L295.6 235.6L296.4 236.7L297.4 236.5L298.1 234.8L299.0 233.9L300.6 233.4L300.7 232.7L303.0 233.7L304.7 233.7L303.8 235.1L303.0 236.7L304.3 237.8L305.9 239.1L307.5 239.4L308.6 237.2L309.1 235.1L309.4 234.0L310.3 232.2L311.0 234.0L311.0 235.9L312.3 236.7L312.4 238.8L312.4 240.8L313.4 241.5L314.4 242.6L314.7 244.2L315.5 245.9L316.3 247.1L316.9 248.0L316.4 250.2L316.3 251.5L314.7 253.9L313.4 255.6L311.8 257.0L310.1 258.8L308.6 260.7L306.5 261.4L304.3 262.6L303.6 261.8L303.2 261.7L302.0 262.3L300.5 261.8L299.6 261.0L300.0 259.3L299.3 258.9L299.7 258.0L299.7 256.6L300.1 255.7L298.8 257.2L297.5 258.0L297.0 258.0L297.0 256.1L296.4 255.2L294.4 254.5L291.5 255.0L289.6 255.3L287.4 256.1L286.6 257.1L284.4 257.0L282.8 257.5L281.2 258.3L279.4 258.2L278.8 257.5L279.2 256.6L280.3 255.0L280.4 252.9L280.4 250.4L280.0 249.1L280.6 247.5L280.7 245.9ZM301.8 264.4L303.1 264.8L304.8 264.6L303.9 266.0L302.5 267.1L301.4 267.5L301.1 266.6L301.3 265.6ZM330.8 257.6L331.2 258.8L331.1 260.2L331.6 261.1L333.8 261.2L332.3 262.6L331.2 263.0L330.1 264.2L327.9 265.3L327.7 265.0L328.7 264.0L328.3 263.0L329.8 262.0L330.5 261.0L330.6 259.1ZM326.5 264.2L327.4 264.9L326.4 265.8L324.1 267.4L322.0 268.4L320.3 269.9L318.2 270.7L317.2 270.2L316.7 269.8L319.4 268.1L322.1 266.8L324.1 265.8L325.7 264.5ZM328.7 242.2L329.9 242.9L331.0 244.4L330.5 244.6L329.3 243.6ZM341.9 239.4L343.1 239.5L342.8 240.1L341.7 240.0ZM182.2 178.4L182.3 176.5L183.3 176.1L183.5 177.4L183.4 178.3ZM182.5 175.2L183.1 174.2L183.3 175.3L183.0 175.9ZM186.1 179.5L188.8 179.2L188.5 180.9L187.0 180.4ZM196.1 182.2L198.6 182.4L198.6 182.7L196.2 182.5ZM204.1 182.7L206.0 182.0L205.6 182.8L204.6 183.2ZM65.0 300.9L74.3 300.9L77.5 300.4L81.8 300.1L84.1 299.6L86.1 298.9L89.6 299.1L93.0 298.4L95.8 297.6L100.3 297.6L104.1 298.1L107.0 297.8L109.2 296.8L112.7 297.0L115.4 296.4L119.1 296.8L122.3 296.7L124.3 295.8L124.5 294.3L125.7 293.0L126.4 291.1L127.3 289.5L128.8 288.3L130.7 287.5L133.3 287.5L133.0 288.6L131.9 289.3L131.8 290.7L131.2 291.6L133.0 293.0L133.3 294.8L135.4 296.5L135.5 297.8L138.0 298.7L147.3 300.5L153.5 300.7L157.3 299.1L161.9 297.0L166.9 295.2L171.6 294.3L175.0 293.7L181.9 293.9L188.7 293.9L195.8 293.2L199.3 293.0L202.9 292.5L206.7 291.9L210.6 291.0L214.5 290.2L217.4 291.4L220.9 291.6L223.9 292.5L224.7 293.4L226.7 293.4L229.7 292.1L233.2 291.1L237.7 290.9L242.9 290.5L246.9 290.0L250.2 290.4L253.9 290.2L257.1 290.7L260.4 291.0L264.4 290.5L268.3 290.2L271.9 290.2L274.7 290.9L277.9 291.1L279.9 292.3L282.6 293.0L284.7 293.9L287.1 294.6L289.5 295.2L284.6 297.0L280.4 298.2L276.6 299.9L277.4 300.7L279.2 300.7L285.0 300.9M85.0 151.5L87.0 150.5L89.1 149.9L90.4 150.0L90.3 150.8L88.3 151.5L86.5 151.7ZM86.7 155.6L88.7 154.6L90.9 154.1L92.7 153.9L93.7 153.9L91.6 154.6L89.6 155.2L88.0 155.8ZM89.0 157.9L90.9 157.4L92.9 157.3L91.1 157.6L89.2 158.1ZM94.4 160.1L96.0 158.8L95.8 158.6L94.3 159.6ZM93.3 166.2L94.6 164.7L95.5 162.8L96.5 162.8L96.0 164.7L95.3 166.2ZM97.1 170.2L99.3 169.1L101.4 168.3L102.9 168.5L103.6 169.4L103.2 170.4L101.7 170.4L100.6 170.0L98.8 170.3ZM98.6 175.2L99.5 173.1L101.4 171.2L102.6 171.2L101.0 173.1L99.9 175.2ZM103.2 171.0L104.8 171.2L106.5 172.2L104.5 173.9L103.7 173.9L103.2 173.1L103.8 171.8ZM102.3 175.5L104.7 174.6L106.6 174.4L105.5 175.0L103.0 175.9ZM106.1 173.8L107.8 173.2L109.3 173.1L108.9 173.7L107.1 173.9ZM216.5 170.4L218.5 169.9L219.9 170.4L220.3 172.0L218.8 172.6L218.4 173.6L219.7 174.7L221.1 175.8L222.3 177.4L222.4 179.0L223.2 180.6L221.5 180.9L219.5 180.3L218.4 179.0L218.5 177.2L217.3 175.4L216.1 174.2L215.3 172.6L215.4 171.2ZM224.6 170.4L225.8 170.2L227.3 171.0L227.3 172.6L226.3 173.4L225.2 172.6ZM237.8 171.7L238.6 170.4L240.2 170.2L242.0 170.4L240.4 170.8L238.9 171.3ZM260.2 165.1L261.1 164.7L261.9 163.5L262.1 161.9L262.0 160.9L261.4 161.0L261.6 162.6L261.0 163.9ZM205.5 221.0L206.5 220.1L207.6 220.5L207.4 222.1L206.5 223.2L205.5 222.7ZM202.9 224.3L203.3 225.9L204.0 228.1L204.5 229.9L203.8 229.1L203.1 227.0L202.7 225.4ZM207.3 230.9L207.9 232.4L208.2 234.5L208.3 235.9L207.8 235.1L207.4 232.9ZM187.8 206.5L188.7 205.9L188.8 206.7L188.3 207.0ZM198.2 156.6L198.7 155.4L199.7 155.4L199.9 156.3L199.0 156.7ZM201.0 155.6L201.3 154.3L202.1 154.6L202.0 155.6ZM40.8 163.0L39.1 163.5L37.9 163.9L39.5 163.5ZM35.4 164.3L33.5 164.6L32.1 164.7ZM30.7 164.9L29.4 165.0L28.2 165.3ZM315.2 163.8L317.4 164.3L319.9 164.7ZM322.1 165.2L322.4 165.1M54.0 159.6L56.2 158.6L56.7 158.9L54.5 159.8ZM48.4 153.3L50.1 153.0L50.4 153.4L48.8 153.7ZM47.6 156.4L49.0 156.2L48.5 156.8L47.5 156.8ZM68.1 162.6L69.0 162.7L68.1 164.4L67.5 163.9ZM124.9 275.5L126.6 275.6L127.7 275.9L126.9 276.6L125.2 276.3ZM144.5 278.4L146.2 278.8L145.9 279.2ZM140.1 285.0L141.3 285.1M87.7 220.8L88.1 220.5L88.3 221.5L87.8 221.6ZM28.6 198.6L29.9 199.0L29.8 199.8L28.6 200.3L28.4 199.5ZM25.1 196.4L26.9 197.1L28.1 197.6L28.6 198.3ZM27.1 197.3L27.5 197.5M25.8 196.7L26.2 196.8M232.4 273.2L233.7 273.4L233.1 273.9L232.3 273.8ZM226.8 243.2L227.2 243.4M228.8 242.3L229.2 242.4M225.6 206.9L226.6 206.9L226.5 207.2ZM262.8 205.9L263.1 207.0L263.0 208.1L262.7 207.0ZM275.5 222.3L276.6 223.2L276.8 223.7L275.9 223.0ZM288.1 230.7L289.7 231.5L289.0 231.6ZM295.3 224.0L296.3 224.2L295.8 224.6ZM332.5 236.7L332.9 237.4L333.0 238.3ZM333.3 239.6L333.5 239.9M324.5 228.3L325.8 228.9M328.2 231.6L329.1 232.2M11.5 235.1L12.7 235.5M34.2 239.4L34.6 239.7M300.3 172.6L301.0 171.8L301.7 171.0ZM302.7 170.7L303.2 169.6L303.5 168.3ZM303.4 167.3L303.8 166.5L303.7 165.9ZM293.3 192.3L293.6 191.6M294.1 190.1L294.4 189.8M177.1 177.9L178.0 177.5L177.8 178.0ZM189.3 159.6L189.8 158.7L189.7 159.3ZM183.9 161.3L184.7 160.5L184.9 161.3L184.4 161.8ZM159.5 190.0L160.1 189.8L159.9 190.3ZM161.9 189.8L162.3 189.4M152.6 204.2L152.9 204.4M152.1 179.7L152.6 179.7M159.4 185.1L159.8 185.2M169.6 154.4L170.0 154.6M173.9 156.1L174.1 156.6M168.9 146.3L169.6 146.1M186.8 161.4L187.0 161.5M112.1 160.1L112.6 160.6L112.6 159.8ZM121.5 166.9L123.4 167.5L122.5 167.6ZM120.7 170.1L122.2 170.6L121.5 170.9ZM110.3 176.6L112.0 176.2L111.5 176.5ZM102.4 191.7L103.3 191.9L102.8 193.3ZM102.5 194.1L102.7 194.6L102.3 194.4ZM116.3 209.0L117.1 208.8L117.1 209.6L116.3 209.6ZM126.8 220.7L128.2 220.8L128.5 221.8L127.0 222.1ZM110.4 265.7L111.1 266.0L111.3 267.3L110.6 266.8ZM106.3 148.0L108.3 147.3L108.5 147.8L107.0 148.4ZM108.2 142.8L112.3 141.4L113.6 141.9L112.0 142.8ZM112.6 143.1L115.0 142.3L114.7 143.0ZM97.8 141.9L101.8 140.9L102.1 141.5L99.4 142.1ZM110.6 140.3L114.9 139.4L115.8 140.1L112.2 140.5ZM121.5 144.5L123.9 143.9L124.3 144.6L122.5 144.9ZM113.4 153.9L115.0 153.8L115.4 154.3L113.4 154.4ZM115.1 154.4L115.7 154.4L115.2 155.0ZM108.8 163.6L109.6 163.7L109.2 164.0ZM137.4 147.6L139.4 146.9L139.1 147.7Z" fill="none" stroke="#000" stroke-width="0.75" stroke-linejoin="round"/>
<path d="M266.43 133.50 L269.62 134.38 L273.30 135.58 L277.38 137.05 L281.74 138.77 L286.26 140.69 L290.66 142.76 L294.70 144.90 L298.46 147.12 L302.04 149.40 L305.52 151.74 L308.90 154.14 L312.20 156.59 L315.39 159.08 L318.45 161.61 L321.37 164.17 L324.11 166.77 L326.61 169.39 L328.97 172.03 L331.22 174.69 L333.33 177.37 L335.23 180.05 L336.96 182.74 L338.53 185.44 L339.93 188.14 L341.14 190.83 L342.16 193.53 L343.00 196.23 L343.74 198.92 L344.45 201.62 L345.08 204.32 L345.60 207.01 L346.01 209.71 L346.33 212.41 L346.56 215.11 L346.72 217.80 L346.80 220.50 L346.72 223.20 L346.56 225.89 L346.33 228.59 L346.01 231.29 L345.60 233.99 L345.08 236.68 L344.45 239.38 L343.74 242.08 L343.00 244.77 L342.16 247.47 L341.14 250.17 L339.93 252.86 L338.53 255.56 L336.96 258.26 L335.23 260.95 L333.33 263.63 L331.22 266.31 L328.97 268.97 L326.61 271.61 L324.11 274.23 L321.37 276.83 L318.45 279.39 L315.39 281.92 L312.20 284.41 L308.90 286.86 L305.52 289.26 L302.04 291.60 L298.46 293.88 L294.70 296.10 L290.66 298.24 L286.26 300.31 L281.74 302.23 L277.38 303.95 L273.30 305.42 L269.62 306.62 L266.43 307.50 L83.57 307.50 L80.38 306.62 L76.70 305.42 L72.62 303.95 L68.26 302.23 L63.74 300.31 L59.34 298.24 L55.30 296.10 L51.54 293.88 L47.96 291.60 L44.48 289.26 L41.10 286.86 L37.80 284.41 L34.61 281.92 L31.55 279.39 L28.63 276.83 L25.89 274.23 L23.39 271.61 L21.03 268.97 L18.78 266.31 L16.67 263.63 L14.77 260.95 L13.04 258.26 L11.47 255.56 L10.07 252.86 L8.86 250.17 L7.84 247.47 L7.00 244.77 L6.26 242.08 L5.55 239.38 L4.92 236.68 L4.40 233.99 L3.99 231.29 L3.67 228.59 L3.44 225.89 L3.28 223.20 L3.20 220.50 L3.28 217.80 L3.44 215.11 L3.67 212.41 L3.99 209.71 L4.40 207.01 L4.92 204.32 L5.55 201.62 L6.26 198.92 L7.00 196.23 L7.84 193.53 L8.86 190.83 L10.07 188.14 L11.47 185.44 L13.04 182.74 L14.77 180.05 L16.67 177.37 L18.78 174.69 L21.03 172.03 L23.39 169.39 L25.89 166.77 L28.63 164.17 L31.55 161.61 L34.61 159.08 L37.80 156.59 L41.10 154.14 L44.48 151.74 L47.96 149.40 L51.54 147.12 L55.30 144.90 L59.34 142.76 L63.74 140.69 L68.26 138.77 L72.62 137.05 L76.70 135.58 L80.38 134.38 L83.57 133.50Z" fill="none" stroke="#000" stroke-width="0.7"/>
</g>
<g transform="translate(350 0)">
<g><path fill="#3870E8" d="M82.9 306.9h184.3v1.0h-184.3zM81.7 306.5h186.6v1.0h-186.6zM80.4 306.1h189.1v1.1h-189.1zM79.1 305.7h191.7v1.1h-191.7zM77.7 305.2h194.5v1.2h-194.5zM76.3 304.7h197.4v1.2h-197.4zM74.8 304.2h200.4v1.2h-200.4zM73.3 303.6h203.5v1.3h-203.5zM71.7 303.0h206.7v1.3h-206.7zM70.0 302.3h209.9v1.4h-209.9zM68.4 301.6h213.2v1.4h-213.2zM66.7 300.9h216.6v1.4h-216.6zM65.0 300.2h220.0v1.4h-220.0zM76.5 299.5h70.0v1.5h-70.0zM153.9 299.5h123.5v1.5h-123.5zM82.9 298.7h60.1v1.5h-60.1zM156.0 298.7h122.2v1.5h-122.2zM90.3 297.9h49.0v1.5h-49.0zM157.3 297.9h122.3v1.5h-122.3zM94.0 297.1h42.3v1.5h-42.3zM159.5 297.1h122.4v1.5h-122.4zM107.7 296.3h28.2v1.5h-28.2zM160.9 296.3h124.0v1.5h-124.0zM114.3 295.5h2.0v1.5h-2.0zM122.6 295.5h12.7v1.5h-12.7zM163.2 295.5h123.9v1.5h-123.9zM123.6 294.7h11.2v1.5h-11.2zM165.6 294.7h123.7v1.5h-123.7zM123.9 293.8h9.6v1.5h-9.6zM168.9 293.8h120.1v1.5h-120.1zM124.2 293.0h9.7v1.5h-9.7zM173.1 293.0h112.8v1.5h-112.8zM125.4 292.1h8.1v1.6h-8.1zM195.7 292.1h29.0v1.6h-29.0zM227.0 292.1h56.7v1.6h-56.7zM125.7 291.3h6.4v1.6h-6.4zM203.8 291.3h19.6v1.6h-19.6zM229.3 291.3h51.2v1.6h-51.2zM126.1 290.4h5.6v1.6h-5.6zM208.5 290.4h10.1v1.6h-10.1zM232.5 290.4h46.4v1.6h-46.4zM126.5 289.5h5.7v1.6h-5.7zM212.5 289.5h3.0v1.6h-3.0zM242.0 289.5h14.6v1.6h-14.6zM263.5 289.5h10.2v1.6h-10.2zM126.9 288.6h5.7v1.6h-5.7zM128.2 287.7h4.9v1.6h-4.9zM129.6 286.8h4.0v1.6h-4.0zM118.0 278.4h5.3v1.7h-5.3zM116.5 277.4h4.3v1.7h-4.3zM115.1 276.5h5.4v1.7h-5.4zM113.6 275.5h5.4v1.7h-5.4zM124.9 275.5h3.4v1.7h-3.4zM113.2 274.5h5.4v1.7h-5.4zM124.5 274.5h2.4v1.7h-2.4zM111.8 273.6h7.5v1.7h-7.5zM111.3 272.6h8.6v1.7h-8.6zM112.0 271.6h7.6v1.7h-7.6zM111.6 270.6h8.7v1.7h-8.7zM110.2 269.6h8.8v1.7h-8.8zM315.8 269.6h4.5v1.7h-4.5zM110.9 268.6h7.8v1.7h-7.8zM316.7 268.6h4.6v1.7h-4.6zM111.6 267.6h7.8v1.7h-7.8zM318.5 267.6h4.6v1.7h-4.6zM111.2 266.6h7.8v1.7h-7.8zM301.0 266.6h1.4v1.7h-1.4zM319.3 266.6h5.7v1.7h-5.7zM109.8 265.6h10.1v1.7h-10.1zM300.6 265.6h3.6v1.7h-3.6zM322.3 265.6h3.6v1.7h-3.6zM110.6 264.6h7.9v1.7h-7.9zM301.2 264.6h3.6v1.7h-3.6zM324.1 264.6h4.7v1.7h-4.7zM110.2 263.6h10.2v1.7h-10.2zM301.9 263.6h3.6v1.7h-3.6zM324.9 263.6h5.8v1.7h-5.8zM109.9 262.6h11.3v1.7h-11.3zM327.8 262.6h3.6v1.7h-3.6zM109.6 261.6h13.6v1.7h-13.6zM300.9 261.6h1.4v1.7h-1.4zM303.1 261.6h2.5v1.7h-2.5zM328.5 261.6h4.7v1.7h-4.7zM109.3 260.6h14.7v1.7h-14.7zM299.2 260.6h8.1v1.7h-8.1zM329.2 260.6h4.7v1.7h-4.7zM109.1 259.6h15.9v1.7h-15.9zM299.7 259.6h9.2v1.7h-9.2zM329.8 259.6h2.5v1.7h-2.5zM108.8 258.6h16.0v1.7h-16.0zM299.1 258.6h11.5v1.7h-11.5zM329.4 258.6h2.5v1.7h-2.5zM109.7 257.6h13.8v1.7h-13.8zM279.4 257.6h2.5v1.7h-2.5zM298.5 257.6h12.7v1.7h-12.7zM330.0 257.6h2.5v1.7h-2.5zM109.4 256.6h17.2v1.7h-17.2zM191.8 256.6h7.1v1.7h-7.1zM278.6 256.6h5.9v1.7h-5.9zM296.7 256.6h15.0v1.7h-15.0zM109.2 255.5h18.4v1.7h-18.4zM190.7 255.5h9.4v1.7h-9.4zM279.0 255.5h8.2v1.7h-8.2zM296.0 255.5h17.3v1.7h-17.3zM108.9 254.5h19.6v1.7h-19.6zM190.8 254.5h10.5v1.7h-10.5zM279.4 254.5h11.7v1.7h-11.7zM295.3 254.5h18.5v1.7h-18.5zM108.7 253.5h19.7v1.7h-19.7zM190.8 253.5h11.7v1.7h-11.7zM279.7 253.5h35.6v1.7h-35.6zM108.5 252.5h20.9v1.7h-20.9zM190.9 252.5h12.9v1.7h-12.9zM280.1 252.5h35.8v1.7h-35.8zM109.5 251.5h20.9v1.7h-20.9zM189.8 251.5h15.2v1.7h-15.2zM280.4 251.5h35.9v1.7h-35.9zM109.3 250.5h21.0v1.7h-21.0zM189.8 250.5h15.3v1.7h-15.3zM279.5 250.5h37.1v1.7h-37.1zM109.1 249.5h21.1v1.7h-21.1zM188.7 249.5h17.6v1.7h-17.6zM279.8 249.5h37.2v1.7h-37.2zM109.0 248.5h21.1v1.7h-21.1zM188.7 248.5h17.6v1.7h-17.6zM280.1 248.5h37.3v1.7h-37.3zM108.8 247.5h22.3v1.7h-22.3zM188.8 247.5h17.7v1.7h-17.7zM280.3 247.5h37.4v1.7h-37.4zM108.7 246.4h22.4v1.7h-22.4zM187.6 246.4h18.9v1.7h-18.9zM215.5 246.4h3.8v1.7h-3.8zM280.5 246.4h36.3v1.7h-36.3zM108.5 245.4h24.7v1.7h-24.7zM187.6 245.4h20.1v1.7h-20.1zM215.6 245.4h3.8v1.7h-3.8zM280.7 245.4h35.2v1.7h-35.2zM108.4 244.4h28.3v1.7h-28.3zM187.7 244.4h21.3v1.7h-21.3zM214.5 244.4h6.1v1.7h-6.1zM279.8 244.4h36.4v1.7h-36.4zM108.3 243.4h28.3v1.7h-28.3zM187.7 243.4h21.3v1.7h-21.3zM214.6 243.4h6.1v1.7h-6.1zM279.9 243.4h35.3v1.7h-35.3zM108.2 242.4h29.5v1.7h-29.5zM187.7 242.4h21.4v1.7h-21.4zM215.8 242.4h5.0v1.7h-5.0zM282.5 242.4h33.0v1.7h-33.0zM108.1 241.4h29.6v1.7h-29.6zM186.6 241.4h21.4v1.7h-21.4zM215.9 241.4h5.0v1.7h-5.0zM285.0 241.4h29.6v1.7h-29.6zM108.0 240.4h30.8v1.7h-30.8zM186.6 240.4h22.6v1.7h-22.6zM215.9 240.4h6.2v1.7h-6.2zM288.7 240.4h24.9v1.7h-24.9zM107.9 239.4h30.9v1.7h-30.9zM185.4 239.4h25.0v1.7h-25.0zM216.0 239.4h6.2v1.7h-6.2zM288.8 239.4h23.8v1.7h-23.8zM106.6 238.4h32.1v1.7h-32.1zM185.4 238.4h26.2v1.7h-26.2zM216.0 238.4h6.2v1.7h-6.2zM290.2 238.4h22.7v1.7h-22.7zM105.3 237.3h33.3v1.7h-33.3zM185.5 237.3h27.4v1.7h-27.4zM216.1 237.3h6.2v1.7h-6.2zM291.5 237.3h14.4v1.7h-14.4zM308.0 237.3h5.0v1.7h-5.0zM104.0 236.3h34.5v1.7h-34.5zM185.5 236.3h28.6v1.7h-28.6zM218.5 236.3h3.8v1.7h-3.8zM292.9 236.3h10.9v1.7h-10.9zM308.2 236.3h5.0v1.7h-5.0zM102.8 235.3h35.8v1.7h-35.8zM185.5 235.3h28.7v1.7h-28.7zM219.8 235.3h2.7v1.7h-2.7zM293.0 235.3h10.9v1.7h-10.9zM308.4 235.3h3.8v1.7h-3.8zM102.7 234.3h35.8v1.7h-35.8zM186.7 234.3h27.5v1.7h-27.5zM219.8 234.3h2.7v1.7h-2.7zM297.9 234.3h6.2v1.7h-6.2zM308.6 234.3h2.7v1.7h-2.7zM101.4 233.3h38.2v1.7h-38.2zM186.7 233.3h27.5v1.7h-27.5zM221.0 233.3h1.5v1.7h-1.5zM298.0 233.3h7.4v1.7h-7.4zM308.7 233.3h2.7v1.7h-2.7zM101.3 232.3h38.2v1.7h-38.2zM187.9 232.3h26.4v1.7h-26.4zM300.5 232.3h2.7v1.7h-2.7zM308.8 232.3h2.7v1.7h-2.7zM100.1 231.3h40.6v1.7h-40.6zM187.9 231.3h26.4v1.7h-26.4zM316.1 231.3h2.7v1.7h-2.7zM100.0 230.3h41.9v1.7h-41.9zM186.7 230.3h26.4v1.7h-26.4zM315.0 230.3h3.9v1.7h-3.9zM100.0 229.3h41.9v1.7h-41.9zM186.7 229.3h26.4v1.7h-26.4zM283.0 229.3h1.5v1.7h-1.5zM308.0 229.3h3.9v1.7h-3.9zM313.9 229.3h3.9v1.7h-3.9zM98.7 228.2h43.1v1.7h-43.1zM186.7 228.2h26.5v1.7h-26.5zM277.1 228.2h7.4v1.7h-7.4zM305.7 228.2h11.0v1.7h-11.0zM98.7 227.2h43.1v1.7h-43.1zM186.8 227.2h26.5v1.7h-26.5zM274.8 227.2h5.1v1.7h-5.1zM282.0 227.2h1.5v1.7h-1.5zM307.0 227.2h9.8v1.7h-9.8zM97.5 226.2h44.4v1.7h-44.4zM186.8 226.2h26.5v1.7h-26.5zM273.7 226.2h3.9v1.7h-3.9zM305.8 226.2h9.8v1.7h-9.8zM316.5 226.2h2.7v1.7h-2.7zM97.4 225.2h44.4v1.7h-44.4zM185.6 225.2h27.7v1.7h-27.7zM273.7 225.2h2.7v1.7h-2.7zM289.2 225.2h1.5v1.7h-1.5zM304.7 225.2h15.8v1.7h-15.8zM97.4 224.2h42.0v1.7h-42.0zM185.6 224.2h27.7v1.7h-27.7zM271.4 224.2h5.1v1.7h-5.1zM283.3 224.2h2.7v1.7h-2.7zM288.1 224.2h2.7v1.7h-2.7zM301.2 224.2h12.2v1.7h-12.2zM317.9 224.2h2.7v1.7h-2.7zM97.4 223.2h40.8v1.7h-40.8zM184.4 223.2h28.9v1.7h-28.9zM271.4 223.2h5.1v1.7h-5.1zM279.8 223.2h6.3v1.7h-6.3zM288.1 223.2h3.9v1.7h-3.9zM301.2 223.2h11.0v1.7h-11.0zM97.3 222.2h36.1v1.7h-36.1zM183.2 222.2h31.3v1.7h-31.3zM270.3 222.2h7.5v1.7h-7.5zM279.8 222.2h7.5v1.7h-7.5zM288.1 222.2h3.9v1.7h-3.9zM300.1 222.2h9.8v1.7h-9.8zM97.3 221.2h34.9v1.7h-34.9zM183.2 221.2h32.5v1.7h-32.5zM270.3 221.2h5.1v1.7h-5.1zM278.6 221.2h8.6v1.7h-8.6zM288.2 221.2h5.1v1.7h-5.1zM298.9 221.2h5.1v1.7h-5.1zM306.1 221.2h1.5v1.7h-1.5zM87.8 220.2h1.5v1.7h-1.5zM97.3 220.2h32.5v1.7h-32.5zM183.2 220.2h32.5v1.7h-32.5zM269.1 220.2h5.1v1.7h-5.1zM278.6 220.2h8.7v1.7h-8.7zM288.2 220.2h1.5v1.7h-1.5zM300.1 220.2h2.7v1.7h-2.7zM98.5 219.1h28.9v1.7h-28.9zM183.2 219.1h33.7v1.7h-33.7zM269.1 219.1h5.1v1.7h-5.1zM278.6 219.1h9.8v1.7h-9.8zM289.4 219.1h1.5v1.7h-1.5zM99.7 218.1h27.7v1.7h-27.7zM183.2 218.1h34.9v1.7h-34.9zM267.9 218.1h7.5v1.7h-7.5zM278.6 218.1h9.8v1.7h-9.8zM99.7 217.1h27.7v1.7h-27.7zM183.2 217.1h36.1v1.7h-36.1zM267.9 217.1h6.3v1.7h-6.3zM278.6 217.1h9.8v1.7h-9.8zM100.9 216.1h25.3v1.7h-25.3zM183.2 216.1h37.3v1.7h-37.3zM266.6 216.1h7.5v1.7h-7.5zM281.0 216.1h7.5v1.7h-7.5zM101.0 215.1h25.3v1.7h-25.3zM180.8 215.1h40.8v1.7h-40.8zM265.4 215.1h3.9v1.7h-3.9zM270.2 215.1h3.9v1.7h-3.9zM283.3 215.1h5.1v1.7h-5.1zM101.0 214.1h24.1v1.7h-24.1zM165.3 214.1h9.8v1.7h-9.8zM179.6 214.1h42.0v1.7h-42.0zM265.4 214.1h3.9v1.7h-3.9zM270.2 214.1h3.9v1.7h-3.9zM283.3 214.1h6.3v1.7h-6.3zM101.0 213.1h21.7v1.7h-21.7zM164.1 213.1h58.6v1.7h-58.6zM251.1 213.1h1.5v1.7h-1.5zM270.1 213.1h3.9v1.7h-3.9zM284.4 213.1h3.9v1.7h-3.9zM292.7 213.1h2.7v1.7h-2.7zM99.9 212.1h20.5v1.7h-20.5zM162.9 212.1h59.8v1.7h-59.8zM251.0 212.1h2.7v1.7h-2.7zM268.9 212.1h3.9v1.7h-3.9zM285.5 212.1h1.5v1.7h-1.5zM292.7 212.1h3.9v1.7h-3.9zM95.2 211.0h3.9v1.7h-3.9zM99.9 211.0h19.3v1.7h-19.3zM161.8 211.0h61.0v1.7h-61.0zM251.0 211.0h2.7v1.7h-2.7zM267.6 211.0h3.9v1.7h-3.9zM291.4 211.0h3.9v1.7h-3.9zM94.0 210.0h7.4v1.7h-7.4zM102.3 210.0h14.6v1.7h-14.6zM161.8 210.0h62.1v1.7h-62.1zM247.4 210.0h2.7v1.7h-2.7zM250.9 210.0h1.5v1.7h-1.5zM267.6 210.0h2.7v1.7h-2.7zM274.7 210.0h1.5v1.7h-1.5zM291.3 210.0h3.9v1.7h-3.9zM92.9 209.0h3.9v1.7h-3.9zM102.4 209.0h14.6v1.7h-14.6zM160.6 209.0h63.2v1.7h-63.2zM247.3 209.0h3.9v1.7h-3.9zM267.5 209.0h2.7v1.7h-2.7zM273.4 209.0h3.9v1.7h-3.9zM291.2 209.0h3.9v1.7h-3.9zM93.0 208.0h3.9v1.7h-3.9zM103.6 208.0h9.8v1.7h-9.8zM114.3 208.0h3.9v1.7h-3.9zM160.6 208.0h63.2v1.7h-63.2zM246.1 208.0h5.0v1.7h-5.0zM268.6 208.0h1.5v1.7h-1.5zM272.2 208.0h6.2v1.7h-6.2zM290.0 208.0h5.0v1.7h-5.0zM91.9 207.0h3.9v1.7h-3.9zM106.1 207.0h1.5v1.7h-1.5zM108.5 207.0h1.5v1.7h-1.5zM159.4 207.0h57.2v1.7h-57.2zM222.3 207.0h1.5v1.7h-1.5zM246.0 207.0h5.0v1.7h-5.0zM268.5 207.0h1.5v1.7h-1.5zM272.1 207.0h7.4v1.7h-7.4zM289.9 207.0h5.0v1.7h-5.0zM91.9 206.0h3.9v1.7h-3.9zM158.3 206.0h59.5v1.7h-59.5zM245.9 206.0h5.0v1.7h-5.0zM267.2 206.0h12.1v1.7h-12.1zM290.9 206.0h3.9v1.7h-3.9zM88.5 205.0h8.6v1.7h-8.6zM158.3 205.0h61.8v1.7h-61.8zM244.7 205.0h7.4v1.7h-7.4zM267.1 205.0h12.1v1.7h-12.1zM288.4 205.0h3.8v1.7h-3.8zM87.4 204.0h9.8v1.7h-9.8zM158.3 204.0h55.8v1.7h-55.8zM215.0 204.0h7.4v1.7h-7.4zM244.6 204.0h7.4v1.7h-7.4zM267.0 204.0h12.1v1.7h-12.1zM288.3 204.0h2.7v1.7h-2.7zM86.3 203.0h10.9v1.7h-10.9zM158.3 203.0h54.6v1.7h-54.6zM215.0 203.0h8.6v1.7h-8.6zM244.5 203.0h7.4v1.7h-7.4zM266.9 203.0h10.9v1.7h-10.9zM288.2 203.0h2.7v1.7h-2.7zM81.7 201.9h10.9v1.7h-10.9zM159.5 201.9h53.3v1.7h-53.3zM214.9 201.9h10.9v1.7h-10.9zM243.2 201.9h9.7v1.7h-9.7zM263.3 201.9h14.4v1.7h-14.4zM288.0 201.9h2.7v1.7h-2.7zM79.5 200.9h13.2v1.7h-13.2zM159.5 200.9h52.1v1.7h-52.1zM213.7 200.9h14.4v1.7h-14.4zM243.1 200.9h10.9v1.7h-10.9zM263.1 200.9h13.2v1.7h-13.2zM287.8 200.9h2.7v1.7h-2.7zM77.3 199.9h15.6v1.7h-15.6zM100.8 199.9h2.7v1.7h-2.7zM105.5 199.9h1.5v1.7h-1.5zM111.4 199.9h1.5v1.7h-1.5zM159.6 199.9h52.0v1.7h-52.0zM213.6 199.9h15.6v1.7h-15.6zM243.0 199.9h12.1v1.7h-12.1zM263.0 199.9h12.1v1.7h-12.1zM277.1 199.9h1.5v1.7h-1.5zM287.7 199.9h2.7v1.7h-2.7zM28.2 198.9h2.6v1.7h-2.6zM76.3 198.9h9.7v1.7h-9.7zM89.2 198.9h3.8v1.7h-3.8zM106.8 198.9h3.8v1.7h-3.8zM159.6 198.9h50.8v1.7h-50.8zM212.4 198.9h17.9v1.7h-17.9zM242.9 198.9h12.0v1.7h-12.0zM262.9 198.9h12.0v1.7h-12.0zM276.9 198.9h2.6v1.7h-2.6zM28.4 197.9h1.5v1.7h-1.5zM75.3 197.9h9.7v1.7h-9.7zM89.3 197.9h3.8v1.7h-3.8zM106.9 197.9h1.5v1.7h-1.5zM158.4 197.9h51.8v1.7h-51.8zM212.3 197.9h17.9v1.7h-17.9zM242.8 197.9h14.4v1.7h-14.4zM261.5 197.9h14.4v1.7h-14.4zM276.8 197.9h2.6v1.7h-2.6zM75.4 196.9h8.5v1.7h-8.5zM90.6 196.9h3.8v1.7h-3.8zM103.5 196.9h1.5v1.7h-1.5zM158.5 196.9h51.8v1.7h-51.8zM211.1 196.9h20.2v1.7h-20.2zM240.3 196.9h16.7v1.7h-16.7zM261.4 196.9h14.3v1.7h-14.3zM277.8 196.9h1.5v1.7h-1.5zM75.6 195.9h8.5v1.7h-8.5zM97.8 195.9h2.6v1.7h-2.6zM159.7 195.9h50.5v1.7h-50.5zM211.0 195.9h20.2v1.7h-20.2zM239.1 195.9h42.3v1.7h-42.3zM75.8 194.9h8.5v1.7h-8.5zM159.7 194.9h49.3v1.7h-49.3zM211.0 194.9h20.1v1.7h-20.1zM239.0 194.9h44.6v1.7h-44.6zM286.8 194.9h1.5v1.7h-1.5zM71.3 193.9h1.5v1.7h-1.5zM74.8 193.9h9.6v1.7h-9.6zM159.7 193.9h49.2v1.7h-49.2zM209.8 193.9h20.1v1.7h-20.1zM237.7 193.9h46.8v1.7h-46.8zM286.5 193.9h2.6v1.7h-2.6zM70.3 192.8h2.6v1.7h-2.6zM73.8 192.8h10.8v1.7h-10.8zM160.9 192.8h46.7v1.7h-46.7zM208.5 192.8h14.2v1.7h-14.2zM224.8 192.8h3.8v1.7h-3.8zM235.2 192.8h50.2v1.7h-50.2zM286.3 192.8h2.6v1.7h-2.6zM70.6 191.8h1.5v1.7h-1.5zM74.0 191.8h10.7v1.7h-10.7zM98.4 191.8h2.6v1.7h-2.6zM160.9 191.8h46.7v1.7h-46.7zM208.5 191.8h14.2v1.7h-14.2zM225.8 191.8h1.5v1.7h-1.5zM228.2 191.8h58.2v1.7h-58.2zM69.6 190.8h2.6v1.7h-2.6zM73.1 190.8h13.0v1.7h-13.0zM98.5 190.8h2.6v1.7h-2.6zM161.0 190.8h60.4v1.7h-60.4zM224.6 190.8h61.6v1.7h-61.6zM68.7 189.8h2.6v1.7h-2.6zM72.2 189.8h14.1v1.7h-14.1zM98.7 189.8h2.6v1.7h-2.6zM162.2 189.8h44.1v1.7h-44.1zM207.1 189.8h14.1v1.7h-14.1zM222.1 189.8h64.9v1.7h-64.9zM69.0 188.8h18.7v1.7h-18.7zM97.8 188.8h3.8v1.7h-3.8zM163.3 188.8h56.7v1.7h-56.7zM220.9 188.8h67.0v1.7h-67.0zM69.3 187.8h1.4v1.7h-1.4zM71.6 187.8h22.1v1.7h-22.1zM95.7 187.8h1.4v1.7h-1.4zM98.0 187.8h3.7v1.7h-3.7zM165.7 187.8h54.2v1.7h-54.2zM220.7 187.8h66.8v1.7h-66.8zM68.5 186.8h32.3v1.7h-32.3zM165.7 186.8h120.4v1.7h-120.4zM68.8 185.8h32.2v1.7h-32.2zM165.7 185.8h24.2v1.7h-24.2zM193.1 185.8h7.1v1.7h-7.1zM202.2 185.8h84.7v1.7h-84.7zM293.4 185.8h1.4v1.7h-1.4zM68.0 184.8h34.4v1.7h-34.4zM165.8 184.8h23.0v1.7h-23.0zM193.0 184.8h3.7v1.7h-3.7zM205.5 184.8h79.8v1.7h-79.8zM293.0 184.8h2.6v1.7h-2.6zM67.3 183.7h36.5v1.7h-36.5zM166.9 183.7h18.4v1.7h-18.4zM206.6 183.7h78.4v1.7h-78.4zM291.5 183.7h7.1v1.7h-7.1zM66.5 182.7h38.7v1.7h-38.7zM168.1 182.7h16.1v1.7h-16.1zM206.4 182.7h77.0v1.7h-77.0zM293.3 182.7h5.9v1.7h-5.9zM65.8 181.7h41.9v1.7h-41.9zM169.2 181.7h16.0v1.7h-16.0zM206.3 181.7h76.7v1.7h-76.7zM288.4 181.7h1.4v1.7h-1.4zM294.0 181.7h8.2v1.7h-8.2zM65.1 180.7h42.8v1.7h-42.8zM169.3 180.7h1.4v1.7h-1.4zM174.8 180.7h10.4v1.7h-10.4zM202.8 180.7h2.5v1.7h-2.5zM206.2 180.7h77.6v1.7h-77.6zM296.9 180.7h4.8v1.7h-4.8zM65.6 179.7h41.6v1.7h-41.6zM167.0 179.7h7.0v1.7h-7.0zM177.1 179.7h8.1v1.7h-8.1zM187.1 179.7h1.4v1.7h-1.4zM193.8 179.7h2.5v1.7h-2.5zM199.4 179.7h85.0v1.7h-85.0zM296.4 179.7h4.8v1.7h-4.8zM66.0 178.7h42.5v1.7h-42.5zM167.1 178.7h8.1v1.7h-8.1zM186.0 178.7h1.4v1.7h-1.4zM193.7 178.7h2.5v1.7h-2.5zM198.2 178.7h82.5v1.7h-82.5zM281.4 178.7h1.4v1.7h-1.4zM289.2 178.7h1.4v1.7h-1.4zM298.1 178.7h3.6v1.7h-3.6zM65.4 177.7h43.4v1.7h-43.4zM166.0 177.7h9.1v1.7h-9.1zM182.6 177.7h1.4v1.7h-1.4zM189.2 177.7h1.4v1.7h-1.4zM192.5 177.7h3.6v1.7h-3.6zM198.1 177.7h82.1v1.7h-82.1zM282.1 177.7h1.4v1.7h-1.4zM285.4 177.7h2.5v1.7h-2.5zM297.6 177.7h3.6v1.7h-3.6zM64.8 176.7h45.4v1.7h-45.4zM166.0 176.7h9.1v1.7h-9.1zM181.5 176.7h2.5v1.7h-2.5zM189.2 176.7h1.4v1.7h-1.4zM192.5 176.7h3.6v1.7h-3.6zM198.0 176.7h82.8v1.7h-82.8zM281.6 176.7h6.9v1.7h-6.9zM298.1 176.7h2.5v1.7h-2.5zM65.3 175.7h46.3v1.7h-46.3zM167.2 175.7h9.1v1.7h-9.1zM181.4 175.7h1.4v1.7h-1.4zM188.0 175.7h101.0v1.7h-101.0zM297.5 175.7h2.5v1.7h-2.5zM65.9 174.7h48.2v1.7h-48.2zM167.2 174.7h11.2v1.7h-11.2zM185.7 174.7h3.6v1.7h-3.6zM191.2 174.7h9.0v1.7h-9.0zM203.2 174.7h3.6v1.7h-3.6zM210.8 174.7h78.8v1.7h-78.8zM296.9 174.7h1.4v1.7h-1.4zM66.5 173.7h48.0v1.7h-48.0zM166.2 173.7h12.2v1.7h-12.2zM184.6 173.7h3.6v1.7h-3.6zM190.0 173.7h10.1v1.7h-10.1zM210.6 173.7h80.5v1.7h-80.5zM296.2 173.7h4.6v1.7h-4.6zM67.0 172.7h47.7v1.7h-47.7zM117.7 172.7h1.4v1.7h-1.4zM167.3 172.7h14.3v1.7h-14.3zM183.5 172.7h3.5v1.7h-3.5zM187.8 172.7h12.2v1.7h-12.2zM208.3 172.7h83.3v1.7h-83.3zM296.7 172.7h4.6v1.7h-4.6zM67.6 171.7h49.6v1.7h-49.6zM118.0 171.7h3.5v1.7h-3.5zM173.8 171.7h12.1v1.7h-12.1zM187.7 171.7h13.2v1.7h-13.2zM203.8 171.7h1.4v1.7h-1.4zM207.0 171.7h85.0v1.7h-85.0zM296.0 171.7h3.5v1.7h-3.5zM68.2 170.7h55.7v1.7h-55.7zM173.8 170.7h27.0v1.7h-27.0zM202.6 170.7h3.5v1.7h-3.5zM206.8 170.7h85.6v1.7h-85.6zM295.3 170.7h1.4v1.7h-1.4zM68.8 169.7h52.2v1.7h-52.2zM122.9 169.7h1.4v1.7h-1.4zM172.7 169.7h33.2v1.7h-33.2zM206.7 169.7h86.2v1.7h-86.2zM295.7 169.7h1.4v1.7h-1.4zM69.5 168.7h50.9v1.7h-50.9zM125.3 168.7h5.6v1.7h-5.6zM171.7 168.7h121.5v1.7h-121.5zM293.9 168.7h1.4v1.7h-1.4zM70.1 167.7h51.6v1.7h-51.6zM125.6 167.7h5.5v1.7h-5.5zM170.7 167.7h121.8v1.7h-121.8zM293.2 167.7h1.3v1.7h-1.3zM69.7 166.7h51.3v1.7h-51.3zM125.9 166.7h4.5v1.7h-4.5zM172.8 166.7h122.1v1.7h-122.1zM69.4 165.8h56.2v1.7h-56.2zM127.3 165.8h2.4v1.7h-2.4zM169.7 165.8h3.4v1.7h-3.4zM174.8 165.8h119.2v1.7h-119.2zM70.1 164.8h59.9v1.7h-59.9zM170.7 164.8h122.6v1.7h-122.6zM303.3 164.8h1.3v1.7h-1.3zM70.8 163.8h38.0v1.7h-38.0zM109.6 163.8h19.7v1.7h-19.7zM166.7 163.8h1.3v1.7h-1.3zM170.8 163.8h6.4v1.7h-6.4zM177.9 163.8h114.6v1.7h-114.6zM302.4 163.8h2.3v1.7h-2.3zM67.5 162.9h1.3v1.7h-1.3zM70.5 162.9h38.8v1.7h-38.8zM112.1 162.9h17.5v1.7h-17.5zM166.7 162.9h1.3v1.7h-1.3zM170.8 162.9h6.4v1.7h-6.4zM177.9 162.9h113.7v1.7h-113.7zM300.4 162.9h4.4v1.7h-4.4zM67.3 161.9h2.3v1.7h-2.3zM70.3 161.9h38.5v1.7h-38.5zM112.5 161.9h17.4v1.7h-17.4zM166.8 161.9h4.3v1.7h-4.3zM171.8 161.9h3.3v1.7h-3.3zM180.9 161.9h106.9v1.7h-106.9zM289.4 161.9h1.3v1.7h-1.3zM299.5 161.9h5.3v1.7h-5.3zM44.2 160.9h2.3v1.7h-2.3zM70.1 160.9h35.2v1.7h-35.2zM106.0 160.9h3.3v1.7h-3.3zM112.0 160.9h17.3v1.7h-17.3zM167.9 160.9h1.3v1.7h-1.3zM169.9 160.9h5.3v1.7h-5.3zM181.8 160.9h1.3v1.7h-1.3zM183.8 160.9h1.3v1.7h-1.3zM188.8 160.9h96.1v1.7h-96.1zM298.5 160.9h6.3v1.7h-6.3zM46.2 160.0h3.3v1.7h-3.3zM69.9 160.0h33.0v1.7h-33.0zM103.6 160.0h1.3v1.7h-1.3zM105.6 160.0h1.3v1.7h-1.3zM113.5 160.0h14.2v1.7h-14.2zM169.9 160.0h4.3v1.7h-4.3zM180.8 160.0h6.2v1.7h-6.2zM191.7 160.0h1.3v1.7h-1.3zM193.7 160.0h91.3v1.7h-91.3zM297.6 160.0h6.2v1.7h-6.2zM49.2 159.0h3.2v1.6h-3.2zM53.1 159.0h2.3v1.6h-2.3zM69.8 159.0h32.7v1.6h-32.7zM114.0 159.0h1.3v1.6h-1.3zM116.0 159.0h11.1v1.6h-11.1zM169.9 159.0h4.2v1.6h-4.2zM180.7 159.0h3.2v1.6h-3.2zM184.7 159.0h3.2v1.6h-3.2zM194.5 159.0h90.6v1.6h-90.6zM297.6 159.0h6.2v1.6h-6.2zM51.2 158.1h3.2v1.6h-3.2zM55.1 158.1h1.3v1.6h-1.3zM69.7 158.1h31.5v1.6h-31.5zM101.8 158.1h1.3v1.6h-1.3zM115.5 158.1h12.0v1.6h-12.0zM170.0 158.1h4.2v1.6h-4.2zM181.7 158.1h1.3v1.6h-1.3zM183.6 158.1h5.2v1.6h-5.2zM194.3 158.1h90.8v1.6h-90.8zM296.5 158.1h6.1v1.6h-6.1zM49.4 157.2h7.1v1.6h-7.1zM68.7 157.2h33.1v1.6h-33.1zM116.9 157.2h10.0v1.6h-10.0zM170.0 157.2h3.2v1.6h-3.2zM178.7 157.2h4.2v1.6h-4.2zM183.5 157.2h5.1v1.6h-5.1zM194.2 157.2h91.0v1.6h-91.0zM296.5 157.2h5.1v1.6h-5.1zM50.4 156.2h8.0v1.6h-8.0zM59.1 156.2h2.2v1.6h-2.2zM67.7 156.2h34.8v1.6h-34.8zM117.4 156.2h4.1v1.6h-4.1zM124.1 156.2h2.2v1.6h-2.2zM178.7 156.2h10.8v1.6h-10.8zM194.0 156.2h99.8v1.6h-99.8zM296.4 156.2h6.0v1.6h-6.0zM49.6 155.3h53.4v1.6h-53.4zM117.9 155.3h4.1v1.6h-4.1zM139.8 155.3h3.1v1.6h-3.1zM178.6 155.3h10.7v1.6h-10.7zM193.8 155.3h99.9v1.6h-99.9zM296.3 155.3h8.8v1.6h-8.8zM49.8 154.4h52.9v1.6h-52.9zM117.5 154.4h4.1v1.6h-4.1zM138.2 154.4h5.0v1.6h-5.0zM178.6 154.4h9.7v1.6h-9.7zM192.7 154.4h114.0v1.6h-114.0zM51.0 153.5h52.5v1.6h-52.5zM116.2 153.5h4.0v1.6h-4.0zM123.6 153.5h3.1v1.6h-3.1zM137.6 153.5h6.8v1.6h-6.8zM178.6 153.5h10.5v1.6h-10.5zM192.5 153.5h115.8v1.6h-115.8zM53.1 152.6h49.2v1.6h-49.2zM122.3 152.6h5.8v1.6h-5.8zM137.0 152.6h7.7v1.6h-7.7zM160.1 152.6h2.1v1.6h-2.1zM180.4 152.6h8.6v1.6h-8.6zM193.3 152.6h113.8v1.6h-113.8zM47.8 151.7h1.2v1.6h-1.2zM55.1 151.7h47.8v1.6h-47.8zM103.6 151.7h1.2v1.6h-1.2zM112.7 151.7h1.2v1.6h-1.2zM114.5 151.7h1.2v1.6h-1.2zM120.0 151.7h8.5v1.6h-8.5zM137.4 151.7h8.5v1.6h-8.5zM158.4 151.7h5.8v1.6h-5.8zM182.2 151.7h8.5v1.6h-8.5zM193.1 151.7h112.7v1.6h-112.7zM44.5 150.8h6.6v1.6h-6.6zM53.6 150.8h57.3v1.6h-57.3zM112.4 150.8h3.0v1.6h-3.0zM118.7 150.8h11.2v1.6h-11.2zM136.8 150.8h11.2v1.6h-11.2zM157.7 150.8h7.5v1.6h-7.5zM183.0 150.8h8.4v1.6h-8.4zM192.9 150.8h7.5v1.6h-7.5zM203.8 150.8h101.6v1.6h-101.6zM45.8 149.9h7.5v1.6h-7.5zM53.9 149.9h57.6v1.6h-57.6zM112.1 149.9h3.0v1.6h-3.0zM122.0 149.9h9.3v1.6h-9.3zM137.2 149.9h12.8v1.6h-12.8zM157.8 149.9h7.5v1.6h-7.5zM183.8 149.9h15.5v1.6h-15.5zM199.9 149.9h104.2v1.6h-104.2zM47.1 149.0h5.6v1.6h-5.6zM56.0 149.0h60.6v1.6h-60.6zM122.5 149.0h9.2v1.6h-9.2zM136.7 149.0h15.4v1.6h-15.4zM184.6 149.0h19.8v1.6h-19.8zM205.9 149.0h97.0v1.6h-97.0zM48.5 148.2h3.8v1.6h-3.8zM57.2 148.2h42.4v1.6h-42.4zM101.1 148.2h17.0v1.6h-17.0zM123.1 148.2h7.3v1.6h-7.3zM137.1 148.2h17.0v1.6h-17.0zM185.4 148.2h17.9v1.6h-17.9zM205.6 148.2h2.1v1.6h-2.1zM209.1 148.2h17.0v1.6h-17.0zM226.6 148.2h74.9v1.6h-74.9zM49.8 147.3h1.2v1.6h-1.2zM60.2 147.3h42.8v1.6h-42.8zM106.3 147.3h6.4v1.6h-6.4zM114.9 147.3h3.8v1.6h-3.8zM121.9 147.3h7.2v1.6h-7.2zM138.4 147.3h19.4v1.6h-19.4zM186.1 147.3h15.1v1.6h-15.1zM214.8 147.3h10.7v1.6h-10.7zM226.1 147.3h74.1v1.6h-74.1zM63.2 146.5h15.8v1.5h-15.8zM82.9 146.5h9.7v1.5h-9.7zM94.1 146.5h11.5v1.5h-11.5zM107.9 146.5h4.6v1.5h-4.6zM116.4 146.5h12.3v1.5h-12.3zM137.9 146.5h21.8v1.5h-21.8zM187.7 146.5h8.9v1.5h-8.9zM216.1 146.5h2.0v1.5h-2.0zM220.4 146.5h4.6v1.5h-4.6zM225.5 146.5h67.3v1.5h-67.3zM294.2 146.5h2.9v1.5h-2.9zM66.1 145.6h7.9v1.5h-7.9zM95.0 145.6h10.5v1.5h-10.5zM109.5 145.6h2.8v1.5h-2.8zM114.5 145.6h13.9v1.5h-13.9zM137.5 145.6h23.2v1.5h-23.2zM190.1 145.6h5.4v1.5h-5.4zM210.5 145.6h3.7v1.5h-3.7zM219.9 145.6h62.3v1.5h-62.3zM90.9 144.8h4.5v1.5h-4.5zM95.9 144.8h9.5v1.5h-9.5zM106.0 144.8h3.7v1.5h-3.7zM111.0 144.8h2.0v1.5h-2.0zM114.4 144.8h12.1v1.5h-12.1zM137.9 144.8h23.0v1.5h-23.0zM209.3 144.8h4.5v1.5h-4.5zM220.2 144.8h3.7v1.5h-3.7zM224.4 144.8h5.3v1.5h-5.3zM230.3 144.8h35.6v1.5h-35.6zM267.2 144.8h9.5v1.5h-9.5zM91.9 144.0h6.1v1.5h-6.1zM99.4 144.0h6.1v1.5h-6.1zM106.8 144.0h17.7v1.5h-17.7zM138.3 144.0h22.7v1.5h-22.7zM209.7 144.0h2.8v1.5h-2.8zM220.5 144.0h2.8v1.5h-2.8zM226.3 144.0h1.1v1.5h-1.1zM228.8 144.0h31.0v1.5h-31.0zM267.8 144.0h2.8v1.5h-2.8zM93.7 143.2h5.2v1.5h-5.2zM108.5 143.2h2.8v1.5h-2.8zM111.8 143.2h4.4v1.5h-4.4zM116.7 143.2h7.7v1.5h-7.7zM138.0 143.2h23.2v1.5h-23.2zM209.3 143.2h3.6v1.5h-3.6zM228.1 143.2h29.0v1.5h-29.0zM95.6 142.4h2.7v1.5h-2.7zM100.5 142.4h5.2v1.5h-5.2zM112.6 142.4h1.9v1.5h-1.9zM121.5 142.4h1.9v1.5h-1.9zM137.7 142.4h24.6v1.5h-24.6zM210.4 142.4h4.3v1.5h-4.3zM229.8 142.4h18.9v1.5h-18.9zM263.8 142.4h7.6v1.5h-7.6zM101.5 141.6h6.7v1.5h-6.7zM108.6 141.6h4.3v1.5h-4.3zM114.2 141.6h1.1v1.5h-1.1zM116.6 141.6h7.5v1.5h-7.5zM136.6 141.6h26.6v1.5h-26.6zM210.7 141.6h5.9v1.5h-5.9zM231.5 141.6h16.3v1.5h-16.3zM262.6 141.6h7.5v1.5h-7.5zM98.6 140.8h3.4v1.5h-3.4zM104.1 140.8h2.7v1.5h-2.7zM111.2 140.8h2.7v1.5h-2.7zM116.7 140.8h8.9v1.5h-8.9zM130.8 140.8h32.5v1.5h-32.5zM212.6 140.8h5.8v1.5h-5.8zM235.4 140.8h10.5v1.5h-10.5zM101.3 140.1h1.1v1.5h-1.1zM119.1 140.1h8.8v1.5h-8.8zM130.7 140.1h32.8v1.5h-32.8zM183.4 140.1h4.2v1.5h-4.2zM237.6 140.1h3.4v1.5h-3.4zM110.8 139.4h4.9v1.4h-4.9zM116.9 139.4h13.3v1.4h-13.3zM130.6 139.4h33.9v1.4h-33.9zM182.5 139.4h5.6v1.4h-5.6zM233.6 139.4h5.6v1.4h-5.6zM114.0 138.7h1.8v1.4h-1.8zM117.8 138.7h46.9v1.4h-46.9zM181.6 138.7h8.6v1.4h-8.6zM231.9 138.7h7.1v1.4h-7.1zM119.4 138.0h46.9v1.4h-46.9zM183.0 138.0h7.7v1.4h-7.7zM202.2 138.0h8.4v1.4h-8.4zM231.8 138.0h5.5v1.4h-5.5zM121.7 137.3h46.2v1.4h-46.2zM204.0 137.3h8.3v1.4h-8.3zM230.9 137.3h2.5v1.4h-2.5zM124.0 136.7h15.3v1.3h-15.3zM139.7 136.7h25.4v1.3h-25.4zM129.7 136.1h8.1v1.3h-8.1zM148.0 136.1h13.0v1.3h-13.0z"/><path fill="#18C0FF" d="M118.0 278.4h5.3v1.7h-5.3zM119.6 277.4h1.3v1.7h-1.3zM118.1 276.5h1.3v1.7h-1.3zM116.7 275.5h1.3v1.7h-1.3zM111.6 270.6h2.4v1.7h-2.4zM111.2 269.6h2.4v1.7h-2.4zM315.8 269.6h4.5v1.7h-4.5zM110.9 268.6h2.4v1.7h-2.4zM316.7 268.6h4.6v1.7h-4.6zM111.6 267.6h2.4v1.7h-2.4zM318.5 267.6h4.6v1.7h-4.6zM111.2 266.6h1.4v1.7h-1.4zM301.0 266.6h1.4v1.7h-1.4zM319.3 266.6h5.7v1.7h-5.7zM110.9 265.6h1.4v1.7h-1.4zM300.6 265.6h3.6v1.7h-3.6zM322.3 265.6h3.6v1.7h-3.6zM110.6 264.6h2.5v1.7h-2.5zM301.2 264.6h3.6v1.7h-3.6zM324.1 264.6h4.7v1.7h-4.7zM110.2 263.6h1.4v1.7h-1.4zM301.9 263.6h3.6v1.7h-3.6zM324.9 263.6h5.8v1.7h-5.8zM109.9 262.6h2.5v1.7h-2.5zM327.8 262.6h3.6v1.7h-3.6zM109.6 261.6h3.6v1.7h-3.6zM328.5 261.6h4.7v1.7h-4.7zM120.4 260.6h3.6v1.7h-3.6zM302.5 260.6h4.7v1.7h-4.7zM329.2 260.6h4.7v1.7h-4.7zM120.2 259.6h4.8v1.7h-4.8zM303.1 259.6h5.9v1.7h-5.9zM329.8 259.6h2.5v1.7h-2.5zM115.5 258.6h1.4v1.7h-1.4zM117.8 258.6h7.0v1.7h-7.0zM302.5 258.6h7.0v1.7h-7.0zM329.4 258.6h2.5v1.7h-2.5zM114.2 257.6h9.3v1.7h-9.3zM279.4 257.6h1.4v1.7h-1.4zM301.9 257.6h9.3v1.7h-9.3zM330.0 257.6h2.5v1.7h-2.5zM113.9 256.6h11.6v1.7h-11.6zM278.6 256.6h1.4v1.7h-1.4zM303.5 256.6h1.4v1.7h-1.4zM305.7 256.6h5.9v1.7h-5.9zM114.8 255.5h12.8v1.7h-12.8zM198.6 255.5h1.4v1.7h-1.4zM279.0 255.5h1.4v1.7h-1.4zM309.6 255.5h3.7v1.7h-3.7zM113.5 254.5h15.1v1.7h-15.1zM197.6 254.5h3.7v1.7h-3.7zM279.4 254.5h2.6v1.7h-2.6zM307.8 254.5h6.0v1.7h-6.0zM113.3 253.5h15.1v1.7h-15.1zM197.7 253.5h4.9v1.7h-4.9zM310.5 253.5h4.9v1.7h-4.9zM114.2 252.5h15.2v1.7h-15.2zM197.7 252.5h6.0v1.7h-6.0zM309.8 252.5h6.0v1.7h-6.0zM112.9 251.5h17.5v1.7h-17.5zM197.8 251.5h7.2v1.7h-7.2zM310.2 251.5h6.0v1.7h-6.0zM112.7 250.5h17.6v1.7h-17.6zM197.9 250.5h7.2v1.7h-7.2zM310.6 250.5h6.1v1.7h-6.1zM112.6 249.5h17.6v1.7h-17.6zM196.8 249.5h9.5v1.7h-9.5zM293.6 249.5h1.5v1.7h-1.5zM310.9 249.5h6.1v1.7h-6.1zM113.6 248.5h16.5v1.7h-16.5zM198.0 248.5h8.4v1.7h-8.4zM293.9 248.5h3.8v1.7h-3.8zM311.3 248.5h4.9v1.7h-4.9zM113.4 247.5h17.7v1.7h-17.7zM198.0 247.5h8.4v1.7h-8.4zM293.0 247.5h2.6v1.7h-2.6zM297.7 247.5h1.5v1.7h-1.5zM310.4 247.5h7.3v1.7h-7.3zM113.3 246.4h17.7v1.7h-17.7zM196.9 246.4h9.6v1.7h-9.6zM215.5 246.4h3.8v1.7h-3.8zM309.6 246.4h7.3v1.7h-7.3zM113.2 245.4h20.1v1.7h-20.1zM198.1 245.4h9.6v1.7h-9.6zM215.6 245.4h3.8v1.7h-3.8zM308.7 245.4h7.3v1.7h-7.3zM114.2 244.4h20.1v1.7h-20.1zM197.0 244.4h12.0v1.7h-12.0zM214.5 244.4h6.1v1.7h-6.1zM308.9 244.4h7.3v1.7h-7.3zM113.0 243.4h20.2v1.7h-20.2zM134.0 243.4h2.6v1.7h-2.6zM198.2 243.4h9.6v1.7h-9.6zM214.6 243.4h6.1v1.7h-6.1zM309.1 243.4h6.1v1.7h-6.1zM111.7 242.4h1.5v1.7h-1.5zM114.0 242.4h23.7v1.7h-23.7zM197.1 242.4h12.0v1.7h-12.0zM215.8 242.4h5.0v1.7h-5.0zM311.7 242.4h1.5v1.7h-1.5zM113.9 241.4h23.7v1.7h-23.7zM195.9 241.4h12.0v1.7h-12.0zM215.9 241.4h5.0v1.7h-5.0zM311.9 241.4h1.5v1.7h-1.5zM112.7 240.4h26.1v1.7h-26.1zM198.3 240.4h10.9v1.7h-10.9zM215.9 240.4h6.2v1.7h-6.2zM113.7 239.4h23.8v1.7h-23.8zM196.0 239.4h14.4v1.7h-14.4zM216.0 239.4h6.2v1.7h-6.2zM293.5 239.4h1.5v1.7h-1.5zM108.9 238.4h1.5v1.7h-1.5zM113.6 238.4h1.5v1.7h-1.5zM116.0 238.4h22.7v1.7h-22.7zM191.3 238.4h1.5v1.7h-1.5zM194.9 238.4h16.8v1.7h-16.8zM216.0 238.4h6.2v1.7h-6.2zM292.6 238.4h7.4v1.7h-7.4zM310.2 238.4h2.7v1.7h-2.7zM107.7 237.3h6.2v1.7h-6.2zM114.7 237.3h23.9v1.7h-23.9zM190.2 237.3h1.5v1.7h-1.5zM192.5 237.3h20.3v1.7h-20.3zM216.1 237.3h6.2v1.7h-6.2zM291.5 237.3h9.7v1.7h-9.7zM308.0 237.3h5.0v1.7h-5.0zM107.6 236.3h29.8v1.7h-29.8zM185.5 236.3h28.6v1.7h-28.6zM218.5 236.3h3.8v1.7h-3.8zM292.9 236.3h8.6v1.7h-8.6zM308.2 236.3h1.5v1.7h-1.5zM106.3 235.3h31.0v1.7h-31.0zM185.5 235.3h28.7v1.7h-28.7zM219.8 235.3h2.7v1.7h-2.7zM293.0 235.3h8.6v1.7h-8.6zM308.4 235.3h2.7v1.7h-2.7zM105.0 234.3h32.2v1.7h-32.2zM186.7 234.3h22.8v1.7h-22.8zM210.3 234.3h3.8v1.7h-3.8zM219.8 234.3h2.7v1.7h-2.7zM297.9 234.3h1.5v1.7h-1.5zM308.6 234.3h2.7v1.7h-2.7zM105.0 233.3h32.3v1.7h-32.3zM186.7 233.3h22.8v1.7h-22.8zM211.6 233.3h2.7v1.7h-2.7zM221.0 233.3h1.5v1.7h-1.5zM298.0 233.3h1.5v1.7h-1.5zM308.7 233.3h2.7v1.7h-2.7zM101.3 232.3h1.5v1.7h-1.5zM103.7 232.3h32.3v1.7h-32.3zM187.9 232.3h19.3v1.7h-19.3zM210.4 232.3h3.9v1.7h-3.9zM308.8 232.3h2.7v1.7h-2.7zM102.5 231.3h34.7v1.7h-34.7zM187.9 231.3h18.1v1.7h-18.1zM212.8 231.3h1.5v1.7h-1.5zM316.1 231.3h2.7v1.7h-2.7zM100.0 230.3h37.1v1.7h-37.1zM186.7 230.3h20.5v1.7h-20.5zM211.7 230.3h1.5v1.7h-1.5zM315.0 230.3h3.9v1.7h-3.9zM100.0 229.3h37.1v1.7h-37.1zM186.7 229.3h20.5v1.7h-20.5zM283.0 229.3h1.5v1.7h-1.5zM308.0 229.3h3.9v1.7h-3.9zM313.9 229.3h3.9v1.7h-3.9zM101.1 228.2h36.0v1.7h-36.0zM186.7 228.2h21.7v1.7h-21.7zM277.1 228.2h7.4v1.7h-7.4zM305.7 228.2h11.0v1.7h-11.0zM99.9 227.2h34.8v1.7h-34.8zM186.8 227.2h20.5v1.7h-20.5zM274.8 227.2h5.1v1.7h-5.1zM282.0 227.2h1.5v1.7h-1.5zM307.0 227.2h9.8v1.7h-9.8zM99.8 226.2h34.8v1.7h-34.8zM186.8 226.2h20.5v1.7h-20.5zM211.8 226.2h1.5v1.7h-1.5zM273.7 226.2h3.9v1.7h-3.9zM305.8 226.2h9.8v1.7h-9.8zM316.5 226.2h2.7v1.7h-2.7zM98.6 225.2h37.2v1.7h-37.2zM185.6 225.2h22.9v1.7h-22.9zM210.6 225.2h1.5v1.7h-1.5zM273.7 225.2h2.7v1.7h-2.7zM289.2 225.2h1.5v1.7h-1.5zM304.7 225.2h15.8v1.7h-15.8zM98.6 224.2h36.1v1.7h-36.1zM185.6 224.2h27.7v1.7h-27.7zM271.4 224.2h5.1v1.7h-5.1zM283.3 224.2h2.7v1.7h-2.7zM288.1 224.2h2.7v1.7h-2.7zM301.2 224.2h12.2v1.7h-12.2zM317.9 224.2h2.7v1.7h-2.7zM97.4 223.2h38.4v1.7h-38.4zM184.4 223.2h28.9v1.7h-28.9zM271.4 223.2h5.1v1.7h-5.1zM279.8 223.2h6.3v1.7h-6.3zM288.1 223.2h3.9v1.7h-3.9zM301.2 223.2h11.0v1.7h-11.0zM97.3 222.2h36.1v1.7h-36.1zM183.2 222.2h31.3v1.7h-31.3zM270.3 222.2h7.5v1.7h-7.5zM279.8 222.2h7.5v1.7h-7.5zM288.1 222.2h3.9v1.7h-3.9zM300.1 222.2h9.8v1.7h-9.8zM97.3 221.2h34.9v1.7h-34.9zM183.2 221.2h32.5v1.7h-32.5zM270.3 221.2h5.1v1.7h-5.1zM278.6 221.2h8.6v1.7h-8.6zM288.2 221.2h5.1v1.7h-5.1zM298.9 221.2h5.1v1.7h-5.1zM306.1 221.2h1.5v1.7h-1.5zM98.5 220.2h31.3v1.7h-31.3zM183.2 220.2h32.5v1.7h-32.5zM269.1 220.2h5.1v1.7h-5.1zM278.6 220.2h8.7v1.7h-8.7zM288.2 220.2h1.5v1.7h-1.5zM300.1 220.2h2.7v1.7h-2.7zM98.5 219.1h28.9v1.7h-28.9zM183.2 219.1h32.5v1.7h-32.5zM269.1 219.1h5.1v1.7h-5.1zM278.6 219.1h9.8v1.7h-9.8zM289.4 219.1h1.5v1.7h-1.5zM99.7 218.1h27.7v1.7h-27.7zM183.2 218.1h32.5v1.7h-32.5zM267.9 218.1h7.5v1.7h-7.5zM278.6 218.1h9.8v1.7h-9.8zM99.7 217.1h27.7v1.7h-27.7zM183.2 217.1h32.5v1.7h-32.5zM267.9 217.1h6.3v1.7h-6.3zM278.6 217.1h9.8v1.7h-9.8zM100.9 216.1h25.3v1.7h-25.3zM183.2 216.1h32.5v1.7h-32.5zM266.6 216.1h7.5v1.7h-7.5zM281.0 216.1h7.5v1.7h-7.5zM101.0 215.1h25.3v1.7h-25.3zM180.8 215.1h34.9v1.7h-34.9zM265.4 215.1h3.9v1.7h-3.9zM270.2 215.1h3.9v1.7h-3.9zM283.3 215.1h5.1v1.7h-5.1zM101.0 214.1h24.1v1.7h-24.1zM166.5 214.1h8.6v1.7h-8.6zM179.6 214.1h34.8v1.7h-34.8zM265.4 214.1h3.9v1.7h-3.9zM270.2 214.1h3.9v1.7h-3.9zM283.3 214.1h6.3v1.7h-6.3zM101.0 213.1h21.7v1.7h-21.7zM164.1 213.1h50.3v1.7h-50.3zM251.1 213.1h1.5v1.7h-1.5zM270.1 213.1h3.9v1.7h-3.9zM284.4 213.1h3.9v1.7h-3.9zM292.7 213.1h2.7v1.7h-2.7zM99.9 212.1h20.5v1.7h-20.5zM162.9 212.1h52.7v1.7h-52.7zM251.0 212.1h2.7v1.7h-2.7zM268.9 212.1h3.9v1.7h-3.9zM285.5 212.1h1.5v1.7h-1.5zM292.7 212.1h3.9v1.7h-3.9zM95.2 211.0h3.9v1.7h-3.9zM99.9 211.0h19.3v1.7h-19.3zM161.8 211.0h53.8v1.7h-53.8zM251.0 211.0h2.7v1.7h-2.7zM267.6 211.0h3.9v1.7h-3.9zM291.4 211.0h3.9v1.7h-3.9zM97.6 210.0h3.9v1.7h-3.9zM102.3 210.0h14.6v1.7h-14.6zM161.8 210.0h53.8v1.7h-53.8zM247.4 210.0h2.7v1.7h-2.7zM250.9 210.0h1.5v1.7h-1.5zM267.6 210.0h2.7v1.7h-2.7zM274.7 210.0h1.5v1.7h-1.5zM291.3 210.0h3.9v1.7h-3.9zM92.9 209.0h2.7v1.7h-2.7zM102.4 209.0h14.6v1.7h-14.6zM160.6 209.0h53.7v1.7h-53.7zM247.3 209.0h3.9v1.7h-3.9zM267.5 209.0h2.7v1.7h-2.7zM273.4 209.0h3.9v1.7h-3.9zM291.2 209.0h3.9v1.7h-3.9zM93.0 208.0h3.9v1.7h-3.9zM103.6 208.0h9.8v1.7h-9.8zM114.3 208.0h3.9v1.7h-3.9zM160.6 208.0h58.5v1.7h-58.5zM246.1 208.0h5.0v1.7h-5.0zM268.6 208.0h1.5v1.7h-1.5zM272.2 208.0h6.2v1.7h-6.2zM290.0 208.0h5.0v1.7h-5.0zM91.9 207.0h3.9v1.7h-3.9zM108.5 207.0h1.5v1.7h-1.5zM159.4 207.0h57.2v1.7h-57.2zM222.3 207.0h1.5v1.7h-1.5zM246.0 207.0h5.0v1.7h-5.0zM268.5 207.0h1.5v1.7h-1.5zM272.1 207.0h7.4v1.7h-7.4zM289.9 207.0h5.0v1.7h-5.0zM91.9 206.0h3.9v1.7h-3.9zM158.3 206.0h59.5v1.7h-59.5zM245.9 206.0h5.0v1.7h-5.0zM267.2 206.0h12.1v1.7h-12.1zM290.9 206.0h3.9v1.7h-3.9zM88.5 205.0h8.6v1.7h-8.6zM158.3 205.0h33.4v1.7h-33.4zM192.6 205.0h21.6v1.7h-21.6zM218.6 205.0h1.5v1.7h-1.5zM244.7 205.0h7.4v1.7h-7.4zM267.1 205.0h12.1v1.7h-12.1zM288.4 205.0h3.8v1.7h-3.8zM87.4 204.0h9.8v1.7h-9.8zM158.3 204.0h2.7v1.7h-2.7zM161.8 204.0h8.6v1.7h-8.6zM171.3 204.0h6.2v1.7h-6.2zM179.6 204.0h5.0v1.7h-5.0zM185.5 204.0h1.5v1.7h-1.5zM190.2 204.0h2.7v1.7h-2.7zM199.7 204.0h5.0v1.7h-5.0zM205.6 204.0h2.7v1.7h-2.7zM212.7 204.0h1.5v1.7h-1.5zM244.6 204.0h7.4v1.7h-7.4zM267.0 204.0h12.1v1.7h-12.1zM288.3 204.0h2.7v1.7h-2.7zM86.3 203.0h10.9v1.7h-10.9zM158.3 203.0h2.7v1.7h-2.7zM161.9 203.0h3.8v1.7h-3.8zM168.9 203.0h1.5v1.7h-1.5zM203.2 203.0h1.5v1.7h-1.5zM244.5 203.0h7.4v1.7h-7.4zM266.9 203.0h10.9v1.7h-10.9zM288.2 203.0h2.7v1.7h-2.7zM81.7 201.9h10.9v1.7h-10.9zM243.2 201.9h9.7v1.7h-9.7zM263.3 201.9h14.4v1.7h-14.4zM288.0 201.9h2.7v1.7h-2.7zM79.5 200.9h13.2v1.7h-13.2zM243.1 200.9h10.9v1.7h-10.9zM263.1 200.9h13.2v1.7h-13.2zM287.8 200.9h2.7v1.7h-2.7zM77.3 199.9h15.6v1.7h-15.6zM100.8 199.9h2.7v1.7h-2.7zM105.5 199.9h1.5v1.7h-1.5zM111.4 199.9h1.5v1.7h-1.5zM243.0 199.9h12.1v1.7h-12.1zM263.0 199.9h12.1v1.7h-12.1zM277.1 199.9h1.5v1.7h-1.5zM287.7 199.9h2.7v1.7h-2.7zM76.3 198.9h9.7v1.7h-9.7zM89.2 198.9h3.8v1.7h-3.8zM106.8 198.9h3.8v1.7h-3.8zM242.9 198.9h12.0v1.7h-12.0zM262.9 198.9h12.0v1.7h-12.0zM276.9 198.9h2.6v1.7h-2.6zM76.4 197.9h8.5v1.7h-8.5zM89.3 197.9h3.8v1.7h-3.8zM106.9 197.9h1.5v1.7h-1.5zM242.8 197.9h14.4v1.7h-14.4zM261.5 197.9h14.4v1.7h-14.4zM276.8 197.9h2.6v1.7h-2.6zM75.4 196.9h8.5v1.7h-8.5zM90.6 196.9h3.8v1.7h-3.8zM103.5 196.9h1.5v1.7h-1.5zM243.9 196.9h13.2v1.7h-13.2zM261.4 196.9h14.3v1.7h-14.3zM277.8 196.9h1.5v1.7h-1.5zM75.6 195.9h8.5v1.7h-8.5zM97.8 195.9h2.6v1.7h-2.6zM241.4 195.9h40.0v1.7h-40.0zM75.8 194.9h8.5v1.7h-8.5zM243.6 194.9h39.9v1.7h-39.9zM286.8 194.9h1.5v1.7h-1.5zM77.1 193.9h7.3v1.7h-7.3zM243.5 193.9h41.0v1.7h-41.0zM286.5 193.9h2.6v1.7h-2.6zM75.0 192.8h9.6v1.7h-9.6zM244.5 192.8h40.9v1.7h-40.9zM286.3 192.8h2.6v1.7h-2.6zM75.2 191.8h9.6v1.7h-9.6zM98.4 191.8h2.6v1.7h-2.6zM243.2 191.8h43.2v1.7h-43.2zM75.4 190.8h10.7v1.7h-10.7zM98.5 190.8h2.6v1.7h-2.6zM243.1 190.8h43.1v1.7h-43.1zM75.7 189.8h10.7v1.7h-10.7zM98.7 189.8h2.6v1.7h-2.6zM244.0 189.8h43.0v1.7h-43.0zM75.9 188.8h11.8v1.7h-11.8zM97.8 188.8h3.8v1.7h-3.8zM242.7 188.8h45.2v1.7h-45.2zM73.9 187.8h19.8v1.7h-19.8zM95.7 187.8h1.4v1.7h-1.4zM98.0 187.8h3.7v1.7h-3.7zM242.5 187.8h4.9v1.7h-4.9zM252.8 187.8h1.4v1.7h-1.4zM255.1 187.8h32.4v1.7h-32.4zM75.4 186.8h25.5v1.7h-25.5zM241.2 186.8h4.9v1.7h-4.9zM246.9 186.8h1.4v1.7h-1.4zM252.6 186.8h4.9v1.7h-4.9zM260.6 186.8h25.5v1.7h-25.5zM75.7 185.8h25.4v1.7h-25.4zM241.0 185.8h4.9v1.7h-4.9zM246.7 185.8h1.4v1.7h-1.4zM256.9 185.8h1.4v1.7h-1.4zM259.2 185.8h1.4v1.7h-1.4zM261.5 185.8h25.4v1.7h-25.4zM77.1 184.8h25.3v1.7h-25.3zM238.5 184.8h7.1v1.7h-7.1zM260.1 184.8h1.4v1.7h-1.4zM264.6 184.8h20.8v1.7h-20.8zM294.2 184.8h1.4v1.7h-1.4zM77.5 183.7h1.4v1.7h-1.4zM82.0 183.7h21.8v1.7h-21.8zM166.9 183.7h1.4v1.7h-1.4zM240.5 183.7h1.4v1.7h-1.4zM242.8 183.7h1.4v1.7h-1.4zM263.2 183.7h21.8v1.7h-21.8zM291.5 183.7h7.1v1.7h-7.1zM67.7 182.7h1.4v1.7h-1.4zM82.3 182.7h22.9v1.7h-22.9zM168.1 182.7h2.6v1.7h-2.6zM171.5 182.7h1.4v1.7h-1.4zM179.4 182.7h1.4v1.7h-1.4zM236.9 182.7h5.9v1.7h-5.9zM264.0 182.7h19.5v1.7h-19.5zM293.3 182.7h5.9v1.7h-5.9zM68.1 181.7h1.4v1.7h-1.4zM84.9 181.7h22.8v1.7h-22.8zM169.2 181.7h7.0v1.7h-7.0zM177.1 181.7h8.2v1.7h-8.2zM240.0 181.7h1.4v1.7h-1.4zM264.8 181.7h1.4v1.7h-1.4zM267.0 181.7h16.0v1.7h-16.0zM288.4 181.7h1.4v1.7h-1.4zM294.0 181.7h8.2v1.7h-8.2zM67.4 180.7h1.4v1.7h-1.4zM74.1 180.7h1.4v1.7h-1.4zM76.3 180.7h1.4v1.7h-1.4zM84.2 180.7h23.8v1.7h-23.8zM169.3 180.7h1.4v1.7h-1.4zM174.8 180.7h10.4v1.7h-10.4zM217.4 180.7h2.5v1.7h-2.5zM267.8 180.7h16.0v1.7h-16.0zM296.9 180.7h4.8v1.7h-4.8zM75.6 179.7h2.5v1.7h-2.5zM83.4 179.7h1.4v1.7h-1.4zM85.6 179.7h21.5v1.7h-21.5zM167.0 179.7h7.0v1.7h-7.0zM177.1 179.7h8.1v1.7h-8.1zM216.1 179.7h4.8v1.7h-4.8zM267.4 179.7h17.0v1.7h-17.0zM296.4 179.7h4.8v1.7h-4.8zM73.8 178.7h4.7v1.7h-4.7zM84.9 178.7h23.6v1.7h-23.6zM167.1 178.7h8.1v1.7h-8.1zM186.0 178.7h1.4v1.7h-1.4zM198.2 178.7h1.4v1.7h-1.4zM200.4 178.7h1.4v1.7h-1.4zM203.7 178.7h3.6v1.7h-3.6zM214.8 178.7h7.0v1.7h-7.0zM269.2 178.7h1.4v1.7h-1.4zM271.5 178.7h9.2v1.7h-9.2zM281.4 178.7h1.4v1.7h-1.4zM289.2 178.7h1.4v1.7h-1.4zM298.1 178.7h3.6v1.7h-3.6zM75.4 177.7h2.5v1.7h-2.5zM85.3 177.7h23.5v1.7h-23.5zM166.0 177.7h6.9v1.7h-6.9zM173.7 177.7h1.4v1.7h-1.4zM182.6 177.7h1.4v1.7h-1.4zM198.1 177.7h12.5v1.7h-12.5zM213.5 177.7h9.1v1.7h-9.1zM269.9 177.7h10.2v1.7h-10.2zM282.1 177.7h1.4v1.7h-1.4zM285.4 177.7h2.5v1.7h-2.5zM297.6 177.7h3.6v1.7h-3.6zM64.8 176.7h2.5v1.7h-2.5zM74.7 176.7h1.4v1.7h-1.4zM85.7 176.7h24.5v1.7h-24.5zM167.1 176.7h4.7v1.7h-4.7zM172.6 176.7h2.5v1.7h-2.5zM181.5 176.7h2.5v1.7h-2.5zM189.2 176.7h1.4v1.7h-1.4zM192.5 176.7h1.4v1.7h-1.4zM194.7 176.7h1.4v1.7h-1.4zM198.0 176.7h4.7v1.7h-4.7zM205.7 176.7h6.9v1.7h-6.9zM213.4 176.7h8.0v1.7h-8.0zM222.2 176.7h1.4v1.7h-1.4zM270.6 176.7h10.2v1.7h-10.2zM281.6 176.7h6.9v1.7h-6.9zM298.1 176.7h2.5v1.7h-2.5zM65.3 175.7h3.6v1.7h-3.6zM88.3 175.7h23.3v1.7h-23.3zM167.2 175.7h3.6v1.7h-3.6zM174.8 175.7h1.4v1.7h-1.4zM181.4 175.7h1.4v1.7h-1.4zM188.0 175.7h12.3v1.7h-12.3zM207.7 175.7h11.3v1.7h-11.3zM271.2 175.7h1.4v1.7h-1.4zM274.5 175.7h12.3v1.7h-12.3zM297.5 175.7h2.5v1.7h-2.5zM65.9 174.7h1.4v1.7h-1.4zM88.8 174.7h25.4v1.7h-25.4zM167.2 174.7h2.5v1.7h-2.5zM173.8 174.7h4.7v1.7h-4.7zM185.7 174.7h3.6v1.7h-3.6zM191.2 174.7h7.9v1.7h-7.9zM210.8 174.7h7.9v1.7h-7.9zM274.0 174.7h1.4v1.7h-1.4zM276.2 174.7h10.1v1.7h-10.1zM296.9 174.7h1.4v1.7h-1.4zM66.5 173.7h2.5v1.7h-2.5zM90.3 173.7h24.1v1.7h-24.1zM166.2 173.7h12.2v1.7h-12.2zM184.6 173.7h3.6v1.7h-3.6zM190.0 173.7h10.1v1.7h-10.1zM210.6 173.7h4.6v1.7h-4.6zM216.0 173.7h1.4v1.7h-1.4zM276.7 173.7h7.9v1.7h-7.9zM296.2 173.7h4.6v1.7h-4.6zM67.0 172.7h1.4v1.7h-1.4zM90.8 172.7h24.0v1.7h-24.0zM117.7 172.7h1.4v1.7h-1.4zM167.3 172.7h14.3v1.7h-14.3zM183.5 172.7h3.5v1.7h-3.5zM187.8 172.7h12.2v1.7h-12.2zM208.3 172.7h4.6v1.7h-4.6zM214.7 172.7h1.4v1.7h-1.4zM278.3 172.7h1.4v1.7h-1.4zM280.5 172.7h5.7v1.7h-5.7zM288.1 172.7h3.5v1.7h-3.5zM296.7 172.7h4.6v1.7h-4.6zM67.6 171.7h2.4v1.7h-2.4zM70.8 171.7h2.4v1.7h-2.4zM91.2 171.7h26.0v1.7h-26.0zM118.0 171.7h3.5v1.7h-3.5zM173.8 171.7h12.1v1.7h-12.1zM187.7 171.7h13.2v1.7h-13.2zM203.8 171.7h1.4v1.7h-1.4zM207.0 171.7h4.6v1.7h-4.6zM278.9 171.7h1.4v1.7h-1.4zM281.0 171.7h4.6v1.7h-4.6zM286.4 171.7h5.7v1.7h-5.7zM296.0 171.7h3.5v1.7h-3.5zM68.2 170.7h3.5v1.7h-3.5zM72.5 170.7h2.4v1.7h-2.4zM91.7 170.7h1.4v1.7h-1.4zM93.8 170.7h30.2v1.7h-30.2zM173.8 170.7h27.0v1.7h-27.0zM202.6 170.7h3.5v1.7h-3.5zM206.8 170.7h4.6v1.7h-4.6zM281.5 170.7h11.0v1.7h-11.0zM295.3 170.7h1.4v1.7h-1.4zM68.8 169.7h6.7v1.7h-6.7zM77.3 169.7h1.4v1.7h-1.4zM92.2 169.7h28.9v1.7h-28.9zM122.9 169.7h1.4v1.7h-1.4zM172.7 169.7h33.2v1.7h-33.2zM206.7 169.7h5.6v1.7h-5.6zM281.9 169.7h10.9v1.7h-10.9zM295.7 169.7h1.4v1.7h-1.4zM69.5 168.7h4.5v1.7h-4.5zM74.7 168.7h3.5v1.7h-3.5zM94.8 168.7h25.6v1.7h-25.6zM125.3 168.7h5.6v1.7h-5.6zM171.7 168.7h41.4v1.7h-41.4zM284.5 168.7h8.7v1.7h-8.7zM70.1 167.7h2.4v1.7h-2.4zM74.3 167.7h4.5v1.7h-4.5zM95.2 167.7h26.5v1.7h-26.5zM125.6 167.7h5.5v1.7h-5.5zM170.7 167.7h41.2v1.7h-41.2zM284.8 167.7h7.6v1.7h-7.6zM69.7 166.7h8.6v1.7h-8.6zM96.8 166.7h24.2v1.7h-24.2zM125.9 166.7h4.5v1.7h-4.5zM172.8 166.7h39.9v1.7h-39.9zM213.4 166.7h1.3v1.7h-1.3zM284.2 166.7h1.3v1.7h-1.3zM286.2 166.7h7.6v1.7h-7.6zM69.4 165.8h4.4v1.7h-4.4zM74.5 165.8h1.3v1.7h-1.3zM76.6 165.8h2.4v1.7h-2.4zM98.3 165.8h27.2v1.7h-27.2zM127.3 165.8h2.4v1.7h-2.4zM169.7 165.8h3.4v1.7h-3.4zM174.8 165.8h40.6v1.7h-40.6zM287.6 165.8h5.5v1.7h-5.5zM70.1 164.8h3.4v1.7h-3.4zM97.8 164.8h32.1v1.7h-32.1zM170.7 164.8h46.5v1.7h-46.5zM285.8 164.8h1.3v1.7h-1.3zM287.9 164.8h5.4v1.7h-5.4zM70.8 163.8h3.4v1.7h-3.4zM101.4 163.8h7.4v1.7h-7.4zM109.6 163.8h19.7v1.7h-19.7zM166.7 163.8h1.3v1.7h-1.3zM170.8 163.8h6.4v1.7h-6.4zM177.9 163.8h40.1v1.7h-40.1zM285.0 163.8h1.3v1.7h-1.3zM287.1 163.8h5.4v1.7h-5.4zM302.4 163.8h2.3v1.7h-2.3zM67.5 162.9h1.3v1.7h-1.3zM70.5 162.9h2.3v1.7h-2.3zM73.6 162.9h1.3v1.7h-1.3zM100.9 162.9h8.4v1.7h-8.4zM112.1 162.9h17.5v1.7h-17.5zM166.7 162.9h1.3v1.7h-1.3zM170.8 162.9h6.4v1.7h-6.4zM177.9 162.9h39.8v1.7h-39.8zM279.2 162.9h2.3v1.7h-2.3zM282.2 162.9h9.4v1.7h-9.4zM300.4 162.9h2.3v1.7h-2.3zM68.3 161.9h1.3v1.7h-1.3zM70.3 161.9h6.3v1.7h-6.3zM102.5 161.9h6.3v1.7h-6.3zM112.5 161.9h17.4v1.7h-17.4zM166.8 161.9h4.3v1.7h-4.3zM171.8 161.9h3.3v1.7h-3.3zM180.9 161.9h40.5v1.7h-40.5zM274.4 161.9h13.4v1.7h-13.4zM289.4 161.9h1.3v1.7h-1.3zM301.5 161.9h1.3v1.7h-1.3zM70.1 160.9h7.3v1.7h-7.3zM104.0 160.9h1.3v1.7h-1.3zM106.0 160.9h3.3v1.7h-3.3zM112.0 160.9h17.3v1.7h-17.3zM167.9 160.9h1.3v1.7h-1.3zM169.9 160.9h5.3v1.7h-5.3zM181.8 160.9h1.3v1.7h-1.3zM183.8 160.9h1.3v1.7h-1.3zM188.8 160.9h31.2v1.7h-31.2zM241.7 160.9h1.3v1.7h-1.3zM276.6 160.9h8.3v1.7h-8.3zM299.5 160.9h3.3v1.7h-3.3zM69.9 160.0h3.3v1.7h-3.3zM73.9 160.0h3.3v1.7h-3.3zM113.5 160.0h14.2v1.7h-14.2zM169.9 160.0h4.3v1.7h-4.3zM180.8 160.0h6.2v1.7h-6.2zM191.7 160.0h1.3v1.7h-1.3zM193.7 160.0h29.0v1.7h-29.0zM238.2 160.0h1.3v1.7h-1.3zM242.1 160.0h4.3v1.7h-4.3zM277.8 160.0h7.2v1.7h-7.2zM299.5 160.0h4.3v1.7h-4.3zM69.8 159.0h2.3v1.6h-2.3zM72.8 159.0h2.3v1.6h-2.3zM114.0 159.0h1.3v1.6h-1.3zM116.0 159.0h11.1v1.6h-11.1zM169.9 159.0h4.2v1.6h-4.2zM180.7 159.0h3.2v1.6h-3.2zM184.7 159.0h3.2v1.6h-3.2zM194.5 159.0h28.8v1.6h-28.8zM238.7 159.0h7.2v1.6h-7.2zM276.0 159.0h3.2v1.6h-3.2zM279.9 159.0h5.2v1.6h-5.2zM299.5 159.0h2.3v1.6h-2.3zM51.2 158.1h1.3v1.6h-1.3zM55.1 158.1h1.3v1.6h-1.3zM69.7 158.1h3.2v1.6h-3.2zM115.5 158.1h12.0v1.6h-12.0zM170.0 158.1h4.2v1.6h-4.2zM181.7 158.1h1.3v1.6h-1.3zM183.6 158.1h5.2v1.6h-5.2zM194.3 158.1h34.4v1.6h-34.4zM236.2 158.1h9.1v1.6h-9.1zM245.9 158.1h1.3v1.6h-1.3zM279.0 158.1h6.1v1.6h-6.1zM299.5 158.1h1.3v1.6h-1.3zM50.3 157.2h5.1v1.6h-5.1zM68.7 157.2h4.2v1.6h-4.2zM116.9 157.2h10.0v1.6h-10.0zM170.0 157.2h3.2v1.6h-3.2zM178.7 157.2h4.2v1.6h-4.2zM183.5 157.2h5.1v1.6h-5.1zM194.2 157.2h33.1v1.6h-33.1zM227.9 157.2h2.2v1.6h-2.2zM230.8 157.2h16.7v1.6h-16.7zM281.0 157.2h4.2v1.6h-4.2zM50.4 156.2h8.0v1.6h-8.0zM59.1 156.2h2.2v1.6h-2.2zM67.7 156.2h3.2v1.6h-3.2zM117.4 156.2h4.1v1.6h-4.1zM124.1 156.2h2.2v1.6h-2.2zM178.7 156.2h10.8v1.6h-10.8zM194.0 156.2h52.0v1.6h-52.0zM280.1 156.2h12.7v1.6h-12.7zM49.6 155.3h17.4v1.6h-17.4zM69.6 155.3h1.2v1.6h-1.2zM117.9 155.3h4.1v1.6h-4.1zM139.8 155.3h3.1v1.6h-3.1zM178.6 155.3h10.7v1.6h-10.7zM193.8 155.3h51.5v1.6h-51.5zM282.0 155.3h1.2v1.6h-1.2zM283.9 155.3h1.2v1.6h-1.2zM286.8 155.3h6.0v1.6h-6.0zM49.8 154.4h18.2v1.6h-18.2zM119.4 154.4h2.2v1.6h-2.2zM138.2 154.4h5.0v1.6h-5.0zM178.6 154.4h9.7v1.6h-9.7zM192.7 154.4h51.1v1.6h-51.1zM290.5 154.4h1.2v1.6h-1.2zM51.0 153.5h17.1v1.6h-17.1zM137.6 153.5h6.8v1.6h-6.8zM178.6 153.5h10.5v1.6h-10.5zM192.5 153.5h51.5v1.6h-51.5zM53.1 152.6h1.2v1.6h-1.2zM54.9 152.6h10.4v1.6h-10.4zM67.8 152.6h1.2v1.6h-1.2zM137.0 152.6h7.7v1.6h-7.7zM160.1 152.6h2.1v1.6h-2.1zM180.4 152.6h8.6v1.6h-8.6zM193.3 152.6h47.4v1.6h-47.4zM241.3 152.6h1.2v1.6h-1.2zM55.1 151.7h4.0v1.6h-4.0zM137.4 151.7h7.6v1.6h-7.6zM158.4 151.7h3.0v1.6h-3.0zM162.1 151.7h2.1v1.6h-2.1zM182.2 151.7h8.5v1.6h-8.5zM193.1 151.7h47.8v1.6h-47.8zM53.6 150.8h1.2v1.6h-1.2zM56.3 150.8h1.2v1.6h-1.2zM136.8 150.8h10.3v1.6h-10.3zM157.7 150.8h2.1v1.6h-2.1zM160.4 150.8h4.8v1.6h-4.8zM183.0 150.8h8.4v1.6h-8.4zM192.9 150.8h7.5v1.6h-7.5zM203.8 150.8h8.4v1.6h-8.4zM212.9 150.8h7.5v1.6h-7.5zM222.8 150.8h1.2v1.6h-1.2zM224.6 150.8h3.9v1.6h-3.9zM229.1 150.8h8.4v1.6h-8.4zM137.2 149.9h11.9v1.6h-11.9zM157.8 149.9h7.5v1.6h-7.5zM183.8 149.9h15.5v1.6h-15.5zM199.9 149.9h6.6v1.6h-6.6zM207.1 149.9h1.2v1.6h-1.2zM208.9 149.9h1.2v1.6h-1.2zM210.7 149.9h1.2v1.6h-1.2zM213.4 149.9h1.2v1.6h-1.2zM228.6 149.9h5.7v1.6h-5.7zM234.9 149.9h1.2v1.6h-1.2zM139.4 149.0h2.1v1.6h-2.1zM142.9 149.0h2.1v1.6h-2.1zM145.6 149.0h6.5v1.6h-6.5zM184.6 149.0h19.8v1.6h-19.8zM145.9 148.2h8.2v1.6h-8.2zM185.4 148.2h13.5v1.6h-13.5zM199.4 148.2h2.9v1.6h-2.9zM148.8 147.3h5.5v1.6h-5.5zM186.1 147.3h7.2v1.6h-7.2zM194.0 147.3h2.9v1.6h-2.9zM151.7 146.5h2.9v1.5h-2.9zM188.6 146.5h2.0v1.5h-2.0zM191.2 146.5h1.2v1.5h-1.2z"/><path fill="#C8E8F8" d="M111.6 270.6h2.4v1.7h-2.4zM111.2 269.6h2.4v1.7h-2.4zM315.8 269.6h4.5v1.7h-4.5zM110.9 268.6h2.4v1.7h-2.4zM316.7 268.6h4.6v1.7h-4.6zM111.6 267.6h2.4v1.7h-2.4zM318.5 267.6h4.6v1.7h-4.6zM111.2 266.6h1.4v1.7h-1.4zM301.0 266.6h1.4v1.7h-1.4zM319.3 266.6h5.7v1.7h-5.7zM110.9 265.6h1.4v1.7h-1.4zM300.6 265.6h3.6v1.7h-3.6zM322.3 265.6h3.6v1.7h-3.6zM110.6 264.6h2.5v1.7h-2.5zM301.2 264.6h3.6v1.7h-3.6zM324.1 264.6h4.7v1.7h-4.7zM110.2 263.6h1.4v1.7h-1.4zM301.9 263.6h3.6v1.7h-3.6zM324.9 263.6h5.8v1.7h-5.8zM109.9 262.6h2.5v1.7h-2.5zM327.8 262.6h3.6v1.7h-3.6zM109.6 261.6h3.6v1.7h-3.6zM328.5 261.6h4.7v1.7h-4.7zM121.6 260.6h2.5v1.7h-2.5zM302.5 260.6h2.5v1.7h-2.5zM329.2 260.6h4.7v1.7h-4.7zM120.2 259.6h4.8v1.7h-4.8zM304.2 259.6h2.5v1.7h-2.5zM329.8 259.6h2.5v1.7h-2.5zM117.8 258.6h7.0v1.7h-7.0zM329.4 258.6h2.5v1.7h-2.5zM116.4 257.6h7.0v1.7h-7.0zM330.0 257.6h2.5v1.7h-2.5zM116.2 256.6h9.3v1.7h-9.3zM117.1 255.5h10.5v1.7h-10.5zM118.0 254.5h10.5v1.7h-10.5zM116.7 253.5h11.7v1.7h-11.7zM199.9 253.5h2.6v1.7h-2.6zM116.5 252.5h12.9v1.7h-12.9zM200.0 252.5h3.7v1.7h-3.7zM116.4 251.5h14.1v1.7h-14.1zM200.1 251.5h4.9v1.7h-4.9zM116.2 250.5h14.1v1.7h-14.1zM200.2 250.5h4.9v1.7h-4.9zM117.2 249.5h13.0v1.7h-13.0zM200.2 249.5h3.8v1.7h-3.8zM117.0 248.5h13.0v1.7h-13.0zM199.1 248.5h1.5v1.7h-1.5zM203.8 248.5h1.5v1.7h-1.5zM115.8 247.5h15.4v1.7h-15.4zM203.8 247.5h1.5v1.7h-1.5zM115.6 246.4h15.4v1.7h-15.4zM116.7 245.4h16.6v1.7h-16.6zM116.6 244.4h17.8v1.7h-17.8zM115.3 243.4h1.5v1.7h-1.5zM117.6 243.4h15.5v1.7h-15.5zM134.0 243.4h2.6v1.7h-2.6zM218.1 243.4h1.5v1.7h-1.5zM116.4 242.4h21.4v1.7h-21.4zM218.1 242.4h2.6v1.7h-2.6zM116.3 241.4h21.4v1.7h-21.4zM219.4 241.4h1.5v1.7h-1.5zM116.2 240.4h1.5v1.7h-1.5zM118.5 240.4h20.2v1.7h-20.2zM217.1 240.4h1.5v1.7h-1.5zM219.4 240.4h2.6v1.7h-2.6zM116.1 239.4h21.5v1.7h-21.5zM219.5 239.4h2.7v1.7h-2.7zM108.9 238.4h1.5v1.7h-1.5zM116.0 238.4h22.7v1.7h-22.7zM218.4 238.4h3.8v1.7h-3.8zM107.7 237.3h6.2v1.7h-6.2zM114.7 237.3h23.9v1.7h-23.9zM218.5 237.3h3.8v1.7h-3.8zM107.6 236.3h29.8v1.7h-29.8zM185.5 236.3h2.7v1.7h-2.7zM190.2 236.3h1.5v1.7h-1.5zM192.6 236.3h1.5v1.7h-1.5zM218.5 236.3h3.8v1.7h-3.8zM106.3 235.3h31.0v1.7h-31.0zM186.7 235.3h9.8v1.7h-9.8zM219.8 235.3h2.7v1.7h-2.7zM105.0 234.3h29.9v1.7h-29.9zM186.7 234.3h2.7v1.7h-2.7zM190.2 234.3h1.5v1.7h-1.5zM192.6 234.3h3.8v1.7h-3.8zM221.0 234.3h1.5v1.7h-1.5zM105.0 233.3h28.7v1.7h-28.7zM186.7 233.3h11.0v1.7h-11.0zM202.1 233.3h1.5v1.7h-1.5zM221.0 233.3h1.5v1.7h-1.5zM101.3 232.3h1.5v1.7h-1.5zM103.7 232.3h29.9v1.7h-29.9zM187.9 232.3h16.9v1.7h-16.9zM102.5 231.3h31.2v1.7h-31.2zM187.9 231.3h16.9v1.7h-16.9zM316.1 231.3h2.7v1.7h-2.7zM100.0 230.3h33.6v1.7h-33.6zM186.7 230.3h19.3v1.7h-19.3zM315.0 230.3h3.9v1.7h-3.9zM100.0 229.3h33.6v1.7h-33.6zM186.7 229.3h19.3v1.7h-19.3zM283.0 229.3h1.5v1.7h-1.5zM308.0 229.3h3.9v1.7h-3.9zM313.9 229.3h3.9v1.7h-3.9zM101.1 228.2h32.4v1.7h-32.4zM186.7 228.2h21.7v1.7h-21.7zM277.1 228.2h7.4v1.7h-7.4zM305.7 228.2h11.0v1.7h-11.0zM99.9 227.2h34.8v1.7h-34.8zM186.8 227.2h20.5v1.7h-20.5zM274.8 227.2h5.1v1.7h-5.1zM282.0 227.2h1.5v1.7h-1.5zM307.0 227.2h9.8v1.7h-9.8zM99.8 226.2h31.3v1.7h-31.3zM132.0 226.2h2.7v1.7h-2.7zM186.8 226.2h20.5v1.7h-20.5zM273.7 226.2h3.9v1.7h-3.9zM305.8 226.2h9.8v1.7h-9.8zM316.5 226.2h2.7v1.7h-2.7zM98.6 225.2h33.7v1.7h-33.7zM133.2 225.2h2.7v1.7h-2.7zM185.6 225.2h22.9v1.7h-22.9zM273.7 225.2h2.7v1.7h-2.7zM289.2 225.2h1.5v1.7h-1.5zM304.7 225.2h15.8v1.7h-15.8zM98.6 224.2h36.1v1.7h-36.1zM185.6 224.2h27.7v1.7h-27.7zM271.4 224.2h5.1v1.7h-5.1zM283.3 224.2h2.7v1.7h-2.7zM288.1 224.2h2.7v1.7h-2.7zM301.2 224.2h12.2v1.7h-12.2zM317.9 224.2h2.7v1.7h-2.7zM97.4 223.2h30.1v1.7h-30.1zM128.4 223.2h7.5v1.7h-7.5zM184.4 223.2h26.5v1.7h-26.5zM271.4 223.2h5.1v1.7h-5.1zM279.8 223.2h6.3v1.7h-6.3zM288.1 223.2h3.9v1.7h-3.9zM301.2 223.2h11.0v1.7h-11.0zM97.3 222.2h23.0v1.7h-23.0zM123.6 222.2h1.5v1.7h-1.5zM127.1 222.2h6.3v1.7h-6.3zM183.2 222.2h28.9v1.7h-28.9zM270.3 222.2h7.5v1.7h-7.5zM279.8 222.2h7.5v1.7h-7.5zM288.1 222.2h3.9v1.7h-3.9zM300.1 222.2h9.8v1.7h-9.8zM97.3 221.2h21.8v1.7h-21.8zM120.0 221.2h1.5v1.7h-1.5zM124.8 221.2h7.5v1.7h-7.5zM183.2 221.2h27.7v1.7h-27.7zM270.3 221.2h5.1v1.7h-5.1zM278.6 221.2h8.6v1.7h-8.6zM288.2 221.2h5.1v1.7h-5.1zM298.9 221.2h5.1v1.7h-5.1zM306.1 221.2h1.5v1.7h-1.5zM98.5 220.2h23.0v1.7h-23.0zM122.4 220.2h1.5v1.7h-1.5zM125.9 220.2h3.9v1.7h-3.9zM183.2 220.2h30.1v1.7h-30.1zM269.1 220.2h5.1v1.7h-5.1zM278.6 220.2h8.7v1.7h-8.7zM288.2 220.2h1.5v1.7h-1.5zM300.1 220.2h2.7v1.7h-2.7zM98.5 219.1h23.0v1.7h-23.0zM125.9 219.1h1.5v1.7h-1.5zM183.2 219.1h30.1v1.7h-30.1zM269.1 219.1h5.1v1.7h-5.1zM278.6 219.1h9.8v1.7h-9.8zM289.4 219.1h1.5v1.7h-1.5zM99.7 218.1h18.2v1.7h-18.2zM120.0 218.1h2.7v1.7h-2.7zM125.9 218.1h1.5v1.7h-1.5zM183.2 218.1h28.9v1.7h-28.9zM267.9 218.1h7.5v1.7h-7.5zM278.6 218.1h9.8v1.7h-9.8zM99.7 217.1h18.2v1.7h-18.2zM183.2 217.1h28.9v1.7h-28.9zM267.9 217.1h6.3v1.7h-6.3zM278.6 217.1h9.8v1.7h-9.8zM100.9 216.1h17.0v1.7h-17.0zM124.8 216.1h1.5v1.7h-1.5zM183.2 216.1h31.3v1.7h-31.3zM266.6 216.1h7.5v1.7h-7.5zM281.0 216.1h7.5v1.7h-7.5zM101.0 215.1h17.0v1.7h-17.0zM123.6 215.1h2.7v1.7h-2.7zM180.8 215.1h27.7v1.7h-27.7zM209.4 215.1h6.3v1.7h-6.3zM265.4 215.1h3.9v1.7h-3.9zM270.2 215.1h3.9v1.7h-3.9zM283.3 215.1h5.1v1.7h-5.1zM101.0 214.1h19.4v1.7h-19.4zM121.2 214.1h1.5v1.7h-1.5zM123.6 214.1h1.5v1.7h-1.5zM166.5 214.1h6.3v1.7h-6.3zM173.7 214.1h1.5v1.7h-1.5zM179.6 214.1h34.8v1.7h-34.8zM265.4 214.1h3.9v1.7h-3.9zM270.2 214.1h3.9v1.7h-3.9zM283.3 214.1h6.3v1.7h-6.3zM101.0 213.1h21.7v1.7h-21.7zM164.1 213.1h50.3v1.7h-50.3zM251.1 213.1h1.5v1.7h-1.5zM270.1 213.1h3.9v1.7h-3.9zM284.4 213.1h3.9v1.7h-3.9zM292.7 213.1h2.7v1.7h-2.7zM99.9 212.1h20.5v1.7h-20.5zM162.9 212.1h52.7v1.7h-52.7zM251.0 212.1h2.7v1.7h-2.7zM268.9 212.1h3.9v1.7h-3.9zM285.5 212.1h1.5v1.7h-1.5zM292.7 212.1h3.9v1.7h-3.9zM95.2 211.0h3.9v1.7h-3.9zM99.9 211.0h19.3v1.7h-19.3zM161.8 211.0h49.1v1.7h-49.1zM214.1 211.0h1.5v1.7h-1.5zM251.0 211.0h2.7v1.7h-2.7zM267.6 211.0h3.9v1.7h-3.9zM291.4 211.0h3.9v1.7h-3.9zM97.6 210.0h3.9v1.7h-3.9zM102.3 210.0h14.6v1.7h-14.6zM161.8 210.0h43.1v1.7h-43.1zM206.9 210.0h3.9v1.7h-3.9zM247.4 210.0h2.7v1.7h-2.7zM250.9 210.0h1.5v1.7h-1.5zM267.6 210.0h2.7v1.7h-2.7zM274.7 210.0h1.5v1.7h-1.5zM291.3 210.0h3.9v1.7h-3.9zM92.9 209.0h2.7v1.7h-2.7zM102.4 209.0h14.6v1.7h-14.6zM160.6 209.0h9.8v1.7h-9.8zM171.3 209.0h33.6v1.7h-33.6zM205.7 209.0h5.1v1.7h-5.1zM247.3 209.0h3.9v1.7h-3.9zM267.5 209.0h2.7v1.7h-2.7zM273.4 209.0h3.9v1.7h-3.9zM291.2 209.0h3.9v1.7h-3.9zM93.0 208.0h3.9v1.7h-3.9zM103.6 208.0h9.8v1.7h-9.8zM114.3 208.0h3.9v1.7h-3.9zM160.6 208.0h43.0v1.7h-43.0zM206.9 208.0h2.7v1.7h-2.7zM246.1 208.0h5.0v1.7h-5.0zM268.6 208.0h1.5v1.7h-1.5zM272.2 208.0h6.2v1.7h-6.2zM290.0 208.0h5.0v1.7h-5.0zM91.9 207.0h3.9v1.7h-3.9zM108.5 207.0h1.5v1.7h-1.5zM159.4 207.0h41.8v1.7h-41.8zM205.7 207.0h6.2v1.7h-6.2zM246.0 207.0h5.0v1.7h-5.0zM268.5 207.0h1.5v1.7h-1.5zM272.1 207.0h7.4v1.7h-7.4zM289.9 207.0h5.0v1.7h-5.0zM91.9 206.0h3.9v1.7h-3.9zM158.3 206.0h7.4v1.7h-7.4zM167.7 206.0h3.9v1.7h-3.9zM172.5 206.0h5.0v1.7h-5.0zM179.6 206.0h1.5v1.7h-1.5zM182.0 206.0h6.2v1.7h-6.2zM190.2 206.0h2.7v1.7h-2.7zM206.8 206.0h5.0v1.7h-5.0zM245.9 206.0h5.0v1.7h-5.0zM267.2 206.0h12.1v1.7h-12.1zM290.9 206.0h3.9v1.7h-3.9zM88.5 205.0h8.6v1.7h-8.6zM158.3 205.0h1.5v1.7h-1.5zM160.7 205.0h1.5v1.7h-1.5zM170.1 205.0h1.5v1.7h-1.5zM177.2 205.0h1.5v1.7h-1.5zM206.8 205.0h1.5v1.7h-1.5zM209.2 205.0h2.7v1.7h-2.7zM244.7 205.0h7.4v1.7h-7.4zM267.1 205.0h12.1v1.7h-12.1zM288.4 205.0h3.8v1.7h-3.8zM87.4 204.0h9.8v1.7h-9.8zM244.6 204.0h7.4v1.7h-7.4zM267.0 204.0h12.1v1.7h-12.1zM288.3 204.0h2.7v1.7h-2.7zM86.3 203.0h10.9v1.7h-10.9zM244.5 203.0h3.8v1.7h-3.8zM249.2 203.0h2.7v1.7h-2.7zM266.9 203.0h10.9v1.7h-10.9zM288.2 203.0h2.7v1.7h-2.7zM81.7 201.9h10.9v1.7h-10.9zM243.2 201.9h9.7v1.7h-9.7zM263.3 201.9h14.4v1.7h-14.4zM288.0 201.9h2.7v1.7h-2.7zM79.5 200.9h13.2v1.7h-13.2zM243.1 200.9h10.9v1.7h-10.9zM263.1 200.9h13.2v1.7h-13.2zM287.8 200.9h2.7v1.7h-2.7zM78.5 199.9h14.4v1.7h-14.4zM100.8 199.9h2.7v1.7h-2.7zM105.5 199.9h1.5v1.7h-1.5zM111.4 199.9h1.5v1.7h-1.5zM243.0 199.9h12.1v1.7h-12.1zM263.0 199.9h12.1v1.7h-12.1zM277.1 199.9h1.5v1.7h-1.5zM287.7 199.9h2.7v1.7h-2.7zM78.6 198.9h7.3v1.7h-7.3zM89.2 198.9h3.8v1.7h-3.8zM106.8 198.9h3.8v1.7h-3.8zM244.1 198.9h10.9v1.7h-10.9zM262.9 198.9h12.0v1.7h-12.0zM276.9 198.9h2.6v1.7h-2.6zM77.6 197.9h1.5v1.7h-1.5zM82.3 197.9h2.6v1.7h-2.6zM89.3 197.9h3.8v1.7h-3.8zM106.9 197.9h1.5v1.7h-1.5zM242.8 197.9h14.4v1.7h-14.4zM261.5 197.9h14.4v1.7h-14.4zM276.8 197.9h2.6v1.7h-2.6zM75.4 196.9h2.6v1.7h-2.6zM90.6 196.9h3.8v1.7h-3.8zM103.5 196.9h1.5v1.7h-1.5zM243.9 196.9h13.2v1.7h-13.2zM261.4 196.9h14.3v1.7h-14.3zM277.8 196.9h1.5v1.7h-1.5zM75.6 195.9h2.6v1.7h-2.6zM97.8 195.9h2.6v1.7h-2.6zM243.7 195.9h2.6v1.7h-2.6zM247.2 195.9h34.2v1.7h-34.2zM75.8 194.9h1.5v1.7h-1.5zM243.6 194.9h30.6v1.7h-30.6zM275.1 194.9h1.5v1.7h-1.5zM277.4 194.9h6.1v1.7h-6.1zM245.8 193.9h38.7v1.7h-38.7zM286.5 193.9h1.5v1.7h-1.5zM245.7 192.8h36.3v1.7h-36.3zM282.8 192.8h2.6v1.7h-2.6zM286.3 192.8h1.5v1.7h-1.5zM98.4 191.8h2.6v1.7h-2.6zM245.5 191.8h40.9v1.7h-40.9zM84.7 190.8h1.5v1.7h-1.5zM98.5 190.8h2.6v1.7h-2.6zM244.2 190.8h41.9v1.7h-41.9zM83.7 189.8h2.6v1.7h-2.6zM98.7 189.8h2.6v1.7h-2.6zM244.0 189.8h4.9v1.7h-4.9zM249.8 189.8h1.5v1.7h-1.5zM252.1 189.8h34.9v1.7h-34.9zM82.8 188.8h4.9v1.7h-4.9zM97.8 188.8h3.8v1.7h-3.8zM243.9 188.8h14.1v1.7h-14.1zM258.8 188.8h27.9v1.7h-27.9zM83.1 187.8h10.6v1.7h-10.6zM95.7 187.8h1.4v1.7h-1.4zM98.0 187.8h3.7v1.7h-3.7zM244.8 187.8h2.6v1.7h-2.6zM252.8 187.8h1.4v1.7h-1.4zM255.1 187.8h1.4v1.7h-1.4zM258.6 187.8h27.8v1.7h-27.8zM82.2 186.8h15.2v1.7h-15.2zM98.2 186.8h2.6v1.7h-2.6zM244.6 186.8h1.4v1.7h-1.4zM246.9 186.8h1.4v1.7h-1.4zM264.1 186.8h22.0v1.7h-22.0zM83.6 185.8h17.4v1.7h-17.4zM242.1 185.8h1.4v1.7h-1.4zM244.4 185.8h1.4v1.7h-1.4zM246.7 185.8h1.4v1.7h-1.4zM264.9 185.8h2.6v1.7h-2.6zM268.3 185.8h2.6v1.7h-2.6zM271.8 185.8h9.4v1.7h-9.4zM282.0 185.8h4.9v1.7h-4.9zM82.8 184.8h3.7v1.7h-3.7zM87.4 184.8h15.1v1.7h-15.1zM243.0 184.8h2.6v1.7h-2.6zM265.7 184.8h1.4v1.7h-1.4zM268.0 184.8h17.3v1.7h-17.3zM294.2 184.8h1.4v1.7h-1.4zM86.5 183.7h17.3v1.7h-17.3zM273.4 183.7h11.6v1.7h-11.6zM292.6 183.7h6.0v1.7h-6.0zM88.0 182.7h17.2v1.7h-17.2zM275.3 182.7h5.9v1.7h-5.9zM293.3 182.7h5.9v1.7h-5.9zM87.2 181.7h14.9v1.7h-14.9zM102.9 181.7h4.8v1.7h-4.8zM288.4 181.7h1.4v1.7h-1.4zM294.0 181.7h8.2v1.7h-8.2zM88.6 180.7h19.3v1.7h-19.3zM296.9 180.7h4.8v1.7h-4.8zM89.0 179.7h18.1v1.7h-18.1zM296.4 179.7h4.8v1.7h-4.8zM88.2 178.7h20.3v1.7h-20.3zM298.1 178.7h3.6v1.7h-3.6zM90.8 177.7h18.0v1.7h-18.0zM297.6 177.7h3.6v1.7h-3.6zM64.8 176.7h2.5v1.7h-2.5zM91.2 176.7h3.6v1.7h-3.6zM95.6 176.7h14.6v1.7h-14.6zM167.1 176.7h1.4v1.7h-1.4zM298.1 176.7h2.5v1.7h-2.5zM65.3 175.7h3.6v1.7h-3.6zM92.7 175.7h1.4v1.7h-1.4zM94.9 175.7h16.7v1.7h-16.7zM167.2 175.7h1.4v1.7h-1.4zM188.0 175.7h4.7v1.7h-4.7zM297.5 175.7h2.5v1.7h-2.5zM65.9 174.7h1.4v1.7h-1.4zM93.1 174.7h21.0v1.7h-21.0zM168.3 174.7h1.4v1.7h-1.4zM191.2 174.7h1.4v1.7h-1.4zM296.9 174.7h1.4v1.7h-1.4zM66.5 173.7h2.5v1.7h-2.5zM95.7 173.7h4.6v1.7h-4.6zM101.1 173.7h13.3v1.7h-13.3zM166.2 173.7h6.8v1.7h-6.8zM190.0 173.7h1.4v1.7h-1.4zM296.2 173.7h4.6v1.7h-4.6zM67.0 172.7h1.4v1.7h-1.4zM97.2 172.7h17.5v1.7h-17.5zM117.7 172.7h1.4v1.7h-1.4zM167.3 172.7h3.5v1.7h-3.5zM171.6 172.7h3.5v1.7h-3.5zM187.8 172.7h3.5v1.7h-3.5zM296.7 172.7h4.6v1.7h-4.6zM67.6 171.7h2.4v1.7h-2.4zM97.7 171.7h13.2v1.7h-13.2zM111.6 171.7h5.7v1.7h-5.7zM118.0 171.7h3.5v1.7h-3.5zM178.1 171.7h5.7v1.7h-5.7zM184.5 171.7h1.4v1.7h-1.4zM187.7 171.7h1.4v1.7h-1.4zM189.9 171.7h1.4v1.7h-1.4zM296.0 171.7h3.5v1.7h-3.5zM68.2 170.7h3.5v1.7h-3.5zM98.1 170.7h1.4v1.7h-1.4zM101.3 170.7h9.9v1.7h-9.9zM111.9 170.7h12.0v1.7h-12.0zM178.0 170.7h11.0v1.7h-11.0zM295.3 170.7h1.4v1.7h-1.4zM68.8 169.7h3.5v1.7h-3.5zM101.7 169.7h19.4v1.7h-19.4zM122.9 169.7h1.4v1.7h-1.4zM175.9 169.7h12.0v1.7h-12.0zM295.7 169.7h1.4v1.7h-1.4zM69.5 168.7h4.5v1.7h-4.5zM103.2 168.7h17.2v1.7h-17.2zM125.3 168.7h5.6v1.7h-5.6zM171.7 168.7h1.4v1.7h-1.4zM174.8 168.7h9.8v1.7h-9.8zM185.4 168.7h2.4v1.7h-2.4zM191.7 168.7h1.4v1.7h-1.4zM70.1 167.7h2.4v1.7h-2.4zM106.8 167.7h15.0v1.7h-15.0zM125.6 167.7h5.5v1.7h-5.5zM170.7 167.7h13.9v1.7h-13.9zM190.6 167.7h2.4v1.7h-2.4zM69.7 166.7h4.5v1.7h-4.5zM108.2 166.7h12.8v1.7h-12.8zM125.9 166.7h4.5v1.7h-4.5zM172.8 166.7h11.8v1.7h-11.8zM189.4 166.7h5.5v1.7h-5.5zM69.4 165.8h4.4v1.7h-4.4zM110.7 165.8h1.3v1.7h-1.3zM112.8 165.8h1.3v1.7h-1.3zM114.9 165.8h10.6v1.7h-10.6zM127.3 165.8h2.4v1.7h-2.4zM169.7 165.8h3.4v1.7h-3.4zM174.8 165.8h9.6v1.7h-9.6zM190.4 165.8h1.3v1.7h-1.3zM70.1 164.8h3.4v1.7h-3.4zM111.2 164.8h16.7v1.7h-16.7zM128.6 164.8h1.3v1.7h-1.3zM170.7 164.8h7.5v1.7h-7.5zM179.0 164.8h5.4v1.7h-5.4zM70.8 163.8h3.4v1.7h-3.4zM113.6 163.8h15.6v1.7h-15.6zM166.7 163.8h1.3v1.7h-1.3zM170.8 163.8h4.4v1.7h-4.4zM177.9 163.8h4.4v1.7h-4.4zM302.4 163.8h2.3v1.7h-2.3zM67.5 162.9h1.3v1.7h-1.3zM70.5 162.9h2.3v1.7h-2.3zM73.6 162.9h1.3v1.7h-1.3zM116.1 162.9h13.5v1.7h-13.5zM166.7 162.9h1.3v1.7h-1.3zM170.8 162.9h5.4v1.7h-5.4zM179.9 162.9h1.3v1.7h-1.3zM300.4 162.9h2.3v1.7h-2.3zM68.3 161.9h1.3v1.7h-1.3zM70.3 161.9h2.3v1.7h-2.3zM117.6 161.9h12.4v1.7h-12.4zM166.8 161.9h4.3v1.7h-4.3zM171.8 161.9h3.3v1.7h-3.3zM70.1 160.9h4.3v1.7h-4.3zM118.0 160.9h11.3v1.7h-11.3zM167.9 160.9h1.3v1.7h-1.3zM169.9 160.9h5.3v1.7h-5.3zM69.9 160.0h2.3v1.7h-2.3zM119.4 160.0h4.3v1.7h-4.3zM124.4 160.0h3.3v1.7h-3.3zM169.9 160.0h4.3v1.7h-4.3zM69.8 159.0h2.3v1.6h-2.3zM121.8 159.0h2.3v1.6h-2.3zM125.8 159.0h1.3v1.6h-1.3zM169.9 159.0h4.2v1.6h-4.2zM55.1 158.1h1.3v1.6h-1.3zM69.7 158.1h3.2v1.6h-3.2zM170.0 158.1h4.2v1.6h-4.2zM68.7 157.2h4.2v1.6h-4.2zM170.0 157.2h3.2v1.6h-3.2zM57.1 156.2h1.3v1.6h-1.3zM60.0 156.2h1.3v1.6h-1.3zM67.7 156.2h3.2v1.6h-3.2zM62.0 155.3h5.0v1.6h-5.0zM69.6 155.3h1.2v1.6h-1.2zM139.8 155.3h3.1v1.6h-3.1zM179.6 155.3h1.2v1.6h-1.2zM64.9 154.4h2.2v1.6h-2.2zM138.2 154.4h5.0v1.6h-5.0zM178.6 154.4h2.2v1.6h-2.2zM141.3 153.5h1.2v1.6h-1.2zM178.6 153.5h1.2v1.6h-1.2zM160.1 152.6h2.1v1.6h-2.1zM180.4 152.6h1.2v1.6h-1.2zM158.4 151.7h3.0v1.6h-3.0zM162.1 151.7h2.1v1.6h-2.1zM182.2 151.7h1.2v1.6h-1.2zM160.4 150.8h2.1v1.6h-2.1zM164.0 150.8h1.2v1.6h-1.2zM187.0 147.3h1.2v1.6h-1.2z"/><path fill="#FFB810" d="M111.6 270.6h2.4v1.7h-2.4zM111.2 269.6h2.4v1.7h-2.4zM315.8 269.6h4.5v1.7h-4.5zM110.9 268.6h2.4v1.7h-2.4zM316.7 268.6h4.6v1.7h-4.6zM111.6 267.6h2.4v1.7h-2.4zM318.5 267.6h4.6v1.7h-4.6zM111.2 266.6h1.4v1.7h-1.4zM301.0 266.6h1.4v1.7h-1.4zM319.3 266.6h5.7v1.7h-5.7zM110.9 265.6h1.4v1.7h-1.4zM300.6 265.6h3.6v1.7h-3.6zM322.3 265.6h3.6v1.7h-3.6zM110.6 264.6h2.5v1.7h-2.5zM301.2 264.6h3.6v1.7h-3.6zM324.1 264.6h4.7v1.7h-4.7zM110.2 263.6h1.4v1.7h-1.4zM301.9 263.6h3.6v1.7h-3.6zM324.9 263.6h5.8v1.7h-5.8zM109.9 262.6h2.5v1.7h-2.5zM327.8 262.6h3.6v1.7h-3.6zM109.6 261.6h3.6v1.7h-3.6zM328.5 261.6h4.7v1.7h-4.7zM302.5 260.6h2.5v1.7h-2.5zM329.2 260.6h4.7v1.7h-4.7zM121.3 259.6h1.4v1.7h-1.4zM123.6 259.6h1.4v1.7h-1.4zM304.2 259.6h2.5v1.7h-2.5zM329.8 259.6h2.5v1.7h-2.5zM121.1 258.6h3.7v1.7h-3.7zM329.4 258.6h2.5v1.7h-2.5zM120.9 257.6h2.5v1.7h-2.5zM330.0 257.6h2.5v1.7h-2.5zM120.7 256.6h4.8v1.7h-4.8zM119.4 255.5h8.2v1.7h-8.2zM118.0 254.5h1.4v1.7h-1.4zM120.3 254.5h8.3v1.7h-8.3zM117.8 253.5h10.6v1.7h-10.6zM199.9 253.5h2.6v1.7h-2.6zM118.8 252.5h10.6v1.7h-10.6zM201.2 252.5h2.6v1.7h-2.6zM119.8 251.5h10.6v1.7h-10.6zM201.2 251.5h3.7v1.7h-3.7zM119.6 250.5h10.7v1.7h-10.7zM118.3 249.5h11.8v1.7h-11.8zM118.2 248.5h11.9v1.7h-11.9zM118.1 247.5h13.0v1.7h-13.0zM117.9 246.4h13.1v1.7h-13.1zM119.0 245.4h14.3v1.7h-14.3zM117.7 244.4h16.6v1.7h-16.6zM118.8 243.4h14.3v1.7h-14.3zM134.0 243.4h2.6v1.7h-2.6zM124.6 242.4h13.2v1.7h-13.2zM219.3 242.4h1.5v1.7h-1.5zM123.3 241.4h14.4v1.7h-14.4zM122.0 240.4h16.7v1.7h-16.7zM219.4 240.4h1.5v1.7h-1.5zM123.1 239.4h14.4v1.7h-14.4zM220.7 239.4h1.5v1.7h-1.5zM108.9 238.4h1.5v1.7h-1.5zM124.2 238.4h14.4v1.7h-14.4zM219.6 238.4h1.5v1.7h-1.5zM107.7 237.3h6.2v1.7h-6.2zM123.0 237.3h8.6v1.7h-8.6zM132.4 237.3h1.5v1.7h-1.5zM137.1 237.3h1.5v1.7h-1.5zM107.6 236.3h9.7v1.7h-9.7zM119.4 236.3h1.5v1.7h-1.5zM121.7 236.3h10.9v1.7h-10.9zM135.9 236.3h1.5v1.7h-1.5zM220.9 236.3h1.5v1.7h-1.5zM106.3 235.3h25.1v1.7h-25.1zM219.8 235.3h2.7v1.7h-2.7zM105.0 234.3h28.7v1.7h-28.7zM221.0 234.3h1.5v1.7h-1.5zM105.0 233.3h27.5v1.7h-27.5zM192.6 233.3h1.5v1.7h-1.5zM195.0 233.3h1.5v1.7h-1.5zM202.1 233.3h1.5v1.7h-1.5zM221.0 233.3h1.5v1.7h-1.5zM101.3 232.3h1.5v1.7h-1.5zM103.7 232.3h29.9v1.7h-29.9zM187.9 232.3h1.5v1.7h-1.5zM190.3 232.3h7.4v1.7h-7.4zM198.6 232.3h6.2v1.7h-6.2zM102.5 231.3h31.2v1.7h-31.2zM187.9 231.3h16.9v1.7h-16.9zM316.1 231.3h2.7v1.7h-2.7zM100.0 230.3h33.6v1.7h-33.6zM186.7 230.3h19.3v1.7h-19.3zM315.0 230.3h3.9v1.7h-3.9zM100.0 229.3h33.6v1.7h-33.6zM186.7 229.3h16.9v1.7h-16.9zM283.0 229.3h1.5v1.7h-1.5zM308.0 229.3h3.9v1.7h-3.9zM313.9 229.3h3.9v1.7h-3.9zM101.1 228.2h28.8v1.7h-28.8zM186.7 228.2h18.1v1.7h-18.1zM277.1 228.2h7.4v1.7h-7.4zM305.7 228.2h11.0v1.7h-11.0zM99.9 227.2h28.9v1.7h-28.9zM186.8 227.2h18.2v1.7h-18.2zM274.8 227.2h5.1v1.7h-5.1zM282.0 227.2h1.5v1.7h-1.5zM307.0 227.2h9.8v1.7h-9.8zM99.8 226.2h30.1v1.7h-30.1zM186.8 226.2h18.2v1.7h-18.2zM205.8 226.2h1.5v1.7h-1.5zM273.7 226.2h3.9v1.7h-3.9zM305.8 226.2h9.8v1.7h-9.8zM316.5 226.2h2.7v1.7h-2.7zM98.6 225.2h25.3v1.7h-25.3zM124.8 225.2h2.7v1.7h-2.7zM185.6 225.2h19.4v1.7h-19.4zM205.8 225.2h1.5v1.7h-1.5zM273.7 225.2h1.5v1.7h-1.5zM289.2 225.2h1.5v1.7h-1.5zM304.7 225.2h15.8v1.7h-15.8zM98.6 224.2h20.6v1.7h-20.6zM120.0 224.2h1.5v1.7h-1.5zM185.6 224.2h20.6v1.7h-20.6zM271.4 224.2h5.1v1.7h-5.1zM283.3 224.2h2.7v1.7h-2.7zM288.1 224.2h2.7v1.7h-2.7zM301.2 224.2h12.2v1.7h-12.2zM317.9 224.2h2.7v1.7h-2.7zM97.4 223.2h20.6v1.7h-20.6zM121.2 223.2h1.5v1.7h-1.5zM124.8 223.2h1.5v1.7h-1.5zM184.4 223.2h23.0v1.7h-23.0zM271.4 223.2h5.1v1.7h-5.1zM279.8 223.2h6.3v1.7h-6.3zM288.1 223.2h3.9v1.7h-3.9zM301.2 223.2h11.0v1.7h-11.0zM97.3 222.2h18.2v1.7h-18.2zM183.2 222.2h25.3v1.7h-25.3zM270.3 222.2h7.5v1.7h-7.5zM279.8 222.2h7.5v1.7h-7.5zM288.1 222.2h3.9v1.7h-3.9zM300.1 222.2h9.8v1.7h-9.8zM97.3 221.2h19.4v1.7h-19.4zM117.6 221.2h1.5v1.7h-1.5zM120.0 221.2h1.5v1.7h-1.5zM125.9 221.2h1.5v1.7h-1.5zM183.2 221.2h24.2v1.7h-24.2zM270.3 221.2h5.1v1.7h-5.1zM278.6 221.2h8.6v1.7h-8.6zM288.2 221.2h5.1v1.7h-5.1zM298.9 221.2h5.1v1.7h-5.1zM306.1 221.2h1.5v1.7h-1.5zM98.5 220.2h23.0v1.7h-23.0zM183.2 220.2h26.5v1.7h-26.5zM269.1 220.2h5.1v1.7h-5.1zM278.6 220.2h8.7v1.7h-8.7zM288.2 220.2h1.5v1.7h-1.5zM300.1 220.2h2.7v1.7h-2.7zM98.5 219.1h15.8v1.7h-15.8zM115.2 219.1h6.3v1.7h-6.3zM183.2 219.1h26.5v1.7h-26.5zM269.1 219.1h5.1v1.7h-5.1zM278.6 219.1h9.8v1.7h-9.8zM289.4 219.1h1.5v1.7h-1.5zM99.7 218.1h14.6v1.7h-14.6zM120.0 218.1h1.5v1.7h-1.5zM183.2 218.1h25.3v1.7h-25.3zM267.9 218.1h7.5v1.7h-7.5zM278.6 218.1h9.8v1.7h-9.8zM99.7 217.1h14.6v1.7h-14.6zM183.2 217.1h24.2v1.7h-24.2zM267.9 217.1h6.3v1.7h-6.3zM278.6 217.1h9.8v1.7h-9.8zM100.9 216.1h14.6v1.7h-14.6zM183.2 216.1h24.1v1.7h-24.1zM266.6 216.1h7.5v1.7h-7.5zM281.0 216.1h7.5v1.7h-7.5zM101.0 215.1h14.6v1.7h-14.6zM180.8 215.1h25.3v1.7h-25.3zM211.8 215.1h1.5v1.7h-1.5zM265.4 215.1h3.9v1.7h-3.9zM270.2 215.1h3.9v1.7h-3.9zM283.3 215.1h5.1v1.7h-5.1zM101.0 214.1h13.4v1.7h-13.4zM115.3 214.1h2.7v1.7h-2.7zM171.3 214.1h1.5v1.7h-1.5zM173.7 214.1h1.5v1.7h-1.5zM179.6 214.1h25.3v1.7h-25.3zM265.4 214.1h3.9v1.7h-3.9zM270.2 214.1h3.9v1.7h-3.9zM283.3 214.1h6.3v1.7h-6.3zM101.0 213.1h19.4v1.7h-19.4zM164.1 213.1h39.6v1.7h-39.6zM208.2 213.1h3.9v1.7h-3.9zM213.0 213.1h1.5v1.7h-1.5zM251.1 213.1h1.5v1.7h-1.5zM270.1 213.1h3.9v1.7h-3.9zM284.4 213.1h3.9v1.7h-3.9zM292.7 213.1h2.7v1.7h-2.7zM99.9 212.1h18.2v1.7h-18.2zM118.9 212.1h1.5v1.7h-1.5zM162.9 212.1h38.4v1.7h-38.4zM209.4 212.1h3.9v1.7h-3.9zM214.1 212.1h1.5v1.7h-1.5zM251.0 212.1h2.7v1.7h-2.7zM268.9 212.1h3.9v1.7h-3.9zM285.5 212.1h1.5v1.7h-1.5zM292.7 212.1h3.9v1.7h-3.9zM95.2 211.0h3.9v1.7h-3.9zM99.9 211.0h19.3v1.7h-19.3zM161.8 211.0h14.6v1.7h-14.6zM177.2 211.0h24.1v1.7h-24.1zM209.3 211.0h1.5v1.7h-1.5zM214.1 211.0h1.5v1.7h-1.5zM251.0 211.0h2.7v1.7h-2.7zM267.6 211.0h3.9v1.7h-3.9zM291.4 211.0h3.9v1.7h-3.9zM97.6 210.0h3.9v1.7h-3.9zM102.3 210.0h7.4v1.7h-7.4zM110.7 210.0h6.2v1.7h-6.2zM161.8 210.0h18.1v1.7h-18.1zM180.8 210.0h1.5v1.7h-1.5zM183.2 210.0h16.9v1.7h-16.9zM208.1 210.0h1.5v1.7h-1.5zM247.4 210.0h2.7v1.7h-2.7zM250.9 210.0h1.5v1.7h-1.5zM267.6 210.0h2.7v1.7h-2.7zM274.7 210.0h1.5v1.7h-1.5zM291.3 210.0h3.9v1.7h-3.9zM92.9 209.0h2.7v1.7h-2.7zM102.4 209.0h14.6v1.7h-14.6zM160.6 209.0h9.8v1.7h-9.8zM171.3 209.0h1.5v1.7h-1.5zM173.7 209.0h5.1v1.7h-5.1zM179.6 209.0h9.8v1.7h-9.8zM190.3 209.0h9.8v1.7h-9.8zM208.1 209.0h2.7v1.7h-2.7zM247.3 209.0h3.9v1.7h-3.9zM267.5 209.0h2.7v1.7h-2.7zM273.4 209.0h3.9v1.7h-3.9zM291.2 209.0h3.9v1.7h-3.9zM93.0 208.0h3.9v1.7h-3.9zM103.6 208.0h9.8v1.7h-9.8zM114.3 208.0h3.9v1.7h-3.9zM160.6 208.0h11.0v1.7h-11.0zM174.8 208.0h6.2v1.7h-6.2zM182.0 208.0h3.9v1.7h-3.9zM187.9 208.0h2.7v1.7h-2.7zM191.5 208.0h3.9v1.7h-3.9zM208.1 208.0h1.5v1.7h-1.5zM246.1 208.0h2.7v1.7h-2.7zM249.6 208.0h1.5v1.7h-1.5zM268.6 208.0h1.5v1.7h-1.5zM272.2 208.0h6.2v1.7h-6.2zM290.0 208.0h5.0v1.7h-5.0zM91.9 207.0h3.9v1.7h-3.9zM108.5 207.0h1.5v1.7h-1.5zM159.4 207.0h9.8v1.7h-9.8zM197.4 207.0h1.5v1.7h-1.5zM206.9 207.0h1.5v1.7h-1.5zM209.2 207.0h1.5v1.7h-1.5zM246.0 207.0h5.0v1.7h-5.0zM268.5 207.0h1.5v1.7h-1.5zM272.1 207.0h7.4v1.7h-7.4zM289.9 207.0h5.0v1.7h-5.0zM91.9 206.0h3.9v1.7h-3.9zM160.6 206.0h5.0v1.7h-5.0zM208.0 206.0h1.5v1.7h-1.5zM245.9 206.0h5.0v1.7h-5.0zM267.2 206.0h12.1v1.7h-12.1zM290.9 206.0h3.9v1.7h-3.9zM88.5 205.0h8.6v1.7h-8.6zM160.7 205.0h1.5v1.7h-1.5zM244.7 205.0h2.7v1.7h-2.7zM248.2 205.0h1.5v1.7h-1.5zM250.6 205.0h1.5v1.7h-1.5zM268.3 205.0h10.9v1.7h-10.9zM288.4 205.0h3.8v1.7h-3.8zM87.4 204.0h9.8v1.7h-9.8zM244.6 204.0h1.5v1.7h-1.5zM250.5 204.0h1.5v1.7h-1.5zM267.0 204.0h12.1v1.7h-12.1zM288.3 204.0h2.7v1.7h-2.7zM86.3 203.0h10.9v1.7h-10.9zM244.5 203.0h2.7v1.7h-2.7zM250.4 203.0h1.5v1.7h-1.5zM266.9 203.0h10.9v1.7h-10.9zM288.2 203.0h2.7v1.7h-2.7zM81.7 201.9h10.9v1.7h-10.9zM243.2 201.9h1.5v1.7h-1.5zM249.1 201.9h3.8v1.7h-3.8zM263.3 201.9h14.4v1.7h-14.4zM288.0 201.9h2.7v1.7h-2.7zM79.5 200.9h13.2v1.7h-13.2zM243.1 200.9h2.7v1.7h-2.7zM251.4 200.9h2.7v1.7h-2.7zM263.1 200.9h13.2v1.7h-13.2zM287.8 200.9h2.7v1.7h-2.7zM78.5 199.9h14.4v1.7h-14.4zM100.8 199.9h2.7v1.7h-2.7zM105.5 199.9h1.5v1.7h-1.5zM111.4 199.9h1.5v1.7h-1.5zM243.0 199.9h2.7v1.7h-2.7zM250.1 199.9h5.0v1.7h-5.0zM263.0 199.9h12.1v1.7h-12.1zM277.1 199.9h1.5v1.7h-1.5zM287.7 199.9h2.7v1.7h-2.7zM78.6 198.9h7.3v1.7h-7.3zM89.2 198.9h3.8v1.7h-3.8zM106.8 198.9h3.8v1.7h-3.8zM248.8 198.9h6.2v1.7h-6.2zM262.9 198.9h12.0v1.7h-12.0zM276.9 198.9h2.6v1.7h-2.6zM77.6 197.9h1.5v1.7h-1.5zM82.3 197.9h2.6v1.7h-2.6zM89.3 197.9h3.8v1.7h-3.8zM106.9 197.9h1.5v1.7h-1.5zM242.8 197.9h2.6v1.7h-2.6zM248.7 197.9h8.5v1.7h-8.5zM261.5 197.9h14.4v1.7h-14.4zM276.8 197.9h2.6v1.7h-2.6zM75.4 196.9h2.6v1.7h-2.6zM90.6 196.9h3.8v1.7h-3.8zM103.5 196.9h1.5v1.7h-1.5zM248.5 196.9h8.5v1.7h-8.5zM261.4 196.9h14.3v1.7h-14.3zM277.8 196.9h1.5v1.7h-1.5zM75.6 195.9h2.6v1.7h-2.6zM97.8 195.9h2.6v1.7h-2.6zM248.4 195.9h22.5v1.7h-22.5zM271.8 195.9h6.1v1.7h-6.1zM278.8 195.9h1.5v1.7h-1.5zM75.8 194.9h1.5v1.7h-1.5zM247.1 194.9h1.5v1.7h-1.5zM249.5 194.9h24.8v1.7h-24.8zM275.1 194.9h1.5v1.7h-1.5zM247.0 193.9h1.5v1.7h-1.5zM249.3 193.9h25.9v1.7h-25.9zM248.0 192.8h2.6v1.7h-2.6zM251.5 192.8h7.3v1.7h-7.3zM259.6 192.8h13.1v1.7h-13.1zM99.5 191.8h1.5v1.7h-1.5zM247.9 191.8h8.4v1.7h-8.4zM259.4 191.8h6.1v1.7h-6.1zM266.4 191.8h1.5v1.7h-1.5zM84.7 190.8h1.5v1.7h-1.5zM99.7 190.8h1.5v1.7h-1.5zM250.0 190.8h4.9v1.7h-4.9zM259.2 190.8h7.2v1.7h-7.2zM83.7 189.8h2.6v1.7h-2.6zM98.7 189.8h2.6v1.7h-2.6zM254.4 189.8h1.5v1.7h-1.5zM256.7 189.8h1.5v1.7h-1.5zM259.0 189.8h6.1v1.7h-6.1zM267.1 189.8h1.5v1.7h-1.5zM274.0 189.8h1.5v1.7h-1.5zM82.8 188.8h2.6v1.7h-2.6zM86.3 188.8h1.5v1.7h-1.5zM97.8 188.8h3.8v1.7h-3.8zM247.3 188.8h1.5v1.7h-1.5zM258.8 188.8h6.1v1.7h-6.1zM84.2 187.8h9.5v1.7h-9.5zM95.7 187.8h1.4v1.7h-1.4zM98.0 187.8h3.7v1.7h-3.7zM244.8 187.8h2.6v1.7h-2.6zM263.2 187.8h1.4v1.7h-1.4zM275.8 187.8h1.4v1.7h-1.4zM279.2 187.8h1.4v1.7h-1.4zM281.5 187.8h1.4v1.7h-1.4zM82.2 186.8h11.7v1.7h-11.7zM98.2 186.8h2.6v1.7h-2.6zM244.6 186.8h1.4v1.7h-1.4zM246.9 186.8h1.4v1.7h-1.4zM273.2 186.8h1.4v1.7h-1.4zM275.5 186.8h2.6v1.7h-2.6zM278.9 186.8h2.6v1.7h-2.6zM83.6 185.8h9.4v1.7h-9.4zM93.9 185.8h1.4v1.7h-1.4zM98.5 185.8h1.4v1.7h-1.4zM242.1 185.8h1.4v1.7h-1.4zM244.4 185.8h1.4v1.7h-1.4zM246.7 185.8h1.4v1.7h-1.4zM272.9 185.8h3.7v1.7h-3.7zM82.8 184.8h3.7v1.7h-3.7zM87.4 184.8h7.1v1.7h-7.1zM243.0 184.8h2.6v1.7h-2.6zM271.4 184.8h1.4v1.7h-1.4zM273.7 184.8h2.6v1.7h-2.6zM294.2 184.8h1.4v1.7h-1.4zM88.8 183.7h4.8v1.7h-4.8zM273.4 183.7h1.4v1.7h-1.4zM292.6 183.7h6.0v1.7h-6.0zM88.0 182.7h7.1v1.7h-7.1zM95.9 182.7h3.7v1.7h-3.7zM293.3 182.7h5.9v1.7h-5.9zM89.4 181.7h12.7v1.7h-12.7zM105.2 181.7h2.5v1.7h-2.5zM288.4 181.7h1.4v1.7h-1.4zM294.0 181.7h8.2v1.7h-8.2zM89.8 180.7h14.9v1.7h-14.9zM105.4 180.7h2.5v1.7h-2.5zM296.9 180.7h4.8v1.7h-4.8zM91.2 179.7h7.0v1.7h-7.0zM99.0 179.7h8.1v1.7h-8.1zM296.4 179.7h4.8v1.7h-4.8zM92.7 178.7h15.8v1.7h-15.8zM298.1 178.7h3.6v1.7h-3.6zM90.8 177.7h1.4v1.7h-1.4zM94.2 177.7h14.7v1.7h-14.7zM297.6 177.7h3.6v1.7h-3.6zM64.8 176.7h2.5v1.7h-2.5zM96.7 176.7h1.4v1.7h-1.4zM98.9 176.7h11.3v1.7h-11.3zM167.1 176.7h1.4v1.7h-1.4zM298.1 176.7h2.5v1.7h-2.5zM65.3 175.7h3.6v1.7h-3.6zM98.2 175.7h1.4v1.7h-1.4zM104.8 175.7h6.9v1.7h-6.9zM167.2 175.7h1.4v1.7h-1.4zM188.0 175.7h4.7v1.7h-4.7zM297.5 175.7h2.5v1.7h-2.5zM65.9 174.7h1.4v1.7h-1.4zM102.9 174.7h1.4v1.7h-1.4zM106.2 174.7h2.5v1.7h-2.5zM109.5 174.7h4.7v1.7h-4.7zM168.3 174.7h1.4v1.7h-1.4zM191.2 174.7h1.4v1.7h-1.4zM296.9 174.7h1.4v1.7h-1.4zM66.5 173.7h2.5v1.7h-2.5zM108.7 173.7h5.7v1.7h-5.7zM166.2 173.7h6.8v1.7h-6.8zM190.0 173.7h1.4v1.7h-1.4zM296.2 173.7h4.6v1.7h-4.6zM67.0 172.7h1.4v1.7h-1.4zM109.1 172.7h5.7v1.7h-5.7zM117.7 172.7h1.4v1.7h-1.4zM167.3 172.7h3.5v1.7h-3.5zM171.6 172.7h3.5v1.7h-3.5zM187.8 172.7h3.5v1.7h-3.5zM296.7 172.7h4.6v1.7h-4.6zM67.6 171.7h2.4v1.7h-2.4zM111.6 171.7h5.7v1.7h-5.7zM118.0 171.7h3.5v1.7h-3.5zM178.1 171.7h5.7v1.7h-5.7zM184.5 171.7h1.4v1.7h-1.4zM187.7 171.7h1.4v1.7h-1.4zM296.0 171.7h3.5v1.7h-3.5zM68.2 170.7h3.5v1.7h-3.5zM113.0 170.7h9.9v1.7h-9.9zM178.0 170.7h11.0v1.7h-11.0zM295.3 170.7h1.4v1.7h-1.4zM69.9 169.7h2.4v1.7h-2.4zM113.4 169.7h7.7v1.7h-7.7zM122.9 169.7h1.4v1.7h-1.4zM178.0 169.7h2.4v1.7h-2.4zM181.2 169.7h6.7v1.7h-6.7zM295.7 169.7h1.4v1.7h-1.4zM69.5 168.7h4.5v1.7h-4.5zM114.8 168.7h3.5v1.7h-3.5zM119.0 168.7h1.4v1.7h-1.4zM125.3 168.7h5.6v1.7h-5.6zM171.7 168.7h1.4v1.7h-1.4zM181.2 168.7h1.4v1.7h-1.4zM185.4 168.7h1.4v1.7h-1.4zM70.1 167.7h2.4v1.7h-2.4zM116.2 167.7h5.5v1.7h-5.5zM125.6 167.7h5.5v1.7h-5.5zM170.7 167.7h5.5v1.7h-5.5zM69.7 166.7h4.5v1.7h-4.5zM116.6 166.7h4.5v1.7h-4.5zM125.9 166.7h4.5v1.7h-4.5zM172.8 166.7h2.4v1.7h-2.4zM189.4 166.7h1.3v1.7h-1.3zM191.5 166.7h1.3v1.7h-1.3zM69.4 165.8h4.4v1.7h-4.4zM119.0 165.8h6.5v1.7h-6.5zM127.3 165.8h1.3v1.7h-1.3zM169.7 165.8h3.4v1.7h-3.4zM70.1 164.8h3.4v1.7h-3.4zM122.5 164.8h1.3v1.7h-1.3zM124.5 164.8h2.4v1.7h-2.4zM170.7 164.8h4.4v1.7h-4.4zM70.8 163.8h3.4v1.7h-3.4zM114.7 163.8h2.3v1.7h-2.3zM166.7 163.8h1.3v1.7h-1.3zM170.8 163.8h4.4v1.7h-4.4zM302.4 163.8h2.3v1.7h-2.3zM67.5 162.9h1.3v1.7h-1.3zM70.5 162.9h2.3v1.7h-2.3zM73.6 162.9h1.3v1.7h-1.3zM119.1 162.9h1.3v1.7h-1.3zM166.7 162.9h1.3v1.7h-1.3zM170.8 162.9h5.4v1.7h-5.4zM300.4 162.9h2.3v1.7h-2.3zM68.3 161.9h1.3v1.7h-1.3zM70.3 161.9h2.3v1.7h-2.3zM166.8 161.9h4.3v1.7h-4.3zM171.8 161.9h3.3v1.7h-3.3zM70.1 160.9h4.3v1.7h-4.3zM167.9 160.9h1.3v1.7h-1.3zM169.9 160.9h5.3v1.7h-5.3zM69.9 160.0h2.3v1.7h-2.3zM169.9 160.0h4.3v1.7h-4.3zM69.8 159.0h2.3v1.6h-2.3zM169.9 159.0h4.2v1.6h-4.2zM55.1 158.1h1.3v1.6h-1.3zM69.7 158.1h3.2v1.6h-3.2zM170.0 158.1h4.2v1.6h-4.2zM68.7 157.2h4.2v1.6h-4.2zM170.0 157.2h3.2v1.6h-3.2zM57.1 156.2h1.3v1.6h-1.3zM60.0 156.2h1.3v1.6h-1.3zM67.7 156.2h3.2v1.6h-3.2zM62.0 155.3h5.0v1.6h-5.0zM139.8 155.3h3.1v1.6h-3.1zM179.6 155.3h1.2v1.6h-1.2zM64.9 154.4h1.2v1.6h-1.2zM138.2 154.4h5.0v1.6h-5.0zM178.6 154.4h2.2v1.6h-2.2zM141.3 153.5h1.2v1.6h-1.2zM178.6 153.5h1.2v1.6h-1.2zM160.1 152.6h2.1v1.6h-2.1zM180.4 152.6h1.2v1.6h-1.2zM158.4 151.7h3.0v1.6h-3.0zM162.1 151.7h2.1v1.6h-2.1zM182.2 151.7h1.2v1.6h-1.2zM160.4 150.8h2.1v1.6h-2.1zM164.0 150.8h1.2v1.6h-1.2zM187.0 147.3h1.2v1.6h-1.2z"/><path fill="#FF3800" d="M111.6 270.6h2.4v1.7h-2.4zM111.2 269.6h2.4v1.7h-2.4zM315.8 269.6h3.5v1.7h-3.5zM110.9 268.6h1.4v1.7h-1.4zM316.7 268.6h2.4v1.7h-2.4zM319.9 268.6h1.4v1.7h-1.4zM111.6 267.6h1.4v1.7h-1.4zM318.5 267.6h4.6v1.7h-4.6zM111.2 266.6h1.4v1.7h-1.4zM301.0 266.6h1.4v1.7h-1.4zM319.3 266.6h5.7v1.7h-5.7zM110.9 265.6h1.4v1.7h-1.4zM300.6 265.6h1.4v1.7h-1.4zM302.8 265.6h1.4v1.7h-1.4zM322.3 265.6h3.6v1.7h-3.6zM110.6 264.6h2.5v1.7h-2.5zM301.2 264.6h1.4v1.7h-1.4zM303.4 264.6h1.4v1.7h-1.4zM324.1 264.6h4.7v1.7h-4.7zM110.2 263.6h1.4v1.7h-1.4zM303.0 263.6h2.5v1.7h-2.5zM324.9 263.6h5.8v1.7h-5.8zM109.9 262.6h2.5v1.7h-2.5zM327.8 262.6h3.6v1.7h-3.6zM109.6 261.6h3.6v1.7h-3.6zM328.5 261.6h1.4v1.7h-1.4zM331.8 261.6h1.4v1.7h-1.4zM330.3 260.6h1.4v1.7h-1.4zM121.1 258.6h1.4v1.7h-1.4zM120.9 257.6h2.5v1.7h-2.5zM120.7 256.6h3.7v1.7h-3.7zM119.4 255.5h8.2v1.7h-8.2zM118.0 254.5h1.4v1.7h-1.4zM121.4 254.5h7.1v1.7h-7.1zM117.8 253.5h10.6v1.7h-10.6zM118.8 252.5h1.4v1.7h-1.4zM121.1 252.5h8.3v1.7h-8.3zM119.8 251.5h10.6v1.7h-10.6zM119.6 250.5h10.7v1.7h-10.7zM119.5 249.5h10.7v1.7h-10.7zM118.2 248.5h9.5v1.7h-9.5zM128.6 248.5h1.5v1.7h-1.5zM118.1 247.5h13.0v1.7h-13.0zM117.9 246.4h11.9v1.7h-11.9zM119.0 245.4h13.1v1.7h-13.1zM117.7 244.4h14.3v1.7h-14.3zM118.8 243.4h13.1v1.7h-13.1zM124.6 242.4h1.5v1.7h-1.5zM129.2 242.4h3.8v1.7h-3.8zM219.3 242.4h1.5v1.7h-1.5zM123.3 241.4h3.8v1.7h-3.8zM122.0 240.4h3.8v1.7h-3.8zM129.1 240.4h2.6v1.7h-2.6zM219.4 240.4h1.5v1.7h-1.5zM123.1 239.4h2.7v1.7h-2.7zM220.7 239.4h1.5v1.7h-1.5zM108.9 238.4h1.5v1.7h-1.5zM124.2 238.4h1.5v1.7h-1.5zM219.6 238.4h1.5v1.7h-1.5zM107.7 237.3h3.8v1.7h-3.8zM112.4 237.3h1.5v1.7h-1.5zM124.2 237.3h1.5v1.7h-1.5zM127.7 237.3h1.5v1.7h-1.5zM108.8 236.3h7.4v1.7h-7.4zM119.4 236.3h1.5v1.7h-1.5zM121.7 236.3h1.5v1.7h-1.5zM124.1 236.3h1.5v1.7h-1.5zM126.5 236.3h5.0v1.7h-5.0zM106.3 235.3h1.5v1.7h-1.5zM109.8 235.3h5.0v1.7h-5.0zM115.8 235.3h8.6v1.7h-8.6zM126.4 235.3h2.7v1.7h-2.7zM220.9 235.3h1.5v1.7h-1.5zM105.0 234.3h1.5v1.7h-1.5zM107.4 234.3h6.2v1.7h-6.2zM114.5 234.3h3.8v1.7h-3.8zM119.2 234.3h5.0v1.7h-5.0zM127.5 234.3h2.7v1.7h-2.7zM221.0 234.3h1.5v1.7h-1.5zM105.0 233.3h11.0v1.7h-11.0zM116.8 233.3h8.6v1.7h-8.6zM221.0 233.3h1.5v1.7h-1.5zM101.3 232.3h1.5v1.7h-1.5zM103.7 232.3h5.0v1.7h-5.0zM109.6 232.3h8.6v1.7h-8.6zM119.1 232.3h1.5v1.7h-1.5zM122.7 232.3h1.5v1.7h-1.5zM190.3 232.3h1.5v1.7h-1.5zM102.5 231.3h5.0v1.7h-5.0zM108.4 231.3h5.0v1.7h-5.0zM115.5 231.3h1.5v1.7h-1.5zM117.9 231.3h5.0v1.7h-5.0zM123.8 231.3h1.5v1.7h-1.5zM187.9 231.3h3.9v1.7h-3.9zM198.6 231.3h1.5v1.7h-1.5zM316.1 231.3h2.7v1.7h-2.7zM100.0 230.3h12.2v1.7h-12.2zM113.1 230.3h1.5v1.7h-1.5zM115.5 230.3h2.7v1.7h-2.7zM119.0 230.3h8.6v1.7h-8.6zM129.7 230.3h2.7v1.7h-2.7zM186.7 230.3h3.9v1.7h-3.9zM315.0 230.3h3.9v1.7h-3.9zM100.0 229.3h27.6v1.7h-27.6zM128.5 229.3h3.9v1.7h-3.9zM186.7 229.3h5.1v1.7h-5.1zM308.0 229.3h3.9v1.7h-3.9zM313.9 229.3h3.9v1.7h-3.9zM101.1 228.2h28.8v1.7h-28.8zM186.7 228.2h8.6v1.7h-8.6zM278.3 228.2h3.9v1.7h-3.9zM305.7 228.2h11.0v1.7h-11.0zM99.9 227.2h28.9v1.7h-28.9zM187.9 227.2h7.4v1.7h-7.4zM277.2 227.2h2.7v1.7h-2.7zM307.0 227.2h9.8v1.7h-9.8zM99.8 226.2h27.7v1.7h-27.7zM128.4 226.2h1.5v1.7h-1.5zM186.8 226.2h11.0v1.7h-11.0zM198.7 226.2h3.9v1.7h-3.9zM203.4 226.2h1.5v1.7h-1.5zM305.8 226.2h9.8v1.7h-9.8zM316.5 226.2h2.7v1.7h-2.7zM98.6 225.2h25.3v1.7h-25.3zM124.8 225.2h2.7v1.7h-2.7zM185.6 225.2h15.8v1.7h-15.8zM273.7 225.2h1.5v1.7h-1.5zM289.2 225.2h1.5v1.7h-1.5zM304.7 225.2h15.8v1.7h-15.8zM98.6 224.2h20.6v1.7h-20.6zM120.0 224.2h1.5v1.7h-1.5zM185.6 224.2h20.6v1.7h-20.6zM271.4 224.2h5.1v1.7h-5.1zM283.3 224.2h2.7v1.7h-2.7zM288.1 224.2h2.7v1.7h-2.7zM301.2 224.2h12.2v1.7h-12.2zM317.9 224.2h2.7v1.7h-2.7zM97.4 223.2h19.4v1.7h-19.4zM184.4 223.2h21.8v1.7h-21.8zM271.4 223.2h5.1v1.7h-5.1zM279.8 223.2h6.3v1.7h-6.3zM288.1 223.2h3.9v1.7h-3.9zM301.2 223.2h11.0v1.7h-11.0zM97.3 222.2h18.2v1.7h-18.2zM184.4 222.2h20.6v1.7h-20.6zM207.0 222.2h1.5v1.7h-1.5zM270.3 222.2h7.5v1.7h-7.5zM279.8 222.2h7.5v1.7h-7.5zM288.1 222.2h3.9v1.7h-3.9zM300.1 222.2h9.8v1.7h-9.8zM97.3 221.2h19.4v1.7h-19.4zM183.2 221.2h21.8v1.7h-21.8zM270.3 221.2h5.1v1.7h-5.1zM278.6 221.2h8.6v1.7h-8.6zM288.2 221.2h5.1v1.7h-5.1zM298.9 221.2h5.1v1.7h-5.1zM306.1 221.2h1.5v1.7h-1.5zM98.5 220.2h15.8v1.7h-15.8zM183.2 220.2h21.8v1.7h-21.8zM207.1 220.2h2.7v1.7h-2.7zM269.1 220.2h5.1v1.7h-5.1zM278.6 220.2h8.7v1.7h-8.7zM288.2 220.2h1.5v1.7h-1.5zM300.1 220.2h2.7v1.7h-2.7zM98.5 219.1h15.8v1.7h-15.8zM117.6 219.1h1.5v1.7h-1.5zM183.2 219.1h23.0v1.7h-23.0zM207.1 219.1h2.7v1.7h-2.7zM269.1 219.1h5.1v1.7h-5.1zM278.6 219.1h9.8v1.7h-9.8zM289.4 219.1h1.5v1.7h-1.5zM99.7 218.1h14.6v1.7h-14.6zM183.2 218.1h25.3v1.7h-25.3zM267.9 218.1h7.5v1.7h-7.5zM278.6 218.1h9.8v1.7h-9.8zM99.7 217.1h14.6v1.7h-14.6zM183.2 217.1h23.0v1.7h-23.0zM267.9 217.1h6.3v1.7h-6.3zM278.6 217.1h9.8v1.7h-9.8zM100.9 216.1h14.6v1.7h-14.6zM183.2 216.1h21.8v1.7h-21.8zM205.8 216.1h1.5v1.7h-1.5zM266.6 216.1h7.5v1.7h-7.5zM281.0 216.1h7.5v1.7h-7.5zM101.0 215.1h14.6v1.7h-14.6zM182.0 215.1h24.1v1.7h-24.1zM211.8 215.1h1.5v1.7h-1.5zM265.4 215.1h3.9v1.7h-3.9zM270.2 215.1h3.9v1.7h-3.9zM283.3 215.1h5.1v1.7h-5.1zM101.0 214.1h13.4v1.7h-13.4zM115.3 214.1h2.7v1.7h-2.7zM171.3 214.1h1.5v1.7h-1.5zM173.7 214.1h1.5v1.7h-1.5zM179.6 214.1h25.3v1.7h-25.3zM265.4 214.1h3.9v1.7h-3.9zM270.2 214.1h3.9v1.7h-3.9zM283.3 214.1h6.3v1.7h-6.3zM101.0 213.1h13.4v1.7h-13.4zM115.3 213.1h1.5v1.7h-1.5zM117.7 213.1h2.7v1.7h-2.7zM164.1 213.1h3.9v1.7h-3.9zM170.1 213.1h33.6v1.7h-33.6zM208.2 213.1h3.9v1.7h-3.9zM213.0 213.1h1.5v1.7h-1.5zM270.1 213.1h3.9v1.7h-3.9zM284.4 213.1h3.9v1.7h-3.9zM292.7 213.1h2.7v1.7h-2.7zM99.9 212.1h12.2v1.7h-12.2zM113.0 212.1h1.5v1.7h-1.5zM118.9 212.1h1.5v1.7h-1.5zM162.9 212.1h12.2v1.7h-12.2zM176.0 212.1h1.5v1.7h-1.5zM178.4 212.1h22.9v1.7h-22.9zM209.4 212.1h3.9v1.7h-3.9zM214.1 212.1h1.5v1.7h-1.5zM268.9 212.1h3.9v1.7h-3.9zM285.5 212.1h1.5v1.7h-1.5zM292.7 212.1h3.9v1.7h-3.9zM95.2 211.0h3.9v1.7h-3.9zM99.9 211.0h9.8v1.7h-9.8zM110.6 211.0h2.7v1.7h-2.7zM117.8 211.0h1.5v1.7h-1.5zM161.8 211.0h7.4v1.7h-7.4zM170.1 211.0h1.5v1.7h-1.5zM174.8 211.0h1.5v1.7h-1.5zM179.6 211.0h21.7v1.7h-21.7zM209.3 211.0h1.5v1.7h-1.5zM214.1 211.0h1.5v1.7h-1.5zM267.6 211.0h3.9v1.7h-3.9zM291.4 211.0h3.9v1.7h-3.9zM98.8 210.0h2.7v1.7h-2.7zM102.3 210.0h7.4v1.7h-7.4zM110.7 210.0h3.9v1.7h-3.9zM161.8 210.0h6.2v1.7h-6.2zM172.5 210.0h1.5v1.7h-1.5zM178.4 210.0h1.5v1.7h-1.5zM183.2 210.0h3.9v1.7h-3.9zM192.7 210.0h3.9v1.7h-3.9zM198.6 210.0h1.5v1.7h-1.5zM208.1 210.0h1.5v1.7h-1.5zM247.4 210.0h2.7v1.7h-2.7zM250.9 210.0h1.5v1.7h-1.5zM267.6 210.0h2.7v1.7h-2.7zM274.7 210.0h1.5v1.7h-1.5zM291.3 210.0h3.9v1.7h-3.9zM92.9 209.0h2.7v1.7h-2.7zM102.4 209.0h1.5v1.7h-1.5zM104.8 209.0h9.8v1.7h-9.8zM160.6 209.0h6.2v1.7h-6.2zM208.1 209.0h2.7v1.7h-2.7zM247.3 209.0h3.9v1.7h-3.9zM267.5 209.0h2.7v1.7h-2.7zM273.4 209.0h3.9v1.7h-3.9zM291.2 209.0h3.9v1.7h-3.9zM93.0 208.0h3.9v1.7h-3.9zM103.6 208.0h7.4v1.7h-7.4zM112.0 208.0h1.5v1.7h-1.5zM160.6 208.0h7.4v1.7h-7.4zM168.9 208.0h1.5v1.7h-1.5zM208.1 208.0h1.5v1.7h-1.5zM247.2 208.0h1.5v1.7h-1.5zM249.6 208.0h1.5v1.7h-1.5zM268.6 208.0h1.5v1.7h-1.5zM272.2 208.0h6.2v1.7h-6.2zM290.0 208.0h5.0v1.7h-5.0zM91.9 207.0h3.9v1.7h-3.9zM108.5 207.0h1.5v1.7h-1.5zM159.4 207.0h8.6v1.7h-8.6zM206.9 207.0h1.5v1.7h-1.5zM209.2 207.0h1.5v1.7h-1.5zM248.4 207.0h2.7v1.7h-2.7zM268.5 207.0h1.5v1.7h-1.5zM272.1 207.0h7.4v1.7h-7.4zM289.9 207.0h5.0v1.7h-5.0zM91.9 206.0h3.9v1.7h-3.9zM160.6 206.0h5.0v1.7h-5.0zM208.0 206.0h1.5v1.7h-1.5zM247.1 206.0h3.9v1.7h-3.9zM267.2 206.0h12.1v1.7h-12.1zM290.9 206.0h3.9v1.7h-3.9zM88.5 205.0h8.6v1.7h-8.6zM160.7 205.0h1.5v1.7h-1.5zM245.8 205.0h1.5v1.7h-1.5zM250.6 205.0h1.5v1.7h-1.5zM268.3 205.0h10.9v1.7h-10.9zM288.4 205.0h3.8v1.7h-3.8zM87.4 204.0h9.8v1.7h-9.8zM250.5 204.0h1.5v1.7h-1.5zM267.0 204.0h12.1v1.7h-12.1zM288.3 204.0h2.7v1.7h-2.7zM86.3 203.0h10.9v1.7h-10.9zM244.5 203.0h2.7v1.7h-2.7zM270.5 203.0h7.4v1.7h-7.4zM288.2 203.0h2.7v1.7h-2.7zM81.7 201.9h10.9v1.7h-10.9zM243.2 201.9h1.5v1.7h-1.5zM249.1 201.9h3.8v1.7h-3.8zM270.3 201.9h7.4v1.7h-7.4zM288.0 201.9h2.7v1.7h-2.7zM79.5 200.9h5.0v1.7h-5.0zM85.4 200.9h7.4v1.7h-7.4zM244.3 200.9h1.5v1.7h-1.5zM251.4 200.9h2.7v1.7h-2.7zM265.5 200.9h3.8v1.7h-3.8zM270.2 200.9h6.2v1.7h-6.2zM287.8 200.9h2.7v1.7h-2.7zM79.7 199.9h1.5v1.7h-1.5zM83.2 199.9h9.7v1.7h-9.7zM100.8 199.9h2.7v1.7h-2.7zM105.5 199.9h1.5v1.7h-1.5zM111.4 199.9h1.5v1.7h-1.5zM243.0 199.9h2.7v1.7h-2.7zM251.2 199.9h3.8v1.7h-3.8zM266.5 199.9h8.5v1.7h-8.5zM277.1 199.9h1.5v1.7h-1.5zM287.7 199.9h2.7v1.7h-2.7zM81.0 198.9h5.0v1.7h-5.0zM89.2 198.9h3.8v1.7h-3.8zM106.8 198.9h3.8v1.7h-3.8zM248.8 198.9h2.6v1.7h-2.6zM252.3 198.9h1.5v1.7h-1.5zM266.4 198.9h1.5v1.7h-1.5zM276.9 198.9h2.6v1.7h-2.6zM77.6 197.9h1.5v1.7h-1.5zM82.3 197.9h2.6v1.7h-2.6zM89.3 197.9h3.8v1.7h-3.8zM242.8 197.9h2.6v1.7h-2.6zM248.7 197.9h1.5v1.7h-1.5zM254.5 197.9h2.6v1.7h-2.6zM262.7 197.9h3.8v1.7h-3.8zM270.9 197.9h5.0v1.7h-5.0zM276.8 197.9h2.6v1.7h-2.6zM90.6 196.9h3.8v1.7h-3.8zM103.5 196.9h1.5v1.7h-1.5zM248.5 196.9h1.5v1.7h-1.5zM254.4 196.9h2.6v1.7h-2.6zM262.6 196.9h3.8v1.7h-3.8zM267.2 196.9h2.6v1.7h-2.6zM274.3 196.9h1.5v1.7h-1.5zM277.8 196.9h1.5v1.7h-1.5zM97.8 195.9h2.6v1.7h-2.6zM248.4 195.9h1.5v1.7h-1.5zM253.1 195.9h2.6v1.7h-2.6zM256.6 195.9h1.5v1.7h-1.5zM258.9 195.9h1.5v1.7h-1.5zM261.3 195.9h1.5v1.7h-1.5zM267.1 195.9h1.5v1.7h-1.5zM75.8 194.9h1.5v1.7h-1.5zM247.1 194.9h1.5v1.7h-1.5zM249.5 194.9h1.5v1.7h-1.5zM256.4 194.9h7.3v1.7h-7.3zM264.6 194.9h1.5v1.7h-1.5zM266.9 194.9h2.6v1.7h-2.6zM255.1 193.9h1.5v1.7h-1.5zM258.6 193.9h5.0v1.7h-5.0zM264.4 193.9h1.5v1.7h-1.5zM267.9 193.9h1.5v1.7h-1.5zM271.4 193.9h1.5v1.7h-1.5zM259.6 192.8h2.6v1.7h-2.6zM263.1 192.8h3.8v1.7h-3.8zM271.2 192.8h1.5v1.7h-1.5zM259.4 191.8h6.1v1.7h-6.1zM259.2 190.8h7.2v1.7h-7.2zM83.7 189.8h1.5v1.7h-1.5zM99.9 189.8h1.5v1.7h-1.5zM259.0 189.8h6.1v1.7h-6.1zM86.3 188.8h1.5v1.7h-1.5zM100.1 188.8h1.5v1.7h-1.5zM247.3 188.8h1.5v1.7h-1.5zM260.0 188.8h2.6v1.7h-2.6zM263.4 188.8h1.5v1.7h-1.5zM85.4 187.8h1.4v1.7h-1.4zM275.8 187.8h1.4v1.7h-1.4zM87.9 186.8h1.4v1.7h-1.4zM91.6 185.8h1.4v1.7h-1.4zM294.2 184.8h1.4v1.7h-1.4zM91.1 183.7h1.4v1.7h-1.4zM292.6 183.7h6.0v1.7h-6.0zM93.6 182.7h1.4v1.7h-1.4zM95.9 182.7h1.4v1.7h-1.4zM293.3 182.7h5.9v1.7h-5.9zM294.0 181.7h8.2v1.7h-8.2zM106.6 180.7h1.4v1.7h-1.4zM296.9 180.7h4.8v1.7h-4.8zM93.4 179.7h1.4v1.7h-1.4zM95.7 179.7h1.4v1.7h-1.4zM296.4 179.7h4.8v1.7h-4.8zM102.7 178.7h1.4v1.7h-1.4zM298.1 178.7h3.6v1.7h-3.6zM297.6 177.7h3.6v1.7h-3.6zM167.1 176.7h1.4v1.7h-1.4zM298.1 176.7h2.5v1.7h-2.5zM190.2 175.7h1.4v1.7h-1.4zM298.6 175.7h1.4v1.7h-1.4zM191.2 174.7h1.4v1.7h-1.4zM109.8 173.7h1.4v1.7h-1.4zM170.5 173.7h1.4v1.7h-1.4zM297.3 173.7h1.4v1.7h-1.4zM168.4 172.7h2.5v1.7h-2.5zM187.8 172.7h1.4v1.7h-1.4zM115.9 171.7h1.4v1.7h-1.4zM68.2 170.7h1.4v1.7h-1.4zM70.4 170.7h1.4v1.7h-1.4zM120.5 170.7h1.4v1.7h-1.4zM179.1 170.7h1.4v1.7h-1.4zM186.6 170.7h2.4v1.7h-2.4zM69.9 169.7h1.4v1.7h-1.4zM186.5 169.7h1.4v1.7h-1.4zM115.8 168.7h1.4v1.7h-1.4zM125.3 168.7h1.4v1.7h-1.4zM70.1 167.7h2.4v1.7h-2.4zM129.8 167.7h1.3v1.7h-1.3zM70.7 166.7h2.4v1.7h-2.4zM129.0 166.7h1.3v1.7h-1.3zM69.4 165.8h3.4v1.7h-3.4zM70.1 164.8h3.4v1.7h-3.4zM170.7 164.8h1.3v1.7h-1.3zM70.8 163.8h3.4v1.7h-3.4zM166.7 163.8h1.3v1.7h-1.3zM70.5 162.9h1.3v1.7h-1.3zM166.7 162.9h1.3v1.7h-1.3zM68.3 161.9h1.3v1.7h-1.3zM70.3 161.9h1.3v1.7h-1.3zM167.8 161.9h1.3v1.7h-1.3zM70.1 160.9h1.3v1.7h-1.3zM72.1 160.9h2.3v1.7h-2.3zM167.9 160.9h1.3v1.7h-1.3zM169.9 160.9h2.3v1.7h-2.3zM69.9 160.0h2.3v1.7h-2.3zM69.8 159.0h2.3v1.6h-2.3zM169.9 159.0h2.3v1.6h-2.3zM69.7 158.1h3.2v1.6h-3.2zM170.0 158.1h1.3v1.6h-1.3zM68.7 157.2h3.2v1.6h-3.2zM170.0 157.2h1.3v1.6h-1.3zM60.0 156.2h1.3v1.6h-1.3zM67.7 156.2h1.3v1.6h-1.3zM69.6 156.2h1.3v1.6h-1.3zM65.8 155.3h1.2v1.6h-1.2zM142.0 154.4h1.2v1.6h-1.2zM178.6 154.4h2.2v1.6h-2.2zM178.6 153.5h1.2v1.6h-1.2zM182.2 151.7h1.2v1.6h-1.2z"/><path fill="#D82828" d="M316.7 268.6h1.4v1.7h-1.4zM111.6 267.6h1.4v1.7h-1.4zM318.5 267.6h1.4v1.7h-1.4zM111.2 266.6h1.4v1.7h-1.4zM319.3 266.6h1.4v1.7h-1.4zM110.6 264.6h1.4v1.7h-1.4zM110.2 263.6h1.4v1.7h-1.4zM109.9 262.6h1.4v1.7h-1.4zM327.8 262.6h1.4v1.7h-1.4zM330.0 262.6h1.4v1.7h-1.4zM328.5 261.6h1.4v1.7h-1.4zM330.3 260.6h1.4v1.7h-1.4zM123.0 256.6h1.4v1.7h-1.4zM119.4 255.5h7.1v1.7h-7.1zM121.4 254.5h1.4v1.7h-1.4zM123.7 254.5h1.4v1.7h-1.4zM126.0 254.5h2.6v1.7h-2.6zM120.1 253.5h2.6v1.7h-2.6zM123.5 253.5h4.9v1.7h-4.9zM121.1 252.5h8.3v1.7h-8.3zM119.8 251.5h8.3v1.7h-8.3zM119.6 250.5h8.4v1.7h-8.4zM119.5 249.5h2.6v1.7h-2.6zM123.0 249.5h4.9v1.7h-4.9zM128.7 249.5h1.5v1.7h-1.5zM120.5 248.5h7.2v1.7h-7.2zM128.6 248.5h1.5v1.7h-1.5zM120.4 247.5h10.7v1.7h-10.7zM119.1 246.4h9.6v1.7h-9.6zM119.0 245.4h3.8v1.7h-3.8zM123.7 245.4h7.3v1.7h-7.3zM120.1 244.4h6.1v1.7h-6.1zM127.1 244.4h5.0v1.7h-5.0zM121.1 243.4h5.0v1.7h-5.0zM128.1 243.4h3.8v1.7h-3.8zM124.6 242.4h1.5v1.7h-1.5zM130.3 240.4h1.5v1.7h-1.5zM123.1 239.4h1.5v1.7h-1.5zM114.7 236.3h1.5v1.7h-1.5zM120.5 235.3h1.5v1.7h-1.5zM122.8 234.3h1.5v1.7h-1.5zM103.6 231.3h1.5v1.7h-1.5zM106.0 231.3h1.5v1.7h-1.5zM110.8 231.3h1.5v1.7h-1.5zM115.5 231.3h1.5v1.7h-1.5zM316.1 231.3h2.7v1.7h-2.7zM102.4 230.3h1.5v1.7h-1.5zM106.0 230.3h2.7v1.7h-2.7zM109.5 230.3h2.7v1.7h-2.7zM113.1 230.3h1.5v1.7h-1.5zM119.0 230.3h2.7v1.7h-2.7zM122.6 230.3h1.5v1.7h-1.5zM125.0 230.3h2.7v1.7h-2.7zM315.0 230.3h3.9v1.7h-3.9zM100.0 229.3h1.5v1.7h-1.5zM102.3 229.3h6.2v1.7h-6.2zM109.5 229.3h1.5v1.7h-1.5zM114.2 229.3h11.0v1.7h-11.0zM126.1 229.3h1.5v1.7h-1.5zM186.7 229.3h1.5v1.7h-1.5zM308.0 229.3h1.5v1.7h-1.5zM310.4 229.3h1.5v1.7h-1.5zM313.9 229.3h3.9v1.7h-3.9zM101.1 228.2h11.0v1.7h-11.0zM113.0 228.2h14.6v1.7h-14.6zM191.5 228.2h1.5v1.7h-1.5zM278.3 228.2h3.9v1.7h-3.9zM305.7 228.2h11.0v1.7h-11.0zM99.9 227.2h1.5v1.7h-1.5zM102.3 227.2h9.8v1.7h-9.8zM113.0 227.2h3.9v1.7h-3.9zM118.9 227.2h9.8v1.7h-9.8zM187.9 227.2h2.7v1.7h-2.7zM193.9 227.2h1.5v1.7h-1.5zM277.2 227.2h2.7v1.7h-2.7zM307.0 227.2h9.8v1.7h-9.8zM102.2 226.2h8.6v1.7h-8.6zM111.7 226.2h15.8v1.7h-15.8zM187.9 226.2h9.8v1.7h-9.8zM305.8 226.2h1.5v1.7h-1.5zM308.2 226.2h6.3v1.7h-6.3zM316.5 226.2h2.7v1.7h-2.7zM101.0 225.2h6.3v1.7h-6.3zM109.3 225.2h12.2v1.7h-12.2zM122.4 225.2h1.5v1.7h-1.5zM124.8 225.2h1.5v1.7h-1.5zM185.6 225.2h13.4v1.7h-13.4zM289.2 225.2h1.5v1.7h-1.5zM304.7 225.2h15.8v1.7h-15.8zM99.8 224.2h8.6v1.7h-8.6zM109.3 224.2h5.1v1.7h-5.1zM115.3 224.2h3.9v1.7h-3.9zM185.6 224.2h9.8v1.7h-9.8zM196.3 224.2h2.7v1.7h-2.7zM201.1 224.2h2.7v1.7h-2.7zM271.4 224.2h5.1v1.7h-5.1zM283.3 224.2h2.7v1.7h-2.7zM288.1 224.2h1.5v1.7h-1.5zM301.2 224.2h12.2v1.7h-12.2zM317.9 224.2h2.7v1.7h-2.7zM100.9 223.2h8.6v1.7h-8.6zM110.5 223.2h1.5v1.7h-1.5zM184.4 223.2h21.8v1.7h-21.8zM271.4 223.2h5.1v1.7h-5.1zM279.8 223.2h6.3v1.7h-6.3zM288.1 223.2h1.5v1.7h-1.5zM290.5 223.2h1.5v1.7h-1.5zM301.2 223.2h11.0v1.7h-11.0zM100.9 222.2h7.5v1.7h-7.5zM109.3 222.2h5.1v1.7h-5.1zM185.6 222.2h17.0v1.7h-17.0zM203.5 222.2h1.5v1.7h-1.5zM270.3 222.2h6.3v1.7h-6.3zM279.8 222.2h7.5v1.7h-7.5zM288.1 222.2h3.9v1.7h-3.9zM301.3 222.2h8.6v1.7h-8.6zM99.7 221.2h5.1v1.7h-5.1zM105.7 221.2h9.8v1.7h-9.8zM183.2 221.2h1.5v1.7h-1.5zM185.6 221.2h3.9v1.7h-3.9zM191.5 221.2h5.1v1.7h-5.1zM197.5 221.2h7.5v1.7h-7.5zM270.3 221.2h5.1v1.7h-5.1zM278.6 221.2h8.6v1.7h-8.6zM288.2 221.2h5.1v1.7h-5.1zM298.9 221.2h5.1v1.7h-5.1zM306.1 221.2h1.5v1.7h-1.5zM100.9 220.2h13.4v1.7h-13.4zM183.2 220.2h12.2v1.7h-12.2zM196.3 220.2h1.5v1.7h-1.5zM198.7 220.2h6.3v1.7h-6.3zM269.1 220.2h2.7v1.7h-2.7zM272.7 220.2h1.5v1.7h-1.5zM278.6 220.2h5.1v1.7h-5.1zM284.6 220.2h2.7v1.7h-2.7zM288.2 220.2h1.5v1.7h-1.5zM300.1 220.2h2.7v1.7h-2.7zM99.7 219.1h8.7v1.7h-8.7zM109.2 219.1h1.5v1.7h-1.5zM111.6 219.1h1.5v1.7h-1.5zM183.2 219.1h6.3v1.7h-6.3zM190.4 219.1h5.1v1.7h-5.1zM196.3 219.1h5.1v1.7h-5.1zM202.3 219.1h2.7v1.7h-2.7zM269.1 219.1h1.5v1.7h-1.5zM271.5 219.1h2.7v1.7h-2.7zM278.6 219.1h7.5v1.7h-7.5zM287.0 219.1h1.5v1.7h-1.5zM289.4 219.1h1.5v1.7h-1.5zM99.7 218.1h14.6v1.7h-14.6zM184.4 218.1h2.7v1.7h-2.7zM189.2 218.1h12.2v1.7h-12.2zM202.3 218.1h3.9v1.7h-3.9zM267.9 218.1h7.5v1.7h-7.5zM278.6 218.1h2.7v1.7h-2.7zM282.2 218.1h6.3v1.7h-6.3zM99.7 217.1h1.5v1.7h-1.5zM102.1 217.1h12.2v1.7h-12.2zM183.2 217.1h20.6v1.7h-20.6zM267.9 217.1h2.7v1.7h-2.7zM271.4 217.1h2.7v1.7h-2.7zM278.6 217.1h9.8v1.7h-9.8zM100.9 216.1h2.7v1.7h-2.7zM104.5 216.1h11.0v1.7h-11.0zM185.6 216.1h1.5v1.7h-1.5zM188.0 216.1h6.3v1.7h-6.3zM195.1 216.1h8.6v1.7h-8.6zM266.6 216.1h7.5v1.7h-7.5zM281.0 216.1h1.5v1.7h-1.5zM283.3 216.1h5.1v1.7h-5.1zM101.0 215.1h2.7v1.7h-2.7zM104.5 215.1h2.7v1.7h-2.7zM108.1 215.1h7.5v1.7h-7.5zM183.2 215.1h3.9v1.7h-3.9zM188.0 215.1h3.9v1.7h-3.9zM192.7 215.1h6.3v1.7h-6.3zM199.9 215.1h2.7v1.7h-2.7zM211.8 215.1h1.5v1.7h-1.5zM265.4 215.1h3.9v1.7h-3.9zM270.2 215.1h1.5v1.7h-1.5zM272.6 215.1h1.5v1.7h-1.5zM283.3 215.1h5.1v1.7h-5.1zM101.0 214.1h11.0v1.7h-11.0zM112.9 214.1h1.5v1.7h-1.5zM115.3 214.1h1.5v1.7h-1.5zM182.0 214.1h5.1v1.7h-5.1zM188.0 214.1h14.6v1.7h-14.6zM265.4 214.1h3.9v1.7h-3.9zM270.2 214.1h3.9v1.7h-3.9zM283.3 214.1h6.3v1.7h-6.3zM101.0 213.1h2.7v1.7h-2.7zM104.6 213.1h9.8v1.7h-9.8zM115.3 213.1h1.5v1.7h-1.5zM118.9 213.1h1.5v1.7h-1.5zM166.5 213.1h1.5v1.7h-1.5zM172.5 213.1h1.5v1.7h-1.5zM180.8 213.1h20.5v1.7h-20.5zM208.2 213.1h3.9v1.7h-3.9zM213.0 213.1h1.5v1.7h-1.5zM270.1 213.1h3.9v1.7h-3.9zM284.4 213.1h1.5v1.7h-1.5zM286.8 213.1h1.5v1.7h-1.5zM292.7 213.1h2.7v1.7h-2.7zM99.9 212.1h2.7v1.7h-2.7zM103.4 212.1h2.7v1.7h-2.7zM107.0 212.1h5.1v1.7h-5.1zM113.0 212.1h1.5v1.7h-1.5zM162.9 212.1h1.5v1.7h-1.5zM168.9 212.1h1.5v1.7h-1.5zM179.6 212.1h7.4v1.7h-7.4zM187.9 212.1h6.3v1.7h-6.3zM196.3 212.1h2.7v1.7h-2.7zM209.4 212.1h3.9v1.7h-3.9zM214.1 212.1h1.5v1.7h-1.5zM268.9 212.1h3.9v1.7h-3.9zM285.5 212.1h1.5v1.7h-1.5zM292.7 212.1h3.9v1.7h-3.9zM97.5 211.0h1.5v1.7h-1.5zM99.9 211.0h9.8v1.7h-9.8zM110.6 211.0h1.5v1.7h-1.5zM161.8 211.0h3.9v1.7h-3.9zM167.7 211.0h1.5v1.7h-1.5zM182.0 211.0h1.5v1.7h-1.5zM185.6 211.0h1.5v1.7h-1.5zM187.9 211.0h1.5v1.7h-1.5zM198.6 211.0h1.5v1.7h-1.5zM209.3 211.0h1.5v1.7h-1.5zM214.1 211.0h1.5v1.7h-1.5zM267.6 211.0h3.9v1.7h-3.9zM291.4 211.0h1.5v1.7h-1.5zM100.0 210.0h1.5v1.7h-1.5zM103.5 210.0h6.2v1.7h-6.2zM161.8 210.0h2.7v1.7h-2.7zM208.1 210.0h1.5v1.7h-1.5zM247.4 210.0h2.7v1.7h-2.7zM250.9 210.0h1.5v1.7h-1.5zM267.6 210.0h2.7v1.7h-2.7zM274.7 210.0h1.5v1.7h-1.5zM291.3 210.0h3.9v1.7h-3.9zM92.9 209.0h2.7v1.7h-2.7zM102.4 209.0h1.5v1.7h-1.5zM104.8 209.0h3.9v1.7h-3.9zM111.9 209.0h1.5v1.7h-1.5zM160.6 209.0h6.2v1.7h-6.2zM208.1 209.0h2.7v1.7h-2.7zM247.3 209.0h3.9v1.7h-3.9zM267.5 209.0h2.7v1.7h-2.7zM274.6 209.0h2.7v1.7h-2.7zM292.4 209.0h2.7v1.7h-2.7zM93.0 208.0h3.9v1.7h-3.9zM104.8 208.0h1.5v1.7h-1.5zM108.4 208.0h1.5v1.7h-1.5zM160.6 208.0h5.0v1.7h-5.0zM208.1 208.0h1.5v1.7h-1.5zM247.2 208.0h1.5v1.7h-1.5zM249.6 208.0h1.5v1.7h-1.5zM268.6 208.0h1.5v1.7h-1.5zM272.2 208.0h6.2v1.7h-6.2zM290.0 208.0h5.0v1.7h-5.0zM91.9 207.0h3.9v1.7h-3.9zM159.4 207.0h6.2v1.7h-6.2zM206.9 207.0h1.5v1.7h-1.5zM209.2 207.0h1.5v1.7h-1.5zM248.4 207.0h2.7v1.7h-2.7zM268.5 207.0h1.5v1.7h-1.5zM272.1 207.0h7.4v1.7h-7.4zM289.9 207.0h5.0v1.7h-5.0zM91.9 206.0h3.9v1.7h-3.9zM160.6 206.0h5.0v1.7h-5.0zM208.0 206.0h1.5v1.7h-1.5zM247.1 206.0h3.9v1.7h-3.9zM267.2 206.0h9.8v1.7h-9.8zM277.9 206.0h1.5v1.7h-1.5zM290.9 206.0h3.9v1.7h-3.9zM88.5 205.0h8.6v1.7h-8.6zM160.7 205.0h1.5v1.7h-1.5zM245.8 205.0h1.5v1.7h-1.5zM250.6 205.0h1.5v1.7h-1.5zM268.3 205.0h10.9v1.7h-10.9zM288.4 205.0h3.8v1.7h-3.8zM87.4 204.0h9.8v1.7h-9.8zM250.5 204.0h1.5v1.7h-1.5zM267.0 204.0h2.7v1.7h-2.7zM270.6 204.0h1.5v1.7h-1.5zM272.9 204.0h6.2v1.7h-6.2zM288.3 204.0h2.7v1.7h-2.7zM86.3 203.0h8.6v1.7h-8.6zM270.5 203.0h6.2v1.7h-6.2zM288.2 203.0h2.7v1.7h-2.7zM81.7 201.9h3.8v1.7h-3.8zM86.4 201.9h2.7v1.7h-2.7zM90.0 201.9h2.7v1.7h-2.7zM243.2 201.9h1.5v1.7h-1.5zM270.3 201.9h7.4v1.7h-7.4zM288.0 201.9h2.7v1.7h-2.7zM79.5 200.9h2.7v1.7h-2.7zM83.0 200.9h1.5v1.7h-1.5zM85.4 200.9h7.4v1.7h-7.4zM244.3 200.9h1.5v1.7h-1.5zM270.2 200.9h6.2v1.7h-6.2zM287.8 200.9h2.7v1.7h-2.7zM83.2 199.9h2.7v1.7h-2.7zM86.7 199.9h3.8v1.7h-3.8zM91.4 199.9h1.5v1.7h-1.5zM100.8 199.9h2.7v1.7h-2.7zM105.5 199.9h1.5v1.7h-1.5zM243.0 199.9h2.7v1.7h-2.7zM251.2 199.9h1.5v1.7h-1.5zM271.2 199.9h3.8v1.7h-3.8zM287.7 199.9h2.7v1.7h-2.7zM81.0 198.9h5.0v1.7h-5.0zM89.2 198.9h3.8v1.7h-3.8zM278.1 198.9h1.5v1.7h-1.5zM82.3 197.9h2.6v1.7h-2.6zM89.3 197.9h3.8v1.7h-3.8zM242.8 197.9h2.6v1.7h-2.6zM248.7 197.9h1.5v1.7h-1.5zM255.7 197.9h1.5v1.7h-1.5zM262.7 197.9h1.5v1.7h-1.5zM277.9 197.9h1.5v1.7h-1.5zM90.6 196.9h3.8v1.7h-3.8zM103.5 196.9h1.5v1.7h-1.5zM255.6 196.9h1.5v1.7h-1.5zM262.6 196.9h2.6v1.7h-2.6zM277.8 196.9h1.5v1.7h-1.5zM97.8 195.9h2.6v1.7h-2.6zM256.6 195.9h1.5v1.7h-1.5zM258.9 195.9h1.5v1.7h-1.5zM261.3 195.9h1.5v1.7h-1.5zM256.4 194.9h7.3v1.7h-7.3zM258.6 193.9h5.0v1.7h-5.0zM259.6 192.8h2.6v1.7h-2.6zM263.1 192.8h3.8v1.7h-3.8zM259.4 191.8h6.1v1.7h-6.1zM259.2 190.8h6.1v1.7h-6.1zM259.0 189.8h4.9v1.7h-4.9zM260.0 188.8h2.6v1.7h-2.6zM263.4 188.8h1.5v1.7h-1.5zM87.9 186.8h1.4v1.7h-1.4zM292.6 183.7h4.8v1.7h-4.8zM95.9 182.7h1.4v1.7h-1.4zM293.3 182.7h1.4v1.7h-1.4zM295.6 182.7h2.6v1.7h-2.6zM294.0 181.7h8.2v1.7h-8.2zM296.9 180.7h4.8v1.7h-4.8zM296.4 179.7h4.8v1.7h-4.8zM299.2 178.7h2.5v1.7h-2.5zM298.7 177.7h2.5v1.7h-2.5zM298.1 176.7h2.5v1.7h-2.5zM191.2 174.7h1.4v1.7h-1.4zM186.6 170.7h1.4v1.7h-1.4zM69.9 169.7h1.4v1.7h-1.4zM70.1 167.7h1.3v1.7h-1.3zM129.8 167.7h1.3v1.7h-1.3zM70.7 166.7h2.4v1.7h-2.4zM129.0 166.7h1.3v1.7h-1.3zM69.4 165.8h3.4v1.7h-3.4zM71.1 164.8h2.4v1.7h-2.4zM70.8 163.8h2.3v1.7h-2.3zM166.7 163.8h1.3v1.7h-1.3zM70.5 162.9h1.3v1.7h-1.3zM166.7 162.9h1.3v1.7h-1.3zM68.3 161.9h1.3v1.7h-1.3zM70.3 161.9h1.3v1.7h-1.3zM167.8 161.9h1.3v1.7h-1.3zM70.1 160.9h1.3v1.7h-1.3zM72.1 160.9h2.3v1.7h-2.3zM167.9 160.9h1.3v1.7h-1.3zM69.9 160.0h2.3v1.7h-2.3zM69.8 159.0h2.3v1.6h-2.3zM69.7 158.1h3.2v1.6h-3.2zM170.0 158.1h1.3v1.6h-1.3zM69.6 157.2h2.2v1.6h-2.2zM67.7 156.2h1.3v1.6h-1.3zM69.6 156.2h1.3v1.6h-1.3zM65.8 155.3h1.2v1.6h-1.2zM178.6 154.4h1.2v1.6h-1.2zM178.6 153.5h1.2v1.6h-1.2z"/></g>
<path d="M54.0 151.2L58.5 148.7L62.3 147.7L67.0 146.4L69.3 146.0L71.7 146.4L74.0 146.8L77.8 147.5L79.9 148.0L82.2 147.6L85.2 147.1L87.5 146.8L89.1 147.3L91.6 147.5L93.8 148.0L94.8 148.8L97.0 149.0L99.1 148.7L99.3 149.6L102.0 148.9L103.5 149.2L105.9 148.9L107.4 148.4L109.0 147.3L111.3 145.5L112.0 145.8L111.6 147.1L112.1 147.7L112.3 148.4L113.4 148.8L113.2 149.5L115.2 148.4L116.5 147.4L118.2 147.4L118.2 148.4L116.9 149.6L115.3 150.5L113.4 150.6L112.1 151.5L110.3 152.5L108.1 153.1L105.5 154.6L103.5 156.1L101.9 157.8L103.2 158.0L102.5 159.6L104.5 159.6L105.9 160.6L107.4 161.3L109.5 161.5L108.4 163.7L108.8 164.9L109.5 165.5L110.8 164.5L111.5 162.6L111.5 161.8L113.5 161.0L115.0 159.6L115.3 158.1L115.4 156.6L116.5 155.1L117.1 154.2L119.4 154.4L121.1 155.4L122.2 155.8L121.3 157.6L122.3 158.3L123.7 157.8L125.1 156.8L125.9 156.3L126.4 158.0L126.7 159.4L127.0 161.0L128.7 161.9L129.0 163.0L129.6 164.4L128.5 165.2L126.6 165.7L125.4 166.5L122.9 166.6L120.0 166.6L117.9 167.8L115.8 169.6L117.1 168.9L119.1 167.9L121.2 167.7L121.0 168.5L119.9 169.1L120.2 169.9L120.1 170.8L121.4 171.2L122.6 171.3L123.8 170.1L124.1 171.0L122.7 171.7L120.6 172.5L118.5 173.5L118.1 172.8L119.5 171.8L118.2 171.9L117.1 172.5L115.7 173.0L114.5 173.5L113.6 174.6L114.0 175.4L112.8 175.8L111.6 176.2L110.1 176.7L109.7 177.8L108.6 178.7L107.7 179.9L107.0 180.7L107.1 182.3L105.9 183.1L104.5 183.9L103.1 184.8L101.5 185.9L100.6 187.5L100.8 189.9L100.9 191.6L100.5 193.1L99.7 193.3L99.3 192.1L98.7 190.6L98.9 189.2L98.0 188.1L96.7 188.5L95.8 187.7L94.4 187.8L93.0 187.9L93.0 189.1L91.9 189.0L90.6 188.6L88.8 188.5L87.5 189.3L85.5 190.5L84.8 192.5L84.0 194.6L83.7 196.4L83.9 198.1L84.6 199.7L85.7 200.4L86.6 200.9L88.5 200.4L89.7 199.8L90.4 198.0L92.2 197.3L93.7 197.3L92.9 199.4L92.4 200.8L91.8 202.2L91.2 203.3L92.3 203.5L93.8 203.3L95.4 203.5L96.3 204.3L95.8 206.5L95.5 208.6L96.1 209.7L96.8 210.8L98.0 211.0L99.2 210.3L100.4 210.4L101.5 211.2L101.9 211.9L102.8 210.5L103.3 209.2L104.0 208.6L105.7 208.2L107.0 207.1L107.4 207.9L106.8 208.6L107.1 210.5L107.6 208.8L108.6 208.1L108.6 207.3L109.3 208.1L110.2 209.1L112.3 209.1L113.7 209.5L116.1 209.0L116.2 209.7L117.2 211.3L118.9 211.9L120.2 213.7L122.6 214.1L124.7 214.8L125.9 215.9L126.8 218.3L127.3 219.9L126.3 221.0L128.4 220.7L129.2 221.4L131.1 221.8L132.6 223.2L134.9 223.5L136.8 223.5L138.3 224.5L139.7 225.7L141.4 226.1L141.9 228.1L141.7 230.2L140.3 231.8L139.4 233.2L138.5 234.5L138.1 236.7L138.3 239.4L137.7 241.5L136.9 243.7L135.8 245.3L134.4 245.3L133.1 246.1L131.7 246.6L130.5 247.8L130.0 249.1L130.1 251.0L129.2 252.9L128.3 254.5L127.4 256.1L126.6 257.4L125.5 258.2L123.6 257.8L122.3 257.4L123.7 259.1L124.2 260.0L123.8 261.7L121.9 262.5L120.0 262.5L120.4 264.3L119.2 264.9L118.1 264.7L118.5 266.1L119.7 266.3L118.7 267.4L119.0 269.0L117.6 270.0L119.3 271.4L119.7 272.3L118.9 273.9L118.1 274.9L118.5 276.0L119.3 276.7L119.8 277.5L121.2 278.6L122.9 279.1L122.0 279.5L120.6 279.9L118.9 279.6L117.3 278.7L115.6 277.7L114.2 276.5L112.9 274.8L111.9 273.0L112.3 271.7L111.0 270.8L111.8 269.3L111.9 267.9L111.7 266.0L110.6 265.5L110.3 264.2L110.3 263.1L109.4 260.7L109.7 258.9L110.0 256.3L109.6 253.4L109.3 251.2L109.5 248.5L109.4 245.9L109.3 243.2L108.9 240.3L107.7 239.2L105.7 238.2L104.0 237.0L102.8 235.4L101.8 233.4L100.6 231.3L99.8 229.3L98.8 227.7L97.6 227.0L97.5 225.4L98.4 224.2L98.8 223.2L97.8 222.9L98.0 221.6L98.6 220.0L99.6 219.2L99.8 218.6L101.0 217.0L101.4 216.2L101.2 214.6L101.3 213.3L100.8 212.7L101.1 212.0L100.5 211.5L99.4 210.8L98.6 211.7L98.4 212.6L97.4 212.2L96.2 211.7L95.6 211.3L94.4 209.9L93.5 209.6L93.7 208.6L92.6 206.8L92.0 206.2L90.3 205.9L88.4 205.4L87.1 204.1L85.9 203.0L84.4 203.6L82.6 203.0L80.8 202.2L79.1 201.1L77.3 200.0L76.1 198.7L76.5 197.3L75.7 195.4L74.7 193.5L73.8 191.9L73.0 190.8L72.1 189.2L71.8 187.1L70.5 186.3L70.0 188.1L71.0 189.8L71.5 191.4L72.0 193.0L72.6 194.6L72.9 195.6L72.4 195.8L70.9 193.9L70.4 191.9L69.4 190.6L69.5 188.7L69.0 187.4L68.7 185.4L68.1 184.0L66.4 183.3L66.1 181.1L66.1 179.7L65.8 177.9L65.9 176.9L66.9 175.2L68.6 172.6L69.7 170.8L70.6 168.4L71.9 168.7L71.7 169.6L72.6 167.8L71.9 166.8L70.6 165.7L70.9 164.2L70.8 162.3L71.0 161.1L70.4 159.6L70.1 158.3L69.0 157.8L68.5 156.8L66.0 156.6L64.6 155.8L62.2 156.6L58.8 157.3L62.0 155.4L59.3 156.1L56.0 158.1L52.4 159.6L49.7 160.6L46.9 161.4L44.8 161.9L43.2 162.0L46.8 160.8L49.2 160.0L52.9 158.4L54.0 157.8L52.1 158.1L50.0 157.9L51.5 156.6L50.1 155.9L50.9 154.6L53.0 153.7L56.6 153.1L57.6 152.2L56.2 152.2L53.9 152.1L54.0 151.2ZM130.4 140.1L134.7 138.8L140.6 137.4L149.5 136.9L158.2 136.4L163.5 137.5L168.1 137.7L164.2 139.1L163.2 141.1L162.1 142.8L160.4 144.9L160.0 146.7L157.7 148.0L154.0 148.8L151.6 149.9L148.4 151.1L146.0 151.7L143.8 154.1L141.8 156.6L140.2 155.9L138.5 155.4L137.8 153.2L137.5 151.3L137.0 149.9L138.0 148.5L139.8 147.6L137.8 146.7L138.4 144.9L138.1 143.2L137.0 141.9L133.2 141.9L131.0 141.5L131.1 140.7ZM127.3 153.7L125.7 154.6L124.4 154.1L122.7 153.2L121.1 152.2L118.3 151.9L119.5 151.3L121.6 151.3L122.7 150.0L123.8 148.9L122.3 148.0L120.8 147.1L117.4 147.1L115.4 146.2L115.1 145.3L116.6 144.0L119.4 143.8L122.0 143.9L124.0 144.6L125.3 145.5L126.9 146.2L128.1 146.9L128.5 148.0L129.8 149.4L131.2 150.1L129.0 151.7ZM96.2 145.8L100.8 144.6L104.5 144.3L105.1 145.3L105.4 147.1L102.7 148.2L99.8 148.3L96.2 148.4L94.8 147.7L94.9 146.7ZM91.3 145.3L95.2 143.4L98.6 143.4L98.4 144.5L95.2 145.5L92.2 146.0ZM118.5 141.5L121.5 139.9L120.9 138.4L124.5 137.4L132.7 136.7L139.2 137.1L139.1 137.7L135.0 138.4L131.0 139.5L127.4 140.7L124.6 141.7L121.6 141.5ZM116.8 141.9L118.2 142.3L123.3 143.1L124.1 142.2L121.4 141.7L117.4 141.3ZM100.5 142.8L104.3 141.8L107.9 141.9L106.9 142.8L103.9 143.1L101.3 143.1ZM111.0 145.1L112.6 143.8L115.6 143.7L115.1 144.6L112.8 145.3ZM106.7 145.3L108.7 144.0L111.1 143.9L110.1 145.3L107.8 146.0ZM111.3 152.7L113.0 151.3L114.6 151.0L115.8 152.5L115.0 153.2L112.6 153.5ZM117.2 139.9L120.3 138.4L122.8 138.8L122.1 139.9ZM125.1 169.3L126.7 167.6L128.1 165.9L129.5 165.1L128.8 166.8L130.2 167.4L130.5 168.9L130.1 170.2L128.5 170.0L127.9 169.3ZM95.6 197.0L97.6 195.8L98.3 195.5L100.4 195.7L102.6 197.0L104.3 198.1L105.5 198.7L104.7 199.0L102.3 199.0L102.0 198.2L100.7 197.2L98.5 196.3L97.0 196.8ZM105.1 200.7L106.3 199.0L108.0 199.0L109.5 199.5L110.7 200.4L109.2 200.8L107.7 201.4L106.4 200.9ZM101.4 200.7L102.6 200.5L103.3 201.1L102.4 201.3ZM111.8 200.7L113.2 200.7L113.2 201.1L111.8 201.1ZM69.3 165.9L71.0 166.2L71.9 167.3L71.6 168.4L70.3 167.9L69.4 166.8ZM169.7 181.9L170.2 181.8L172.3 182.4L173.2 182.6L175.0 181.9L175.9 181.1L177.7 180.8L179.5 180.8L181.7 180.6L183.7 180.3L184.2 180.8L184.8 180.6L184.5 181.9L184.9 182.5L184.2 183.5L184.1 184.0L185.0 184.6L185.9 185.1L187.0 185.0L188.8 185.7L189.1 186.5L191.0 187.2L192.4 187.8L193.3 187.1L193.2 185.7L194.5 185.0L195.9 185.3L197.8 186.3L199.6 186.7L201.5 187.2L202.8 186.6L204.5 186.7L204.8 188.1L204.9 188.7L205.9 190.5L206.4 191.7L207.5 193.7L208.2 195.1L209.4 196.8L209.8 198.4L210.0 199.4L211.2 201.1L212.3 203.7L213.8 204.9L215.3 206.5L215.9 207.0L216.1 208.1L217.3 209.3L218.7 208.8L220.6 208.5L222.4 208.1L223.6 207.8L223.4 209.3L223.0 210.8L222.1 212.9L221.2 215.1L219.8 217.3L218.2 218.3L216.5 220.0L215.1 221.6L214.1 222.7L213.2 223.7L212.9 224.8L212.2 226.4L212.4 227.8L212.6 229.7L213.0 231.6L213.4 232.4L213.5 234.5L213.5 236.7L212.2 238.3L210.3 239.4L209.3 240.8L207.8 241.9L208.0 243.7L208.1 245.9L206.1 247.7L205.3 248.5L205.3 250.2L204.4 251.8L203.4 252.9L201.9 254.8L200.4 256.1L198.2 257.2L195.3 257.4L193.0 258.0L191.7 257.4L191.3 255.8L191.7 254.5L190.6 252.3L190.2 251.4L189.1 249.6L188.7 247.5L188.5 245.1L187.6 243.2L186.7 240.8L186.1 239.1L186.1 237.2L186.8 235.6L187.7 234.0L188.1 232.4L187.6 230.2L187.4 228.6L186.7 227.0L186.4 225.7L185.5 224.6L184.1 223.0L183.6 221.6L183.9 220.2L184.3 218.9L184.3 217.3L184.2 216.2L183.1 215.6L181.7 215.8L180.7 215.9L179.8 214.2L179.3 213.7L178.2 213.6L176.4 213.8L175.0 214.4L173.6 215.1L173.1 215.3L172.1 215.0L170.7 214.9L169.3 215.3L167.8 215.8L166.4 215.1L164.7 213.7L163.1 212.4L162.4 211.3L162.0 210.3L160.8 208.8L159.8 207.8L159.2 207.0L159.2 205.9L158.5 204.6L159.4 203.2L159.8 201.1L159.5 199.5L159.1 197.8L159.9 196.2L160.1 194.9L161.1 194.1L161.6 192.2L162.8 190.5L164.4 189.8L165.8 188.7L166.1 187.6L166.1 186.5L166.8 185.2L168.1 184.3L169.1 183.5ZM221.8 233.4L222.5 237.2L221.6 239.4L220.7 242.1L219.6 245.3L218.6 247.5L216.9 248.0L215.9 247.5L215.5 245.9L215.7 243.7L216.5 242.1L216.4 239.9L217.0 238.0L218.7 237.4L220.2 236.4L220.9 235.1ZM170.0 181.7L169.4 180.9L168.4 180.4L167.1 180.6L167.2 179.0L166.6 178.7L167.2 176.8L167.3 175.2L167.0 174.2L168.1 173.4L170.0 173.5L171.7 173.6L173.4 173.7L173.9 172.6L174.1 171.3L173.3 169.9L172.6 169.4L171.2 169.0L171.1 168.3L172.5 168.0L173.7 168.1L173.6 167.1L175.0 167.4L175.2 167.1L176.2 166.6L176.4 165.7L177.9 165.2L178.5 164.5L178.9 163.7L179.8 163.2L180.6 163.0L181.8 162.8L181.9 161.6L181.5 161.0L181.4 159.6L182.6 159.1L183.3 158.9L183.2 160.1L183.5 160.4L183.2 161.1L182.8 161.6L183.0 162.1L183.8 162.6L184.6 162.4L185.8 162.1L186.5 162.6L187.8 162.3L189.8 161.9L190.8 162.1L191.7 161.4L191.5 160.1L191.8 159.1L192.5 158.9L193.8 159.4L193.9 158.3L193.0 157.4L194.1 157.1L196.4 157.0L198.0 156.7L196.6 156.0L194.7 156.2L194.0 156.5L192.5 156.7L191.1 155.8L191.1 154.6L190.7 153.7L191.5 152.9L192.8 151.9L193.2 151.3L192.3 151.0L191.0 151.1L190.7 152.2L190.1 153.0L188.7 153.7L188.1 154.6L188.0 155.8L189.1 156.3L189.4 157.1L188.8 157.6L188.0 158.6L187.9 159.6L187.6 160.4L186.5 160.6L186.3 161.2L185.3 161.2L185.0 160.6L184.8 159.8L184.2 158.9L183.6 157.6L183.2 157.1L182.3 157.7L181.2 158.5L180.0 158.5L179.2 157.8L178.8 156.3L178.7 154.8L179.8 153.9L181.3 153.2L182.6 152.8L183.3 151.7L184.0 150.8L184.9 149.6L185.8 148.7L187.1 147.8L188.1 147.3L190.0 146.8L191.3 146.2L192.5 146.1L194.0 146.2L196.2 146.8L195.6 147.4L197.8 147.7L200.0 148.0L203.1 149.1L204.2 150.1L203.6 150.6L202.2 150.7L199.6 150.3L198.1 149.9L199.9 151.3L200.6 152.4L202.5 152.9L202.7 152.3L204.5 152.2L203.9 151.3L205.0 150.5L206.5 150.6L206.1 149.4L205.4 148.5L207.3 148.9L208.1 150.0L208.8 149.3L212.0 148.5L212.8 148.8L214.7 148.4L216.7 148.2L216.6 147.3L219.3 147.7L221.6 148.2L222.9 148.7L221.1 147.4L220.3 146.2L220.6 144.9L221.2 144.5L223.2 144.9L224.3 146.2L225.0 148.0L225.9 148.9L227.3 150.0L227.3 148.9L226.1 147.6L224.8 146.2L225.2 145.3L226.9 144.9L228.9 145.3L230.6 146.2L231.6 146.7L229.5 144.9L227.8 144.0L231.3 143.2L232.4 142.3L235.1 141.9L237.8 141.5L239.1 140.5L241.7 141.1L244.7 141.5L247.4 142.3L248.6 143.6L246.9 143.8L249.2 144.0L252.4 144.0L256.0 144.0L258.9 144.5L259.0 145.1L262.2 145.8L264.6 145.8L267.5 146.0L268.1 144.9L271.7 145.1L276.0 145.8L280.0 146.2L284.7 147.1L286.6 147.5L290.2 147.1L291.9 147.1L293.7 148.0L296.0 147.3L299.9 148.0L305.5 151.7L305.5 152.2L304.1 152.0L308.3 153.9L306.1 154.8L304.9 155.6L304.6 156.6L301.5 156.6L301.4 158.1L303.3 160.1L304.1 161.6L304.4 163.5L304.2 164.7L303.9 165.7L301.4 163.7L298.4 161.1L297.1 159.1L296.8 157.1L297.1 156.1L297.2 154.6L295.2 155.1L292.6 155.1L293.7 157.1L291.9 157.6L289.1 157.1L286.3 157.3L284.6 157.6L284.2 159.1L284.6 161.6L285.3 162.8L286.7 162.6L288.9 163.3L290.3 164.7L291.0 166.2L292.4 168.3L292.4 170.4L291.7 172.6L290.2 174.4L288.9 173.9L288.6 174.9L288.5 176.3L288.6 176.8L287.4 177.6L287.5 178.2L288.8 179.0L290.4 180.6L291.2 182.2L291.0 182.6L289.9 183.1L288.9 183.3L288.3 181.7L287.9 180.4L286.6 179.7L285.8 179.0L285.5 177.9L284.3 177.4L283.1 178.1L282.3 178.7L282.0 176.8L280.9 176.4L280.2 177.6L279.2 178.2L279.3 179.0L280.6 179.7L281.5 180.4L282.4 179.7L284.1 180.2L283.2 181.1L282.8 181.7L282.3 182.7L283.4 183.8L284.6 185.1L285.9 186.2L286.4 187.2L285.6 187.8L286.9 188.4L286.8 189.8L286.3 191.0L285.9 192.5L285.4 193.6L284.7 194.3L283.9 195.4L282.3 196.0L281.4 196.4L280.6 196.8L278.8 197.4L278.2 197.6L278.3 198.6L277.7 197.4L276.4 197.1L275.1 197.8L274.8 198.7L274.3 199.7L274.4 200.5L275.8 202.2L277.2 203.2L278.1 204.9L278.5 206.5L278.7 207.8L277.5 208.8L276.6 209.3L276.4 210.3L275.1 211.1L274.7 211.2L274.8 209.7L273.8 209.2L272.7 208.3L272.2 207.4L270.7 206.8L270.5 205.9L269.7 206.2L269.7 207.6L269.3 208.6L269.4 210.3L270.1 211.1L270.7 212.7L271.9 213.3L272.6 213.9L273.6 215.3L273.7 217.3L274.4 219.0L273.8 219.1L272.3 218.0L271.6 217.3L271.0 215.9L270.6 214.6L270.2 213.2L269.5 212.4L268.5 211.9L268.6 209.7L268.6 207.6L267.7 205.4L267.2 203.5L266.9 202.6L265.7 202.6L264.9 203.5L264.0 203.2L263.9 201.3L263.0 199.5L261.9 198.4L261.0 197.0L260.6 196.2L259.5 196.4L258.2 197.0L256.8 197.2L256.4 198.2L256.1 198.9L254.8 199.8L254.0 200.9L252.7 202.4L251.7 203.2L250.8 204.0L251.1 206.4L250.8 207.8L250.9 209.4L250.1 210.5L249.4 211.0L248.7 211.8L247.7 210.8L247.2 209.2L246.6 207.8L245.9 206.5L245.2 204.5L244.3 203.0L243.7 201.1L243.4 200.0L243.1 198.4L242.9 197.1L242.6 197.8L241.5 198.1L240.5 197.6L239.4 196.4L240.5 195.9L239.1 195.4L238.5 194.8L237.6 194.1L236.9 193.5L234.9 193.2L232.6 193.3L230.7 193.2L228.8 192.9L227.9 191.6L227.2 191.2L225.9 191.7L224.5 191.6L223.5 190.8L222.3 190.3L221.7 189.2L220.8 187.9L219.7 187.7L219.4 188.1L219.0 188.7L219.7 189.8L220.7 191.0L221.5 191.9L222.0 193.0L222.5 192.5L222.8 193.2L222.7 194.1L223.8 194.4L225.2 194.4L226.3 193.2L227.0 192.2L227.5 193.5L228.0 194.6L229.5 195.0L230.8 196.2L230.0 198.4L229.3 200.0L228.6 201.1L227.1 201.8L225.9 202.2L224.3 203.2L222.2 204.3L220.4 205.4L217.6 206.7L216.2 206.8L215.7 205.4L215.3 203.8L215.1 202.4L213.7 200.5L212.5 198.6L211.7 197.3L210.9 195.1L209.7 193.9L208.8 192.5L207.8 190.8L207.1 190.1L207.1 188.7L206.6 190.5L205.5 189.4L204.8 188.1L204.5 186.7L206.2 186.7L206.8 185.1L207.1 183.9L207.1 182.2L207.3 180.9L205.8 180.9L204.6 181.6L203.6 181.3L202.4 180.8L201.4 181.3L200.0 180.9L199.3 180.4L198.9 179.2L198.2 178.1L198.0 177.4L199.1 176.9L200.4 176.8L200.4 176.2L202.5 176.1L204.2 175.2L205.5 175.2L206.9 176.0L208.7 176.4L210.0 176.3L211.2 175.8L211.0 174.5L209.5 173.6L207.6 172.6L206.6 171.8L207.3 171.0L208.1 169.7L206.7 169.9L204.9 170.7L204.8 171.5L206.2 171.7L205.2 172.0L204.2 172.7L203.7 172.5L202.9 171.5L203.5 171.0L202.2 170.8L201.3 170.3L200.6 171.5L200.3 172.0L199.7 172.9L199.2 173.9L199.2 174.9L199.6 175.7L200.3 176.1L199.1 176.3L198.2 176.7L197.8 176.5L196.9 176.4L196.0 176.6L195.7 177.4L195.0 176.8L195.1 178.1L195.8 179.0L196.3 179.5L196.1 179.6L195.5 180.0L195.7 181.1L195.0 181.1L194.4 180.8L193.9 179.7L193.8 179.2L193.4 178.4L192.6 177.6L192.0 176.8L192.0 175.8L191.5 175.0L190.1 174.2L188.8 173.5L187.9 172.6L187.2 171.7L186.6 172.0L186.7 171.3L185.5 171.6L185.6 172.6L186.7 173.5L187.3 174.7L188.9 175.3L189.7 176.1L190.8 176.7L191.3 177.3L190.2 176.9L189.7 177.6L190.1 178.4L189.6 179.1L188.9 179.5L189.2 178.7L188.9 177.6L188.2 177.2L187.5 176.5L186.4 176.0L185.6 175.4L184.5 174.7L183.9 173.6L183.3 173.0L182.6 172.7L181.9 173.2L181.3 173.4L180.2 174.1L179.1 173.7L178.0 173.8L177.6 174.7L177.8 175.3L176.9 175.9L175.7 176.5L175.0 177.6L174.7 178.0L175.2 178.7L174.6 179.2L174.3 179.9L173.0 180.9L171.1 180.9L170.3 181.6ZM49.9 148.1L51.2 148.7L52.2 149.9L53.3 150.6L49.1 152.3L47.3 152.0L46.3 151.3L44.8 151.6M170.3 166.7L172.1 166.5L173.8 166.0L176.1 165.5L176.4 164.0L175.2 163.7L174.8 162.6L173.8 161.6L173.4 160.6L173.0 160.1L173.4 159.0L171.9 158.9L172.7 158.0L171.1 158.0L170.5 159.1L170.1 160.1L170.6 161.1L171.2 161.8L172.4 161.8L172.6 163.1L171.4 163.3L171.5 164.5L170.7 164.9L172.1 165.3L172.5 165.5L171.3 165.8ZM169.9 164.5L170.0 163.3L170.4 162.1L169.8 161.4L168.5 161.4L168.2 162.2L167.0 162.4L167.1 163.3L167.3 164.2L166.6 164.9L167.2 165.2L168.5 164.9ZM157.5 151.3L158.9 150.4L160.7 150.8L162.1 150.6L163.6 150.3L164.5 150.8L165.2 151.6L164.2 152.4L162.5 153.0L161.0 153.3L159.6 152.9L158.4 152.8L158.9 152.3L157.6 151.8L158.7 151.5ZM181.6 139.1L183.9 138.8L187.4 138.6L191.0 138.8L189.5 139.5L186.6 139.9L188.2 140.3L186.3 141.3L184.3 141.1L183.3 140.3ZM202.1 138.4L205.3 138.1L209.7 137.7L212.3 138.1L209.3 138.6L204.6 138.8ZM209.6 145.6L209.8 144.0L211.0 142.8L213.4 141.7L217.4 141.1L218.3 141.5L214.7 142.6L212.8 143.6L212.3 145.1L214.1 146.5L211.3 146.4ZM232.3 139.5L231.6 138.1L236.2 138.4L238.9 139.5L238.6 140.1L235.7 140.3ZM262.8 142.6L263.0 141.9L268.0 142.3L271.4 142.8L269.5 143.2L267.6 143.6L264.3 143.2ZM296.0 146.2L296.2 145.8L297.1 146.3M53.8 145.8L55.2 146.0L52.9 146.3M292.8 184.4L292.6 184.9L293.8 186.7L294.2 187.1L294.7 186.6L294.5 184.9L294.8 184.6L295.7 185.1L296.8 184.0L297.8 184.4L298.3 183.3L299.5 183.2L300.0 183.1L300.8 182.7L301.3 182.0L300.6 180.6L300.5 179.2L300.2 177.8L298.6 176.0L297.8 176.3L298.1 177.4L298.7 178.7L298.4 179.7L297.6 180.8L297.0 180.2L297.1 180.9L297.0 182.0L296.2 182.1L294.4 182.2L293.8 182.8L293.2 183.5L293.2 183.8ZM297.2 175.8L297.4 174.7L299.5 175.2L300.8 173.9L299.8 172.9L297.8 172.8L296.0 171.6L297.3 173.8L296.3 173.9L296.6 174.9ZM295.7 171.0L296.4 170.1L294.9 168.9L295.5 167.8L292.8 165.7L291.1 163.7L289.4 162.3L289.6 163.1L291.6 165.7L294.3 168.9L295.3 170.4ZM287.3 193.3L288.3 193.5L288.2 195.7L287.9 196.8L287.0 195.7L287.1 194.3ZM277.0 199.8L277.7 198.9L279.1 198.9L278.8 200.2L278.0 200.9L277.2 200.5ZM250.8 210.3L251.2 209.9L252.2 211.3L252.9 212.4L252.6 213.5L251.7 214.1L251.1 213.5L250.9 211.9ZM288.2 200.5L289.8 200.5L290.1 202.2L289.6 203.2L290.1 204.9L291.4 205.4L292.5 206.5L292.5 207.0L291.5 206.5L290.5 205.6L289.5 205.7L289.0 204.9L288.3 203.8L288.0 202.9L288.5 203.0L288.3 201.6ZM291.2 212.9L292.5 211.2L294.3 209.9L295.1 211.3L295.4 212.9L294.6 214.4L293.1 213.7L293.0 212.6L292.1 212.4ZM290.9 209.2L290.7 207.8L291.9 208.0L292.8 207.0L294.0 207.2L294.3 208.6L293.8 209.7L292.8 209.4L292.4 210.5L291.6 210.3L291.8 209.2ZM286.5 211.4L287.6 210.1L288.4 208.3L288.2 209.5L287.2 210.9ZM279.0 218.6L279.6 218.2L281.3 217.5L282.8 217.0L283.7 215.6L285.1 214.6L286.1 213.1L286.4 212.9L287.1 213.7L288.4 214.9L287.7 215.9L287.2 216.7L287.6 218.1L288.6 219.4L287.4 220.0L287.1 221.4L286.2 222.4L285.9 223.7L285.6 224.8L284.3 224.9L284.2 224.2L282.8 224.0L281.6 224.3L280.1 223.6L280.0 222.1L279.2 221.0L279.0 220.0ZM265.8 214.5L267.9 214.9L269.1 216.4L270.7 217.8L271.8 218.6L273.3 219.9L274.0 221.4L274.7 222.4L276.1 223.7L276.0 225.4L275.8 226.8L274.7 226.8L274.1 225.9L272.5 224.8L271.4 223.2L270.7 221.6L269.5 220.0L269.0 218.6L268.0 217.8L267.0 216.4ZM275.2 227.8L276.5 227.0L278.3 227.5L280.2 227.9L280.7 227.5L282.3 228.1L284.0 228.9L283.9 229.9L281.5 229.6L279.7 229.2L277.8 228.9L276.3 228.5ZM284.4 229.2L286.3 229.5L288.2 229.5L290.1 229.6L292.0 229.3L292.0 229.9L289.1 230.1L286.2 230.2L284.4 229.9ZM292.3 231.6L293.8 230.4L295.8 229.6L295.3 230.2L293.3 231.4ZM289.5 219.4L290.5 219.2L292.4 219.4L294.1 218.8L294.5 218.9L293.8 220.0L292.4 220.0L290.5 220.0L289.7 220.5L289.5 221.5L290.8 221.6L292.7 221.4L291.4 222.4L290.9 223.2L291.8 224.3L292.3 225.4L292.0 226.4L291.3 225.7L290.9 224.8L290.4 223.7L289.9 223.7L289.8 225.4L289.6 226.5L288.9 226.4L289.0 224.3L288.3 223.5L288.8 222.1L289.3 220.7ZM296.6 218.3L297.6 218.9L297.8 220.2L297.2 221.4L296.9 220.2L296.6 219.4ZM297.1 223.7L299.8 224.0L299.0 224.4L297.3 224.3ZM300.0 221.4L301.5 220.9L302.9 221.4L303.0 222.7L303.8 224.1L305.2 222.9L306.7 222.2L309.5 223.3L311.9 224.3L314.0 225.9L315.5 227.0L315.7 228.1L316.2 229.7L317.9 231.6L317.4 231.9L315.6 231.4L314.3 230.0L312.5 228.8L311.5 229.7L310.9 230.4L309.1 230.3L307.7 229.2L306.3 229.5L307.2 228.1L306.5 226.4L304.6 225.5L302.8 224.7L301.8 224.8L301.7 223.7L302.6 223.0L300.9 223.5L300.0 222.1ZM316.4 226.4L318.0 225.9L319.4 225.0L320.2 225.1L319.9 226.2L318.4 227.2L316.9 227.2ZM318.9 223.3L320.4 224.3L320.9 225.5L320.1 224.8L318.8 223.7ZM322.7 226.4L323.6 227.5L323.1 227.9L322.4 226.9ZM326.3 229.1L328.0 230.7L327.0 231.1L325.9 229.5ZM281.0 244.2L281.7 244.0L283.6 242.9L286.0 242.4L288.5 241.5L289.9 239.9L291.4 238.8L292.5 237.8L294.2 235.8L295.6 235.6L296.4 236.7L297.4 236.5L298.1 234.8L299.0 233.9L300.6 233.4L300.7 232.7L303.0 233.7L304.7 233.7L303.8 235.1L303.0 236.7L304.3 237.8L305.9 239.1L307.5 239.4L308.6 237.2L309.1 235.1L309.4 234.0L310.3 232.2L311.0 234.0L311.0 235.9L312.3 236.7L312.4 238.8L312.4 240.8L313.4 241.5L314.4 242.6L314.7 244.2L315.5 245.9L316.3 247.1L316.9 248.0L316.4 250.2L316.3 251.5L314.7 253.9L313.4 255.6L311.8 257.0L310.1 258.8L308.6 260.7L306.5 261.4L304.3 262.6L303.6 261.8L303.2 261.7L302.0 262.3L300.5 261.8L299.6 261.0L300.0 259.3L299.3 258.9L299.7 258.0L299.7 256.6L300.1 255.7L298.8 257.2L297.5 258.0L297.0 258.0L297.0 256.1L296.4 255.2L294.4 254.5L291.5 255.0L289.6 255.3L287.4 256.1L286.6 257.1L284.4 257.0L282.8 257.5L281.2 258.3L279.4 258.2L278.8 257.5L279.2 256.6L280.3 255.0L280.4 252.9L280.4 250.4L280.0 249.1L280.6 247.5L280.7 245.9ZM301.8 264.4L303.1 264.8L304.8 264.6L303.9 266.0L302.5 267.1L301.4 267.5L301.1 266.6L301.3 265.6ZM330.8 257.6L331.2 258.8L331.1 260.2L331.6 261.1L333.8 261.2L332.3 262.6L331.2 263.0L330.1 264.2L327.9 265.3L327.7 265.0L328.7 264.0L328.3 263.0L329.8 262.0L330.5 261.0L330.6 259.1ZM326.5 264.2L327.4 264.9L326.4 265.8L324.1 267.4L322.0 268.4L320.3 269.9L318.2 270.7L317.2 270.2L316.7 269.8L319.4 268.1L322.1 266.8L324.1 265.8L325.7 264.5ZM328.7 242.2L329.9 242.9L331.0 244.4L330.5 244.6L329.3 243.6ZM341.9 239.4L343.1 239.5L342.8 240.1L341.7 240.0ZM182.2 178.4L182.3 176.5L183.3 176.1L183.5 177.4L183.4 178.3ZM182.5 175.2L183.1 174.2L183.3 175.3L183.0 175.9ZM186.1 179.5L188.8 179.2L188.5 180.9L187.0 180.4ZM196.1 182.2L198.6 182.4L198.6 182.7L196.2 182.5ZM204.1 182.7L206.0 182.0L205.6 182.8L204.6 183.2ZM65.0 300.9L74.3 300.9L77.5 300.4L81.8 300.1L84.1 299.6L86.1 298.9L89.6 299.1L93.0 298.4L95.8 297.6L100.3 297.6L104.1 298.1L107.0 297.8L109.2 296.8L112.7 297.0L115.4 296.4L119.1 296.8L122.3 296.7L124.3 295.8L124.5 294.3L125.7 293.0L126.4 291.1L127.3 289.5L128.8 288.3L130.7 287.5L133.3 287.5L133.0 288.6L131.9 289.3L131.8 290.7L131.2 291.6L133.0 293.0L133.3 294.8L135.4 296.5L135.5 297.8L138.0 298.7L147.3 300.5L153.5 300.7L157.3 299.1L161.9 297.0L166.9 295.2L171.6 294.3L175.0 293.7L181.9 293.9L188.7 293.9L195.8 293.2L199.3 293.0L202.9 292.5L206.7 291.9L210.6 291.0L214.5 290.2L217.4 291.4L220.9 291.6L223.9 292.5L224.7 293.4L226.7 293.4L229.7 292.1L233.2 291.1L237.7 290.9L242.9 290.5L246.9 290.0L250.2 290.4L253.9 290.2L257.1 290.7L260.4 291.0L264.4 290.5L268.3 290.2L271.9 290.2L274.7 290.9L277.9 291.1L279.9 292.3L282.6 293.0L284.7 293.9L287.1 294.6L289.5 295.2L284.6 297.0L280.4 298.2L276.6 299.9L277.4 300.7L279.2 300.7L285.0 300.9M85.0 151.5L87.0 150.5L89.1 149.9L90.4 150.0L90.3 150.8L88.3 151.5L86.5 151.7ZM86.7 155.6L88.7 154.6L90.9 154.1L92.7 153.9L93.7 153.9L91.6 154.6L89.6 155.2L88.0 155.8ZM89.0 157.9L90.9 157.4L92.9 157.3L91.1 157.6L89.2 158.1ZM94.4 160.1L96.0 158.8L95.8 158.6L94.3 159.6ZM93.3 166.2L94.6 164.7L95.5 162.8L96.5 162.8L96.0 164.7L95.3 166.2ZM97.1 170.2L99.3 169.1L101.4 168.3L102.9 168.5L103.6 169.4L103.2 170.4L101.7 170.4L100.6 170.0L98.8 170.3ZM98.6 175.2L99.5 173.1L101.4 171.2L102.6 171.2L101.0 173.1L99.9 175.2ZM103.2 171.0L104.8 171.2L106.5 172.2L104.5 173.9L103.7 173.9L103.2 173.1L103.8 171.8ZM102.3 175.5L104.7 174.6L106.6 174.4L105.5 175.0L103.0 175.9ZM106.1 173.8L107.8 173.2L109.3 173.1L108.9 173.7L107.1 173.9ZM216.5 170.4L218.5 169.9L219.9 170.4L220.3 172.0L218.8 172.6L218.4 173.6L219.7 174.7L221.1 175.8L222.3 177.4L222.4 179.0L223.2 180.6L221.5 180.9L219.5 180.3L218.4 179.0L218.5 177.2L217.3 175.4L216.1 174.2L215.3 172.6L215.4 171.2ZM224.6 170.4L225.8 170.2L227.3 171.0L227.3 172.6L226.3 173.4L225.2 172.6ZM237.8 171.7L238.6 170.4L240.2 170.2L242.0 170.4L240.4 170.8L238.9 171.3ZM260.2 165.1L261.1 164.7L261.9 163.5L262.1 161.9L262.0 160.9L261.4 161.0L261.6 162.6L261.0 163.9ZM205.5 221.0L206.5 220.1L207.6 220.5L207.4 222.1L206.5 223.2L205.5 222.7ZM202.9 224.3L203.3 225.9L204.0 228.1L204.5 229.9L203.8 229.1L203.1 227.0L202.7 225.4ZM207.3 230.9L207.9 232.4L208.2 234.5L208.3 235.9L207.8 235.1L207.4 232.9ZM187.8 206.5L188.7 205.9L188.8 206.7L188.3 207.0ZM198.2 156.6L198.7 155.4L199.7 155.4L199.9 156.3L199.0 156.7ZM201.0 155.6L201.3 154.3L202.1 154.6L202.0 155.6ZM40.8 163.0L39.1 163.5L37.9 163.9L39.5 163.5ZM35.4 164.3L33.5 164.6L32.1 164.7ZM30.7 164.9L29.4 165.0L28.2 165.3ZM315.2 163.8L317.4 164.3L319.9 164.7ZM322.1 165.2L322.4 165.1M54.0 159.6L56.2 158.6L56.7 158.9L54.5 159.8ZM48.4 153.3L50.1 153.0L50.4 153.4L48.8 153.7ZM47.6 156.4L49.0 156.2L48.5 156.8L47.5 156.8ZM68.1 162.6L69.0 162.7L68.1 164.4L67.5 163.9ZM124.9 275.5L126.6 275.6L127.7 275.9L126.9 276.6L125.2 276.3ZM144.5 278.4L146.2 278.8L145.9 279.2ZM140.1 285.0L141.3 285.1M87.7 220.8L88.1 220.5L88.3 221.5L87.8 221.6ZM28.6 198.6L29.9 199.0L29.8 199.8L28.6 200.3L28.4 199.5ZM25.1 196.4L26.9 197.1L28.1 197.6L28.6 198.3ZM27.1 197.3L27.5 197.5M25.8 196.7L26.2 196.8M232.4 273.2L233.7 273.4L233.1 273.9L232.3 273.8ZM226.8 243.2L227.2 243.4M228.8 242.3L229.2 242.4M225.6 206.9L226.6 206.9L226.5 207.2ZM262.8 205.9L263.1 207.0L263.0 208.1L262.7 207.0ZM275.5 222.3L276.6 223.2L276.8 223.7L275.9 223.0ZM288.1 230.7L289.7 231.5L289.0 231.6ZM295.3 224.0L296.3 224.2L295.8 224.6ZM332.5 236.7L332.9 237.4L333.0 238.3ZM333.3 239.6L333.5 239.9M324.5 228.3L325.8 228.9M328.2 231.6L329.1 232.2M11.5 235.1L12.7 235.5M34.2 239.4L34.6 239.7M300.3 172.6L301.0 171.8L301.7 171.0ZM302.7 170.7L303.2 169.6L303.5 168.3ZM303.4 167.3L303.8 166.5L303.7 165.9ZM293.3 192.3L293.6 191.6M294.1 190.1L294.4 189.8M177.1 177.9L178.0 177.5L177.8 178.0ZM189.3 159.6L189.8 158.7L189.7 159.3ZM183.9 161.3L184.7 160.5L184.9 161.3L184.4 161.8ZM159.5 190.0L160.1 189.8L159.9 190.3ZM161.9 189.8L162.3 189.4M152.6 204.2L152.9 204.4M152.1 179.7L152.6 179.7M159.4 185.1L159.8 185.2M169.6 154.4L170.0 154.6M173.9 156.1L174.1 156.6M168.9 146.3L169.6 146.1M186.8 161.4L187.0 161.5M112.1 160.1L112.6 160.6L112.6 159.8ZM121.5 166.9L123.4 167.5L122.5 167.6ZM120.7 170.1L122.2 170.6L121.5 170.9ZM110.3 176.6L112.0 176.2L111.5 176.5ZM102.4 191.7L103.3 191.9L102.8 193.3ZM102.5 194.1L102.7 194.6L102.3 194.4ZM116.3 209.0L117.1 208.8L117.1 209.6L116.3 209.6ZM126.8 220.7L128.2 220.8L128.5 221.8L127.0 222.1ZM110.4 265.7L111.1 266.0L111.3 267.3L110.6 266.8ZM106.3 148.0L108.3 147.3L108.5 147.8L107.0 148.4ZM108.2 142.8L112.3 141.4L113.6 141.9L112.0 142.8ZM112.6 143.1L115.0 142.3L114.7 143.0ZM97.8 141.9L101.8 140.9L102.1 141.5L99.4 142.1ZM110.6 140.3L114.9 139.4L115.8 140.1L112.2 140.5ZM121.5 144.5L123.9 143.9L124.3 144.6L122.5 144.9ZM113.4 153.9L115.0 153.8L115.4 154.3L113.4 154.4ZM115.1 154.4L115.7 154.4L115.2 155.0ZM108.8 163.6L109.6 163.7L109.2 164.0ZM137.4 147.6L139.4 146.9L139.1 147.7Z" fill="none" stroke="#000" stroke-width="0.75" stroke-linejoin="round"/>
<path d="M266.43 133.50 L269.62 134.38 L273.30 135.58 L277.38 137.05 L281.74 138.77 L286.26 140.69 L290.66 142.76 L294.70 144.90 L298.46 147.12 L302.04 149.40 L305.52 151.74 L308.90 154.14 L312.20 156.59 L315.39 159.08 L318.45 161.61 L321.37 164.17 L324.11 166.77 L326.61 169.39 L328.97 172.03 L331.22 174.69 L333.33 177.37 L335.23 180.05 L336.96 182.74 L338.53 185.44 L339.93 188.14 L341.14 190.83 L342.16 193.53 L343.00 196.23 L343.74 198.92 L344.45 201.62 L345.08 204.32 L345.60 207.01 L346.01 209.71 L346.33 212.41 L346.56 215.11 L346.72 217.80 L346.80 220.50 L346.72 223.20 L346.56 225.89 L346.33 228.59 L346.01 231.29 L345.60 233.99 L345.08 236.68 L344.45 239.38 L343.74 242.08 L343.00 244.77 L342.16 247.47 L341.14 250.17 L339.93 252.86 L338.53 255.56 L336.96 258.26 L335.23 260.95 L333.33 263.63 L331.22 266.31 L328.97 268.97 L326.61 271.61 L324.11 274.23 L321.37 276.83 L318.45 279.39 L315.39 281.92 L312.20 284.41 L308.90 286.86 L305.52 289.26 L302.04 291.60 L298.46 293.88 L294.70 296.10 L290.66 298.24 L286.26 300.31 L281.74 302.23 L277.38 303.95 L273.30 305.42 L269.62 306.62 L266.43 307.50 L83.57 307.50 L80.38 306.62 L76.70 305.42 L72.62 303.95 L68.26 302.23 L63.74 300.31 L59.34 298.24 L55.30 296.10 L51.54 293.88 L47.96 291.60 L44.48 289.26 L41.10 286.86 L37.80 284.41 L34.61 281.92 L31.55 279.39 L28.63 276.83 L25.89 274.23 L23.39 271.61 L21.03 268.97 L18.78 266.31 L16.67 263.63 L14.77 260.95 L13.04 258.26 L11.47 255.56 L10.07 252.86 L8.86 250.17 L7.84 247.47 L7.00 244.77 L6.26 242.08 L5.55 239.38 L4.92 236.68 L4.40 233.99 L3.99 231.29 L3.67 228.59 L3.44 225.89 L3.28 223.20 L3.20 220.50 L3.28 217.80 L3.44 215.11 L3.67 212.41 L3.99 209.71 L4.40 207.01 L4.92 204.32 L5.55 201.62 L6.26 198.92 L7.00 196.23 L7.84 193.53 L8.86 190.83 L10.07 188.14 L11.47 185.44 L13.04 182.74 L14.77 180.05 L16.67 177.37 L18.78 174.69 L21.03 172.03 L23.39 169.39 L25.89 166.77 L28.63 164.17 L31.55 161.61 L34.61 159.08 L37.80 156.59 L41.10 154.14 L44.48 151.74 L47.96 149.40 L51.54 147.12 L55.30 144.90 L59.34 142.76 L63.74 140.69 L68.26 138.77 L72.62 137.05 L76.70 135.58 L80.38 134.38 L83.57 133.50Z" fill="none" stroke="#000" stroke-width="0.7"/>
</g>
<g transform="translate(0 277)">
<path d="M54.0 151.2L58.5 148.7L62.3 147.7L67.0 146.4L69.3 146.0L71.7 146.4L74.0 146.8L77.8 147.5L79.9 148.0L82.2 147.6L85.2 147.1L87.5 146.8L89.1 147.3L91.6 147.5L93.8 148.0L94.8 148.8L97.0 149.0L99.1 148.7L99.3 149.6L102.0 148.9L103.5 149.2L105.9 148.9L107.4 148.4L109.0 147.3L111.3 145.5L112.0 145.8L111.6 147.1L112.1 147.7L112.3 148.4L113.4 148.8L113.2 149.5L115.2 148.4L116.5 147.4L118.2 147.4L118.2 148.4L116.9 149.6L115.3 150.5L113.4 150.6L112.1 151.5L110.3 152.5L108.1 153.1L105.5 154.6L103.5 156.1L101.9 157.8L103.2 158.0L102.5 159.6L104.5 159.6L105.9 160.6L107.4 161.3L109.5 161.5L108.4 163.7L108.8 164.9L109.5 165.5L110.8 164.5L111.5 162.6L111.5 161.8L113.5 161.0L115.0 159.6L115.3 158.1L115.4 156.6L116.5 155.1L117.1 154.2L119.4 154.4L121.1 155.4L122.2 155.8L121.3 157.6L122.3 158.3L123.7 157.8L125.1 156.8L125.9 156.3L126.4 158.0L126.7 159.4L127.0 161.0L128.7 161.9L129.0 163.0L129.6 164.4L128.5 165.2L126.6 165.7L125.4 166.5L122.9 166.6L120.0 166.6L117.9 167.8L115.8 169.6L117.1 168.9L119.1 167.9L121.2 167.7L121.0 168.5L119.9 169.1L120.2 169.9L120.1 170.8L121.4 171.2L122.6 171.3L123.8 170.1L124.1 171.0L122.7 171.7L120.6 172.5L118.5 173.5L118.1 172.8L119.5 171.8L118.2 171.9L117.1 172.5L115.7 173.0L114.5 173.5L113.6 174.6L114.0 175.4L112.8 175.8L111.6 176.2L110.1 176.7L109.7 177.8L108.6 178.7L107.7 179.9L107.0 180.7L107.1 182.3L105.9 183.1L104.5 183.9L103.1 184.8L101.5 185.9L100.6 187.5L100.8 189.9L100.9 191.6L100.5 193.1L99.7 193.3L99.3 192.1L98.7 190.6L98.9 189.2L98.0 188.1L96.7 188.5L95.8 187.7L94.4 187.8L93.0 187.9L93.0 189.1L91.9 189.0L90.6 188.6L88.8 188.5L87.5 189.3L85.5 190.5L84.8 192.5L84.0 194.6L83.7 196.4L83.9 198.1L84.6 199.7L85.7 200.4L86.6 200.9L88.5 200.4L89.7 199.8L90.4 198.0L92.2 197.3L93.7 197.3L92.9 199.4L92.4 200.8L91.8 202.2L91.2 203.3L92.3 203.5L93.8 203.3L95.4 203.5L96.3 204.3L95.8 206.5L95.5 208.6L96.1 209.7L96.8 210.8L98.0 211.0L99.2 210.3L100.4 210.4L101.5 211.2L101.9 211.9L102.8 210.5L103.3 209.2L104.0 208.6L105.7 208.2L107.0 207.1L107.4 207.9L106.8 208.6L107.1 210.5L107.6 208.8L108.6 208.1L108.6 207.3L109.3 208.1L110.2 209.1L112.3 209.1L113.7 209.5L116.1 209.0L116.2 209.7L117.2 211.3L118.9 211.9L120.2 213.7L122.6 214.1L124.7 214.8L125.9 215.9L126.8 218.3L127.3 219.9L126.3 221.0L128.4 220.7L129.2 221.4L131.1 221.8L132.6 223.2L134.9 223.5L136.8 223.5L138.3 224.5L139.7 225.7L141.4 226.1L141.9 228.1L141.7 230.2L140.3 231.8L139.4 233.2L138.5 234.5L138.1 236.7L138.3 239.4L137.7 241.5L136.9 243.7L135.8 245.3L134.4 245.3L133.1 246.1L131.7 246.6L130.5 247.8L130.0 249.1L130.1 251.0L129.2 252.9L128.3 254.5L127.4 256.1L126.6 257.4L125.5 258.2L123.6 257.8L122.3 257.4L123.7 259.1L124.2 260.0L123.8 261.7L121.9 262.5L120.0 262.5L120.4 264.3L119.2 264.9L118.1 264.7L118.5 266.1L119.7 266.3L118.7 267.4L119.0 269.0L117.6 270.0L119.3 271.4L119.7 272.3L118.9 273.9L118.1 274.9L118.5 276.0L119.3 276.7L119.8 277.5L121.2 278.6L122.9 279.1L122.0 279.5L120.6 279.9L118.9 279.6L117.3 278.7L115.6 277.7L114.2 276.5L112.9 274.8L111.9 273.0L112.3 271.7L111.0 270.8L111.8 269.3L111.9 267.9L111.7 266.0L110.6 265.5L110.3 264.2L110.3 263.1L109.4 260.7L109.7 258.9L110.0 256.3L109.6 253.4L109.3 251.2L109.5 248.5L109.4 245.9L109.3 243.2L108.9 240.3L107.7 239.2L105.7 238.2L104.0 237.0L102.8 235.4L101.8 233.4L100.6 231.3L99.8 229.3L98.8 227.7L97.6 227.0L97.5 225.4L98.4 224.2L98.8 223.2L97.8 222.9L98.0 221.6L98.6 220.0L99.6 219.2L99.8 218.6L101.0 217.0L101.4 216.2L101.2 214.6L101.3 213.3L100.8 212.7L101.1 212.0L100.5 211.5L99.4 210.8L98.6 211.7L98.4 212.6L97.4 212.2L96.2 211.7L95.6 211.3L94.4 209.9L93.5 209.6L93.7 208.6L92.6 206.8L92.0 206.2L90.3 205.9L88.4 205.4L87.1 204.1L85.9 203.0L84.4 203.6L82.6 203.0L80.8 202.2L79.1 201.1L77.3 200.0L76.1 198.7L76.5 197.3L75.7 195.4L74.7 193.5L73.8 191.9L73.0 190.8L72.1 189.2L71.8 187.1L70.5 186.3L70.0 188.1L71.0 189.8L71.5 191.4L72.0 193.0L72.6 194.6L72.9 195.6L72.4 195.8L70.9 193.9L70.4 191.9L69.4 190.6L69.5 188.7L69.0 187.4L68.7 185.4L68.1 184.0L66.4 183.3L66.1 181.1L66.1 179.7L65.8 177.9L65.9 176.9L66.9 175.2L68.6 172.6L69.7 170.8L70.6 168.4L71.9 168.7L71.7 169.6L72.6 167.8L71.9 166.8L70.6 165.7L70.9 164.2L70.8 162.3L71.0 161.1L70.4 159.6L70.1 158.3L69.0 157.8L68.5 156.8L66.0 156.6L64.6 155.8L62.2 156.6L58.8 157.3L62.0 155.4L59.3 156.1L56.0 158.1L52.4 159.6L49.7 160.6L46.9 161.4L44.8 161.9L43.2 162.0L46.8 160.8L49.2 160.0L52.9 158.4L54.0 157.8L52.1 158.1L50.0 157.9L51.5 156.6L50.1 155.9L50.9 154.6L53.0 153.7L56.6 153.1L57.6 152.2L56.2 152.2L53.9 152.1L54.0 151.2ZM130.4 140.1L134.7 138.8L140.6 137.4L149.5 136.9L158.2 136.4L163.5 137.5L168.1 137.7L164.2 139.1L163.2 141.1L162.1 142.8L160.4 144.9L160.0 146.7L157.7 148.0L154.0 148.8L151.6 149.9L148.4 151.1L146.0 151.7L143.8 154.1L141.8 156.6L140.2 155.9L138.5 155.4L137.8 153.2L137.5 151.3L137.0 149.9L138.0 148.5L139.8 147.6L137.8 146.7L138.4 144.9L138.1 143.2L137.0 141.9L133.2 141.9L131.0 141.5L131.1 140.7ZM127.3 153.7L125.7 154.6L124.4 154.1L122.7 153.2L121.1 152.2L118.3 151.9L119.5 151.3L121.6 151.3L122.7 150.0L123.8 148.9L122.3 148.0L120.8 147.1L117.4 147.1L115.4 146.2L115.1 145.3L116.6 144.0L119.4 143.8L122.0 143.9L124.0 144.6L125.3 145.5L126.9 146.2L128.1 146.9L128.5 148.0L129.8 149.4L131.2 150.1L129.0 151.7ZM96.2 145.8L100.8 144.6L104.5 144.3L105.1 145.3L105.4 147.1L102.7 148.2L99.8 148.3L96.2 148.4L94.8 147.7L94.9 146.7ZM91.3 145.3L95.2 143.4L98.6 143.4L98.4 144.5L95.2 145.5L92.2 146.0ZM118.5 141.5L121.5 139.9L120.9 138.4L124.5 137.4L132.7 136.7L139.2 137.1L139.1 137.7L135.0 138.4L131.0 139.5L127.4 140.7L124.6 141.7L121.6 141.5ZM116.8 141.9L118.2 142.3L123.3 143.1L124.1 142.2L121.4 141.7L117.4 141.3ZM100.5 142.8L104.3 141.8L107.9 141.9L106.9 142.8L103.9 143.1L101.3 143.1ZM111.0 145.1L112.6 143.8L115.6 143.7L115.1 144.6L112.8 145.3ZM106.7 145.3L108.7 144.0L111.1 143.9L110.1 145.3L107.8 146.0ZM111.3 152.7L113.0 151.3L114.6 151.0L115.8 152.5L115.0 153.2L112.6 153.5ZM117.2 139.9L120.3 138.4L122.8 138.8L122.1 139.9ZM125.1 169.3L126.7 167.6L128.1 165.9L129.5 165.1L128.8 166.8L130.2 167.4L130.5 168.9L130.1 170.2L128.5 170.0L127.9 169.3ZM95.6 197.0L97.6 195.8L98.3 195.5L100.4 195.7L102.6 197.0L104.3 198.1L105.5 198.7L104.7 199.0L102.3 199.0L102.0 198.2L100.7 197.2L98.5 196.3L97.0 196.8ZM105.1 200.7L106.3 199.0L108.0 199.0L109.5 199.5L110.7 200.4L109.2 200.8L107.7 201.4L106.4 200.9ZM101.4 200.7L102.6 200.5L103.3 201.1L102.4 201.3ZM111.8 200.7L113.2 200.7L113.2 201.1L111.8 201.1ZM69.3 165.9L71.0 166.2L71.9 167.3L71.6 168.4L70.3 167.9L69.4 166.8ZM169.7 181.9L170.2 181.8L172.3 182.4L173.2 182.6L175.0 181.9L175.9 181.1L177.7 180.8L179.5 180.8L181.7 180.6L183.7 180.3L184.2 180.8L184.8 180.6L184.5 181.9L184.9 182.5L184.2 183.5L184.1 184.0L185.0 184.6L185.9 185.1L187.0 185.0L188.8 185.7L189.1 186.5L191.0 187.2L192.4 187.8L193.3 187.1L193.2 185.7L194.5 185.0L195.9 185.3L197.8 186.3L199.6 186.7L201.5 187.2L202.8 186.6L204.5 186.7L204.8 188.1L204.9 188.7L205.9 190.5L206.4 191.7L207.5 193.7L208.2 195.1L209.4 196.8L209.8 198.4L210.0 199.4L211.2 201.1L212.3 203.7L213.8 204.9L215.3 206.5L215.9 207.0L216.1 208.1L217.3 209.3L218.7 208.8L220.6 208.5L222.4 208.1L223.6 207.8L223.4 209.3L223.0 210.8L222.1 212.9L221.2 215.1L219.8 217.3L218.2 218.3L216.5 220.0L215.1 221.6L214.1 222.7L213.2 223.7L212.9 224.8L212.2 226.4L212.4 227.8L212.6 229.7L213.0 231.6L213.4 232.4L213.5 234.5L213.5 236.7L212.2 238.3L210.3 239.4L209.3 240.8L207.8 241.9L208.0 243.7L208.1 245.9L206.1 247.7L205.3 248.5L205.3 250.2L204.4 251.8L203.4 252.9L201.9 254.8L200.4 256.1L198.2 257.2L195.3 257.4L193.0 258.0L191.7 257.4L191.3 255.8L191.7 254.5L190.6 252.3L190.2 251.4L189.1 249.6L188.7 247.5L188.5 245.1L187.6 243.2L186.7 240.8L186.1 239.1L186.1 237.2L186.8 235.6L187.7 234.0L188.1 232.4L187.6 230.2L187.4 228.6L186.7 227.0L186.4 225.7L185.5 224.6L184.1 223.0L183.6 221.6L183.9 220.2L184.3 218.9L184.3 217.3L184.2 216.2L183.1 215.6L181.7 215.8L180.7 215.9L179.8 214.2L179.3 213.7L178.2 213.6L176.4 213.8L175.0 214.4L173.6 215.1L173.1 215.3L172.1 215.0L170.7 214.9L169.3 215.3L167.8 215.8L166.4 215.1L164.7 213.7L163.1 212.4L162.4 211.3L162.0 210.3L160.8 208.8L159.8 207.8L159.2 207.0L159.2 205.9L158.5 204.6L159.4 203.2L159.8 201.1L159.5 199.5L159.1 197.8L159.9 196.2L160.1 194.9L161.1 194.1L161.6 192.2L162.8 190.5L164.4 189.8L165.8 188.7L166.1 187.6L166.1 186.5L166.8 185.2L168.1 184.3L169.1 183.5ZM221.8 233.4L222.5 237.2L221.6 239.4L220.7 242.1L219.6 245.3L218.6 247.5L216.9 248.0L215.9 247.5L215.5 245.9L215.7 243.7L216.5 242.1L216.4 239.9L217.0 238.0L218.7 237.4L220.2 236.4L220.9 235.1ZM170.0 181.7L169.4 180.9L168.4 180.4L167.1 180.6L167.2 179.0L166.6 178.7L167.2 176.8L167.3 175.2L167.0 174.2L168.1 173.4L170.0 173.5L171.7 173.6L173.4 173.7L173.9 172.6L174.1 171.3L173.3 169.9L172.6 169.4L171.2 169.0L171.1 168.3L172.5 168.0L173.7 168.1L173.6 167.1L175.0 167.4L175.2 167.1L176.2 166.6L176.4 165.7L177.9 165.2L178.5 164.5L178.9 163.7L179.8 163.2L180.6 163.0L181.8 162.8L181.9 161.6L181.5 161.0L181.4 159.6L182.6 159.1L183.3 158.9L183.2 160.1L183.5 160.4L183.2 161.1L182.8 161.6L183.0 162.1L183.8 162.6L184.6 162.4L185.8 162.1L186.5 162.6L187.8 162.3L189.8 161.9L190.8 162.1L191.7 161.4L191.5 160.1L191.8 159.1L192.5 158.9L193.8 159.4L193.9 158.3L193.0 157.4L194.1 157.1L196.4 157.0L198.0 156.7L196.6 156.0L194.7 156.2L194.0 156.5L192.5 156.7L191.1 155.8L191.1 154.6L190.7 153.7L191.5 152.9L192.8 151.9L193.2 151.3L192.3 151.0L191.0 151.1L190.7 152.2L190.1 153.0L188.7 153.7L188.1 154.6L188.0 155.8L189.1 156.3L189.4 157.1L188.8 157.6L188.0 158.6L187.9 159.6L187.6 160.4L186.5 160.6L186.3 161.2L185.3 161.2L185.0 160.6L184.8 159.8L184.2 158.9L183.6 157.6L183.2 157.1L182.3 157.7L181.2 158.5L180.0 158.5L179.2 157.8L178.8 156.3L178.7 154.8L179.8 153.9L181.3 153.2L182.6 152.8L183.3 151.7L184.0 150.8L184.9 149.6L185.8 148.7L187.1 147.8L188.1 147.3L190.0 146.8L191.3 146.2L192.5 146.1L194.0 146.2L196.2 146.8L195.6 147.4L197.8 147.7L200.0 148.0L203.1 149.1L204.2 150.1L203.6 150.6L202.2 150.7L199.6 150.3L198.1 149.9L199.9 151.3L200.6 152.4L202.5 152.9L202.7 152.3L204.5 152.2L203.9 151.3L205.0 150.5L206.5 150.6L206.1 149.4L205.4 148.5L207.3 148.9L208.1 150.0L208.8 149.3L212.0 148.5L212.8 148.8L214.7 148.4L216.7 148.2L216.6 147.3L219.3 147.7L221.6 148.2L222.9 148.7L221.1 147.4L220.3 146.2L220.6 144.9L221.2 144.5L223.2 144.9L224.3 146.2L225.0 148.0L225.9 148.9L227.3 150.0L227.3 148.9L226.1 147.6L224.8 146.2L225.2 145.3L226.9 144.9L228.9 145.3L230.6 146.2L231.6 146.7L229.5 144.9L227.8 144.0L231.3 143.2L232.4 142.3L235.1 141.9L237.8 141.5L239.1 140.5L241.7 141.1L244.7 141.5L247.4 142.3L248.6 143.6L246.9 143.8L249.2 144.0L252.4 144.0L256.0 144.0L258.9 144.5L259.0 145.1L262.2 145.8L264.6 145.8L267.5 146.0L268.1 144.9L271.7 145.1L276.0 145.8L280.0 146.2L284.7 147.1L286.6 147.5L290.2 147.1L291.9 147.1L293.7 148.0L296.0 147.3L299.9 148.0L305.5 151.7L305.5 152.2L304.1 152.0L308.3 153.9L306.1 154.8L304.9 155.6L304.6 156.6L301.5 156.6L301.4 158.1L303.3 160.1L304.1 161.6L304.4 163.5L304.2 164.7L303.9 165.7L301.4 163.7L298.4 161.1L297.1 159.1L296.8 157.1L297.1 156.1L297.2 154.6L295.2 155.1L292.6 155.1L293.7 157.1L291.9 157.6L289.1 157.1L286.3 157.3L284.6 157.6L284.2 159.1L284.6 161.6L285.3 162.8L286.7 162.6L288.9 163.3L290.3 164.7L291.0 166.2L292.4 168.3L292.4 170.4L291.7 172.6L290.2 174.4L288.9 173.9L288.6 174.9L288.5 176.3L288.6 176.8L287.4 177.6L287.5 178.2L288.8 179.0L290.4 180.6L291.2 182.2L291.0 182.6L289.9 183.1L288.9 183.3L288.3 181.7L287.9 180.4L286.6 179.7L285.8 179.0L285.5 177.9L284.3 177.4L283.1 178.1L282.3 178.7L282.0 176.8L280.9 176.4L280.2 177.6L279.2 178.2L279.3 179.0L280.6 179.7L281.5 180.4L282.4 179.7L284.1 180.2L283.2 181.1L282.8 181.7L282.3 182.7L283.4 183.8L284.6 185.1L285.9 186.2L286.4 187.2L285.6 187.8L286.9 188.4L286.8 189.8L286.3 191.0L285.9 192.5L285.4 193.6L284.7 194.3L283.9 195.4L282.3 196.0L281.4 196.4L280.6 196.8L278.8 197.4L278.2 197.6L278.3 198.6L277.7 197.4L276.4 197.1L275.1 197.8L274.8 198.7L274.3 199.7L274.4 200.5L275.8 202.2L277.2 203.2L278.1 204.9L278.5 206.5L278.7 207.8L277.5 208.8L276.6 209.3L276.4 210.3L275.1 211.1L274.7 211.2L274.8 209.7L273.8 209.2L272.7 208.3L272.2 207.4L270.7 206.8L270.5 205.9L269.7 206.2L269.7 207.6L269.3 208.6L269.4 210.3L270.1 211.1L270.7 212.7L271.9 213.3L272.6 213.9L273.6 215.3L273.7 217.3L274.4 219.0L273.8 219.1L272.3 218.0L271.6 217.3L271.0 215.9L270.6 214.6L270.2 213.2L269.5 212.4L268.5 211.9L268.6 209.7L268.6 207.6L267.7 205.4L267.2 203.5L266.9 202.6L265.7 202.6L264.9 203.5L264.0 203.2L263.9 201.3L263.0 199.5L261.9 198.4L261.0 197.0L260.6 196.2L259.5 196.4L258.2 197.0L256.8 197.2L256.4 198.2L256.1 198.9L254.8 199.8L254.0 200.9L252.7 202.4L251.7 203.2L250.8 204.0L251.1 206.4L250.8 207.8L250.9 209.4L250.1 210.5L249.4 211.0L248.7 211.8L247.7 210.8L247.2 209.2L246.6 207.8L245.9 206.5L245.2 204.5L244.3 203.0L243.7 201.1L243.4 200.0L243.1 198.4L242.9 197.1L242.6 197.8L241.5 198.1L240.5 197.6L239.4 196.4L240.5 195.9L239.1 195.4L238.5 194.8L237.6 194.1L236.9 193.5L234.9 193.2L232.6 193.3L230.7 193.2L228.8 192.9L227.9 191.6L227.2 191.2L225.9 191.7L224.5 191.6L223.5 190.8L222.3 190.3L221.7 189.2L220.8 187.9L219.7 187.7L219.4 188.1L219.0 188.7L219.7 189.8L220.7 191.0L221.5 191.9L222.0 193.0L222.5 192.5L222.8 193.2L222.7 194.1L223.8 194.4L225.2 194.4L226.3 193.2L227.0 192.2L227.5 193.5L228.0 194.6L229.5 195.0L230.8 196.2L230.0 198.4L229.3 200.0L228.6 201.1L227.1 201.8L225.9 202.2L224.3 203.2L222.2 204.3L220.4 205.4L217.6 206.7L216.2 206.8L215.7 205.4L215.3 203.8L215.1 202.4L213.7 200.5L212.5 198.6L211.7 197.3L210.9 195.1L209.7 193.9L208.8 192.5L207.8 190.8L207.1 190.1L207.1 188.7L206.6 190.5L205.5 189.4L204.8 188.1L204.5 186.7L206.2 186.7L206.8 185.1L207.1 183.9L207.1 182.2L207.3 180.9L205.8 180.9L204.6 181.6L203.6 181.3L202.4 180.8L201.4 181.3L200.0 180.9L199.3 180.4L198.9 179.2L198.2 178.1L198.0 177.4L199.1 176.9L200.4 176.8L200.4 176.2L202.5 176.1L204.2 175.2L205.5 175.2L206.9 176.0L208.7 176.4L210.0 176.3L211.2 175.8L211.0 174.5L209.5 173.6L207.6 172.6L206.6 171.8L207.3 171.0L208.1 169.7L206.7 169.9L204.9 170.7L204.8 171.5L206.2 171.7L205.2 172.0L204.2 172.7L203.7 172.5L202.9 171.5L203.5 171.0L202.2 170.8L201.3 170.3L200.6 171.5L200.3 172.0L199.7 172.9L199.2 173.9L199.2 174.9L199.6 175.7L200.3 176.1L199.1 176.3L198.2 176.7L197.8 176.5L196.9 176.4L196.0 176.6L195.7 177.4L195.0 176.8L195.1 178.1L195.8 179.0L196.3 179.5L196.1 179.6L195.5 180.0L195.7 181.1L195.0 181.1L194.4 180.8L193.9 179.7L193.8 179.2L193.4 178.4L192.6 177.6L192.0 176.8L192.0 175.8L191.5 175.0L190.1 174.2L188.8 173.5L187.9 172.6L187.2 171.7L186.6 172.0L186.7 171.3L185.5 171.6L185.6 172.6L186.7 173.5L187.3 174.7L188.9 175.3L189.7 176.1L190.8 176.7L191.3 177.3L190.2 176.9L189.7 177.6L190.1 178.4L189.6 179.1L188.9 179.5L189.2 178.7L188.9 177.6L188.2 177.2L187.5 176.5L186.4 176.0L185.6 175.4L184.5 174.7L183.9 173.6L183.3 173.0L182.6 172.7L181.9 173.2L181.3 173.4L180.2 174.1L179.1 173.7L178.0 173.8L177.6 174.7L177.8 175.3L176.9 175.9L175.7 176.5L175.0 177.6L174.7 178.0L175.2 178.7L174.6 179.2L174.3 179.9L173.0 180.9L171.1 180.9L170.3 181.6ZM49.9 148.1L51.2 148.7L52.2 149.9L53.3 150.6L49.1 152.3L47.3 152.0L46.3 151.3L44.8 151.6M170.3 166.7L172.1 166.5L173.8 166.0L176.1 165.5L176.4 164.0L175.2 163.7L174.8 162.6L173.8 161.6L173.4 160.6L173.0 160.1L173.4 159.0L171.9 158.9L172.7 158.0L171.1 158.0L170.5 159.1L170.1 160.1L170.6 161.1L171.2 161.8L172.4 161.8L172.6 163.1L171.4 163.3L171.5 164.5L170.7 164.9L172.1 165.3L172.5 165.5L171.3 165.8ZM169.9 164.5L170.0 163.3L170.4 162.1L169.8 161.4L168.5 161.4L168.2 162.2L167.0 162.4L167.1 163.3L167.3 164.2L166.6 164.9L167.2 165.2L168.5 164.9ZM157.5 151.3L158.9 150.4L160.7 150.8L162.1 150.6L163.6 150.3L164.5 150.8L165.2 151.6L164.2 152.4L162.5 153.0L161.0 153.3L159.6 152.9L158.4 152.8L158.9 152.3L157.6 151.8L158.7 151.5ZM181.6 139.1L183.9 138.8L187.4 138.6L191.0 138.8L189.5 139.5L186.6 139.9L188.2 140.3L186.3 141.3L184.3 141.1L183.3 140.3ZM202.1 138.4L205.3 138.1L209.7 137.7L212.3 138.1L209.3 138.6L204.6 138.8ZM209.6 145.6L209.8 144.0L211.0 142.8L213.4 141.7L217.4 141.1L218.3 141.5L214.7 142.6L212.8 143.6L212.3 145.1L214.1 146.5L211.3 146.4ZM232.3 139.5L231.6 138.1L236.2 138.4L238.9 139.5L238.6 140.1L235.7 140.3ZM262.8 142.6L263.0 141.9L268.0 142.3L271.4 142.8L269.5 143.2L267.6 143.6L264.3 143.2ZM296.0 146.2L296.2 145.8L297.1 146.3M53.8 145.8L55.2 146.0L52.9 146.3M292.8 184.4L292.6 184.9L293.8 186.7L294.2 187.1L294.7 186.6L294.5 184.9L294.8 184.6L295.7 185.1L296.8 184.0L297.8 184.4L298.3 183.3L299.5 183.2L300.0 183.1L300.8 182.7L301.3 182.0L300.6 180.6L300.5 179.2L300.2 177.8L298.6 176.0L297.8 176.3L298.1 177.4L298.7 178.7L298.4 179.7L297.6 180.8L297.0 180.2L297.1 180.9L297.0 182.0L296.2 182.1L294.4 182.2L293.8 182.8L293.2 183.5L293.2 183.8ZM297.2 175.8L297.4 174.7L299.5 175.2L300.8 173.9L299.8 172.9L297.8 172.8L296.0 171.6L297.3 173.8L296.3 173.9L296.6 174.9ZM295.7 171.0L296.4 170.1L294.9 168.9L295.5 167.8L292.8 165.7L291.1 163.7L289.4 162.3L289.6 163.1L291.6 165.7L294.3 168.9L295.3 170.4ZM287.3 193.3L288.3 193.5L288.2 195.7L287.9 196.8L287.0 195.7L287.1 194.3ZM277.0 199.8L277.7 198.9L279.1 198.9L278.8 200.2L278.0 200.9L277.2 200.5ZM250.8 210.3L251.2 209.9L252.2 211.3L252.9 212.4L252.6 213.5L251.7 214.1L251.1 213.5L250.9 211.9ZM288.2 200.5L289.8 200.5L290.1 202.2L289.6 203.2L290.1 204.9L291.4 205.4L292.5 206.5L292.5 207.0L291.5 206.5L290.5 205.6L289.5 205.7L289.0 204.9L288.3 203.8L288.0 202.9L288.5 203.0L288.3 201.6ZM291.2 212.9L292.5 211.2L294.3 209.9L295.1 211.3L295.4 212.9L294.6 214.4L293.1 213.7L293.0 212.6L292.1 212.4ZM290.9 209.2L290.7 207.8L291.9 208.0L292.8 207.0L294.0 207.2L294.3 208.6L293.8 209.7L292.8 209.4L292.4 210.5L291.6 210.3L291.8 209.2ZM286.5 211.4L287.6 210.1L288.4 208.3L288.2 209.5L287.2 210.9ZM279.0 218.6L279.6 218.2L281.3 217.5L282.8 217.0L283.7 215.6L285.1 214.6L286.1 213.1L286.4 212.9L287.1 213.7L288.4 214.9L287.7 215.9L287.2 216.7L287.6 218.1L288.6 219.4L287.4 220.0L287.1 221.4L286.2 222.4L285.9 223.7L285.6 224.8L284.3 224.9L284.2 224.2L282.8 224.0L281.6 224.3L280.1 223.6L280.0 222.1L279.2 221.0L279.0 220.0ZM265.8 214.5L267.9 214.9L269.1 216.4L270.7 217.8L271.8 218.6L273.3 219.9L274.0 221.4L274.7 222.4L276.1 223.7L276.0 225.4L275.8 226.8L274.7 226.8L274.1 225.9L272.5 224.8L271.4 223.2L270.7 221.6L269.5 220.0L269.0 218.6L268.0 217.8L267.0 216.4ZM275.2 227.8L276.5 227.0L278.3 227.5L280.2 227.9L280.7 227.5L282.3 228.1L284.0 228.9L283.9 229.9L281.5 229.6L279.7 229.2L277.8 228.9L276.3 228.5ZM284.4 229.2L286.3 229.5L288.2 229.5L290.1 229.6L292.0 229.3L292.0 229.9L289.1 230.1L286.2 230.2L284.4 229.9ZM292.3 231.6L293.8 230.4L295.8 229.6L295.3 230.2L293.3 231.4ZM289.5 219.4L290.5 219.2L292.4 219.4L294.1 218.8L294.5 218.9L293.8 220.0L292.4 220.0L290.5 220.0L289.7 220.5L289.5 221.5L290.8 221.6L292.7 221.4L291.4 222.4L290.9 223.2L291.8 224.3L292.3 225.4L292.0 226.4L291.3 225.7L290.9 224.8L290.4 223.7L289.9 223.7L289.8 225.4L289.6 226.5L288.9 226.4L289.0 224.3L288.3 223.5L288.8 222.1L289.3 220.7ZM296.6 218.3L297.6 218.9L297.8 220.2L297.2 221.4L296.9 220.2L296.6 219.4ZM297.1 223.7L299.8 224.0L299.0 224.4L297.3 224.3ZM300.0 221.4L301.5 220.9L302.9 221.4L303.0 222.7L303.8 224.1L305.2 222.9L306.7 222.2L309.5 223.3L311.9 224.3L314.0 225.9L315.5 227.0L315.7 228.1L316.2 229.7L317.9 231.6L317.4 231.9L315.6 231.4L314.3 230.0L312.5 228.8L311.5 229.7L310.9 230.4L309.1 230.3L307.7 229.2L306.3 229.5L307.2 228.1L306.5 226.4L304.6 225.5L302.8 224.7L301.8 224.8L301.7 223.7L302.6 223.0L300.9 223.5L300.0 222.1ZM316.4 226.4L318.0 225.9L319.4 225.0L320.2 225.1L319.9 226.2L318.4 227.2L316.9 227.2ZM318.9 223.3L320.4 224.3L320.9 225.5L320.1 224.8L318.8 223.7ZM322.7 226.4L323.6 227.5L323.1 227.9L322.4 226.9ZM326.3 229.1L328.0 230.7L327.0 231.1L325.9 229.5ZM281.0 244.2L281.7 244.0L283.6 242.9L286.0 242.4L288.5 241.5L289.9 239.9L291.4 238.8L292.5 237.8L294.2 235.8L295.6 235.6L296.4 236.7L297.4 236.5L298.1 234.8L299.0 233.9L300.6 233.4L300.7 232.7L303.0 233.7L304.7 233.7L303.8 235.1L303.0 236.7L304.3 237.8L305.9 239.1L307.5 239.4L308.6 237.2L309.1 235.1L309.4 234.0L310.3 232.2L311.0 234.0L311.0 235.9L312.3 236.7L312.4 238.8L312.4 240.8L313.4 241.5L314.4 242.6L314.7 244.2L315.5 245.9L316.3 247.1L316.9 248.0L316.4 250.2L316.3 251.5L314.7 253.9L313.4 255.6L311.8 257.0L310.1 258.8L308.6 260.7L306.5 261.4L304.3 262.6L303.6 261.8L303.2 261.7L302.0 262.3L300.5 261.8L299.6 261.0L300.0 259.3L299.3 258.9L299.7 258.0L299.7 256.6L300.1 255.7L298.8 257.2L297.5 258.0L297.0 258.0L297.0 256.1L296.4 255.2L294.4 254.5L291.5 255.0L289.6 255.3L287.4 256.1L286.6 257.1L284.4 257.0L282.8 257.5L281.2 258.3L279.4 258.2L278.8 257.5L279.2 256.6L280.3 255.0L280.4 252.9L280.4 250.4L280.0 249.1L280.6 247.5L280.7 245.9ZM301.8 264.4L303.1 264.8L304.8 264.6L303.9 266.0L302.5 267.1L301.4 267.5L301.1 266.6L301.3 265.6ZM330.8 257.6L331.2 258.8L331.1 260.2L331.6 261.1L333.8 261.2L332.3 262.6L331.2 263.0L330.1 264.2L327.9 265.3L327.7 265.0L328.7 264.0L328.3 263.0L329.8 262.0L330.5 261.0L330.6 259.1ZM326.5 264.2L327.4 264.9L326.4 265.8L324.1 267.4L322.0 268.4L320.3 269.9L318.2 270.7L317.2 270.2L316.7 269.8L319.4 268.1L322.1 266.8L324.1 265.8L325.7 264.5ZM328.7 242.2L329.9 242.9L331.0 244.4L330.5 244.6L329.3 243.6ZM341.9 239.4L343.1 239.5L342.8 240.1L341.7 240.0ZM182.2 178.4L182.3 176.5L183.3 176.1L183.5 177.4L183.4 178.3ZM182.5 175.2L183.1 174.2L183.3 175.3L183.0 175.9ZM186.1 179.5L188.8 179.2L188.5 180.9L187.0 180.4ZM196.1 182.2L198.6 182.4L198.6 182.7L196.2 182.5ZM204.1 182.7L206.0 182.0L205.6 182.8L204.6 183.2ZM65.0 300.9L74.3 300.9L77.5 300.4L81.8 300.1L84.1 299.6L86.1 298.9L89.6 299.1L93.0 298.4L95.8 297.6L100.3 297.6L104.1 298.1L107.0 297.8L109.2 296.8L112.7 297.0L115.4 296.4L119.1 296.8L122.3 296.7L124.3 295.8L124.5 294.3L125.7 293.0L126.4 291.1L127.3 289.5L128.8 288.3L130.7 287.5L133.3 287.5L133.0 288.6L131.9 289.3L131.8 290.7L131.2 291.6L133.0 293.0L133.3 294.8L135.4 296.5L135.5 297.8L138.0 298.7L147.3 300.5L153.5 300.7L157.3 299.1L161.9 297.0L166.9 295.2L171.6 294.3L175.0 293.7L181.9 293.9L188.7 293.9L195.8 293.2L199.3 293.0L202.9 292.5L206.7 291.9L210.6 291.0L214.5 290.2L217.4 291.4L220.9 291.6L223.9 292.5L224.7 293.4L226.7 293.4L229.7 292.1L233.2 291.1L237.7 290.9L242.9 290.5L246.9 290.0L250.2 290.4L253.9 290.2L257.1 290.7L260.4 291.0L264.4 290.5L268.3 290.2L271.9 290.2L274.7 290.9L277.9 291.1L279.9 292.3L282.6 293.0L284.7 293.9L287.1 294.6L289.5 295.2L284.6 297.0L280.4 298.2L276.6 299.9L277.4 300.7L279.2 300.7L285.0 300.9M85.0 151.5L87.0 150.5L89.1 149.9L90.4 150.0L90.3 150.8L88.3 151.5L86.5 151.7ZM86.7 155.6L88.7 154.6L90.9 154.1L92.7 153.9L93.7 153.9L91.6 154.6L89.6 155.2L88.0 155.8ZM89.0 157.9L90.9 157.4L92.9 157.3L91.1 157.6L89.2 158.1ZM94.4 160.1L96.0 158.8L95.8 158.6L94.3 159.6ZM93.3 166.2L94.6 164.7L95.5 162.8L96.5 162.8L96.0 164.7L95.3 166.2ZM97.1 170.2L99.3 169.1L101.4 168.3L102.9 168.5L103.6 169.4L103.2 170.4L101.7 170.4L100.6 170.0L98.8 170.3ZM98.6 175.2L99.5 173.1L101.4 171.2L102.6 171.2L101.0 173.1L99.9 175.2ZM103.2 171.0L104.8 171.2L106.5 172.2L104.5 173.9L103.7 173.9L103.2 173.1L103.8 171.8ZM102.3 175.5L104.7 174.6L106.6 174.4L105.5 175.0L103.0 175.9ZM106.1 173.8L107.8 173.2L109.3 173.1L108.9 173.7L107.1 173.9ZM216.5 170.4L218.5 169.9L219.9 170.4L220.3 172.0L218.8 172.6L218.4 173.6L219.7 174.7L221.1 175.8L222.3 177.4L222.4 179.0L223.2 180.6L221.5 180.9L219.5 180.3L218.4 179.0L218.5 177.2L217.3 175.4L216.1 174.2L215.3 172.6L215.4 171.2ZM224.6 170.4L225.8 170.2L227.3 171.0L227.3 172.6L226.3 173.4L225.2 172.6ZM237.8 171.7L238.6 170.4L240.2 170.2L242.0 170.4L240.4 170.8L238.9 171.3ZM260.2 165.1L261.1 164.7L261.9 163.5L262.1 161.9L262.0 160.9L261.4 161.0L261.6 162.6L261.0 163.9ZM205.5 221.0L206.5 220.1L207.6 220.5L207.4 222.1L206.5 223.2L205.5 222.7ZM202.9 224.3L203.3 225.9L204.0 228.1L204.5 229.9L203.8 229.1L203.1 227.0L202.7 225.4ZM207.3 230.9L207.9 232.4L208.2 234.5L208.3 235.9L207.8 235.1L207.4 232.9ZM187.8 206.5L188.7 205.9L188.8 206.7L188.3 207.0ZM198.2 156.6L198.7 155.4L199.7 155.4L199.9 156.3L199.0 156.7ZM201.0 155.6L201.3 154.3L202.1 154.6L202.0 155.6ZM40.8 163.0L39.1 163.5L37.9 163.9L39.5 163.5ZM35.4 164.3L33.5 164.6L32.1 164.7ZM30.7 164.9L29.4 165.0L28.2 165.3ZM315.2 163.8L317.4 164.3L319.9 164.7ZM322.1 165.2L322.4 165.1M54.0 159.6L56.2 158.6L56.7 158.9L54.5 159.8ZM48.4 153.3L50.1 153.0L50.4 153.4L48.8 153.7ZM47.6 156.4L49.0 156.2L48.5 156.8L47.5 156.8ZM68.1 162.6L69.0 162.7L68.1 164.4L67.5 163.9ZM124.9 275.5L126.6 275.6L127.7 275.9L126.9 276.6L125.2 276.3ZM144.5 278.4L146.2 278.8L145.9 279.2ZM140.1 285.0L141.3 285.1M87.7 220.8L88.1 220.5L88.3 221.5L87.8 221.6ZM28.6 198.6L29.9 199.0L29.8 199.8L28.6 200.3L28.4 199.5ZM25.1 196.4L26.9 197.1L28.1 197.6L28.6 198.3ZM27.1 197.3L27.5 197.5M25.8 196.7L26.2 196.8M232.4 273.2L233.7 273.4L233.1 273.9L232.3 273.8ZM226.8 243.2L227.2 243.4M228.8 242.3L229.2 242.4M225.6 206.9L226.6 206.9L226.5 207.2ZM262.8 205.9L263.1 207.0L263.0 208.1L262.7 207.0ZM275.5 222.3L276.6 223.2L276.8 223.7L275.9 223.0ZM288.1 230.7L289.7 231.5L289.0 231.6ZM295.3 224.0L296.3 224.2L295.8 224.6ZM332.5 236.7L332.9 237.4L333.0 238.3ZM333.3 239.6L333.5 239.9M324.5 228.3L325.8 228.9M328.2 231.6L329.1 232.2M11.5 235.1L12.7 235.5M34.2 239.4L34.6 239.7M300.3 172.6L301.0 171.8L301.7 171.0ZM302.7 170.7L303.2 169.6L303.5 168.3ZM303.4 167.3L303.8 166.5L303.7 165.9ZM293.3 192.3L293.6 191.6M294.1 190.1L294.4 189.8M177.1 177.9L178.0 177.5L177.8 178.0ZM189.3 159.6L189.8 158.7L189.7 159.3ZM183.9 161.3L184.7 160.5L184.9 161.3L184.4 161.8ZM159.5 190.0L160.1 189.8L159.9 190.3ZM161.9 189.8L162.3 189.4M152.6 204.2L152.9 204.4M152.1 179.7L152.6 179.7M159.4 185.1L159.8 185.2M169.6 154.4L170.0 154.6M173.9 156.1L174.1 156.6M168.9 146.3L169.6 146.1M186.8 161.4L187.0 161.5M112.1 160.1L112.6 160.6L112.6 159.8ZM121.5 166.9L123.4 167.5L122.5 167.6ZM120.7 170.1L122.2 170.6L121.5 170.9ZM110.3 176.6L112.0 176.2L111.5 176.5ZM102.4 191.7L103.3 191.9L102.8 193.3ZM102.5 194.1L102.7 194.6L102.3 194.4ZM116.3 209.0L117.1 208.8L117.1 209.6L116.3 209.6ZM126.8 220.7L128.2 220.8L128.5 221.8L127.0 222.1ZM110.4 265.7L111.1 266.0L111.3 267.3L110.6 266.8ZM106.3 148.0L108.3 147.3L108.5 147.8L107.0 148.4ZM108.2 142.8L112.3 141.4L113.6 141.9L112.0 142.8ZM112.6 143.1L115.0 142.3L114.7 143.0ZM97.8 141.9L101.8 140.9L102.1 141.5L99.4 142.1ZM110.6 140.3L114.9 139.4L115.8 140.1L112.2 140.5ZM121.5 144.5L123.9 143.9L124.3 144.6L122.5 144.9ZM113.4 153.9L115.0 153.8L115.4 154.3L113.4 154.4ZM115.1 154.4L115.7 154.4L115.2 155.0ZM108.8 163.6L109.6 163.7L109.2 164.0ZM137.4 147.6L139.4 146.9L139.1 147.7Z" fill="none" stroke="#000" stroke-width="0.75" stroke-linejoin="round"/>
<path d="M266.43 133.50 L269.62 134.38 L273.30 135.58 L277.38 137.05 L281.74 138.77 L286.26 140.69 L290.66 142.76 L294.70 144.90 L298.46 147.12 L302.04 149.40 L305.52 151.74 L308.90 154.14 L312.20 156.59 L315.39 159.08 L318.45 161.61 L321.37 164.17 L324.11 166.77 L326.61 169.39 L328.97 172.03 L331.22 174.69 L333.33 177.37 L335.23 180.05 L336.96 182.74 L338.53 185.44 L339.93 188.14 L341.14 190.83 L342.16 193.53 L343.00 196.23 L343.74 198.92 L344.45 201.62 L345.08 204.32 L345.60 207.01 L346.01 209.71 L346.33 212.41 L346.56 215.11 L346.72 217.80 L346.80 220.50 L346.72 223.20 L346.56 225.89 L346.33 228.59 L346.01 231.29 L345.60 233.99 L345.08 236.68 L344.45 239.38 L343.74 242.08 L343.00 244.77 L342.16 247.47 L341.14 250.17 L339.93 252.86 L338.53 255.56 L336.96 258.26 L335.23 260.95 L333.33 263.63 L331.22 266.31 L328.97 268.97 L326.61 271.61 L324.11 274.23 L321.37 276.83 L318.45 279.39 L315.39 281.92 L312.20 284.41 L308.90 286.86 L305.52 289.26 L302.04 291.60 L298.46 293.88 L294.70 296.10 L290.66 298.24 L286.26 300.31 L281.74 302.23 L277.38 303.95 L273.30 305.42 L269.62 306.62 L266.43 307.50 L83.57 307.50 L80.38 306.62 L76.70 305.42 L72.62 303.95 L68.26 302.23 L63.74 300.31 L59.34 298.24 L55.30 296.10 L51.54 293.88 L47.96 291.60 L44.48 289.26 L41.10 286.86 L37.80 284.41 L34.61 281.92 L31.55 279.39 L28.63 276.83 L25.89 274.23 L23.39 271.61 L21.03 268.97 L18.78 266.31 L16.67 263.63 L14.77 260.95 L13.04 258.26 L11.47 255.56 L10.07 252.86 L8.86 250.17 L7.84 247.47 L7.00 244.77 L6.26 242.08 L5.55 239.38 L4.92 236.68 L4.40 233.99 L3.99 231.29 L3.67 228.59 L3.44 225.89 L3.28 223.20 L3.20 220.50 L3.28 217.80 L3.44 215.11 L3.67 212.41 L3.99 209.71 L4.40 207.01 L4.92 204.32 L5.55 201.62 L6.26 198.92 L7.00 196.23 L7.84 193.53 L8.86 190.83 L10.07 188.14 L11.47 185.44 L13.04 182.74 L14.77 180.05 L16.67 177.37 L18.78 174.69 L21.03 172.03 L23.39 169.39 L25.89 166.77 L28.63 164.17 L31.55 161.61 L34.61 159.08 L37.80 156.59 L41.10 154.14 L44.48 151.74 L47.96 149.40 L51.54 147.12 L55.30 144.90 L59.34 142.76 L63.74 140.69 L68.26 138.77 L72.62 137.05 L76.70 135.58 L80.38 134.38 L83.57 133.50Z" fill="none" stroke="#000" stroke-width="0.7"/>
</g>
<g transform="translate(350 277)">
<path d="M54.0 151.2L58.5 148.7L62.3 147.7L67.0 146.4L69.3 146.0L71.7 146.4L74.0 146.8L77.8 147.5L79.9 148.0L82.2 147.6L85.2 147.1L87.5 146.8L89.1 147.3L91.6 147.5L93.8 148.0L94.8 148.8L97.0 149.0L99.1 148.7L99.3 149.6L102.0 148.9L103.5 149.2L105.9 148.9L107.4 148.4L109.0 147.3L111.3 145.5L112.0 145.8L111.6 147.1L112.1 147.7L112.3 148.4L113.4 148.8L113.2 149.5L115.2 148.4L116.5 147.4L118.2 147.4L118.2 148.4L116.9 149.6L115.3 150.5L113.4 150.6L112.1 151.5L110.3 152.5L108.1 153.1L105.5 154.6L103.5 156.1L101.9 157.8L103.2 158.0L102.5 159.6L104.5 159.6L105.9 160.6L107.4 161.3L109.5 161.5L108.4 163.7L108.8 164.9L109.5 165.5L110.8 164.5L111.5 162.6L111.5 161.8L113.5 161.0L115.0 159.6L115.3 158.1L115.4 156.6L116.5 155.1L117.1 154.2L119.4 154.4L121.1 155.4L122.2 155.8L121.3 157.6L122.3 158.3L123.7 157.8L125.1 156.8L125.9 156.3L126.4 158.0L126.7 159.4L127.0 161.0L128.7 161.9L129.0 163.0L129.6 164.4L128.5 165.2L126.6 165.7L125.4 166.5L122.9 166.6L120.0 166.6L117.9 167.8L115.8 169.6L117.1 168.9L119.1 167.9L121.2 167.7L121.0 168.5L119.9 169.1L120.2 169.9L120.1 170.8L121.4 171.2L122.6 171.3L123.8 170.1L124.1 171.0L122.7 171.7L120.6 172.5L118.5 173.5L118.1 172.8L119.5 171.8L118.2 171.9L117.1 172.5L115.7 173.0L114.5 173.5L113.6 174.6L114.0 175.4L112.8 175.8L111.6 176.2L110.1 176.7L109.7 177.8L108.6 178.7L107.7 179.9L107.0 180.7L107.1 182.3L105.9 183.1L104.5 183.9L103.1 184.8L101.5 185.9L100.6 187.5L100.8 189.9L100.9 191.6L100.5 193.1L99.7 193.3L99.3 192.1L98.7 190.6L98.9 189.2L98.0 188.1L96.7 188.5L95.8 187.7L94.4 187.8L93.0 187.9L93.0 189.1L91.9 189.0L90.6 188.6L88.8 188.5L87.5 189.3L85.5 190.5L84.8 192.5L84.0 194.6L83.7 196.4L83.9 198.1L84.6 199.7L85.7 200.4L86.6 200.9L88.5 200.4L89.7 199.8L90.4 198.0L92.2 197.3L93.7 197.3L92.9 199.4L92.4 200.8L91.8 202.2L91.2 203.3L92.3 203.5L93.8 203.3L95.4 203.5L96.3 204.3L95.8 206.5L95.5 208.6L96.1 209.7L96.8 210.8L98.0 211.0L99.2 210.3L100.4 210.4L101.5 211.2L101.9 211.9L102.8 210.5L103.3 209.2L104.0 208.6L105.7 208.2L107.0 207.1L107.4 207.9L106.8 208.6L107.1 210.5L107.6 208.8L108.6 208.1L108.6 207.3L109.3 208.1L110.2 209.1L112.3 209.1L113.7 209.5L116.1 209.0L116.2 209.7L117.2 211.3L118.9 211.9L120.2 213.7L122.6 214.1L124.7 214.8L125.9 215.9L126.8 218.3L127.3 219.9L126.3 221.0L128.4 220.7L129.2 221.4L131.1 221.8L132.6 223.2L134.9 223.5L136.8 223.5L138.3 224.5L139.7 225.7L141.4 226.1L141.9 228.1L141.7 230.2L140.3 231.8L139.4 233.2L138.5 234.5L138.1 236.7L138.3 239.4L137.7 241.5L136.9 243.7L135.8 245.3L134.4 245.3L133.1 246.1L131.7 246.6L130.5 247.8L130.0 249.1L130.1 251.0L129.2 252.9L128.3 254.5L127.4 256.1L126.6 257.4L125.5 258.2L123.6 257.8L122.3 257.4L123.7 259.1L124.2 260.0L123.8 261.7L121.9 262.5L120.0 262.5L120.4 264.3L119.2 264.9L118.1 264.7L118.5 266.1L119.7 266.3L118.7 267.4L119.0 269.0L117.6 270.0L119.3 271.4L119.7 272.3L118.9 273.9L118.1 274.9L118.5 276.0L119.3 276.7L119.8 277.5L121.2 278.6L122.9 279.1L122.0 279.5L120.6 279.9L118.9 279.6L117.3 278.7L115.6 277.7L114.2 276.5L112.9 274.8L111.9 273.0L112.3 271.7L111.0 270.8L111.8 269.3L111.9 267.9L111.7 266.0L110.6 265.5L110.3 264.2L110.3 263.1L109.4 260.7L109.7 258.9L110.0 256.3L109.6 253.4L109.3 251.2L109.5 248.5L109.4 245.9L109.3 243.2L108.9 240.3L107.7 239.2L105.7 238.2L104.0 237.0L102.8 235.4L101.8 233.4L100.6 231.3L99.8 229.3L98.8 227.7L97.6 227.0L97.5 225.4L98.4 224.2L98.8 223.2L97.8 222.9L98.0 221.6L98.6 220.0L99.6 219.2L99.8 218.6L101.0 217.0L101.4 216.2L101.2 214.6L101.3 213.3L100.8 212.7L101.1 212.0L100.5 211.5L99.4 210.8L98.6 211.7L98.4 212.6L97.4 212.2L96.2 211.7L95.6 211.3L94.4 209.9L93.5 209.6L93.7 208.6L92.6 206.8L92.0 206.2L90.3 205.9L88.4 205.4L87.1 204.1L85.9 203.0L84.4 203.6L82.6 203.0L80.8 202.2L79.1 201.1L77.3 200.0L76.1 198.7L76.5 197.3L75.7 195.4L74.7 193.5L73.8 191.9L73.0 190.8L72.1 189.2L71.8 187.1L70.5 186.3L70.0 188.1L71.0 189.8L71.5 191.4L72.0 193.0L72.6 194.6L72.9 195.6L72.4 195.8L70.9 193.9L70.4 191.9L69.4 190.6L69.5 188.7L69.0 187.4L68.7 185.4L68.1 184.0L66.4 183.3L66.1 181.1L66.1 179.7L65.8 177.9L65.9 176.9L66.9 175.2L68.6 172.6L69.7 170.8L70.6 168.4L71.9 168.7L71.7 169.6L72.6 167.8L71.9 166.8L70.6 165.7L70.9 164.2L70.8 162.3L71.0 161.1L70.4 159.6L70.1 158.3L69.0 157.8L68.5 156.8L66.0 156.6L64.6 155.8L62.2 156.6L58.8 157.3L62.0 155.4L59.3 156.1L56.0 158.1L52.4 159.6L49.7 160.6L46.9 161.4L44.8 161.9L43.2 162.0L46.8 160.8L49.2 160.0L52.9 158.4L54.0 157.8L52.1 158.1L50.0 157.9L51.5 156.6L50.1 155.9L50.9 154.6L53.0 153.7L56.6 153.1L57.6 152.2L56.2 152.2L53.9 152.1L54.0 151.2ZM130.4 140.1L134.7 138.8L140.6 137.4L149.5 136.9L158.2 136.4L163.5 137.5L168.1 137.7L164.2 139.1L163.2 141.1L162.1 142.8L160.4 144.9L160.0 146.7L157.7 148.0L154.0 148.8L151.6 149.9L148.4 151.1L146.0 151.7L143.8 154.1L141.8 156.6L140.2 155.9L138.5 155.4L137.8 153.2L137.5 151.3L137.0 149.9L138.0 148.5L139.8 147.6L137.8 146.7L138.4 144.9L138.1 143.2L137.0 141.9L133.2 141.9L131.0 141.5L131.1 140.7ZM127.3 153.7L125.7 154.6L124.4 154.1L122.7 153.2L121.1 152.2L118.3 151.9L119.5 151.3L121.6 151.3L122.7 150.0L123.8 148.9L122.3 148.0L120.8 147.1L117.4 147.1L115.4 146.2L115.1 145.3L116.6 144.0L119.4 143.8L122.0 143.9L124.0 144.6L125.3 145.5L126.9 146.2L128.1 146.9L128.5 148.0L129.8 149.4L131.2 150.1L129.0 151.7ZM96.2 145.8L100.8 144.6L104.5 144.3L105.1 145.3L105.4 147.1L102.7 148.2L99.8 148.3L96.2 148.4L94.8 147.7L94.9 146.7ZM91.3 145.3L95.2 143.4L98.6 143.4L98.4 144.5L95.2 145.5L92.2 146.0ZM118.5 141.5L121.5 139.9L120.9 138.4L124.5 137.4L132.7 136.7L139.2 137.1L139.1 137.7L135.0 138.4L131.0 139.5L127.4 140.7L124.6 141.7L121.6 141.5ZM116.8 141.9L118.2 142.3L123.3 143.1L124.1 142.2L121.4 141.7L117.4 141.3ZM100.5 142.8L104.3 141.8L107.9 141.9L106.9 142.8L103.9 143.1L101.3 143.1ZM111.0 145.1L112.6 143.8L115.6 143.7L115.1 144.6L112.8 145.3ZM106.7 145.3L108.7 144.0L111.1 143.9L110.1 145.3L107.8 146.0ZM111.3 152.7L113.0 151.3L114.6 151.0L115.8 152.5L115.0 153.2L112.6 153.5ZM117.2 139.9L120.3 138.4L122.8 138.8L122.1 139.9ZM125.1 169.3L126.7 167.6L128.1 165.9L129.5 165.1L128.8 166.8L130.2 167.4L130.5 168.9L130.1 170.2L128.5 170.0L127.9 169.3ZM95.6 197.0L97.6 195.8L98.3 195.5L100.4 195.7L102.6 197.0L104.3 198.1L105.5 198.7L104.7 199.0L102.3 199.0L102.0 198.2L100.7 197.2L98.5 196.3L97.0 196.8ZM105.1 200.7L106.3 199.0L108.0 199.0L109.5 199.5L110.7 200.4L109.2 200.8L107.7 201.4L106.4 200.9ZM101.4 200.7L102.6 200.5L103.3 201.1L102.4 201.3ZM111.8 200.7L113.2 200.7L113.2 201.1L111.8 201.1ZM69.3 165.9L71.0 166.2L71.9 167.3L71.6 168.4L70.3 167.9L69.4 166.8ZM169.7 181.9L170.2 181.8L172.3 182.4L173.2 182.6L175.0 181.9L175.9 181.1L177.7 180.8L179.5 180.8L181.7 180.6L183.7 180.3L184.2 180.8L184.8 180.6L184.5 181.9L184.9 182.5L184.2 183.5L184.1 184.0L185.0 184.6L185.9 185.1L187.0 185.0L188.8 185.7L189.1 186.5L191.0 187.2L192.4 187.8L193.3 187.1L193.2 185.7L194.5 185.0L195.9 185.3L197.8 186.3L199.6 186.7L201.5 187.2L202.8 186.6L204.5 186.7L204.8 188.1L204.9 188.7L205.9 190.5L206.4 191.7L207.5 193.7L208.2 195.1L209.4 196.8L209.8 198.4L210.0 199.4L211.2 201.1L212.3 203.7L213.8 204.9L215.3 206.5L215.9 207.0L216.1 208.1L217.3 209.3L218.7 208.8L220.6 208.5L222.4 208.1L223.6 207.8L223.4 209.3L223.0 210.8L222.1 212.9L221.2 215.1L219.8 217.3L218.2 218.3L216.5 220.0L215.1 221.6L214.1 222.7L213.2 223.7L212.9 224.8L212.2 226.4L212.4 227.8L212.6 229.7L213.0 231.6L213.4 232.4L213.5 234.5L213.5 236.7L212.2 238.3L210.3 239.4L209.3 240.8L207.8 241.9L208.0 243.7L208.1 245.9L206.1 247.7L205.3 248.5L205.3 250.2L204.4 251.8L203.4 252.9L201.9 254.8L200.4 256.1L198.2 257.2L195.3 257.4L193.0 258.0L191.7 257.4L191.3 255.8L191.7 254.5L190.6 252.3L190.2 251.4L189.1 249.6L188.7 247.5L188.5 245.1L187.6 243.2L186.7 240.8L186.1 239.1L186.1 237.2L186.8 235.6L187.7 234.0L188.1 232.4L187.6 230.2L187.4 228.6L186.7 227.0L186.4 225.7L185.5 224.6L184.1 223.0L183.6 221.6L183.9 220.2L184.3 218.9L184.3 217.3L184.2 216.2L183.1 215.6L181.7 215.8L180.7 215.9L179.8 214.2L179.3 213.7L178.2 213.6L176.4 213.8L175.0 214.4L173.6 215.1L173.1 215.3L172.1 215.0L170.7 214.9L169.3 215.3L167.8 215.8L166.4 215.1L164.7 213.7L163.1 212.4L162.4 211.3L162.0 210.3L160.8 208.8L159.8 207.8L159.2 207.0L159.2 205.9L158.5 204.6L159.4 203.2L159.8 201.1L159.5 199.5L159.1 197.8L159.9 196.2L160.1 194.9L161.1 194.1L161.6 192.2L162.8 190.5L164.4 189.8L165.8 188.7L166.1 187.6L166.1 186.5L166.8 185.2L168.1 184.3L169.1 183.5ZM221.8 233.4L222.5 237.2L221.6 239.4L220.7 242.1L219.6 245.3L218.6 247.5L216.9 248.0L215.9 247.5L215.5 245.9L215.7 243.7L216.5 242.1L216.4 239.9L217.0 238.0L218.7 237.4L220.2 236.4L220.9 235.1ZM170.0 181.7L169.4 180.9L168.4 180.4L167.1 180.6L167.2 179.0L166.6 178.7L167.2 176.8L167.3 175.2L167.0 174.2L168.1 173.4L170.0 173.5L171.7 173.6L173.4 173.7L173.9 172.6L174.1 171.3L173.3 169.9L172.6 169.4L171.2 169.0L171.1 168.3L172.5 168.0L173.7 168.1L173.6 167.1L175.0 167.4L175.2 167.1L176.2 166.6L176.4 165.7L177.9 165.2L178.5 164.5L178.9 163.7L179.8 163.2L180.6 163.0L181.8 162.8L181.9 161.6L181.5 161.0L181.4 159.6L182.6 159.1L183.3 158.9L183.2 160.1L183.5 160.4L183.2 161.1L182.8 161.6L183.0 162.1L183.8 162.6L184.6 162.4L185.8 162.1L186.5 162.6L187.8 162.3L189.8 161.9L190.8 162.1L191.7 161.4L191.5 160.1L191.8 159.1L192.5 158.9L193.8 159.4L193.9 158.3L193.0 157.4L194.1 157.1L196.4 157.0L198.0 156.7L196.6 156.0L194.7 156.2L194.0 156.5L192.5 156.7L191.1 155.8L191.1 154.6L190.7 153.7L191.5 152.9L192.8 151.9L193.2 151.3L192.3 151.0L191.0 151.1L190.7 152.2L190.1 153.0L188.7 153.7L188.1 154.6L188.0 155.8L189.1 156.3L189.4 157.1L188.8 157.6L188.0 158.6L187.9 159.6L187.6 160.4L186.5 160.6L186.3 161.2L185.3 161.2L185.0 160.6L184.8 159.8L184.2 158.9L183.6 157.6L183.2 157.1L182.3 157.7L181.2 158.5L180.0 158.5L179.2 157.8L178.8 156.3L178.7 154.8L179.8 153.9L181.3 153.2L182.6 152.8L183.3 151.7L184.0 150.8L184.9 149.6L185.8 148.7L187.1 147.8L188.1 147.3L190.0 146.8L191.3 146.2L192.5 146.1L194.0 146.2L196.2 146.8L195.6 147.4L197.8 147.7L200.0 148.0L203.1 149.1L204.2 150.1L203.6 150.6L202.2 150.7L199.6 150.3L198.1 149.9L199.9 151.3L200.6 152.4L202.5 152.9L202.7 152.3L204.5 152.2L203.9 151.3L205.0 150.5L206.5 150.6L206.1 149.4L205.4 148.5L207.3 148.9L208.1 150.0L208.8 149.3L212.0 148.5L212.8 148.8L214.7 148.4L216.7 148.2L216.6 147.3L219.3 147.7L221.6 148.2L222.9 148.7L221.1 147.4L220.3 146.2L220.6 144.9L221.2 144.5L223.2 144.9L224.3 146.2L225.0 148.0L225.9 148.9L227.3 150.0L227.3 148.9L226.1 147.6L224.8 146.2L225.2 145.3L226.9 144.9L228.9 145.3L230.6 146.2L231.6 146.7L229.5 144.9L227.8 144.0L231.3 143.2L232.4 142.3L235.1 141.9L237.8 141.5L239.1 140.5L241.7 141.1L244.7 141.5L247.4 142.3L248.6 143.6L246.9 143.8L249.2 144.0L252.4 144.0L256.0 144.0L258.9 144.5L259.0 145.1L262.2 145.8L264.6 145.8L267.5 146.0L268.1 144.9L271.7 145.1L276.0 145.8L280.0 146.2L284.7 147.1L286.6 147.5L290.2 147.1L291.9 147.1L293.7 148.0L296.0 147.3L299.9 148.0L305.5 151.7L305.5 152.2L304.1 152.0L308.3 153.9L306.1 154.8L304.9 155.6L304.6 156.6L301.5 156.6L301.4 158.1L303.3 160.1L304.1 161.6L304.4 163.5L304.2 164.7L303.9 165.7L301.4 163.7L298.4 161.1L297.1 159.1L296.8 157.1L297.1 156.1L297.2 154.6L295.2 155.1L292.6 155.1L293.7 157.1L291.9 157.6L289.1 157.1L286.3 157.3L284.6 157.6L284.2 159.1L284.6 161.6L285.3 162.8L286.7 162.6L288.9 163.3L290.3 164.7L291.0 166.2L292.4 168.3L292.4 170.4L291.7 172.6L290.2 174.4L288.9 173.9L288.6 174.9L288.5 176.3L288.6 176.8L287.4 177.6L287.5 178.2L288.8 179.0L290.4 180.6L291.2 182.2L291.0 182.6L289.9 183.1L288.9 183.3L288.3 181.7L287.9 180.4L286.6 179.7L285.8 179.0L285.5 177.9L284.3 177.4L283.1 178.1L282.3 178.7L282.0 176.8L280.9 176.4L280.2 177.6L279.2 178.2L279.3 179.0L280.6 179.7L281.5 180.4L282.4 179.7L284.1 180.2L283.2 181.1L282.8 181.7L282.3 182.7L283.4 183.8L284.6 185.1L285.9 186.2L286.4 187.2L285.6 187.8L286.9 188.4L286.8 189.8L286.3 191.0L285.9 192.5L285.4 193.6L284.7 194.3L283.9 195.4L282.3 196.0L281.4 196.4L280.6 196.8L278.8 197.4L278.2 197.6L278.3 198.6L277.7 197.4L276.4 197.1L275.1 197.8L274.8 198.7L274.3 199.7L274.4 200.5L275.8 202.2L277.2 203.2L278.1 204.9L278.5 206.5L278.7 207.8L277.5 208.8L276.6 209.3L276.4 210.3L275.1 211.1L274.7 211.2L274.8 209.7L273.8 209.2L272.7 208.3L272.2 207.4L270.7 206.8L270.5 205.9L269.7 206.2L269.7 207.6L269.3 208.6L269.4 210.3L270.1 211.1L270.7 212.7L271.9 213.3L272.6 213.9L273.6 215.3L273.7 217.3L274.4 219.0L273.8 219.1L272.3 218.0L271.6 217.3L271.0 215.9L270.6 214.6L270.2 213.2L269.5 212.4L268.5 211.9L268.6 209.7L268.6 207.6L267.7 205.4L267.2 203.5L266.9 202.6L265.7 202.6L264.9 203.5L264.0 203.2L263.9 201.3L263.0 199.5L261.9 198.4L261.0 197.0L260.6 196.2L259.5 196.4L258.2 197.0L256.8 197.2L256.4 198.2L256.1 198.9L254.8 199.8L254.0 200.9L252.7 202.4L251.7 203.2L250.8 204.0L251.1 206.4L250.8 207.8L250.9 209.4L250.1 210.5L249.4 211.0L248.7 211.8L247.7 210.8L247.2 209.2L246.6 207.8L245.9 206.5L245.2 204.5L244.3 203.0L243.7 201.1L243.4 200.0L243.1 198.4L242.9 197.1L242.6 197.8L241.5 198.1L240.5 197.6L239.4 196.4L240.5 195.9L239.1 195.4L238.5 194.8L237.6 194.1L236.9 193.5L234.9 193.2L232.6 193.3L230.7 193.2L228.8 192.9L227.9 191.6L227.2 191.2L225.9 191.7L224.5 191.6L223.5 190.8L222.3 190.3L221.7 189.2L220.8 187.9L219.7 187.7L219.4 188.1L219.0 188.7L219.7 189.8L220.7 191.0L221.5 191.9L222.0 193.0L222.5 192.5L222.8 193.2L222.7 194.1L223.8 194.4L225.2 194.4L226.3 193.2L227.0 192.2L227.5 193.5L228.0 194.6L229.5 195.0L230.8 196.2L230.0 198.4L229.3 200.0L228.6 201.1L227.1 201.8L225.9 202.2L224.3 203.2L222.2 204.3L220.4 205.4L217.6 206.7L216.2 206.8L215.7 205.4L215.3 203.8L215.1 202.4L213.7 200.5L212.5 198.6L211.7 197.3L210.9 195.1L209.7 193.9L208.8 192.5L207.8 190.8L207.1 190.1L207.1 188.7L206.6 190.5L205.5 189.4L204.8 188.1L204.5 186.7L206.2 186.7L206.8 185.1L207.1 183.9L207.1 182.2L207.3 180.9L205.8 180.9L204.6 181.6L203.6 181.3L202.4 180.8L201.4 181.3L200.0 180.9L199.3 180.4L198.9 179.2L198.2 178.1L198.0 177.4L199.1 176.9L200.4 176.8L200.4 176.2L202.5 176.1L204.2 175.2L205.5 175.2L206.9 176.0L208.7 176.4L210.0 176.3L211.2 175.8L211.0 174.5L209.5 173.6L207.6 172.6L206.6 171.8L207.3 171.0L208.1 169.7L206.7 169.9L204.9 170.7L204.8 171.5L206.2 171.7L205.2 172.0L204.2 172.7L203.7 172.5L202.9 171.5L203.5 171.0L202.2 170.8L201.3 170.3L200.6 171.5L200.3 172.0L199.7 172.9L199.2 173.9L199.2 174.9L199.6 175.7L200.3 176.1L199.1 176.3L198.2 176.7L197.8 176.5L196.9 176.4L196.0 176.6L195.7 177.4L195.0 176.8L195.1 178.1L195.8 179.0L196.3 179.5L196.1 179.6L195.5 180.0L195.7 181.1L195.0 181.1L194.4 180.8L193.9 179.7L193.8 179.2L193.4 178.4L192.6 177.6L192.0 176.8L192.0 175.8L191.5 175.0L190.1 174.2L188.8 173.5L187.9 172.6L187.2 171.7L186.6 172.0L186.7 171.3L185.5 171.6L185.6 172.6L186.7 173.5L187.3 174.7L188.9 175.3L189.7 176.1L190.8 176.7L191.3 177.3L190.2 176.9L189.7 177.6L190.1 178.4L189.6 179.1L188.9 179.5L189.2 178.7L188.9 177.6L188.2 177.2L187.5 176.5L186.4 176.0L185.6 175.4L184.5 174.7L183.9 173.6L183.3 173.0L182.6 172.7L181.9 173.2L181.3 173.4L180.2 174.1L179.1 173.7L178.0 173.8L177.6 174.7L177.8 175.3L176.9 175.9L175.7 176.5L175.0 177.6L174.7 178.0L175.2 178.7L174.6 179.2L174.3 179.9L173.0 180.9L171.1 180.9L170.3 181.6ZM49.9 148.1L51.2 148.7L52.2 149.9L53.3 150.6L49.1 152.3L47.3 152.0L46.3 151.3L44.8 151.6M170.3 166.7L172.1 166.5L173.8 166.0L176.1 165.5L176.4 164.0L175.2 163.7L174.8 162.6L173.8 161.6L173.4 160.6L173.0 160.1L173.4 159.0L171.9 158.9L172.7 158.0L171.1 158.0L170.5 159.1L170.1 160.1L170.6 161.1L171.2 161.8L172.4 161.8L172.6 163.1L171.4 163.3L171.5 164.5L170.7 164.9L172.1 165.3L172.5 165.5L171.3 165.8ZM169.9 164.5L170.0 163.3L170.4 162.1L169.8 161.4L168.5 161.4L168.2 162.2L167.0 162.4L167.1 163.3L167.3 164.2L166.6 164.9L167.2 165.2L168.5 164.9ZM157.5 151.3L158.9 150.4L160.7 150.8L162.1 150.6L163.6 150.3L164.5 150.8L165.2 151.6L164.2 152.4L162.5 153.0L161.0 153.3L159.6 152.9L158.4 152.8L158.9 152.3L157.6 151.8L158.7 151.5ZM181.6 139.1L183.9 138.8L187.4 138.6L191.0 138.8L189.5 139.5L186.6 139.9L188.2 140.3L186.3 141.3L184.3 141.1L183.3 140.3ZM202.1 138.4L205.3 138.1L209.7 137.7L212.3 138.1L209.3 138.6L204.6 138.8ZM209.6 145.6L209.8 144.0L211.0 142.8L213.4 141.7L217.4 141.1L218.3 141.5L214.7 142.6L212.8 143.6L212.3 145.1L214.1 146.5L211.3 146.4ZM232.3 139.5L231.6 138.1L236.2 138.4L238.9 139.5L238.6 140.1L235.7 140.3ZM262.8 142.6L263.0 141.9L268.0 142.3L271.4 142.8L269.5 143.2L267.6 143.6L264.3 143.2ZM296.0 146.2L296.2 145.8L297.1 146.3M53.8 145.8L55.2 146.0L52.9 146.3M292.8 184.4L292.6 184.9L293.8 186.7L294.2 187.1L294.7 186.6L294.5 184.9L294.8 184.6L295.7 185.1L296.8 184.0L297.8 184.4L298.3 183.3L299.5 183.2L300.0 183.1L300.8 182.7L301.3 182.0L300.6 180.6L300.5 179.2L300.2 177.8L298.6 176.0L297.8 176.3L298.1 177.4L298.7 178.7L298.4 179.7L297.6 180.8L297.0 180.2L297.1 180.9L297.0 182.0L296.2 182.1L294.4 182.2L293.8 182.8L293.2 183.5L293.2 183.8ZM297.2 175.8L297.4 174.7L299.5 175.2L300.8 173.9L299.8 172.9L297.8 172.8L296.0 171.6L297.3 173.8L296.3 173.9L296.6 174.9ZM295.7 171.0L296.4 170.1L294.9 168.9L295.5 167.8L292.8 165.7L291.1 163.7L289.4 162.3L289.6 163.1L291.6 165.7L294.3 168.9L295.3 170.4ZM287.3 193.3L288.3 193.5L288.2 195.7L287.9 196.8L287.0 195.7L287.1 194.3ZM277.0 199.8L277.7 198.9L279.1 198.9L278.8 200.2L278.0 200.9L277.2 200.5ZM250.8 210.3L251.2 209.9L252.2 211.3L252.9 212.4L252.6 213.5L251.7 214.1L251.1 213.5L250.9 211.9ZM288.2 200.5L289.8 200.5L290.1 202.2L289.6 203.2L290.1 204.9L291.4 205.4L292.5 206.5L292.5 207.0L291.5 206.5L290.5 205.6L289.5 205.7L289.0 204.9L288.3 203.8L288.0 202.9L288.5 203.0L288.3 201.6ZM291.2 212.9L292.5 211.2L294.3 209.9L295.1 211.3L295.4 212.9L294.6 214.4L293.1 213.7L293.0 212.6L292.1 212.4ZM290.9 209.2L290.7 207.8L291.9 208.0L292.8 207.0L294.0 207.2L294.3 208.6L293.8 209.7L292.8 209.4L292.4 210.5L291.6 210.3L291.8 209.2ZM286.5 211.4L287.6 210.1L288.4 208.3L288.2 209.5L287.2 210.9ZM279.0 218.6L279.6 218.2L281.3 217.5L282.8 217.0L283.7 215.6L285.1 214.6L286.1 213.1L286.4 212.9L287.1 213.7L288.4 214.9L287.7 215.9L287.2 216.7L287.6 218.1L288.6 219.4L287.4 220.0L287.1 221.4L286.2 222.4L285.9 223.7L285.6 224.8L284.3 224.9L284.2 224.2L282.8 224.0L281.6 224.3L280.1 223.6L280.0 222.1L279.2 221.0L279.0 220.0ZM265.8 214.5L267.9 214.9L269.1 216.4L270.7 217.8L271.8 218.6L273.3 219.9L274.0 221.4L274.7 222.4L276.1 223.7L276.0 225.4L275.8 226.8L274.7 226.8L274.1 225.9L272.5 224.8L271.4 223.2L270.7 221.6L269.5 220.0L269.0 218.6L268.0 217.8L267.0 216.4ZM275.2 227.8L276.5 227.0L278.3 227.5L280.2 227.9L280.7 227.5L282.3 228.1L284.0 228.9L283.9 229.9L281.5 229.6L279.7 229.2L277.8 228.9L276.3 228.5ZM284.4 229.2L286.3 229.5L288.2 229.5L290.1 229.6L292.0 229.3L292.0 229.9L289.1 230.1L286.2 230.2L284.4 229.9ZM292.3 231.6L293.8 230.4L295.8 229.6L295.3 230.2L293.3 231.4ZM289.5 219.4L290.5 219.2L292.4 219.4L294.1 218.8L294.5 218.9L293.8 220.0L292.4 220.0L290.5 220.0L289.7 220.5L289.5 221.5L290.8 221.6L292.7 221.4L291.4 222.4L290.9 223.2L291.8 224.3L292.3 225.4L292.0 226.4L291.3 225.7L290.9 224.8L290.4 223.7L289.9 223.7L289.8 225.4L289.6 226.5L288.9 226.4L289.0 224.3L288.3 223.5L288.8 222.1L289.3 220.7ZM296.6 218.3L297.6 218.9L297.8 220.2L297.2 221.4L296.9 220.2L296.6 219.4ZM297.1 223.7L299.8 224.0L299.0 224.4L297.3 224.3ZM300.0 221.4L301.5 220.9L302.9 221.4L303.0 222.7L303.8 224.1L305.2 222.9L306.7 222.2L309.5 223.3L311.9 224.3L314.0 225.9L315.5 227.0L315.7 228.1L316.2 229.7L317.9 231.6L317.4 231.9L315.6 231.4L314.3 230.0L312.5 228.8L311.5 229.7L310.9 230.4L309.1 230.3L307.7 229.2L306.3 229.5L307.2 228.1L306.5 226.4L304.6 225.5L302.8 224.7L301.8 224.8L301.7 223.7L302.6 223.0L300.9 223.5L300.0 222.1ZM316.4 226.4L318.0 225.9L319.4 225.0L320.2 225.1L319.9 226.2L318.4 227.2L316.9 227.2ZM318.9 223.3L320.4 224.3L320.9 225.5L320.1 224.8L318.8 223.7ZM322.7 226.4L323.6 227.5L323.1 227.9L322.4 226.9ZM326.3 229.1L328.0 230.7L327.0 231.1L325.9 229.5ZM281.0 244.2L281.7 244.0L283.6 242.9L286.0 242.4L288.5 241.5L289.9 239.9L291.4 238.8L292.5 237.8L294.2 235.8L295.6 235.6L296.4 236.7L297.4 236.5L298.1 234.8L299.0 233.9L300.6 233.4L300.7 232.7L303.0 233.7L304.7 233.7L303.8 235.1L303.0 236.7L304.3 237.8L305.9 239.1L307.5 239.4L308.6 237.2L309.1 235.1L309.4 234.0L310.3 232.2L311.0 234.0L311.0 235.9L312.3 236.7L312.4 238.8L312.4 240.8L313.4 241.5L314.4 242.6L314.7 244.2L315.5 245.9L316.3 247.1L316.9 248.0L316.4 250.2L316.3 251.5L314.7 253.9L313.4 255.6L311.8 257.0L310.1 258.8L308.6 260.7L306.5 261.4L304.3 262.6L303.6 261.8L303.2 261.7L302.0 262.3L300.5 261.8L299.6 261.0L300.0 259.3L299.3 258.9L299.7 258.0L299.7 256.6L300.1 255.7L298.8 257.2L297.5 258.0L297.0 258.0L297.0 256.1L296.4 255.2L294.4 254.5L291.5 255.0L289.6 255.3L287.4 256.1L286.6 257.1L284.4 257.0L282.8 257.5L281.2 258.3L279.4 258.2L278.8 257.5L279.2 256.6L280.3 255.0L280.4 252.9L280.4 250.4L280.0 249.1L280.6 247.5L280.7 245.9ZM301.8 264.4L303.1 264.8L304.8 264.6L303.9 266.0L302.5 267.1L301.4 267.5L301.1 266.6L301.3 265.6ZM330.8 257.6L331.2 258.8L331.1 260.2L331.6 261.1L333.8 261.2L332.3 262.6L331.2 263.0L330.1 264.2L327.9 265.3L327.7 265.0L328.7 264.0L328.3 263.0L329.8 262.0L330.5 261.0L330.6 259.1ZM326.5 264.2L327.4 264.9L326.4 265.8L324.1 267.4L322.0 268.4L320.3 269.9L318.2 270.7L317.2 270.2L316.7 269.8L319.4 268.1L322.1 266.8L324.1 265.8L325.7 264.5ZM328.7 242.2L329.9 242.9L331.0 244.4L330.5 244.6L329.3 243.6ZM341.9 239.4L343.1 239.5L342.8 240.1L341.7 240.0ZM182.2 178.4L182.3 176.5L183.3 176.1L183.5 177.4L183.4 178.3ZM182.5 175.2L183.1 174.2L183.3 175.3L183.0 175.9ZM186.1 179.5L188.8 179.2L188.5 180.9L187.0 180.4ZM196.1 182.2L198.6 182.4L198.6 182.7L196.2 182.5ZM204.1 182.7L206.0 182.0L205.6 182.8L204.6 183.2ZM65.0 300.9L74.3 300.9L77.5 300.4L81.8 300.1L84.1 299.6L86.1 298.9L89.6 299.1L93.0 298.4L95.8 297.6L100.3 297.6L104.1 298.1L107.0 297.8L109.2 296.8L112.7 297.0L115.4 296.4L119.1 296.8L122.3 296.7L124.3 295.8L124.5 294.3L125.7 293.0L126.4 291.1L127.3 289.5L128.8 288.3L130.7 287.5L133.3 287.5L133.0 288.6L131.9 289.3L131.8 290.7L131.2 291.6L133.0 293.0L133.3 294.8L135.4 296.5L135.5 297.8L138.0 298.7L147.3 300.5L153.5 300.7L157.3 299.1L161.9 297.0L166.9 295.2L171.6 294.3L175.0 293.7L181.9 293.9L188.7 293.9L195.8 293.2L199.3 293.0L202.9 292.5L206.7 291.9L210.6 291.0L214.5 290.2L217.4 291.4L220.9 291.6L223.9 292.5L224.7 293.4L226.7 293.4L229.7 292.1L233.2 291.1L237.7 290.9L242.9 290.5L246.9 290.0L250.2 290.4L253.9 290.2L257.1 290.7L260.4 291.0L264.4 290.5L268.3 290.2L271.9 290.2L274.7 290.9L277.9 291.1L279.9 292.3L282.6 293.0L284.7 293.9L287.1 294.6L289.5 295.2L284.6 297.0L280.4 298.2L276.6 299.9L277.4 300.7L279.2 300.7L285.0 300.9M85.0 151.5L87.0 150.5L89.1 149.9L90.4 150.0L90.3 150.8L88.3 151.5L86.5 151.7ZM86.7 155.6L88.7 154.6L90.9 154.1L92.7 153.9L93.7 153.9L91.6 154.6L89.6 155.2L88.0 155.8ZM89.0 157.9L90.9 157.4L92.9 157.3L91.1 157.6L89.2 158.1ZM94.4 160.1L96.0 158.8L95.8 158.6L94.3 159.6ZM93.3 166.2L94.6 164.7L95.5 162.8L96.5 162.8L96.0 164.7L95.3 166.2ZM97.1 170.2L99.3 169.1L101.4 168.3L102.9 168.5L103.6 169.4L103.2 170.4L101.7 170.4L100.6 170.0L98.8 170.3ZM98.6 175.2L99.5 173.1L101.4 171.2L102.6 171.2L101.0 173.1L99.9 175.2ZM103.2 171.0L104.8 171.2L106.5 172.2L104.5 173.9L103.7 173.9L103.2 173.1L103.8 171.8ZM102.3 175.5L104.7 174.6L106.6 174.4L105.5 175.0L103.0 175.9ZM106.1 173.8L107.8 173.2L109.3 173.1L108.9 173.7L107.1 173.9ZM216.5 170.4L218.5 169.9L219.9 170.4L220.3 172.0L218.8 172.6L218.4 173.6L219.7 174.7L221.1 175.8L222.3 177.4L222.4 179.0L223.2 180.6L221.5 180.9L219.5 180.3L218.4 179.0L218.5 177.2L217.3 175.4L216.1 174.2L215.3 172.6L215.4 171.2ZM224.6 170.4L225.8 170.2L227.3 171.0L227.3 172.6L226.3 173.4L225.2 172.6ZM237.8 171.7L238.6 170.4L240.2 170.2L242.0 170.4L240.4 170.8L238.9 171.3ZM260.2 165.1L261.1 164.7L261.9 163.5L262.1 161.9L262.0 160.9L261.4 161.0L261.6 162.6L261.0 163.9ZM205.5 221.0L206.5 220.1L207.6 220.5L207.4 222.1L206.5 223.2L205.5 222.7ZM202.9 224.3L203.3 225.9L204.0 228.1L204.5 229.9L203.8 229.1L203.1 227.0L202.7 225.4ZM207.3 230.9L207.9 232.4L208.2 234.5L208.3 235.9L207.8 235.1L207.4 232.9ZM187.8 206.5L188.7 205.9L188.8 206.7L188.3 207.0ZM198.2 156.6L198.7 155.4L199.7 155.4L199.9 156.3L199.0 156.7ZM201.0 155.6L201.3 154.3L202.1 154.6L202.0 155.6ZM40.8 163.0L39.1 163.5L37.9 163.9L39.5 163.5ZM35.4 164.3L33.5 164.6L32.1 164.7ZM30.7 164.9L29.4 165.0L28.2 165.3ZM315.2 163.8L317.4 164.3L319.9 164.7ZM322.1 165.2L322.4 165.1M54.0 159.6L56.2 158.6L56.7 158.9L54.5 159.8ZM48.4 153.3L50.1 153.0L50.4 153.4L48.8 153.7ZM47.6 156.4L49.0 156.2L48.5 156.8L47.5 156.8ZM68.1 162.6L69.0 162.7L68.1 164.4L67.5 163.9ZM124.9 275.5L126.6 275.6L127.7 275.9L126.9 276.6L125.2 276.3ZM144.5 278.4L146.2 278.8L145.9 279.2ZM140.1 285.0L141.3 285.1M87.7 220.8L88.1 220.5L88.3 221.5L87.8 221.6ZM28.6 198.6L29.9 199.0L29.8 199.8L28.6 200.3L28.4 199.5ZM25.1 196.4L26.9 197.1L28.1 197.6L28.6 198.3ZM27.1 197.3L27.5 197.5M25.8 196.7L26.2 196.8M232.4 273.2L233.7 273.4L233.1 273.9L232.3 273.8ZM226.8 243.2L227.2 243.4M228.8 242.3L229.2 242.4M225.6 206.9L226.6 206.9L226.5 207.2ZM262.8 205.9L263.1 207.0L263.0 208.1L262.7 207.0ZM275.5 222.3L276.6 223.2L276.8 223.7L275.9 223.0ZM288.1 230.7L289.7 231.5L289.0 231.6ZM295.3 224.0L296.3 224.2L295.8 224.6ZM332.5 236.7L332.9 237.4L333.0 238.3ZM333.3 239.6L333.5 239.9M324.5 228.3L325.8 228.9M328.2 231.6L329.1 232.2M11.5 235.1L12.7 235.5M34.2 239.4L34.6 239.7M300.3 172.6L301.0 171.8L301.7 171.0ZM302.7 170.7L303.2 169.6L303.5 168.3ZM303.4 167.3L303.8 166.5L303.7 165.9ZM293.3 192.3L293.6 191.6M294.1 190.1L294.4 189.8M177.1 177.9L178.0 177.5L177.8 178.0ZM189.3 159.6L189.8 158.7L189.7 159.3ZM183.9 161.3L184.7 160.5L184.9 161.3L184.4 161.8ZM159.5 190.0L160.1 189.8L159.9 190.3ZM161.9 189.8L162.3 189.4M152.6 204.2L152.9 204.4M152.1 179.7L152.6 179.7M159.4 185.1L159.8 185.2M169.6 154.4L170.0 154.6M173.9 156.1L174.1 156.6M168.9 146.3L169.6 146.1M186.8 161.4L187.0 161.5M112.1 160.1L112.6 160.6L112.6 159.8ZM121.5 166.9L123.4 167.5L122.5 167.6ZM120.7 170.1L122.2 170.6L121.5 170.9ZM110.3 176.6L112.0 176.2L111.5 176.5ZM102.4 191.7L103.3 191.9L102.8 193.3ZM102.5 194.1L102.7 194.6L102.3 194.4ZM116.3 209.0L117.1 208.8L117.1 209.6L116.3 209.6ZM126.8 220.7L128.2 220.8L128.5 221.8L127.0 222.1ZM110.4 265.7L111.1 266.0L111.3 267.3L110.6 266.8ZM106.3 148.0L108.3 147.3L108.5 147.8L107.0 148.4ZM108.2 142.8L112.3 141.4L113.6 141.9L112.0 142.8ZM112.6 143.1L115.0 142.3L114.7 143.0ZM97.8 141.9L101.8 140.9L102.1 141.5L99.4 142.1ZM110.6 140.3L114.9 139.4L115.8 140.1L112.2 140.5ZM121.5 144.5L123.9 143.9L124.3 144.6L122.5 144.9ZM113.4 153.9L115.0 153.8L115.4 154.3L113.4 154.4ZM115.1 154.4L115.7 154.4L115.2 155.0ZM108.8 163.6L109.6 163.7L109.2 164.0ZM137.4 147.6L139.4 146.9L139.1 147.7Z" fill="none" stroke="#000" stroke-width="0.75" stroke-linejoin="round"/>
<path d="M266.43 133.50 L269.62 134.38 L273.30 135.58 L277.38 137.05 L281.74 138.77 L286.26 140.69 L290.66 142.76 L294.70 144.90 L298.46 147.12 L302.04 149.40 L305.52 151.74 L308.90 154.14 L312.20 156.59 L315.39 159.08 L318.45 161.61 L321.37 164.17 L324.11 166.77 L326.61 169.39 L328.97 172.03 L331.22 174.69 L333.33 177.37 L335.23 180.05 L336.96 182.74 L338.53 185.44 L339.93 188.14 L341.14 190.83 L342.16 193.53 L343.00 196.23 L343.74 198.92 L344.45 201.62 L345.08 204.32 L345.60 207.01 L346.01 209.71 L346.33 212.41 L346.56 215.11 L346.72 217.80 L346.80 220.50 L346.72 223.20 L346.56 225.89 L346.33 228.59 L346.01 231.29 L345.60 233.99 L345.08 236.68 L344.45 239.38 L343.74 242.08 L343.00 244.77 L342.16 247.47 L341.14 250.17 L339.93 252.86 L338.53 255.56 L336.96 258.26 L335.23 260.95 L333.33 263.63 L331.22 266.31 L328.97 268.97 L326.61 271.61 L324.11 274.23 L321.37 276.83 L318.45 279.39 L315.39 281.92 L312.20 284.41 L308.90 286.86 L305.52 289.26 L302.04 291.60 L298.46 293.88 L294.70 296.10 L290.66 298.24 L286.26 300.31 L281.74 302.23 L277.38 303.95 L273.30 305.42 L269.62 306.62 L266.43 307.50 L83.57 307.50 L80.38 306.62 L76.70 305.42 L72.62 303.95 L68.26 302.23 L63.74 300.31 L59.34 298.24 L55.30 296.10 L51.54 293.88 L47.96 291.60 L44.48 289.26 L41.10 286.86 L37.80 284.41 L34.61 281.92 L31.55 279.39 L28.63 276.83 L25.89 274.23 L23.39 271.61 L21.03 268.97 L18.78 266.31 L16.67 263.63 L14.77 260.95 L13.04 258.26 L11.47 255.56 L10.07 252.86 L8.86 250.17 L7.84 247.47 L7.00 244.77 L6.26 242.08 L5.55 239.38 L4.92 236.68 L4.40 233.99 L3.99 231.29 L3.67 228.59 L3.44 225.89 L3.28 223.20 L3.20 220.50 L3.28 217.80 L3.44 215.11 L3.67 212.41 L3.99 209.71 L4.40 207.01 L4.92 204.32 L5.55 201.62 L6.26 198.92 L7.00 196.23 L7.84 193.53 L8.86 190.83 L10.07 188.14 L11.47 185.44 L13.04 182.74 L14.77 180.05 L16.67 177.37 L18.78 174.69 L21.03 172.03 L23.39 169.39 L25.89 166.77 L28.63 164.17 L31.55 161.61 L34.61 159.08 L37.80 156.59 L41.10 154.14 L44.48 151.74 L47.96 149.40 L51.54 147.12 L55.30 144.90 L59.34 142.76 L63.74 140.69 L68.26 138.77 L72.62 137.05 L76.70 135.58 L80.38 134.38 L83.57 133.50Z" fill="none" stroke="#000" stroke-width="0.7"/>
</g>
<rect x="102.2" y="491.5" width="146" height="11.5" fill="#fff" stroke="#666" stroke-width="1.1"/>
<text x="175.1" y="501" font-size="10.0" text-anchor="middle" textLength="143" lengthAdjust="spacingAndGlyphs">CONSTANT FIELD - VALUE IS .0</text>
<rect x="454.2" y="491.5" width="141.3" height="11.5" fill="#fff" stroke="#666" stroke-width="1.1"/>
<text x="524.75" y="501" font-size="10.0" text-anchor="middle" textLength="138" lengthAdjust="spacingAndGlyphs">CONSTANT FIELD - VALUE IS 1</text>
<rect x="23.00" y="326.75" width="43.39" height="16" fill="#4010F0" stroke="#000" stroke-width="0.6"/>
<rect x="66.39" y="326.75" width="43.39" height="16" fill="#3870E8" stroke="#000" stroke-width="0.6"/>
<rect x="109.79" y="326.75" width="43.39" height="16" fill="#18C0FF" stroke="#000" stroke-width="0.6"/>
<rect x="153.18" y="326.75" width="43.39" height="16" fill="#C8E8F8" stroke="#000" stroke-width="0.6"/>
<rect x="196.57" y="326.75" width="43.39" height="16" fill="#FFB810" stroke="#000" stroke-width="0.6"/>
<rect x="239.96" y="326.75" width="43.39" height="16" fill="#FF3800" stroke="#000" stroke-width="0.6"/>
<rect x="283.36" y="326.75" width="43.39" height="16" fill="#D82828" stroke="#000" stroke-width="0.6"/>
<text x="66.39" y="357.2" font-size="12" text-anchor="middle">0</text>
<text x="109.79" y="357.2" font-size="12" text-anchor="middle">1</text>
<text x="153.18" y="357.2" font-size="12" text-anchor="middle">2</text>
<text x="196.57" y="357.2" font-size="12" text-anchor="middle">3</text>
<text x="239.96" y="357.2" font-size="12" text-anchor="middle">4</text>
<text x="283.36" y="357.2" font-size="12" text-anchor="middle">5</text>
<rect x="373.00" y="326.75" width="43.39" height="16" fill="#4010F0" stroke="#000" stroke-width="0.6"/>
<rect x="416.39" y="326.75" width="43.39" height="16" fill="#3870E8" stroke="#000" stroke-width="0.6"/>
<rect x="459.79" y="326.75" width="43.39" height="16" fill="#18C0FF" stroke="#000" stroke-width="0.6"/>
<rect x="503.18" y="326.75" width="43.39" height="16" fill="#C8E8F8" stroke="#000" stroke-width="0.6"/>
<rect x="546.57" y="326.75" width="43.39" height="16" fill="#FFB810" stroke="#000" stroke-width="0.6"/>
<rect x="589.96" y="326.75" width="43.39" height="16" fill="#FF3800" stroke="#000" stroke-width="0.6"/>
<rect x="633.36" y="326.75" width="43.39" height="16" fill="#D82828" stroke="#000" stroke-width="0.6"/>
<text x="416.39" y="357.2" font-size="12" text-anchor="middle">0</text>
<text x="459.79" y="357.2" font-size="12" text-anchor="middle">1</text>
<text x="503.18" y="357.2" font-size="12" text-anchor="middle">2</text>
<text x="546.57" y="357.2" font-size="12" text-anchor="middle">3</text>
<text x="589.96" y="357.2" font-size="12" text-anchor="middle">4</text>
<text x="633.36" y="357.2" font-size="12" text-anchor="middle">5</text>
<rect x="23.00" y="604.25" width="21.70" height="15.5" fill="#4010F0" stroke="#000" stroke-width="0.6"/>
<rect x="44.70" y="604.25" width="21.70" height="15.5" fill="#1828F0" stroke="#000" stroke-width="0.6"/>
<rect x="66.39" y="604.25" width="21.70" height="15.5" fill="#3868E0" stroke="#000" stroke-width="0.6"/>
<rect x="88.09" y="604.25" width="21.70" height="15.5" fill="#2088F8" stroke="#000" stroke-width="0.6"/>
<rect x="109.79" y="604.25" width="21.70" height="15.5" fill="#08B8FF" stroke="#000" stroke-width="0.6"/>
<rect x="131.48" y="604.25" width="21.70" height="15.5" fill="#60C0F0" stroke="#000" stroke-width="0.6"/>
<rect x="153.18" y="604.25" width="21.70" height="15.5" fill="#B0E0F8" stroke="#000" stroke-width="0.6"/>
<rect x="174.88" y="604.25" width="21.70" height="15.5" fill="#FFFFA0" stroke="#000" stroke-width="0.6"/>
<rect x="196.57" y="604.25" width="21.70" height="15.5" fill="#FFE030" stroke="#000" stroke-width="0.6"/>
<rect x="218.27" y="604.25" width="21.70" height="15.5" fill="#FFB000" stroke="#000" stroke-width="0.6"/>
<rect x="239.96" y="604.25" width="21.70" height="15.5" fill="#FF7800" stroke="#000" stroke-width="0.6"/>
<rect x="261.66" y="604.25" width="21.70" height="15.5" fill="#FF2800" stroke="#000" stroke-width="0.6"/>
<rect x="283.36" y="604.25" width="21.70" height="15.5" fill="#E00000" stroke="#000" stroke-width="0.6"/>
<rect x="305.05" y="604.25" width="21.70" height="15.5" fill="#D82828" stroke="#000" stroke-width="0.6"/>
<text x="44.70" y="633.7" font-size="12" text-anchor="middle">-6</text>
<text x="66.39" y="633.7" font-size="12" text-anchor="middle">-5</text>
<text x="88.09" y="633.7" font-size="12" text-anchor="middle">-4</text>
<text x="109.79" y="633.7" font-size="12" text-anchor="middle">-3</text>
<text x="131.48" y="633.7" font-size="12" text-anchor="middle">-2</text>
<text x="153.18" y="633.7" font-size="12" text-anchor="middle">-1</text>
<text x="174.88" y="633.7" font-size="12" text-anchor="middle">0</text>
<text x="196.57" y="633.7" font-size="12" text-anchor="middle">1</text>
<text x="218.27" y="633.7" font-size="12" text-anchor="middle">2</text>
<text x="239.96" y="633.7" font-size="12" text-anchor="middle">3</text>
<text x="261.66" y="633.7" font-size="12" text-anchor="middle">4</text>
<text x="283.36" y="633.7" font-size="12" text-anchor="middle">5</text>
<text x="305.05" y="633.7" font-size="12" text-anchor="middle">6</text>
</svg></body></html>
